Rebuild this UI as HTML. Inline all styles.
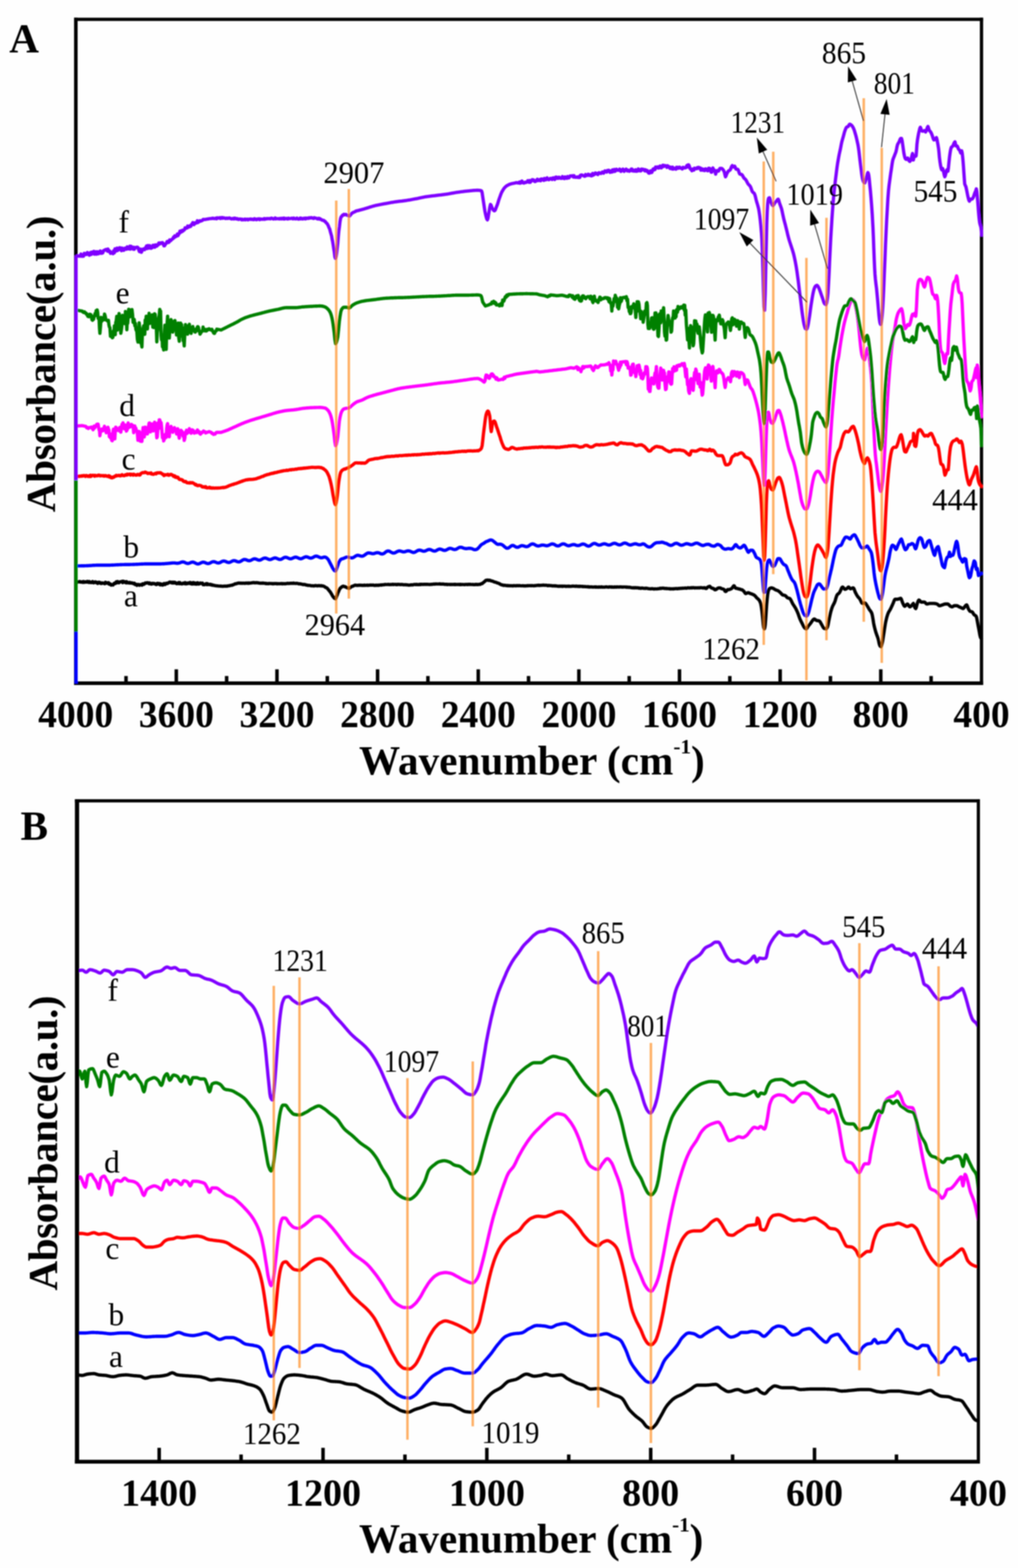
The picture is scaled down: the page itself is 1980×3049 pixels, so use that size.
<!DOCTYPE html>
<html lang="en"><head><meta charset="utf-8"><title>FTIR spectra</title>
<style>html,body{margin:0;padding:0;background:#fff}svg{display:block}</style></head>
<body>
<svg width="1980" height="3049" viewBox="0 0 1980 3049">
<rect width="1980" height="3049" fill="#fefefe"/>
<defs><filter id="soft" x="0" y="0" width="1980" height="3049" filterUnits="userSpaceOnUse"><feGaussianBlur stdDeviation="0.9"/></filter></defs>
<g filter="url(#soft)">
<defs><clipPath id="cA"><rect x="144.1" y="30" width="1768.1" height="1302"/></clipPath><clipPath id="cB"><rect x="146" y="1550" width="1760" height="1296"/></clipPath></defs>
<g id="plotA">
<g fill="#000"><rect x="144.05" y="34.45" width="6.90" height="1297.55"/><rect x="1905.80" y="34.45" width="6.40" height="1297.55"/><rect x="144.05" y="34.45" width="1768.15" height="6.30"/><rect x="144.05" y="1325.00" width="1768.15" height="7.00"/></g>
<line x1="245.1" y1="1328.5" x2="245.1" y2="1314.5" stroke="#000" stroke-width="6.8"/>
<line x1="342.9" y1="1328.5" x2="342.9" y2="1301.5" stroke="#000" stroke-width="6.8"/>
<line x1="440.8" y1="1328.5" x2="440.8" y2="1314.5" stroke="#000" stroke-width="6.8"/>
<line x1="538.7" y1="1328.5" x2="538.7" y2="1301.5" stroke="#000" stroke-width="6.8"/>
<line x1="636.6" y1="1328.5" x2="636.6" y2="1314.5" stroke="#000" stroke-width="6.8"/>
<line x1="734.4" y1="1328.5" x2="734.4" y2="1301.5" stroke="#000" stroke-width="6.8"/>
<line x1="832.3" y1="1328.5" x2="832.3" y2="1314.5" stroke="#000" stroke-width="6.8"/>
<line x1="930.2" y1="1328.5" x2="930.2" y2="1301.5" stroke="#000" stroke-width="6.8"/>
<line x1="1028.0" y1="1328.5" x2="1028.0" y2="1314.5" stroke="#000" stroke-width="6.8"/>
<line x1="1125.9" y1="1328.5" x2="1125.9" y2="1301.5" stroke="#000" stroke-width="6.8"/>
<line x1="1223.8" y1="1328.5" x2="1223.8" y2="1314.5" stroke="#000" stroke-width="6.8"/>
<line x1="1321.6" y1="1328.5" x2="1321.6" y2="1301.5" stroke="#000" stroke-width="6.8"/>
<line x1="1419.5" y1="1328.5" x2="1419.5" y2="1314.5" stroke="#000" stroke-width="6.8"/>
<line x1="1517.4" y1="1328.5" x2="1517.4" y2="1301.5" stroke="#000" stroke-width="6.8"/>
<line x1="1615.2" y1="1328.5" x2="1615.2" y2="1314.5" stroke="#000" stroke-width="6.8"/>
<line x1="1713.1" y1="1328.5" x2="1713.1" y2="1301.5" stroke="#000" stroke-width="6.8"/>
<line x1="1811.0" y1="1328.5" x2="1811.0" y2="1314.5" stroke="#000" stroke-width="6.8"/>
<g fill="none" clip-path="url(#cA)" stroke-width="6.4" stroke-linejoin="round" stroke-linecap="round">
<path d="M150.0 1131.7 L151.2 1131.8 L152.5 1131.5 L153.8 1131.2 L155.0 1130.7 L156.2 1131.8 L157.5 1131.4 L158.8 1132.1 L160.0 1131.2 L161.2 1132.3 L162.5 1130.8 L163.8 1132.4 L165.0 1132.2 L166.2 1131.2 L167.5 1131.6 L168.8 1132.0 L170.0 1130.6 L171.2 1131.7 L172.5 1132.5 L173.8 1130.9 L175.0 1132.6 L176.2 1132.3 L177.5 1132.9 L178.8 1131.5 L180.0 1130.9 L181.2 1133.1 L182.5 1133.3 L183.8 1132.3 L185.0 1131.4 L186.2 1131.8 L187.5 1133.2 L188.8 1132.3 L190.0 1134.4 L191.2 1133.3 L192.5 1132.2 L193.8 1133.6 L195.0 1132.8 L196.2 1134.6 L197.5 1134.5 L198.8 1133.4 L200.0 1133.8 L201.2 1134.0 L202.5 1134.4 L203.8 1135.0 L205.0 1132.2 L206.2 1133.3 L207.5 1134.1 L208.8 1133.3 L210.0 1134.3 L211.2 1133.1 L212.4 1136.1 L213.6 1135.8 L214.9 1135.4 L216.1 1137.7 L217.3 1137.2 L218.5 1137.1 L219.8 1137.5 L221.1 1135.3 L222.4 1134.1 L223.7 1134.8 L225.0 1133.6 L226.2 1131.3 L227.5 1133.4 L228.8 1130.9 L230.0 1131.7 L231.2 1133.2 L232.5 1132.2 L233.8 1131.2 L235.0 1131.3 L236.2 1131.3 L237.5 1130.4 L238.8 1133.0 L240.0 1130.2 L241.2 1131.3 L242.5 1132.3 L243.8 1131.3 L245.0 1133.2 L246.2 1131.1 L247.5 1133.4 L248.8 1133.3 L250.0 1132.8 L251.2 1133.6 L252.5 1132.5 L253.8 1133.8 L255.0 1133.9 L256.2 1133.3 L257.5 1133.6 L258.8 1134.7 L260.0 1134.4 L261.2 1134.0 L262.5 1136.5 L263.8 1135.7 L265.0 1136.8 L266.2 1138.2 L267.5 1136.7 L268.8 1136.5 L270.0 1136.9 L271.2 1138.2 L272.5 1137.3 L273.8 1136.6 L275.0 1136.8 L276.2 1137.8 L277.5 1135.3 L278.8 1135.2 L280.0 1136.2 L281.2 1135.0 L282.5 1133.6 L283.8 1134.0 L285.0 1133.9 L286.2 1132.9 L287.5 1133.7 L288.8 1133.5 L290.0 1135.1 L291.2 1133.7 L292.5 1134.8 L293.8 1135.9 L295.0 1135.8 L296.2 1134.3 L297.5 1135.1 L298.8 1134.4 L300.0 1134.7 L301.2 1135.1 L302.5 1136.1 L303.8 1136.7 L305.0 1134.9 L306.2 1134.3 L307.5 1135.7 L308.8 1134.7 L310.0 1134.8 L311.2 1137.1 L312.5 1135.3 L313.8 1137.1 L315.0 1136.1 L316.2 1137.7 L317.5 1137.3 L318.8 1134.6 L320.0 1134.7 L321.2 1136.5 L322.5 1135.1 L323.8 1134.1 L325.0 1134.8 L326.2 1134.5 L327.5 1133.2 L328.8 1133.0 L330.0 1131.8 L331.2 1132.6 L332.5 1132.0 L333.8 1133.5 L335.0 1133.5 L336.2 1132.2 L337.5 1133.7 L338.8 1132.2 L340.0 1132.3 L341.2 1134.0 L342.5 1133.6 L343.8 1135.0 L345.0 1134.2 L346.2 1134.5 L347.5 1132.8 L348.8 1135.0 L350.0 1132.8 L351.2 1134.4 L352.5 1135.2 L353.8 1135.2 L355.0 1135.2 L356.2 1133.9 L357.5 1134.6 L358.8 1134.9 L360.0 1132.9 L361.2 1135.3 L362.5 1135.2 L363.8 1133.8 L365.0 1134.8 L366.2 1133.8 L367.5 1133.3 L368.8 1134.6 L370.0 1132.7 L371.2 1134.9 L372.5 1135.5 L373.8 1133.4 L375.0 1135.4 L376.2 1132.9 L377.5 1135.3 L378.8 1133.6 L380.0 1135.7 L381.2 1134.2 L382.5 1135.8 L383.8 1133.2 L385.0 1133.4 L386.2 1135.7 L387.5 1135.2 L388.8 1135.0 L390.0 1133.6 L391.2 1134.1 L392.5 1134.8 L393.8 1133.9 L395.0 1136.9 L396.2 1136.3 L397.5 1137.0 L398.8 1136.4 L400.0 1135.4 L401.2 1134.8 L402.5 1136.9 L403.8 1135.2 L405.0 1136.6 L406.2 1136.6 L407.5 1136.9 L408.8 1136.1 L410.0 1136.5 L411.2 1137.6 L412.5 1137.1 L413.8 1138.1 L415.0 1137.9 L416.2 1138.3 L417.5 1138.5 L418.8 1138.9 L420.0 1139.0 L421.2 1139.1 L422.5 1139.2 L423.8 1139.4 L425.0 1139.6 L426.2 1139.6 L427.5 1139.6 L428.8 1139.7 L430.0 1139.7 L431.2 1139.9 L432.5 1140.1 L433.8 1140.0 L435.0 1139.8 L436.2 1139.9 L437.5 1139.8 L438.8 1139.8 L440.0 1139.6 L441.2 1139.9 L442.5 1139.4 L443.8 1139.2 L445.0 1139.1 L446.2 1138.8 L447.5 1138.7 L448.8 1138.1 L450.0 1138.1 L451.2 1138.1 L452.5 1137.2 L453.8 1137.1 L455.0 1136.5 L456.2 1135.8 L457.5 1135.3 L458.8 1135.4 L460.0 1134.6 L461.2 1134.6 L462.5 1134.0 L463.8 1134.0 L465.0 1133.7 L466.2 1134.0 L467.5 1134.2 L468.8 1133.8 L470.0 1134.0 L471.2 1134.3 L472.5 1133.9 L473.8 1134.0 L475.0 1134.2 L476.2 1134.3 L477.5 1133.8 L478.8 1134.1 L480.0 1133.7 L481.2 1133.7 L482.5 1134.3 L483.8 1133.5 L485.0 1134.0 L486.2 1133.8 L487.5 1133.6 L488.8 1133.5 L490.0 1133.4 L491.2 1133.0 L492.5 1133.0 L493.8 1132.8 L495.0 1133.3 L496.2 1133.2 L497.5 1133.3 L498.8 1132.9 L500.0 1133.3 L501.2 1133.1 L502.5 1133.6 L503.8 1133.7 L505.0 1134.0 L506.2 1133.9 L507.5 1134.0 L508.8 1134.1 L510.0 1133.7 L511.2 1134.1 L512.5 1133.8 L513.8 1134.1 L515.0 1134.1 L516.2 1134.7 L517.5 1134.2 L518.8 1134.9 L520.0 1135.0 L521.2 1134.7 L522.5 1135.0 L523.8 1134.5 L525.0 1134.6 L526.2 1134.6 L527.5 1134.7 L528.8 1134.6 L530.0 1135.2 L531.2 1134.7 L532.5 1135.1 L533.8 1134.8 L535.0 1134.7 L536.2 1134.9 L537.5 1134.8 L538.8 1135.3 L540.0 1134.9 L541.2 1135.1 L542.5 1135.0 L543.8 1135.1 L545.0 1135.0 L546.2 1134.8 L547.5 1134.7 L548.8 1135.3 L550.0 1134.8 L551.2 1135.0 L552.5 1135.2 L553.8 1135.0 L555.0 1135.2 L556.2 1135.0 L557.5 1134.7 L558.8 1134.3 L560.0 1134.6 L561.2 1134.4 L562.5 1134.6 L563.8 1134.3 L565.0 1134.3 L566.2 1134.3 L567.5 1134.0 L568.8 1134.3 L570.0 1134.3 L571.2 1133.8 L572.5 1134.4 L573.8 1134.4 L575.0 1134.5 L576.2 1134.3 L577.5 1134.4 L578.8 1134.5 L580.0 1134.8 L581.2 1135.4 L582.5 1135.2 L583.8 1135.2 L585.0 1135.6 L586.2 1135.7 L587.5 1136.2 L588.8 1136.5 L590.0 1136.8 L591.2 1136.4 L592.5 1136.8 L593.8 1136.8 L595.0 1137.5 L596.2 1137.7 L597.5 1137.7 L598.8 1138.2 L600.0 1138.1 L601.2 1138.4 L602.5 1138.4 L603.8 1138.5 L605.0 1139.1 L606.2 1139.1 L607.5 1139.0 L608.8 1139.2 L610.0 1139.1 L611.2 1139.2 L612.5 1138.7 L613.8 1138.7 L615.0 1138.7 L616.2 1139.1 L617.5 1139.2 L618.8 1138.8 L620.0 1139.0 L621.2 1138.7 L622.5 1139.1 L623.8 1139.2 L625.0 1138.7 L626.2 1139.4 L627.5 1139.5 L628.8 1139.5 L630.0 1140.1 L631.2 1140.6 L632.5 1141.7 L633.8 1142.5 L635.0 1142.8 L636.2 1143.7 L637.5 1145.2 L638.8 1146.8 L640.0 1148.3 L641.2 1149.8 L642.5 1151.2 L643.8 1153.5 L645.1 1155.6 L646.4 1158.1 L647.7 1160.0 L649.0 1161.7 L650.2 1163.0 L651.3 1163.7 L652.5 1164.3 L653.7 1162.5 L654.8 1159.2 L656.0 1156.8 L657.2 1153.1 L658.5 1150.4 L659.8 1147.1 L661.0 1144.7 L662.3 1143.3 L663.6 1142.3 L664.9 1140.9 L666.2 1140.4 L667.5 1139.7 L668.8 1140.4 L670.0 1140.4 L671.2 1141.3 L672.5 1141.3 L673.7 1142.1 L674.9 1142.7 L676.1 1143.3 L677.3 1143.5 L678.5 1144.0 L679.8 1143.9 L681.1 1142.5 L682.4 1141.7 L683.7 1140.4 L685.0 1140.3 L686.2 1139.9 L687.5 1139.2 L688.8 1138.6 L690.0 1138.0 L691.2 1137.8 L692.5 1138.1 L693.8 1138.2 L695.0 1138.3 L696.3 1138.3 L697.6 1138.0 L698.8 1137.8 L700.1 1138.0 L701.4 1137.9 L702.6 1138.0 L703.9 1138.3 L705.1 1138.0 L706.4 1138.3 L707.7 1138.2 L708.9 1137.7 L710.2 1138.2 L711.5 1138.1 L712.7 1138.1 L714.0 1137.7 L715.2 1138.3 L716.5 1138.0 L717.8 1138.0 L719.0 1137.8 L720.2 1137.7 L721.5 1137.7 L722.8 1137.8 L724.0 1137.9 L725.2 1137.8 L726.5 1137.7 L727.8 1138.2 L729.0 1138.1 L730.2 1138.3 L731.5 1137.8 L732.8 1138.2 L734.0 1138.1 L735.2 1137.7 L736.5 1138.2 L737.8 1137.8 L739.0 1137.5 L740.2 1137.4 L741.5 1137.8 L742.8 1137.2 L744.0 1137.2 L745.2 1137.1 L746.5 1136.9 L747.8 1137.0 L749.0 1136.4 L750.2 1136.6 L751.5 1136.6 L752.8 1136.6 L754.0 1136.6 L755.2 1136.3 L756.5 1136.6 L757.8 1136.8 L759.0 1136.5 L760.2 1136.6 L761.5 1136.7 L762.8 1136.3 L764.0 1136.3 L765.2 1136.8 L766.5 1136.4 L767.8 1136.4 L769.0 1136.4 L770.2 1136.8 L771.5 1136.5 L772.8 1136.8 L774.0 1136.3 L775.2 1136.4 L776.5 1136.6 L777.8 1136.5 L779.0 1136.8 L780.2 1136.7 L781.5 1136.5 L782.8 1136.6 L784.0 1137.0 L785.2 1137.1 L786.5 1137.0 L787.8 1137.1 L789.0 1137.0 L790.2 1137.2 L791.5 1137.3 L792.8 1137.4 L794.0 1137.6 L795.2 1137.7 L796.5 1137.6 L797.8 1137.6 L799.0 1137.2 L800.2 1137.3 L801.5 1137.3 L802.8 1137.4 L804.0 1136.8 L805.2 1136.6 L806.5 1136.5 L807.8 1136.7 L809.0 1136.9 L810.2 1136.3 L811.5 1136.7 L812.8 1136.6 L814.0 1136.8 L815.2 1136.8 L816.5 1136.2 L817.8 1136.7 L819.0 1136.2 L820.2 1136.2 L821.5 1136.4 L822.8 1136.5 L824.0 1136.2 L825.2 1136.3 L826.5 1136.3 L827.8 1136.2 L829.0 1136.2 L830.2 1136.2 L831.5 1136.3 L832.8 1136.4 L834.0 1136.4 L835.2 1136.6 L836.5 1136.5 L837.8 1136.4 L839.0 1136.2 L840.2 1136.3 L841.5 1136.0 L842.8 1135.9 L844.0 1135.7 L845.2 1136.0 L846.5 1135.6 L847.8 1135.5 L849.0 1135.6 L850.2 1135.6 L851.5 1135.6 L852.8 1135.6 L854.0 1135.6 L855.2 1135.3 L856.5 1135.8 L857.8 1135.8 L859.0 1135.6 L860.2 1135.7 L861.5 1135.9 L862.8 1135.6 L864.0 1136.1 L865.2 1136.4 L866.5 1136.1 L867.8 1136.3 L869.0 1136.2 L870.2 1136.7 L871.5 1136.4 L872.8 1136.4 L874.0 1136.6 L875.2 1136.4 L876.5 1136.8 L877.8 1136.4 L879.0 1136.6 L880.2 1136.4 L881.5 1136.6 L882.8 1136.5 L884.0 1136.2 L885.2 1136.8 L886.5 1136.3 L887.8 1136.6 L889.0 1136.6 L890.2 1136.5 L891.5 1136.4 L892.8 1136.5 L894.0 1136.8 L895.2 1136.2 L896.5 1136.8 L897.8 1136.6 L899.0 1136.5 L900.2 1136.6 L901.5 1136.6 L902.8 1136.7 L904.0 1136.8 L905.2 1136.5 L906.5 1136.4 L907.8 1136.4 L909.0 1136.8 L910.2 1136.5 L911.5 1136.2 L912.8 1136.6 L914.0 1136.2 L915.2 1136.4 L916.5 1136.6 L917.8 1136.6 L919.0 1136.5 L920.2 1136.7 L921.5 1136.6 L922.8 1136.8 L924.0 1136.7 L925.2 1136.3 L926.5 1136.7 L927.8 1136.4 L929.0 1136.8 L930.2 1136.6 L931.5 1136.4 L932.8 1136.2 L934.0 1136.4 L935.2 1135.6 L936.5 1134.8 L937.8 1134.8 L939.0 1133.7 L940.2 1132.8 L941.5 1131.6 L942.8 1130.7 L944.0 1129.3 L945.2 1128.4 L946.5 1128.3 L947.8 1128.0 L949.0 1127.9 L950.2 1128.7 L951.5 1128.3 L952.8 1128.4 L954.0 1128.8 L955.2 1129.6 L956.5 1129.6 L957.8 1130.0 L959.0 1130.5 L960.2 1131.0 L961.5 1131.7 L962.8 1132.0 L964.0 1132.2 L965.2 1132.5 L966.5 1133.4 L967.8 1133.6 L969.0 1134.0 L970.2 1134.3 L971.5 1135.4 L972.8 1135.7 L974.0 1136.6 L975.2 1137.0 L976.5 1137.5 L977.8 1137.4 L979.0 1138.3 L980.2 1138.4 L981.5 1138.0 L982.8 1138.1 L984.0 1138.6 L985.2 1138.7 L986.5 1138.5 L987.8 1139.1 L989.0 1138.6 L990.2 1139.0 L991.5 1139.0 L992.8 1138.9 L994.0 1139.1 L995.2 1139.0 L996.5 1139.2 L997.8 1139.2 L999.0 1138.7 L1000.2 1138.9 L1001.5 1139.0 L1002.8 1138.9 L1004.0 1139.1 L1005.2 1138.7 L1006.5 1138.7 L1007.8 1139.0 L1009.0 1138.8 L1010.2 1138.8 L1011.5 1138.9 L1012.8 1139.1 L1014.0 1139.1 L1015.2 1139.1 L1016.5 1139.0 L1017.8 1139.0 L1019.0 1139.3 L1020.2 1139.3 L1021.5 1139.3 L1022.8 1139.3 L1024.0 1139.1 L1025.2 1138.8 L1026.5 1139.1 L1027.8 1138.8 L1029.0 1138.9 L1030.2 1138.9 L1031.5 1138.7 L1032.8 1139.0 L1034.0 1138.8 L1035.2 1138.8 L1036.5 1138.9 L1037.8 1139.1 L1039.0 1139.0 L1040.2 1138.6 L1041.5 1138.8 L1042.8 1138.5 L1044.0 1138.4 L1045.2 1138.3 L1046.5 1138.2 L1047.8 1138.0 L1049.0 1138.5 L1050.2 1138.2 L1051.5 1138.2 L1052.8 1138.1 L1054.0 1138.0 L1055.2 1138.1 L1056.5 1137.7 L1057.8 1137.8 L1059.0 1138.1 L1060.2 1138.1 L1061.5 1137.9 L1062.8 1138.1 L1064.0 1138.2 L1065.2 1138.8 L1066.5 1138.8 L1067.8 1138.3 L1069.0 1138.6 L1070.2 1138.7 L1071.5 1138.6 L1072.8 1138.8 L1074.0 1139.3 L1075.2 1139.4 L1076.5 1139.0 L1077.8 1139.4 L1079.0 1139.0 L1080.2 1139.5 L1081.5 1139.2 L1082.8 1139.6 L1084.0 1139.7 L1085.2 1140.0 L1086.5 1139.8 L1087.8 1140.1 L1089.0 1139.7 L1090.2 1140.0 L1091.5 1139.8 L1092.8 1139.7 L1094.0 1140.3 L1095.2 1139.7 L1096.5 1139.9 L1097.8 1139.9 L1099.0 1139.8 L1100.2 1140.2 L1101.5 1140.2 L1102.8 1139.9 L1104.0 1140.0 L1105.2 1140.2 L1106.5 1139.7 L1107.8 1140.1 L1109.0 1140.2 L1110.2 1140.1 L1111.5 1140.0 L1112.8 1139.8 L1114.0 1139.8 L1115.2 1139.8 L1116.5 1139.9 L1117.8 1139.9 L1119.0 1140.2 L1120.2 1139.8 L1121.5 1139.8 L1122.8 1140.3 L1124.0 1140.1 L1125.2 1139.9 L1126.5 1140.5 L1127.8 1140.0 L1129.0 1140.2 L1130.2 1140.3 L1131.5 1140.4 L1132.8 1140.3 L1134.0 1140.8 L1135.2 1140.6 L1136.5 1140.5 L1137.8 1140.8 L1139.0 1140.7 L1140.2 1140.9 L1141.5 1141.0 L1142.8 1140.8 L1144.0 1141.3 L1145.2 1140.9 L1146.5 1141.5 L1147.8 1141.3 L1149.0 1141.4 L1150.2 1141.2 L1151.5 1141.5 L1152.8 1141.4 L1154.0 1141.6 L1155.2 1141.6 L1156.5 1141.2 L1157.8 1141.2 L1159.0 1141.8 L1160.2 1141.3 L1161.5 1141.6 L1162.8 1141.7 L1164.0 1141.7 L1165.2 1141.2 L1166.5 1141.6 L1167.8 1141.7 L1169.0 1141.2 L1170.2 1141.2 L1171.5 1141.8 L1172.8 1141.6 L1174.0 1141.6 L1175.2 1141.7 L1176.5 1141.6 L1177.8 1141.3 L1179.0 1141.3 L1180.2 1141.2 L1181.5 1141.6 L1182.8 1141.6 L1184.0 1141.8 L1185.2 1141.3 L1186.5 1141.3 L1187.8 1141.4 L1189.0 1141.8 L1190.2 1141.3 L1191.5 1141.8 L1192.8 1141.6 L1194.0 1141.7 L1195.2 1141.2 L1196.5 1141.7 L1197.8 1141.4 L1199.0 1141.7 L1200.2 1141.2 L1201.5 1141.4 L1202.8 1141.5 L1204.0 1141.3 L1205.2 1141.5 L1206.5 1141.2 L1207.8 1141.3 L1209.0 1141.6 L1210.2 1141.4 L1211.5 1141.8 L1212.8 1141.4 L1214.0 1141.4 L1215.2 1141.4 L1216.5 1141.6 L1217.8 1141.5 L1219.0 1142.0 L1220.2 1141.6 L1221.5 1141.9 L1222.8 1142.2 L1224.0 1141.9 L1225.2 1142.0 L1226.5 1142.4 L1227.8 1142.7 L1229.0 1142.8 L1230.2 1143.0 L1231.5 1143.0 L1232.8 1142.6 L1234.0 1143.3 L1235.2 1142.8 L1236.5 1142.8 L1237.8 1143.2 L1239.0 1142.9 L1240.2 1143.0 L1241.5 1143.2 L1242.8 1143.8 L1244.0 1143.4 L1245.2 1143.8 L1246.5 1144.0 L1247.8 1143.5 L1249.0 1143.5 L1250.2 1143.6 L1251.5 1144.0 L1252.8 1144.1 L1254.0 1143.9 L1255.2 1144.3 L1256.5 1143.8 L1257.8 1143.9 L1259.0 1144.2 L1260.2 1144.5 L1261.5 1144.7 L1262.8 1144.9 L1264.0 1144.9 L1265.2 1145.0 L1266.5 1144.8 L1267.8 1144.8 L1269.0 1144.6 L1270.2 1145.0 L1271.5 1145.3 L1272.8 1145.2 L1274.0 1145.0 L1275.2 1145.1 L1276.5 1145.1 L1277.8 1145.1 L1279.0 1144.8 L1280.2 1144.6 L1281.5 1144.7 L1282.8 1144.5 L1284.0 1143.8 L1285.2 1144.4 L1286.5 1143.9 L1287.7 1143.7 L1288.8 1143.9 L1290.0 1143.8 L1291.2 1143.8 L1292.3 1144.4 L1293.5 1144.2 L1294.7 1144.1 L1295.8 1144.6 L1297.0 1144.3 L1298.2 1144.5 L1299.5 1144.6 L1300.8 1144.6 L1302.0 1145.0 L1303.2 1144.7 L1304.5 1145.2 L1305.8 1145.0 L1307.0 1145.0 L1308.2 1144.9 L1309.5 1145.3 L1310.8 1144.8 L1312.0 1144.8 L1313.2 1144.7 L1314.5 1144.5 L1315.8 1144.4 L1317.0 1144.8 L1318.2 1144.8 L1319.5 1144.3 L1320.8 1144.3 L1322.0 1144.5 L1323.2 1143.9 L1324.5 1144.0 L1325.8 1144.2 L1327.0 1143.8 L1328.2 1143.8 L1329.5 1143.9 L1330.8 1143.6 L1332.0 1143.5 L1333.2 1143.3 L1334.5 1143.9 L1335.8 1143.7 L1337.0 1143.2 L1338.2 1143.0 L1339.5 1143.2 L1340.8 1143.2 L1342.0 1143.4 L1343.2 1143.0 L1344.5 1142.8 L1345.8 1143.3 L1347.0 1142.8 L1348.2 1142.8 L1349.5 1142.8 L1350.7 1143.3 L1351.9 1143.3 L1353.2 1142.9 L1354.4 1143.1 L1355.6 1143.2 L1356.9 1143.0 L1358.1 1143.2 L1359.3 1142.9 L1360.6 1143.2 L1361.8 1142.8 L1363.0 1142.8 L1364.3 1142.8 L1365.5 1142.9 L1366.7 1143.4 L1368.0 1142.9 L1369.2 1143.2 L1370.4 1142.8 L1371.5 1143.7 L1372.5 1144.1 L1373.5 1144.4 L1374.5 1144.0 L1375.6 1142.1 L1376.6 1141.7 L1377.9 1140.7 L1379.1 1140.9 L1380.4 1140.1 L1381.4 1140.9 L1382.5 1142.3 L1383.5 1143.1 L1384.8 1143.8 L1386.0 1143.6 L1387.3 1144.5 L1388.5 1144.6 L1389.6 1146.2 L1390.8 1146.9 L1391.9 1146.7 L1393.2 1146.1 L1394.5 1144.9 L1395.8 1144.0 L1397.0 1143.5 L1398.3 1143.1 L1399.6 1143.2 L1400.8 1143.3 L1401.9 1143.6 L1403.1 1144.7 L1404.2 1144.9 L1405.5 1145.1 L1406.8 1145.7 L1408.1 1146.0 L1409.1 1147.5 L1410.1 1149.5 L1411.1 1150.2 L1412.4 1149.8 L1413.7 1148.2 L1415.0 1146.7 L1416.1 1146.5 L1417.3 1146.6 L1418.4 1146.3 L1419.6 1146.0 L1420.7 1145.6 L1421.9 1145.0 L1423.0 1144.4 L1424.2 1143.0 L1425.2 1141.9 L1426.2 1140.0 L1427.3 1139.0 L1428.3 1139.6 L1429.3 1141.8 L1430.3 1143.4 L1431.5 1144.0 L1432.6 1144.0 L1433.8 1144.2 L1434.9 1144.8 L1436.1 1144.8 L1437.2 1145.4 L1438.4 1145.4 L1439.5 1145.7 L1440.8 1146.4 L1442.1 1146.6 L1443.4 1146.9 L1444.7 1147.8 L1445.9 1148.9 L1447.2 1150.3 L1448.2 1151.8 L1449.3 1153.4 L1450.3 1154.2 L1451.4 1153.9 L1452.6 1153.3 L1453.7 1152.8 L1454.9 1152.5 L1456.0 1152.7 L1457.2 1153.1 L1458.3 1153.7 L1459.5 1154.2 L1460.7 1154.5 L1461.8 1154.9 L1463.0 1155.3 L1464.1 1155.8 L1465.4 1156.4 L1466.7 1157.1 L1467.9 1158.0 L1469.2 1159.3 L1470.5 1160.9 L1471.8 1162.4 L1472.9 1163.5 L1474.1 1164.4 L1475.2 1165.5 L1476.4 1166.8 L1477.4 1168.4 L1478.4 1170.5 L1479.5 1173.4 L1480.6 1179.1 L1481.8 1187.2 L1482.8 1196.3 L1483.8 1206.4 L1484.5 1214.5 L1485.3 1220.2 L1486.1 1222.1 L1486.8 1222.9 L1487.6 1220.2 L1488.4 1214.7 L1489.3 1203.6 L1490.2 1189.9 L1491.1 1176.6 L1492.1 1165.2 L1493.1 1156.2 L1494.1 1150.3 L1495.2 1146.7 L1496.4 1144.8 L1497.6 1143.9 L1498.9 1143.4 L1500.2 1143.2 L1501.5 1143.3 L1502.8 1143.7 L1504.0 1144.2 L1505.2 1144.8 L1506.3 1145.6 L1507.5 1146.4 L1508.6 1147.0 L1509.8 1147.4 L1510.9 1147.8 L1512.1 1148.2 L1513.2 1148.7 L1514.4 1149.4 L1515.6 1150.4 L1516.7 1151.4 L1517.9 1152.5 L1519.0 1153.7 L1520.2 1155.0 L1521.3 1156.2 L1522.5 1156.9 L1523.6 1157.2 L1524.8 1157.5 L1525.9 1157.7 L1527.1 1158.0 L1528.2 1158.8 L1529.4 1160.1 L1530.5 1161.5 L1531.7 1162.4 L1532.8 1162.9 L1534.0 1163.2 L1535.1 1163.5 L1536.3 1164.0 L1537.4 1165.3 L1538.6 1167.3 L1539.8 1169.8 L1541.0 1172.3 L1542.1 1174.5 L1543.3 1176.3 L1544.4 1178.0 L1545.6 1179.8 L1546.7 1181.7 L1547.9 1183.7 L1549.0 1186.0 L1550.2 1188.4 L1551.3 1191.0 L1552.5 1194.0 L1553.6 1197.3 L1554.8 1200.7 L1555.9 1203.7 L1557.1 1206.2 L1558.2 1208.6 L1559.4 1210.8 L1560.5 1213.0 L1561.8 1215.7 L1563.1 1218.3 L1564.4 1220.2 L1565.7 1221.5 L1566.9 1222.5 L1568.2 1222.9 L1569.5 1221.8 L1570.8 1219.6 L1572.1 1217.4 L1573.3 1215.9 L1574.6 1214.5 L1575.9 1213.0 L1577.2 1211.2 L1578.5 1209.2 L1579.7 1207.5 L1581.0 1205.8 L1582.3 1204.3 L1583.6 1203.7 L1584.7 1204.0 L1585.9 1204.8 L1587.0 1205.8 L1588.2 1206.4 L1589.3 1206.7 L1590.3 1206.8 L1591.4 1207.0 L1592.5 1207.2 L1593.6 1207.5 L1594.7 1208.5 L1595.9 1210.4 L1597.0 1212.6 L1598.2 1214.7 L1599.3 1216.7 L1600.5 1218.8 L1601.6 1220.7 L1602.8 1221.8 L1604.1 1222.4 L1605.3 1222.7 L1606.6 1222.9 L1607.6 1222.3 L1608.7 1220.6 L1609.7 1218.5 L1610.7 1214.7 L1611.7 1209.1 L1612.8 1203.7 L1613.8 1198.8 L1614.8 1194.1 L1615.8 1189.9 L1616.9 1186.2 L1617.9 1182.9 L1618.9 1180.0 L1620.1 1177.4 L1621.2 1175.3 L1622.4 1173.1 L1623.5 1170.7 L1624.7 1167.2 L1625.8 1163.2 L1627.0 1159.5 L1628.1 1156.9 L1629.3 1155.5 L1630.4 1154.6 L1631.6 1153.7 L1632.7 1152.5 L1633.9 1150.4 L1635.2 1147.5 L1636.4 1144.6 L1637.6 1142.4 L1638.9 1141.5 L1640.0 1142.2 L1641.2 1143.7 L1642.3 1145.2 L1643.5 1145.9 L1644.8 1145.6 L1646.0 1145.0 L1647.3 1144.2 L1648.3 1143.3 L1649.4 1142.1 L1650.4 1141.5 L1651.7 1142.4 L1652.9 1143.9 L1654.2 1144.8 L1655.3 1144.6 L1656.4 1144.2 L1657.4 1143.7 L1658.5 1143.3 L1659.6 1143.2 L1660.9 1144.7 L1662.2 1148.1 L1663.4 1151.4 L1664.6 1153.6 L1665.7 1155.8 L1666.9 1157.9 L1668.0 1159.7 L1669.2 1161.1 L1670.3 1162.4 L1671.5 1163.7 L1672.6 1165.2 L1673.8 1167.4 L1675.0 1170.1 L1676.1 1172.4 L1677.3 1173.4 L1678.4 1173.2 L1679.6 1172.8 L1680.7 1172.5 L1681.9 1172.3 L1683.0 1172.9 L1684.2 1174.2 L1685.3 1176.0 L1686.5 1177.8 L1687.6 1179.6 L1688.8 1181.5 L1689.9 1183.6 L1691.1 1185.5 L1692.2 1187.1 L1693.4 1188.6 L1694.5 1190.3 L1695.7 1192.7 L1696.8 1197.2 L1698.0 1204.0 L1699.1 1211.3 L1700.3 1217.4 L1701.6 1222.5 L1702.8 1227.0 L1704.1 1231.2 L1705.4 1234.8 L1706.7 1238.3 L1708.0 1242.2 L1709.0 1246.6 L1710.0 1251.5 L1711.0 1254.8 L1712.2 1256.7 L1713.3 1257.5 L1714.5 1255.5 L1715.6 1251.5 L1716.7 1246.7 L1717.7 1240.4 L1718.7 1233.9 L1719.7 1227.5 L1720.7 1220.8 L1721.7 1214.5 L1722.7 1209.2 L1723.9 1204.1 L1725.0 1199.6 L1726.2 1195.8 L1727.3 1192.7 L1728.5 1190.2 L1729.6 1188.3 L1730.8 1186.4 L1731.9 1184.4 L1733.1 1182.0 L1734.2 1179.5 L1735.4 1177.0 L1736.5 1174.5 L1737.7 1171.7 L1738.8 1168.6 L1740.0 1166.2 L1741.1 1165.2 L1742.3 1165.2 L1743.4 1165.2 L1744.6 1165.2 L1745.7 1165.2 L1747.0 1165.0 L1748.2 1164.6 L1749.4 1164.1 L1750.7 1163.7 L1751.9 1163.5 L1753.2 1165.2 L1754.4 1168.9 L1755.7 1172.3 L1757.0 1175.1 L1758.3 1177.7 L1759.6 1178.9 L1760.6 1178.4 L1761.7 1177.4 L1762.8 1176.0 L1763.9 1175.0 L1764.9 1174.5 L1766.1 1175.4 L1767.2 1177.2 L1768.4 1179.1 L1769.5 1180.0 L1770.7 1179.6 L1771.9 1178.7 L1773.0 1177.4 L1774.2 1176.2 L1775.3 1174.5 L1776.5 1173.4 L1777.6 1176.2 L1778.8 1180.0 L1779.9 1182.2 L1781.1 1183.3 L1782.1 1181.3 L1783.1 1177.1 L1784.1 1173.4 L1785.2 1170.5 L1786.2 1167.9 L1787.2 1166.8 L1788.4 1167.4 L1789.5 1168.7 L1790.7 1170.0 L1791.8 1170.7 L1793.0 1170.7 L1794.3 1170.7 L1795.5 1170.7 L1796.7 1170.7 L1798.0 1170.7 L1799.1 1171.3 L1800.3 1172.6 L1801.4 1173.9 L1802.6 1174.5 L1803.8 1174.4 L1805.0 1174.1 L1806.2 1173.8 L1807.5 1173.5 L1808.7 1173.4 L1810.0 1173.4 L1811.3 1173.4 L1812.5 1173.4 L1813.8 1173.4 L1815.1 1173.4 L1816.4 1173.4 L1817.6 1173.5 L1818.8 1173.6 L1820.1 1173.9 L1821.3 1174.2 L1822.5 1174.5 L1823.7 1175.2 L1824.8 1176.3 L1826.0 1177.3 L1827.1 1177.8 L1828.4 1177.7 L1829.6 1177.4 L1830.8 1177.0 L1832.0 1176.5 L1833.3 1176.2 L1834.4 1175.8 L1835.4 1175.3 L1836.5 1174.9 L1837.6 1174.6 L1838.7 1174.5 L1839.8 1174.5 L1841.0 1174.5 L1842.1 1174.5 L1843.3 1174.5 L1844.3 1174.9 L1845.4 1175.8 L1846.5 1177.0 L1847.6 1178.1 L1848.6 1178.9 L1849.7 1179.4 L1850.7 1179.8 L1851.7 1180.0 L1852.9 1179.7 L1854.0 1178.9 L1855.2 1178.1 L1856.3 1177.8 L1857.5 1177.8 L1858.6 1177.8 L1859.8 1177.8 L1860.9 1177.8 L1862.1 1178.0 L1863.2 1178.6 L1864.4 1179.4 L1865.5 1180.0 L1866.8 1180.6 L1868.1 1181.1 L1869.4 1181.7 L1870.6 1182.3 L1871.9 1183.0 L1873.2 1183.3 L1874.5 1182.4 L1875.8 1180.6 L1877.0 1178.9 L1878.1 1177.7 L1879.1 1176.6 L1880.1 1176.2 L1881.1 1177.6 L1882.2 1180.6 L1883.2 1183.3 L1884.5 1185.6 L1885.7 1187.6 L1887.0 1188.8 L1888.3 1189.2 L1889.6 1189.5 L1890.9 1189.9 L1892.1 1191.3 L1893.4 1193.6 L1894.7 1195.4 L1896.0 1196.3 L1897.3 1197.0 L1898.5 1198.2 L1899.6 1201.2 L1900.6 1206.4 L1901.6 1211.9 L1902.6 1217.3 L1903.7 1222.9 L1904.7 1228.4 L1905.8 1234.7 L1907.0 1239.4 L1908.0 1241.0 L1909.0 1242.2" stroke="#000000"/>
<path d="M150.0 1100.5 L151.2 1100.5 L152.5 1100.4 L153.8 1100.4 L155.0 1100.4 L156.2 1100.4 L157.5 1100.3 L158.8 1100.3 L160.0 1100.3 L161.2 1100.2 L162.5 1100.2 L163.8 1100.2 L165.0 1100.1 L166.2 1100.1 L167.5 1100.1 L168.8 1100.0 L170.0 1100.0 L171.2 1100.0 L172.5 1099.9 L173.8 1099.8 L175.0 1099.8 L176.2 1099.7 L177.5 1099.6 L178.8 1099.5 L180.0 1099.4 L181.2 1099.3 L182.5 1099.3 L183.8 1099.2 L185.0 1099.1 L186.2 1099.1 L187.5 1099.0 L188.8 1099.0 L190.0 1099.0 L191.2 1099.0 L192.5 1099.0 L193.8 1099.0 L195.0 1099.0 L196.2 1099.0 L197.5 1099.0 L198.8 1099.0 L200.0 1099.0 L201.2 1099.0 L202.5 1099.0 L203.8 1099.0 L205.0 1099.0 L206.2 1099.0 L207.5 1099.0 L208.8 1099.0 L210.0 1099.0 L211.2 1099.0 L212.5 1099.0 L213.8 1099.0 L215.0 1098.9 L216.2 1098.9 L217.5 1098.8 L218.8 1098.8 L220.0 1098.7 L221.2 1098.6 L222.5 1098.6 L223.8 1098.5 L225.0 1098.4 L226.2 1098.4 L227.5 1098.3 L228.8 1098.2 L230.0 1098.2 L231.2 1098.1 L232.5 1098.1 L233.8 1098.0 L235.0 1098.0 L236.2 1098.0 L237.5 1097.9 L238.8 1097.9 L240.0 1097.9 L241.2 1097.9 L242.5 1097.8 L243.8 1097.8 L245.0 1097.8 L246.2 1097.8 L247.5 1097.7 L248.8 1097.7 L250.0 1097.7 L251.2 1097.7 L252.5 1097.7 L253.8 1097.6 L255.0 1097.6 L256.2 1097.6 L257.5 1097.6 L258.8 1097.5 L260.0 1097.5 L261.2 1097.5 L262.5 1097.4 L263.8 1097.4 L265.0 1097.3 L266.2 1097.2 L267.5 1097.2 L268.8 1097.1 L270.0 1097.1 L271.2 1097.0 L272.5 1096.9 L273.8 1096.9 L275.0 1096.8 L276.2 1096.7 L277.5 1096.7 L278.8 1096.6 L280.0 1096.6 L281.2 1096.5 L282.5 1096.5 L283.8 1096.5 L285.0 1096.5 L286.2 1096.5 L287.5 1096.5 L288.8 1096.5 L290.0 1096.5 L291.2 1096.5 L292.5 1096.5 L293.8 1096.5 L295.0 1096.5 L296.2 1096.5 L297.5 1096.5 L298.8 1096.5 L300.0 1096.5 L301.2 1096.5 L302.5 1096.5 L303.8 1096.5 L305.0 1096.5 L306.2 1096.5 L307.5 1096.5 L308.8 1096.5 L310.0 1096.5 L311.2 1096.5 L312.5 1096.5 L313.8 1096.4 L315.0 1096.4 L316.2 1096.3 L317.5 1096.3 L318.8 1096.2 L320.0 1096.1 L321.2 1096.0 L322.5 1095.9 L323.8 1095.8 L325.0 1095.7 L326.2 1095.6 L327.5 1095.5 L328.8 1095.4 L330.0 1095.3 L331.2 1095.2 L332.5 1095.0 L333.8 1094.9 L335.0 1094.7 L336.2 1094.6 L337.5 1094.6 L338.8 1094.6 L340.0 1094.7 L341.2 1094.9 L342.5 1095.1 L343.8 1095.2 L345.0 1095.3 L346.2 1095.2 L347.5 1095.0 L348.8 1094.7 L350.0 1094.2 L351.2 1093.8 L352.5 1093.3 L353.8 1092.9 L355.0 1092.7 L356.2 1092.7 L357.5 1093.0 L358.8 1093.4 L360.0 1094.0 L361.2 1094.6 L362.5 1095.2 L363.8 1095.5 L365.0 1095.7 L366.2 1095.6 L367.5 1095.3 L368.8 1094.9 L370.0 1094.4 L371.2 1093.8 L372.5 1093.4 L373.8 1093.1 L375.0 1093.0 L376.2 1093.2 L377.5 1093.7 L378.8 1094.2 L380.0 1094.9 L381.2 1095.6 L382.5 1096.1 L383.8 1096.5 L385.0 1096.6 L386.2 1096.5 L387.5 1096.1 L388.8 1095.6 L390.0 1094.9 L391.2 1094.3 L392.5 1093.7 L393.8 1093.3 L395.0 1093.2 L396.2 1093.2 L397.5 1093.5 L398.8 1094.0 L400.0 1094.5 L401.2 1095.1 L402.5 1095.5 L403.8 1095.8 L405.0 1095.9 L406.2 1095.7 L407.5 1095.3 L408.8 1094.7 L410.0 1094.0 L411.2 1093.3 L412.5 1092.7 L413.8 1092.3 L415.0 1092.1 L416.2 1092.2 L417.5 1092.4 L418.8 1092.9 L420.0 1093.4 L421.2 1093.9 L422.5 1094.4 L423.8 1094.6 L425.0 1094.7 L426.2 1094.5 L427.5 1094.1 L428.8 1093.5 L430.0 1092.8 L431.2 1092.1 L432.5 1091.5 L433.8 1091.1 L435.0 1090.9 L436.2 1091.0 L437.5 1091.3 L438.8 1091.7 L440.0 1092.3 L441.2 1092.9 L442.5 1093.3 L443.8 1093.6 L445.0 1093.7 L446.2 1093.6 L447.5 1093.2 L448.8 1092.6 L450.0 1092.0 L451.2 1091.3 L452.5 1090.7 L453.8 1090.3 L455.0 1090.2 L456.2 1090.2 L457.5 1090.5 L458.8 1091.0 L460.0 1091.5 L461.2 1092.0 L462.5 1092.4 L463.8 1092.6 L465.0 1092.6 L466.2 1092.3 L467.5 1091.8 L468.8 1091.1 L470.0 1090.3 L471.2 1089.5 L472.5 1088.8 L473.8 1088.2 L475.0 1087.9 L476.2 1087.9 L477.5 1088.1 L478.8 1088.5 L480.0 1089.0 L481.2 1089.5 L482.5 1090.0 L483.8 1090.2 L485.0 1090.3 L486.2 1090.1 L487.5 1089.7 L488.8 1089.1 L490.0 1088.5 L491.2 1087.8 L492.5 1087.2 L493.8 1086.8 L495.0 1086.7 L496.2 1086.7 L497.5 1087.0 L498.8 1087.5 L500.0 1088.0 L501.2 1088.5 L502.5 1089.0 L503.8 1089.2 L505.0 1089.2 L506.2 1089.0 L507.5 1088.5 L508.8 1087.8 L510.0 1087.1 L511.2 1086.4 L512.5 1085.7 L513.8 1085.3 L515.0 1085.1 L516.2 1085.1 L517.5 1085.4 L518.8 1085.9 L520.0 1086.5 L521.2 1087.1 L522.5 1087.6 L523.8 1088.0 L525.0 1088.1 L526.2 1088.0 L527.5 1087.6 L528.8 1087.1 L530.0 1086.5 L531.2 1085.9 L532.5 1085.4 L533.8 1085.0 L535.0 1084.9 L536.2 1085.0 L537.5 1085.4 L538.8 1085.9 L540.0 1086.5 L541.2 1087.1 L542.5 1087.6 L543.8 1087.8 L545.0 1087.9 L546.2 1087.6 L547.5 1087.2 L548.8 1086.5 L550.0 1085.8 L551.2 1085.0 L552.5 1084.3 L553.8 1083.9 L555.0 1083.6 L556.2 1083.7 L557.5 1083.9 L558.8 1084.4 L560.0 1085.0 L561.2 1085.6 L562.5 1086.1 L563.8 1086.5 L565.0 1086.6 L566.2 1086.5 L567.5 1086.1 L568.8 1085.6 L570.0 1085.0 L571.2 1084.4 L572.5 1083.9 L573.8 1083.5 L575.0 1083.4 L576.2 1083.5 L577.5 1083.9 L578.8 1084.4 L580.0 1085.0 L581.2 1085.6 L582.5 1086.1 L583.8 1086.4 L585.0 1086.5 L586.2 1086.3 L587.5 1085.9 L588.8 1085.3 L590.0 1084.6 L591.2 1084.0 L592.5 1083.4 L593.8 1082.9 L595.0 1082.7 L596.2 1082.8 L597.5 1083.0 L598.8 1083.5 L600.0 1084.0 L601.2 1084.5 L602.5 1085.0 L603.8 1085.2 L605.0 1085.2 L606.2 1085.0 L607.5 1084.5 L608.8 1083.9 L610.0 1083.2 L611.2 1082.5 L612.5 1081.9 L613.8 1081.5 L615.0 1081.4 L616.2 1081.5 L617.5 1081.9 L618.8 1082.4 L620.0 1083.0 L621.2 1083.6 L622.5 1084.1 L623.8 1084.5 L625.0 1084.6 L626.2 1084.5 L627.5 1084.1 L628.8 1083.7 L630.0 1083.4 L631.2 1083.3 L632.5 1083.4 L633.8 1083.8 L635.0 1084.5 L636.2 1085.6 L637.5 1086.9 L638.8 1088.6 L640.0 1090.8 L641.2 1093.2 L642.5 1095.8 L643.8 1098.3 L645.0 1100.6 L646.2 1102.9 L647.5 1105.4 L648.8 1107.5 L650.0 1109.0 L651.2 1110.0 L652.5 1110.4 L653.7 1108.8 L654.8 1105.7 L656.0 1102.5 L657.0 1099.7 L658.0 1096.5 L659.0 1093.5 L660.0 1091.5 L661.2 1089.8 L662.5 1088.2 L663.8 1087.1 L665.0 1086.6 L666.2 1086.5 L667.5 1086.1 L668.8 1085.6 L670.0 1085.0 L671.2 1084.4 L672.5 1083.9 L673.8 1083.5 L675.0 1083.2 L676.2 1083.2 L677.5 1083.3 L678.8 1083.6 L680.0 1084.0 L681.2 1084.4 L682.5 1084.8 L683.8 1084.9 L685.0 1084.8 L686.2 1084.5 L687.5 1083.9 L688.8 1083.2 L690.0 1082.4 L691.2 1081.5 L692.5 1080.8 L693.8 1080.2 L695.0 1079.9 L696.3 1079.8 L697.5 1080.0 L698.8 1080.3 L700.1 1080.7 L701.4 1081.1 L702.6 1081.4 L703.9 1081.5 L705.2 1081.4 L706.5 1081.0 L707.7 1080.3 L709.0 1079.5 L710.2 1078.6 L711.5 1077.6 L712.8 1076.7 L714.0 1076.0 L715.2 1075.4 L716.5 1075.2 L717.8 1075.1 L719.0 1075.3 L720.2 1075.6 L721.5 1075.9 L722.8 1076.3 L724.0 1076.5 L725.2 1076.6 L726.5 1076.5 L727.8 1076.3 L729.0 1075.9 L730.2 1075.4 L731.5 1075.0 L732.8 1074.7 L734.0 1074.6 L735.2 1074.7 L736.5 1075.0 L737.8 1075.4 L739.0 1076.0 L740.2 1076.6 L741.5 1077.0 L742.8 1077.2 L744.0 1077.1 L745.2 1076.8 L746.5 1076.2 L747.8 1075.4 L749.0 1074.4 L750.2 1073.4 L751.5 1072.5 L752.8 1071.9 L754.0 1071.5 L755.2 1071.4 L756.5 1071.6 L757.8 1072.1 L759.0 1072.8 L760.2 1073.5 L761.5 1074.2 L762.8 1074.8 L764.0 1075.3 L765.2 1075.4 L766.5 1075.4 L767.8 1075.0 L769.0 1074.5 L770.2 1073.8 L771.5 1073.1 L772.8 1072.4 L774.0 1071.8 L775.2 1071.5 L776.5 1071.3 L777.8 1071.4 L779.0 1071.7 L780.2 1072.0 L781.5 1072.4 L782.8 1072.8 L784.0 1073.0 L785.2 1073.1 L786.5 1073.0 L787.8 1072.8 L789.0 1072.4 L790.2 1071.9 L791.5 1071.5 L792.8 1071.2 L794.0 1071.1 L795.2 1071.2 L796.5 1071.5 L797.8 1071.9 L799.0 1072.5 L800.2 1073.1 L801.5 1073.6 L802.8 1074.1 L804.0 1074.2 L805.2 1074.2 L806.5 1073.9 L807.8 1073.3 L809.0 1072.6 L810.2 1071.8 L811.5 1071.1 L812.8 1070.4 L814.0 1070.0 L815.2 1069.8 L816.5 1069.8 L817.8 1070.0 L819.0 1070.4 L820.2 1070.8 L821.5 1071.3 L822.8 1071.6 L824.0 1071.8 L825.2 1071.8 L826.5 1071.5 L827.8 1071.1 L829.0 1070.5 L830.2 1069.9 L831.5 1069.3 L832.8 1068.8 L834.0 1068.5 L835.2 1068.4 L836.5 1068.6 L837.8 1069.0 L839.0 1069.5 L840.2 1070.1 L841.5 1070.7 L842.8 1071.2 L844.0 1071.5 L845.2 1071.6 L846.5 1071.4 L847.8 1070.9 L849.0 1070.3 L850.2 1069.6 L851.5 1068.9 L852.8 1068.3 L854.0 1067.9 L855.2 1067.7 L856.5 1067.8 L857.8 1068.1 L859.0 1068.5 L860.2 1069.0 L861.5 1069.6 L862.8 1070.0 L864.0 1070.2 L865.2 1070.2 L866.5 1070.0 L867.8 1069.5 L869.0 1068.9 L870.2 1068.2 L871.5 1067.5 L872.8 1066.9 L874.0 1066.5 L875.2 1066.3 L876.5 1066.4 L877.8 1066.6 L879.0 1067.1 L880.2 1067.5 L881.5 1068.0 L882.8 1068.4 L884.0 1068.5 L885.2 1068.5 L886.5 1068.2 L887.8 1067.7 L889.0 1067.0 L890.2 1066.2 L891.5 1065.5 L892.8 1064.8 L894.0 1064.4 L895.2 1064.1 L896.5 1064.1 L897.8 1064.4 L899.0 1064.8 L900.2 1065.3 L901.5 1065.8 L902.8 1066.2 L904.0 1066.5 L905.2 1066.7 L906.5 1066.7 L907.8 1066.7 L909.0 1066.6 L910.2 1066.4 L911.5 1066.2 L912.8 1066.1 L914.0 1066.2 L915.2 1066.3 L916.5 1066.6 L917.8 1066.9 L919.0 1067.4 L920.2 1068.0 L921.5 1068.5 L922.8 1068.8 L924.0 1068.9 L925.2 1068.8 L926.5 1068.4 L927.8 1067.8 L929.0 1067.0 L930.2 1065.9 L931.5 1064.5 L932.8 1063.0 L934.0 1061.5 L935.2 1060.2 L936.5 1059.0 L937.8 1058.1 L939.0 1057.5 L940.2 1056.9 L941.5 1056.1 L942.8 1055.2 L944.0 1054.2 L945.2 1053.4 L946.5 1052.9 L947.8 1052.5 L949.0 1052.0 L950.2 1051.4 L951.5 1050.8 L952.8 1050.3 L954.0 1050.0 L955.2 1050.0 L956.5 1050.3 L957.8 1050.9 L959.0 1051.8 L960.2 1052.7 L961.5 1053.7 L962.8 1054.8 L964.0 1055.9 L965.2 1056.9 L966.5 1057.8 L967.8 1058.3 L969.0 1058.5 L970.2 1058.4 L971.5 1058.3 L972.8 1058.3 L974.0 1058.4 L975.2 1058.7 L976.5 1059.3 L977.8 1060.0 L979.0 1061.0 L980.2 1062.1 L981.5 1063.3 L982.8 1064.3 L984.0 1065.2 L985.2 1065.8 L986.5 1066.0 L987.8 1065.9 L989.0 1065.5 L990.2 1064.7 L991.5 1063.7 L992.8 1062.7 L994.0 1061.7 L995.2 1061.0 L996.5 1060.6 L997.8 1060.6 L999.0 1061.0 L1000.2 1061.7 L1001.5 1062.5 L1002.8 1063.2 L1004.0 1063.8 L1005.2 1064.1 L1006.5 1064.2 L1007.8 1064.0 L1009.0 1063.5 L1010.2 1062.9 L1011.5 1062.2 L1012.8 1061.6 L1014.0 1061.2 L1015.2 1061.0 L1016.5 1061.1 L1017.8 1061.3 L1019.0 1061.7 L1020.2 1062.1 L1021.5 1062.6 L1022.8 1062.9 L1024.0 1063.0 L1025.2 1062.9 L1026.5 1062.5 L1027.8 1061.9 L1029.0 1061.1 L1030.2 1060.2 L1031.5 1059.3 L1032.8 1058.5 L1034.0 1058.0 L1035.2 1057.7 L1036.5 1057.7 L1037.8 1058.0 L1039.0 1058.5 L1040.2 1059.2 L1041.5 1059.9 L1042.8 1060.6 L1044.0 1061.2 L1045.2 1061.5 L1046.5 1061.7 L1047.8 1061.6 L1049.0 1061.3 L1050.2 1061.0 L1051.5 1060.6 L1052.8 1060.2 L1054.0 1060.0 L1055.2 1059.9 L1056.5 1059.9 L1057.8 1060.1 L1059.0 1060.4 L1060.2 1060.7 L1061.5 1061.0 L1062.8 1061.2 L1064.0 1061.2 L1065.2 1061.0 L1066.5 1060.6 L1067.8 1060.1 L1069.0 1059.5 L1070.2 1058.9 L1071.5 1058.3 L1072.8 1057.9 L1074.0 1057.7 L1075.2 1057.8 L1076.5 1058.1 L1077.8 1058.6 L1079.0 1059.2 L1080.2 1060.0 L1081.5 1060.7 L1082.8 1061.2 L1084.0 1061.5 L1085.2 1061.6 L1086.5 1061.4 L1087.8 1060.9 L1089.0 1060.2 L1090.2 1059.5 L1091.5 1058.8 L1092.8 1058.2 L1094.0 1057.7 L1095.2 1057.6 L1096.5 1057.6 L1097.8 1058.0 L1099.0 1058.5 L1100.2 1059.2 L1101.5 1059.8 L1102.8 1060.5 L1104.0 1060.9 L1105.2 1061.2 L1106.5 1061.2 L1107.8 1061.0 L1109.0 1060.6 L1110.2 1060.1 L1111.5 1059.7 L1112.8 1059.3 L1114.0 1059.0 L1115.2 1058.9 L1116.5 1059.0 L1117.8 1059.2 L1119.0 1059.6 L1120.2 1060.1 L1121.5 1060.5 L1122.8 1060.8 L1124.0 1060.9 L1125.2 1060.8 L1126.5 1060.5 L1127.8 1060.1 L1129.0 1059.5 L1130.2 1058.9 L1131.5 1058.4 L1132.8 1058.0 L1134.0 1057.9 L1135.2 1058.0 L1136.5 1058.3 L1137.8 1058.9 L1139.0 1059.6 L1140.2 1060.4 L1141.5 1061.1 L1142.8 1061.7 L1144.0 1062.0 L1145.2 1062.0 L1146.5 1061.7 L1147.8 1061.1 L1149.0 1060.3 L1150.2 1059.4 L1151.5 1058.5 L1152.8 1057.7 L1154.0 1057.1 L1155.2 1056.8 L1156.5 1056.8 L1157.8 1057.0 L1159.0 1057.5 L1160.2 1058.1 L1161.5 1058.8 L1162.8 1059.4 L1164.0 1059.8 L1165.2 1060.0 L1166.5 1059.9 L1167.8 1059.7 L1169.0 1059.2 L1170.2 1058.7 L1171.5 1058.2 L1172.8 1057.8 L1174.0 1057.5 L1175.2 1057.4 L1176.5 1057.5 L1177.8 1057.8 L1179.0 1058.2 L1180.2 1058.7 L1181.5 1059.2 L1182.8 1059.6 L1184.0 1059.8 L1185.2 1059.8 L1186.5 1059.5 L1187.8 1059.1 L1189.0 1058.5 L1190.2 1057.9 L1191.5 1057.3 L1192.8 1056.8 L1194.0 1056.5 L1195.2 1056.4 L1196.5 1056.6 L1197.8 1057.0 L1199.0 1057.5 L1200.2 1058.1 L1201.5 1058.7 L1202.8 1059.2 L1204.0 1059.5 L1205.2 1059.6 L1206.5 1059.4 L1207.8 1059.0 L1209.0 1058.4 L1210.2 1057.7 L1211.5 1057.0 L1212.8 1056.5 L1214.0 1056.1 L1215.2 1056.0 L1216.5 1056.1 L1217.8 1056.5 L1219.0 1057.0 L1220.2 1057.7 L1221.5 1058.3 L1222.8 1059.0 L1224.0 1059.4 L1225.2 1059.7 L1226.5 1059.7 L1227.8 1059.5 L1229.0 1059.1 L1230.2 1058.6 L1231.5 1058.2 L1232.8 1057.8 L1234.0 1057.5 L1235.2 1057.4 L1236.5 1057.5 L1237.8 1057.7 L1239.0 1058.1 L1240.2 1058.6 L1241.5 1059.0 L1242.8 1059.3 L1244.0 1059.4 L1245.2 1059.3 L1246.5 1059.0 L1247.8 1058.6 L1249.0 1058.0 L1250.2 1057.6 L1251.5 1057.6 L1252.8 1058.0 L1254.0 1058.7 L1255.2 1059.7 L1256.5 1060.7 L1257.8 1061.7 L1259.0 1062.5 L1260.2 1063.1 L1261.5 1063.5 L1262.8 1063.7 L1264.0 1063.6 L1265.2 1063.3 L1266.5 1062.6 L1267.8 1061.7 L1269.0 1060.6 L1270.2 1059.4 L1271.5 1058.3 L1272.8 1057.3 L1274.0 1056.5 L1275.2 1055.9 L1276.5 1055.5 L1277.8 1055.2 L1279.0 1055.1 L1280.2 1055.1 L1281.5 1055.0 L1282.8 1055.0 L1284.0 1054.9 L1285.2 1054.7 L1286.5 1054.4 L1287.6 1054.3 L1288.8 1054.5 L1289.9 1054.8 L1291.1 1055.3 L1292.2 1055.7 L1293.4 1056.1 L1294.5 1056.4 L1295.8 1056.7 L1297.0 1057.2 L1298.2 1057.9 L1299.5 1058.6 L1300.8 1059.3 L1302.0 1059.9 L1303.2 1060.3 L1304.5 1060.5 L1305.8 1060.4 L1307.0 1060.0 L1308.2 1059.5 L1309.5 1058.8 L1310.8 1058.0 L1312.0 1057.3 L1313.2 1056.8 L1314.5 1056.5 L1315.8 1056.5 L1317.0 1056.7 L1318.2 1057.2 L1319.5 1057.8 L1320.8 1058.5 L1322.0 1059.2 L1323.2 1059.7 L1324.5 1060.1 L1325.8 1060.2 L1327.0 1060.0 L1328.2 1059.7 L1329.5 1059.2 L1330.8 1058.6 L1332.0 1058.1 L1333.2 1057.6 L1334.5 1057.3 L1335.8 1057.2 L1337.0 1057.3 L1338.2 1057.6 L1339.5 1058.0 L1340.8 1058.4 L1342.0 1058.8 L1343.2 1059.1 L1344.5 1059.2 L1345.8 1059.1 L1347.0 1058.8 L1348.2 1058.3 L1349.5 1057.8 L1350.8 1057.2 L1352.0 1056.6 L1353.2 1056.2 L1354.5 1056.1 L1355.8 1056.1 L1357.0 1056.4 L1358.2 1057.0 L1359.5 1057.6 L1360.8 1058.3 L1362.0 1058.9 L1363.2 1059.5 L1364.4 1060.1 L1365.6 1060.5 L1366.8 1060.7 L1368.0 1060.7 L1369.2 1060.4 L1370.4 1059.9 L1371.6 1059.4 L1372.7 1059.0 L1373.9 1058.7 L1375.0 1058.6 L1376.2 1058.5 L1377.3 1058.4 L1378.5 1058.5 L1379.6 1058.9 L1380.9 1059.6 L1382.1 1060.3 L1383.3 1061.0 L1384.6 1061.4 L1385.8 1061.7 L1386.9 1061.9 L1388.1 1062.0 L1389.2 1062.0 L1390.4 1061.6 L1391.6 1060.8 L1392.9 1060.0 L1394.1 1059.2 L1395.3 1058.7 L1396.5 1058.7 L1397.7 1059.1 L1398.8 1059.6 L1400.0 1060.2 L1401.1 1060.7 L1402.3 1061.7 L1403.4 1063.2 L1404.6 1064.7 L1405.8 1065.8 L1407.0 1066.5 L1408.2 1067.2 L1409.4 1067.6 L1410.7 1067.9 L1411.9 1067.8 L1413.1 1067.5 L1414.4 1067.1 L1415.6 1066.9 L1416.8 1066.8 L1418.0 1066.9 L1419.2 1067.1 L1420.3 1067.3 L1421.5 1067.5 L1422.6 1067.5 L1423.9 1067.1 L1425.2 1066.0 L1426.5 1064.7 L1427.6 1063.2 L1428.8 1061.3 L1429.9 1059.7 L1431.1 1059.1 L1432.4 1060.0 L1433.6 1061.9 L1434.9 1063.4 L1436.1 1064.2 L1437.2 1064.9 L1438.4 1065.4 L1439.5 1065.6 L1440.8 1065.2 L1442.1 1064.4 L1443.4 1063.4 L1444.7 1062.2 L1445.9 1060.8 L1447.2 1060.2 L1448.4 1060.9 L1449.5 1062.8 L1450.7 1065.1 L1451.8 1067.2 L1453.1 1069.9 L1454.4 1072.6 L1455.7 1073.8 L1456.9 1072.8 L1458.2 1071.0 L1459.5 1070.0 L1460.8 1070.0 L1462.1 1070.0 L1463.3 1070.0 L1464.6 1070.9 L1465.9 1073.0 L1467.2 1075.4 L1468.5 1078.2 L1469.7 1081.4 L1471.0 1083.6 L1472.2 1084.5 L1473.3 1085.1 L1474.5 1085.6 L1475.6 1086.3 L1476.6 1087.0 L1477.7 1087.8 L1478.7 1089.0 L1479.8 1092.0 L1481.0 1097.2 L1481.9 1106.4 L1482.8 1119.0 L1483.6 1130.6 L1484.4 1140.8 L1485.1 1148.1 L1485.9 1151.7 L1487.1 1151.7 L1488.4 1140.8 L1489.3 1128.8 L1490.2 1116.3 L1491.1 1105.2 L1492.1 1097.2 L1493.1 1093.0 L1494.1 1090.7 L1495.2 1089.5 L1496.4 1089.0 L1497.4 1090.1 L1498.4 1092.3 L1499.4 1094.5 L1500.7 1097.4 L1502.0 1100.3 L1503.3 1101.6 L1504.3 1101.4 L1505.3 1100.8 L1506.3 1100.0 L1507.6 1097.9 L1508.9 1094.8 L1510.2 1091.8 L1511.2 1089.5 L1512.2 1087.3 L1513.2 1086.3 L1514.3 1086.3 L1515.3 1086.3 L1516.3 1086.3 L1517.6 1087.3 L1518.9 1089.6 L1520.2 1091.8 L1521.4 1093.8 L1522.7 1095.7 L1524.0 1097.2 L1525.1 1098.0 L1526.3 1098.5 L1527.5 1099.1 L1528.6 1100.0 L1529.8 1101.8 L1530.9 1104.6 L1532.1 1107.8 L1533.2 1110.8 L1534.4 1113.6 L1535.5 1116.4 L1536.7 1119.2 L1537.8 1121.8 L1538.7 1123.7 L1539.7 1125.6 L1540.6 1127.2 L1541.7 1128.7 L1542.9 1129.8 L1544.0 1131.0 L1545.2 1132.7 L1546.3 1135.1 L1547.5 1138.4 L1548.6 1142.3 L1549.8 1146.3 L1550.9 1150.7 L1552.1 1155.6 L1553.3 1160.6 L1554.4 1165.3 L1555.6 1169.7 L1556.7 1173.9 L1557.9 1177.9 L1559.0 1181.7 L1560.3 1185.8 L1561.6 1189.6 L1562.8 1192.6 L1563.9 1194.5 L1564.9 1196.0 L1565.9 1197.0 L1566.9 1197.5 L1568.0 1197.9 L1569.0 1198.0 L1570.0 1197.2 L1571.0 1195.1 L1572.1 1192.6 L1573.1 1189.6 L1574.1 1185.7 L1575.1 1181.7 L1576.4 1176.4 L1577.7 1170.7 L1579.0 1165.3 L1580.3 1160.4 L1581.5 1155.7 L1582.8 1151.7 L1584.1 1148.7 L1585.4 1146.0 L1586.7 1143.5 L1587.9 1140.8 L1589.2 1138.1 L1590.5 1136.5 L1591.5 1135.9 L1592.5 1135.5 L1593.6 1135.4 L1594.8 1136.2 L1596.1 1137.9 L1597.4 1139.7 L1598.6 1141.3 L1599.7 1143.1 L1600.9 1144.6 L1602.0 1145.2 L1603.2 1145.2 L1604.3 1145.2 L1605.5 1145.2 L1606.6 1145.2 L1607.6 1144.0 L1608.7 1141.3 L1609.7 1138.1 L1610.7 1134.2 L1611.7 1129.3 L1612.8 1124.5 L1613.9 1119.7 L1615.1 1115.0 L1616.2 1110.3 L1617.4 1105.4 L1618.5 1100.0 L1619.7 1094.3 L1620.8 1088.7 L1622.0 1083.6 L1623.1 1078.8 L1624.3 1074.1 L1625.4 1070.1 L1626.6 1067.2 L1627.7 1065.4 L1628.9 1063.8 L1630.0 1062.6 L1631.2 1061.8 L1632.3 1061.3 L1633.5 1061.0 L1634.6 1060.7 L1635.8 1060.2 L1636.9 1058.7 L1638.1 1056.1 L1639.2 1053.3 L1640.4 1050.9 L1641.6 1048.8 L1642.7 1046.7 L1643.9 1045.0 L1645.0 1044.4 L1646.2 1044.5 L1647.3 1044.7 L1648.5 1045.0 L1649.6 1045.5 L1650.9 1046.4 L1652.2 1047.6 L1653.5 1048.2 L1654.7 1047.0 L1656.0 1044.6 L1657.3 1042.7 L1658.4 1041.8 L1659.6 1040.9 L1660.7 1040.2 L1661.9 1040.0 L1663.2 1040.9 L1664.5 1043.1 L1665.7 1045.5 L1667.0 1047.9 L1668.3 1050.8 L1669.6 1053.6 L1670.9 1056.6 L1672.1 1059.5 L1673.4 1061.8 L1674.7 1063.6 L1676.0 1065.0 L1677.3 1065.6 L1678.4 1065.5 L1679.6 1065.3 L1680.7 1064.9 L1681.9 1064.5 L1683.0 1063.9 L1684.2 1063.0 L1685.3 1062.2 L1686.5 1061.8 L1687.7 1062.8 L1689.0 1064.9 L1690.3 1067.2 L1691.5 1068.9 L1692.6 1070.6 L1693.8 1072.6 L1694.9 1075.4 L1695.9 1080.0 L1697.0 1086.9 L1698.0 1094.5 L1699.0 1103.4 L1700.0 1113.3 L1701.1 1121.8 L1702.1 1127.9 L1703.1 1133.2 L1704.1 1138.1 L1705.4 1144.0 L1706.7 1149.6 L1708.0 1154.5 L1709.0 1158.2 L1710.0 1161.6 L1711.0 1163.7 L1712.2 1164.9 L1713.3 1165.3 L1714.5 1163.0 L1715.6 1158.3 L1716.7 1152.8 L1717.7 1145.6 L1718.7 1138.1 L1719.9 1128.1 L1721.2 1119.0 L1722.5 1112.8 L1723.7 1107.7 L1725.0 1102.7 L1726.3 1097.4 L1727.6 1092.1 L1728.9 1086.3 L1729.9 1080.7 L1730.9 1074.7 L1731.9 1070.0 L1733.2 1065.4 L1734.5 1061.7 L1735.8 1060.2 L1736.8 1060.4 L1737.8 1061.0 L1738.8 1061.8 L1740.1 1063.9 L1741.4 1066.9 L1742.7 1068.3 L1743.7 1067.1 L1744.7 1064.5 L1745.7 1061.8 L1747.0 1059.0 L1748.3 1056.2 L1749.6 1053.6 L1750.8 1051.3 L1751.9 1049.1 L1753.1 1048.2 L1754.2 1050.1 L1755.4 1054.1 L1756.5 1058.0 L1757.6 1061.4 L1758.8 1064.9 L1759.9 1067.7 L1761.1 1068.9 L1762.4 1068.2 L1763.7 1066.6 L1764.9 1064.5 L1766.1 1061.3 L1767.2 1059.1 L1768.3 1059.1 L1769.3 1059.1 L1770.3 1059.1 L1771.3 1058.5 L1772.4 1057.5 L1773.4 1056.9 L1774.7 1057.2 L1775.9 1058.0 L1777.2 1059.1 L1778.4 1061.7 L1779.6 1065.4 L1780.8 1067.2 L1781.6 1066.0 L1782.5 1063.2 L1783.4 1060.2 L1784.4 1056.4 L1785.4 1052.2 L1786.4 1049.3 L1787.5 1047.4 L1788.5 1046.0 L1789.5 1045.5 L1790.5 1045.8 L1791.6 1046.8 L1792.6 1048.2 L1793.6 1051.0 L1794.6 1055.3 L1795.7 1059.1 L1796.8 1062.6 L1798.0 1064.5 L1799.0 1064.1 L1800.0 1063.1 L1801.0 1061.8 L1802.1 1059.3 L1803.1 1056.0 L1804.1 1053.6 L1805.4 1052.3 L1806.7 1051.3 L1807.9 1050.9 L1809.0 1052.3 L1810.0 1055.6 L1811.0 1059.1 L1812.0 1062.6 L1813.1 1066.5 L1814.1 1070.0 L1815.4 1074.2 L1816.6 1078.1 L1817.9 1079.8 L1818.9 1076.9 L1820.0 1071.3 L1821.0 1067.2 L1822.3 1065.1 L1823.6 1063.5 L1824.8 1062.9 L1826.0 1066.5 L1827.1 1072.7 L1828.2 1077.2 L1829.2 1081.8 L1830.2 1086.3 L1831.2 1091.5 L1832.3 1096.7 L1833.3 1100.0 L1834.6 1101.9 L1835.8 1103.2 L1837.1 1103.8 L1838.3 1098.8 L1839.4 1091.8 L1840.4 1088.3 L1841.5 1085.4 L1842.5 1083.6 L1843.6 1082.8 L1844.8 1082.0 L1845.8 1077.6 L1846.8 1073.8 L1847.7 1077.9 L1848.6 1082.0 L1849.8 1080.9 L1850.9 1079.8 L1852.1 1079.8 L1853.2 1079.8 L1854.4 1077.3 L1855.5 1072.7 L1856.7 1067.3 L1857.8 1061.8 L1858.8 1057.8 L1859.7 1054.1 L1860.6 1052.5 L1861.7 1055.0 L1862.8 1060.2 L1863.8 1067.7 L1864.8 1075.4 L1865.8 1080.3 L1866.8 1083.6 L1867.6 1085.1 L1868.5 1086.2 L1869.4 1087.4 L1870.4 1089.6 L1871.4 1091.8 L1872.4 1092.9 L1873.5 1091.2 L1874.5 1088.0 L1875.5 1086.3 L1876.5 1086.4 L1877.6 1086.8 L1878.6 1087.4 L1879.3 1092.7 L1880.1 1100.0 L1881.3 1105.9 L1882.4 1110.8 L1883.4 1116.1 L1884.5 1121.1 L1885.5 1123.4 L1886.6 1122.4 L1887.8 1120.1 L1888.9 1114.1 L1890.1 1107.0 L1891.2 1103.3 L1892.4 1100.0 L1893.6 1094.3 L1894.7 1090.7 L1895.9 1091.8 L1897.0 1094.5 L1898.0 1101.4 L1899.0 1107.0 L1899.9 1106.2 L1900.8 1105.4 L1902.0 1112.2 L1903.1 1119.0 L1904.3 1117.8 L1905.5 1116.3 L1906.6 1115.8 L1907.8 1115.5 L1909.0 1115.2" stroke="#0000ff"/>
<path d="M150.0 926.4 L151.2 926.2 L152.5 926.5 L153.8 925.8 L155.0 926.3 L156.2 926.0 L157.5 925.4 L158.8 926.0 L160.0 925.0 L161.2 925.7 L162.5 924.8 L163.8 924.8 L165.0 925.5 L166.2 926.4 L167.5 924.7 L168.8 924.9 L170.0 925.8 L171.2 926.5 L172.5 925.6 L173.8 925.1 L175.0 926.5 L176.2 924.2 L177.5 926.1 L178.8 924.7 L180.0 924.3 L181.2 924.2 L182.5 924.6 L183.8 925.8 L185.0 924.3 L186.2 925.2 L187.5 925.3 L188.8 924.7 L190.0 925.1 L191.2 924.0 L192.5 923.9 L193.8 924.3 L195.0 925.5 L196.2 924.9 L197.5 924.6 L198.8 925.3 L200.0 925.0 L201.2 924.7 L202.5 925.9 L203.8 925.7 L205.0 924.7 L206.2 925.5 L207.5 925.4 L208.8 926.3 L210.0 926.1 L211.2 925.2 L212.4 927.4 L213.6 926.0 L214.9 927.5 L216.1 928.9 L217.3 928.0 L218.5 929.0 L219.8 927.5 L221.1 928.1 L222.4 927.2 L223.7 925.7 L225.0 925.9 L226.2 924.4 L227.5 925.2 L228.8 924.8 L230.0 924.7 L231.2 924.3 L232.5 925.2 L233.8 925.4 L235.0 924.2 L236.2 924.6 L237.5 923.1 L238.8 924.6 L240.0 924.4 L241.2 925.1 L242.5 924.6 L243.8 923.2 L245.0 923.3 L246.2 923.9 L247.5 922.2 L248.8 923.2 L250.0 922.4 L251.2 922.2 L252.5 922.0 L253.8 923.7 L255.0 922.1 L256.2 922.4 L257.5 922.7 L258.8 923.9 L260.0 922.0 L261.2 922.9 L262.5 923.1 L263.8 923.9 L265.0 923.8 L266.2 923.9 L267.5 922.5 L268.8 922.8 L270.0 922.7 L271.2 923.8 L272.5 923.5 L273.8 920.9 L275.0 920.2 L276.2 919.6 L277.5 919.0 L278.8 919.1 L280.0 919.2 L281.2 918.5 L282.5 917.9 L283.8 919.0 L285.0 919.0 L286.2 919.7 L287.5 920.8 L288.8 920.3 L290.0 920.0 L291.2 920.5 L292.5 920.8 L293.8 919.6 L295.0 921.9 L296.2 921.8 L297.5 922.2 L298.8 922.2 L300.0 921.2 L301.2 921.2 L302.5 920.3 L303.8 921.3 L305.0 919.7 L306.2 919.4 L307.5 919.5 L308.8 919.3 L310.0 919.6 L311.2 919.1 L312.5 919.4 L313.8 920.4 L315.0 921.0 L316.2 922.4 L317.5 922.2 L318.8 924.7 L320.0 924.3 L321.2 923.1 L322.5 923.2 L323.8 923.3 L325.0 923.2 L326.2 922.4 L327.5 924.0 L328.8 924.2 L330.0 922.9 L331.2 923.1 L332.5 922.4 L333.8 922.8 L335.0 923.9 L336.2 924.2 L337.5 926.2 L338.8 925.1 L340.0 925.4 L341.2 928.1 L342.5 927.7 L343.8 927.4 L345.0 929.0 L346.2 928.4 L347.5 930.3 L348.8 932.0 L350.0 932.4 L351.2 932.6 L352.5 932.3 L353.8 933.2 L355.0 933.4 L356.2 935.5 L357.5 935.6 L358.8 936.7 L360.0 936.1 L361.2 936.2 L362.5 938.0 L363.8 938.7 L365.0 938.7 L366.2 938.8 L367.5 939.1 L368.8 939.2 L370.0 938.2 L371.2 939.1 L372.5 939.0 L373.8 938.5 L375.0 938.9 L376.2 939.8 L377.5 940.2 L378.8 941.6 L380.0 942.7 L381.2 942.0 L382.5 943.6 L383.8 944.2 L385.0 944.5 L386.2 943.6 L387.5 943.6 L388.8 944.0 L390.0 944.3 L391.2 944.6 L392.5 945.9 L393.8 946.9 L395.0 947.0 L396.2 946.5 L397.5 947.1 L398.8 947.8 L400.0 946.3 L401.2 947.9 L402.5 948.7 L403.8 948.5 L405.0 948.6 L406.2 948.1 L407.5 947.6 L408.8 948.9 L410.0 948.2 L411.2 949.0 L412.5 949.3 L413.8 948.7 L415.0 948.8 L416.2 949.2 L417.5 949.1 L418.8 948.9 L420.0 949.0 L421.2 949.0 L422.5 949.0 L423.8 949.0 L425.0 948.8 L426.2 948.9 L427.5 948.9 L428.8 948.7 L430.0 948.4 L431.2 948.4 L432.5 948.1 L433.8 947.8 L435.0 948.3 L436.2 947.9 L437.5 947.6 L438.8 947.5 L440.0 946.8 L441.2 946.6 L442.5 946.1 L443.8 945.2 L445.0 944.7 L446.2 944.3 L447.5 943.7 L448.8 943.5 L450.0 942.8 L451.2 942.5 L452.5 941.9 L453.8 942.0 L455.0 941.2 L456.2 940.9 L457.5 940.6 L458.8 940.4 L460.0 939.6 L461.2 939.5 L462.5 938.8 L463.8 938.4 L465.0 938.0 L466.2 937.2 L467.5 937.1 L468.8 936.4 L470.0 935.8 L471.2 935.9 L472.5 934.9 L473.8 934.7 L475.0 934.4 L476.2 933.9 L477.5 933.4 L478.8 933.2 L480.0 933.0 L481.2 933.0 L482.5 932.4 L483.8 932.6 L485.0 932.3 L486.2 932.2 L487.5 932.4 L488.8 932.2 L490.0 932.1 L491.2 932.1 L492.5 932.1 L493.8 931.6 L495.0 931.6 L496.2 931.3 L497.5 931.0 L498.8 930.8 L500.0 930.2 L501.2 929.8 L502.5 929.3 L503.8 929.2 L505.0 928.5 L506.2 928.1 L507.5 927.7 L508.8 926.8 L510.0 926.5 L511.2 926.4 L512.5 925.9 L513.8 925.0 L515.0 924.5 L516.2 924.3 L517.5 923.6 L518.8 923.3 L520.0 922.7 L521.2 922.7 L522.5 922.4 L523.8 922.1 L525.0 921.3 L526.2 921.3 L527.5 921.0 L528.8 920.3 L530.0 920.5 L531.2 920.3 L532.5 919.4 L533.8 919.7 L535.0 919.0 L536.2 918.8 L537.5 918.9 L538.8 918.5 L540.0 917.8 L541.2 917.7 L542.5 917.5 L543.8 917.1 L545.0 916.7 L546.2 916.5 L547.5 916.6 L548.8 915.8 L550.0 915.9 L551.2 915.6 L552.5 915.1 L553.8 915.1 L555.0 915.1 L556.2 914.8 L557.5 914.3 L558.8 914.8 L560.0 914.5 L561.2 914.4 L562.5 913.7 L563.8 913.6 L565.0 913.3 L566.2 913.7 L567.5 913.2 L568.8 912.9 L570.0 912.9 L571.2 913.1 L572.5 912.9 L573.8 912.3 L575.0 912.1 L576.2 912.5 L577.5 912.0 L578.8 912.0 L580.0 911.4 L581.2 911.2 L582.5 911.5 L583.8 911.1 L585.0 910.7 L586.2 911.2 L587.5 910.8 L588.8 910.8 L590.0 910.2 L591.2 910.6 L592.5 910.0 L593.8 910.4 L595.0 910.0 L596.2 909.8 L597.5 909.8 L598.8 909.9 L600.0 909.4 L601.2 909.1 L602.5 909.3 L603.8 909.0 L605.0 908.9 L606.2 908.8 L607.5 908.7 L608.8 908.8 L610.0 908.9 L611.2 908.9 L612.5 909.2 L613.8 908.9 L615.0 909.0 L616.2 908.8 L617.5 908.9 L618.8 908.7 L620.0 908.8 L621.2 908.7 L622.5 909.2 L623.8 909.1 L625.0 909.2 L626.2 909.9 L627.5 910.8 L628.8 911.0 L630.0 912.3 L631.2 913.0 L632.5 914.0 L633.8 915.4 L635.0 916.7 L636.2 918.7 L637.5 921.1 L638.8 923.9 L640.0 926.4 L641.2 930.5 L642.5 935.2 L643.8 940.7 L645.0 946.4 L646.0 951.7 L647.0 957.6 L648.0 963.7 L649.0 968.7 L650.2 974.7 L651.3 979.2 L652.5 981.3 L653.7 978.4 L654.8 972.2 L656.0 964.3 L657.0 955.5 L658.0 944.9 L659.0 936.3 L660.2 929.0 L661.3 922.9 L662.5 918.8 L663.8 916.7 L665.0 914.9 L666.2 914.1 L667.5 913.3 L668.8 912.5 L670.0 912.0 L671.2 912.2 L672.5 911.4 L673.7 911.0 L674.9 910.3 L676.1 910.0 L677.3 909.6 L678.5 909.0 L679.8 908.1 L681.1 907.5 L682.4 906.4 L683.7 905.7 L685.0 904.7 L686.2 904.0 L687.5 902.7 L688.8 901.6 L690.0 900.8 L691.2 900.1 L692.5 900.1 L693.8 900.0 L695.0 900.2 L696.3 900.2 L697.6 900.3 L698.8 900.4 L700.1 900.1 L701.4 900.2 L702.7 900.7 L703.9 900.1 L705.2 900.6 L706.5 900.6 L707.7 900.2 L709.0 900.7 L710.2 900.5 L711.5 899.7 L712.8 898.8 L714.0 897.8 L715.2 896.2 L716.5 895.4 L717.8 894.5 L719.0 894.2 L720.2 893.9 L721.5 893.6 L722.8 893.2 L724.0 893.2 L725.2 892.9 L726.5 892.7 L727.8 892.2 L729.0 891.9 L730.2 891.8 L731.5 891.8 L732.8 891.4 L734.0 891.7 L735.2 891.3 L736.5 891.1 L737.8 890.9 L739.0 890.7 L740.2 890.3 L741.5 889.7 L742.8 890.0 L744.0 889.8 L745.2 889.3 L746.5 889.1 L747.8 889.0 L749.0 888.4 L750.2 888.7 L751.5 888.1 L752.8 887.8 L754.0 887.8 L755.2 888.0 L756.5 887.5 L757.8 887.8 L759.0 887.9 L760.2 887.4 L761.5 887.3 L762.8 887.2 L764.0 887.3 L765.2 887.3 L766.5 887.1 L767.8 887.0 L769.0 886.6 L770.2 886.5 L771.5 886.5 L772.8 886.8 L774.0 886.4 L775.2 886.5 L776.5 886.0 L777.8 885.9 L779.0 885.9 L780.2 886.1 L781.5 886.0 L782.8 885.9 L784.0 885.6 L785.2 885.6 L786.5 885.5 L787.8 885.4 L789.0 885.1 L790.2 885.5 L791.5 884.9 L792.8 885.4 L794.0 885.3 L795.2 884.6 L796.5 884.8 L797.8 885.0 L799.0 885.1 L800.2 884.6 L801.5 884.5 L802.8 884.4 L804.0 884.8 L805.2 884.2 L806.5 884.4 L807.8 884.1 L809.0 884.3 L810.2 884.5 L811.5 883.9 L812.8 884.3 L814.0 884.0 L815.2 884.2 L816.5 884.0 L817.8 883.6 L819.0 883.9 L820.2 883.6 L821.5 883.1 L822.8 883.0 L824.0 883.3 L825.2 883.2 L826.5 883.0 L827.8 882.7 L829.0 882.8 L830.2 882.7 L831.5 882.9 L832.8 882.2 L834.0 882.7 L835.2 882.6 L836.5 882.0 L837.8 882.5 L839.0 882.3 L840.2 882.3 L841.5 881.8 L842.8 881.7 L844.0 881.6 L845.2 882.0 L846.5 881.6 L847.8 881.3 L849.0 881.3 L850.2 881.1 L851.5 880.8 L852.8 880.8 L854.0 881.2 L855.2 880.8 L856.5 881.2 L857.8 880.6 L859.0 880.6 L860.2 880.7 L861.5 880.4 L862.8 880.5 L864.0 880.8 L865.2 880.7 L866.5 880.6 L867.8 880.4 L869.0 880.6 L870.2 880.5 L871.5 880.2 L872.8 880.2 L874.0 879.7 L875.2 880.1 L876.5 879.8 L877.8 879.9 L879.0 879.7 L880.2 879.3 L881.5 879.0 L882.8 879.4 L884.0 878.7 L885.2 878.8 L886.5 878.6 L887.8 878.4 L889.0 878.6 L890.2 878.6 L891.5 878.0 L892.8 878.2 L894.0 877.9 L895.2 878.0 L896.5 877.8 L897.8 877.5 L899.0 877.5 L900.2 877.4 L901.5 877.8 L902.8 877.5 L904.0 877.2 L905.2 877.7 L906.5 877.7 L907.8 877.2 L909.0 877.0 L910.2 876.9 L911.5 876.8 L912.8 876.9 L914.0 876.7 L915.2 876.8 L916.5 876.7 L917.8 876.9 L919.0 877.1 L920.2 877.0 L921.5 876.7 L922.8 876.7 L924.0 876.8 L925.2 876.6 L926.5 876.5 L927.8 876.3 L929.0 876.3 L930.2 876.6 L931.5 875.6 L932.8 875.2 L934.0 874.3 L935.2 873.2 L936.5 871.3 L937.8 866.2 L939.0 856.2 L940.2 844.5 L941.5 834.0 L942.5 826.6 L943.5 818.5 L944.5 811.5 L945.5 806.2 L946.7 802.6 L947.8 800.3 L949.0 799.3 L950.2 800.4 L951.3 804.1 L952.5 808.7 L953.5 818.7 L954.5 832.5 L955.5 839.2 L956.8 830.9 L958.0 821.8 L959.2 820.0 L960.3 819.0 L961.5 818.8 L962.8 820.3 L964.0 823.7 L965.2 827.9 L966.5 831.7 L967.8 835.2 L969.0 839.0 L970.2 842.7 L971.5 846.5 L972.8 850.1 L974.0 854.6 L975.2 858.0 L976.5 861.8 L977.8 864.7 L979.0 867.5 L980.2 869.8 L981.5 871.3 L982.8 872.3 L984.0 873.0 L985.2 873.0 L986.5 873.4 L987.8 873.9 L989.0 874.1 L990.2 873.6 L991.5 872.8 L992.8 872.1 L994.0 870.7 L995.2 870.2 L996.5 870.0 L997.8 870.5 L999.0 870.9 L1000.2 871.8 L1001.5 872.2 L1002.8 872.6 L1004.0 872.8 L1005.2 873.3 L1006.5 873.1 L1007.8 872.7 L1009.0 872.4 L1010.2 872.6 L1011.5 872.5 L1012.8 872.2 L1014.0 871.9 L1015.2 872.0 L1016.5 872.1 L1017.8 871.4 L1019.0 871.2 L1020.2 871.3 L1021.5 871.2 L1022.8 871.3 L1024.0 870.9 L1025.2 871.2 L1026.5 871.0 L1027.8 870.8 L1029.0 870.5 L1030.2 870.9 L1031.5 870.4 L1032.8 870.6 L1034.0 870.1 L1035.2 870.0 L1036.5 870.3 L1037.8 869.9 L1039.0 870.3 L1040.2 869.9 L1041.5 869.7 L1042.8 869.6 L1044.0 869.7 L1045.2 869.9 L1046.5 870.0 L1047.8 869.4 L1049.0 869.4 L1050.0 869.1 L1051.3 869.7 L1052.6 869.1 L1053.8 869.0 L1055.1 869.0 L1056.4 869.3 L1057.7 869.6 L1059.0 869.6 L1060.3 869.5 L1061.5 869.7 L1062.8 869.6 L1064.1 869.2 L1065.4 869.1 L1066.7 869.6 L1067.9 869.5 L1069.2 869.0 L1070.5 869.5 L1071.8 869.4 L1073.1 869.5 L1074.4 869.5 L1075.6 869.5 L1076.9 869.4 L1078.2 869.7 L1079.5 869.8 L1080.8 870.3 L1082.1 869.7 L1083.3 870.3 L1084.6 869.8 L1085.9 869.8 L1087.2 870.1 L1088.5 870.0 L1089.7 869.6 L1091.0 869.1 L1092.3 869.3 L1093.6 869.0 L1094.9 869.2 L1096.2 868.6 L1097.4 868.5 L1098.7 868.7 L1100.0 868.0 L1101.3 868.1 L1102.6 868.3 L1103.8 868.1 L1105.1 867.4 L1106.4 867.2 L1107.7 867.1 L1109.0 867.5 L1110.3 866.9 L1111.5 867.1 L1112.8 867.1 L1114.1 866.6 L1115.4 866.5 L1116.7 867.0 L1117.9 866.8 L1119.1 866.7 L1120.3 867.3 L1121.5 867.3 L1122.7 867.7 L1123.9 867.8 L1125.2 868.7 L1126.4 869.1 L1127.6 869.2 L1128.8 869.6 L1130.0 869.0 L1131.2 869.0 L1132.5 868.8 L1133.8 868.6 L1135.0 868.0 L1136.2 867.0 L1137.5 866.3 L1138.8 866.1 L1140.0 866.0 L1141.2 866.4 L1142.5 866.3 L1143.8 867.3 L1145.0 867.8 L1146.2 868.5 L1147.5 869.0 L1148.8 869.3 L1150.0 869.2 L1151.2 869.0 L1152.5 868.6 L1153.8 868.2 L1155.0 866.9 L1156.2 866.2 L1157.5 865.9 L1158.8 865.0 L1160.0 864.7 L1161.2 864.7 L1162.4 865.0 L1163.6 864.9 L1164.8 865.3 L1166.1 865.3 L1167.3 865.3 L1168.5 864.8 L1169.7 864.7 L1170.9 864.7 L1172.1 865.0 L1173.3 865.1 L1174.6 864.9 L1175.8 864.6 L1177.1 864.6 L1178.3 864.5 L1179.6 864.2 L1180.8 864.0 L1182.1 863.8 L1183.3 863.4 L1184.6 862.8 L1185.8 863.1 L1187.1 862.4 L1188.3 862.3 L1189.6 862.0 L1190.8 862.0 L1192.1 861.5 L1193.3 861.5 L1194.4 861.7 L1195.6 862.3 L1196.7 863.6 L1197.8 864.2 L1198.9 864.6 L1200.0 864.9 L1201.1 865.0 L1202.2 864.0 L1203.3 862.8 L1204.4 862.3 L1205.6 861.4 L1206.7 861.3 L1207.9 860.8 L1209.2 861.2 L1210.4 861.7 L1211.7 862.0 L1212.9 862.3 L1214.2 862.0 L1215.4 862.4 L1216.7 862.4 L1217.9 862.5 L1219.1 863.1 L1220.3 862.9 L1221.5 863.2 L1222.7 862.9 L1223.9 863.2 L1225.2 863.0 L1226.4 862.9 L1227.6 863.3 L1228.8 863.5 L1230.0 863.1 L1231.1 863.7 L1232.2 864.4 L1233.3 864.9 L1234.4 865.8 L1235.6 866.2 L1236.7 866.5 L1237.9 866.4 L1239.2 866.5 L1240.4 866.2 L1241.7 865.6 L1242.9 865.2 L1244.2 865.1 L1245.4 865.2 L1246.7 864.8 L1247.8 865.0 L1248.9 865.3 L1250.0 866.3 L1251.1 866.9 L1252.2 867.3 L1253.3 868.1 L1254.6 869.3 L1255.8 870.7 L1257.1 872.2 L1258.3 873.3 L1259.6 874.8 L1260.8 876.4 L1262.1 877.0 L1263.3 877.2 L1264.4 876.9 L1265.6 876.5 L1266.7 874.9 L1267.8 873.8 L1268.9 872.5 L1270.0 871.6 L1271.1 871.2 L1272.2 870.5 L1273.3 869.4 L1274.4 868.7 L1275.6 868.6 L1276.7 868.1 L1277.9 868.0 L1279.2 868.8 L1280.4 868.6 L1281.7 869.1 L1282.9 869.0 L1284.2 869.6 L1285.4 869.7 L1286.7 869.8 L1287.9 870.1 L1289.2 871.1 L1290.4 872.0 L1291.7 873.1 L1292.9 873.4 L1294.2 874.7 L1295.4 875.3 L1296.7 876.0 L1297.8 876.3 L1298.9 876.9 L1300.0 877.5 L1301.1 878.2 L1302.2 878.0 L1303.3 878.3 L1304.4 878.3 L1305.6 877.8 L1306.7 876.5 L1307.8 875.6 L1308.9 875.6 L1310.0 875.3 L1311.2 875.0 L1312.5 874.7 L1313.8 875.3 L1315.0 874.9 L1316.2 875.3 L1317.5 875.1 L1318.8 875.2 L1320.0 874.8 L1321.2 875.2 L1322.5 874.9 L1323.8 875.2 L1325.0 875.7 L1326.2 876.0 L1327.5 875.8 L1328.8 876.1 L1330.0 876.6 L1331.1 877.2 L1332.2 877.8 L1333.3 878.6 L1334.4 879.6 L1335.6 881.0 L1336.7 881.9 L1337.9 882.4 L1339.2 883.8 L1340.4 884.8 L1341.7 884.7 L1342.8 883.1 L1343.9 878.6 L1345.0 876.7 L1346.2 876.7 L1347.4 876.9 L1348.6 876.8 L1349.8 877.0 L1351.0 877.3 L1352.1 877.2 L1353.3 877.4 L1354.6 877.1 L1355.8 876.7 L1357.1 875.7 L1358.3 875.4 L1359.6 874.6 L1360.8 873.8 L1362.1 873.7 L1363.3 873.5 L1364.5 873.4 L1365.7 873.6 L1366.9 874.2 L1368.1 874.4 L1369.2 874.7 L1370.4 875.1 L1371.5 874.8 L1372.5 875.1 L1373.5 875.1 L1374.5 875.2 L1375.6 876.4 L1376.6 876.4 L1377.9 876.1 L1379.1 874.5 L1380.4 873.5 L1381.4 874.0 L1382.5 875.9 L1383.5 876.7 L1384.5 876.6 L1385.5 875.3 L1386.6 875.3 L1387.6 875.8 L1388.6 876.7 L1389.6 878.0 L1390.7 879.4 L1391.7 881.8 L1392.7 883.2 L1394.0 884.7 L1395.3 885.6 L1396.5 885.9 L1397.8 886.0 L1399.1 886.0 L1400.4 886.0 L1401.7 886.0 L1402.9 886.0 L1404.2 886.0 L1405.2 886.8 L1406.3 888.9 L1407.3 891.4 L1408.4 895.4 L1409.6 899.5 L1410.7 902.4 L1411.9 903.9 L1412.9 903.9 L1413.9 903.9 L1415.0 903.9 L1416.0 903.6 L1417.0 903.0 L1418.0 902.2 L1419.2 901.2 L1420.3 899.5 L1421.5 895.6 L1422.6 891.4 L1423.8 889.1 L1424.9 887.6 L1426.0 887.0 L1427.0 886.5 L1428.0 886.0 L1429.2 884.4 L1430.3 883.2 L1431.3 883.5 L1432.4 884.1 L1433.4 884.3 L1434.7 883.9 L1436.0 883.0 L1437.2 882.2 L1438.4 881.6 L1439.5 881.1 L1440.7 880.7 L1441.8 880.5 L1442.9 880.8 L1443.9 881.4 L1444.9 882.2 L1446.2 883.8 L1447.5 885.9 L1448.7 887.6 L1450.0 888.5 L1451.3 889.2 L1452.6 889.8 L1453.9 890.3 L1455.1 890.8 L1456.4 891.4 L1457.5 892.1 L1458.5 893.0 L1459.5 894.1 L1460.8 896.3 L1462.1 899.3 L1463.3 902.2 L1464.5 904.6 L1465.6 906.8 L1466.8 909.1 L1467.9 911.5 L1469.2 914.2 L1470.5 917.0 L1471.8 920.1 L1473.1 923.5 L1474.3 927.3 L1475.6 932.1 L1476.6 937.0 L1477.7 943.2 L1478.7 951.1 L1479.8 963.7 L1481.0 980.9 L1481.8 995.9 L1482.5 1013.5 L1483.3 1032.1 L1484.1 1051.4 L1485.3 1081.3 L1486.4 1089.4 L1487.4 1081.3 L1488.2 1062.2 L1489.0 1035.2 L1489.8 1006.9 L1490.5 980.9 L1491.3 961.7 L1492.1 948.4 L1492.8 940.6 L1493.6 936.4 L1494.4 935.2 L1495.1 934.8 L1496.1 937.5 L1497.1 941.8 L1498.1 945.5 L1499.2 949.0 L1500.2 951.1 L1501.2 951.9 L1502.2 952.5 L1503.3 952.7 L1504.3 951.4 L1505.3 948.6 L1506.3 945.6 L1507.6 942.0 L1508.9 938.1 L1510.2 934.8 L1511.2 932.6 L1512.2 930.6 L1513.2 929.4 L1514.4 928.6 L1515.6 928.3 L1516.6 929.1 L1517.6 930.9 L1518.6 933.2 L1519.9 936.5 L1521.2 940.8 L1522.5 945.6 L1523.7 951.4 L1525.0 958.0 L1526.3 964.6 L1527.6 971.0 L1528.9 977.3 L1530.1 983.6 L1531.4 990.2 L1532.7 996.7 L1534.0 1002.6 L1535.1 1007.1 L1536.3 1011.2 L1537.4 1015.0 L1538.6 1018.9 L1539.9 1022.9 L1541.1 1026.8 L1542.4 1030.8 L1543.7 1035.2 L1544.9 1040.0 L1546.2 1045.4 L1547.5 1051.4 L1548.8 1058.7 L1550.1 1067.1 L1551.3 1075.8 L1552.6 1084.7 L1553.9 1093.8 L1555.2 1103.0 L1556.5 1112.2 L1557.7 1121.5 L1559.0 1130.1 L1560.3 1138.3 L1561.6 1145.9 L1562.8 1151.8 L1563.9 1155.4 L1564.9 1158.3 L1565.9 1159.9 L1566.9 1160.5 L1568.0 1160.9 L1569.0 1161.0 L1570.0 1159.8 L1571.0 1157.0 L1572.1 1153.4 L1573.1 1148.7 L1574.1 1142.4 L1575.1 1135.5 L1576.2 1127.8 L1577.2 1119.3 L1578.2 1111.1 L1579.2 1103.4 L1580.3 1096.1 L1581.3 1089.4 L1582.3 1083.3 L1583.3 1077.8 L1584.3 1073.1 L1585.4 1069.2 L1586.4 1065.8 L1587.4 1063.4 L1588.4 1061.6 L1589.5 1060.1 L1590.5 1059.6 L1591.5 1060.0 L1592.5 1061.1 L1593.6 1062.3 L1594.8 1063.8 L1596.1 1065.7 L1597.4 1067.7 L1598.6 1069.6 L1599.7 1071.7 L1600.9 1073.8 L1602.0 1075.8 L1603.2 1078.3 L1604.3 1080.9 L1605.5 1083.1 L1606.6 1084.0 L1607.8 1081.3 L1608.9 1075.8 L1609.7 1071.3 L1610.5 1065.0 L1611.2 1055.2 L1612.0 1043.3 L1612.8 1031.3 L1613.5 1018.9 L1614.7 999.6 L1615.8 980.9 L1617.0 963.7 L1618.1 948.4 L1619.3 935.1 L1620.4 923.9 L1621.5 915.7 L1622.5 908.4 L1623.5 902.2 L1624.5 897.0 L1625.6 892.5 L1626.6 888.7 L1627.9 884.6 L1629.1 881.0 L1630.4 877.8 L1631.7 875.1 L1633.0 872.7 L1634.3 869.7 L1635.5 864.8 L1636.8 858.8 L1638.1 853.4 L1639.4 849.1 L1640.7 845.2 L1641.9 842.6 L1643.2 840.7 L1644.5 839.3 L1645.8 838.8 L1647.1 839.0 L1648.3 839.6 L1649.6 839.9 L1650.9 839.1 L1652.2 837.3 L1653.5 835.5 L1654.7 833.6 L1656.0 831.5 L1657.3 830.1 L1658.4 829.3 L1659.6 829.0 L1660.6 830.1 L1661.6 832.7 L1662.7 835.5 L1663.7 838.4 L1664.7 841.7 L1665.7 845.3 L1667.0 850.3 L1668.3 855.8 L1669.6 861.5 L1670.9 867.9 L1672.1 874.6 L1673.4 880.5 L1674.7 885.8 L1676.0 890.5 L1677.3 894.1 L1678.3 896.6 L1679.4 898.8 L1680.5 900.5 L1681.6 901.2 L1682.4 899.7 L1683.3 896.6 L1684.2 894.1 L1685.2 892.3 L1686.2 890.9 L1687.2 890.3 L1688.4 891.6 L1689.5 894.1 L1690.6 896.7 L1691.6 900.3 L1692.6 905.0 L1693.8 914.1 L1694.9 926.6 L1696.1 941.8 L1697.2 959.2 L1698.4 977.8 L1699.5 997.2 L1700.7 1017.5 L1701.8 1035.2 L1703.0 1047.1 L1704.1 1056.8 L1705.2 1064.4 L1706.2 1071.3 L1707.2 1078.5 L1708.4 1088.5 L1709.5 1097.5 L1710.7 1104.2 L1711.8 1108.4 L1712.6 1109.5 L1713.3 1110.0 L1714.5 1107.8 L1715.6 1103.0 L1716.8 1094.1 L1717.9 1081.3 L1719.1 1065.2 L1720.3 1046.0 L1721.3 1027.5 L1722.2 1008.0 L1723.4 985.5 L1724.6 964.6 L1725.7 947.1 L1726.9 932.1 L1727.8 922.0 L1728.7 913.0 L1729.6 905.0 L1730.6 896.6 L1731.7 889.1 L1732.7 883.2 L1733.7 878.6 L1734.7 874.8 L1735.8 872.4 L1736.8 871.1 L1737.8 870.1 L1738.8 869.7 L1740.1 869.7 L1741.4 869.7 L1742.7 869.7 L1744.0 868.3 L1745.2 865.2 L1746.5 861.5 L1747.5 858.1 L1748.6 854.0 L1749.6 850.7 L1750.6 848.2 L1751.6 846.1 L1752.7 845.3 L1753.8 848.1 L1755.0 853.4 L1756.1 860.0 L1757.3 867.0 L1758.4 873.7 L1759.6 877.8 L1760.7 878.6 L1761.9 878.9 L1762.9 877.7 L1763.9 875.1 L1764.9 872.4 L1766.0 870.2 L1767.0 868.1 L1768.0 865.9 L1769.0 863.3 L1770.1 860.6 L1771.1 858.8 L1772.1 858.1 L1773.1 857.7 L1774.2 857.2 L1775.2 856.9 L1776.2 856.1 L1776.8 842.6 L1778.0 850.7 L1778.8 865.9 L1779.9 867.6 L1781.1 868.1 L1781.8 864.8 L1782.6 858.8 L1783.4 851.7 L1784.1 845.3 L1785.3 840.0 L1786.4 837.1 L1787.5 836.3 L1788.5 835.7 L1789.5 835.5 L1790.5 836.1 L1791.6 837.3 L1792.6 838.8 L1793.6 840.4 L1794.6 842.4 L1795.7 844.2 L1796.7 845.8 L1797.7 847.3 L1798.7 848.0 L1799.7 847.6 L1800.8 846.8 L1801.8 846.4 L1802.8 846.8 L1803.8 847.6 L1804.9 848.0 L1805.9 847.2 L1806.9 845.5 L1807.9 844.2 L1809.0 843.4 L1810.0 842.8 L1811.0 842.6 L1812.0 843.5 L1813.1 845.7 L1814.1 848.0 L1815.1 850.1 L1816.1 852.5 L1817.2 855.0 L1818.2 858.4 L1819.2 862.1 L1820.2 864.3 L1821.2 864.9 L1822.3 865.3 L1823.3 865.9 L1824.4 868.2 L1825.6 872.4 L1826.8 879.9 L1827.9 888.7 L1829.1 897.0 L1830.2 902.2 L1831.2 902.9 L1832.3 903.3 L1833.3 903.9 L1834.4 906.3 L1835.6 910.4 L1836.7 918.3 L1837.9 923.9 L1839.0 921.9 L1840.2 918.5 L1841.3 915.1 L1842.5 913.1 L1843.4 913.1 L1844.3 913.1 L1845.3 903.4 L1846.3 888.7 L1847.5 877.6 L1848.6 869.7 L1849.7 865.6 L1850.7 862.5 L1851.7 860.5 L1852.7 859.0 L1853.8 857.9 L1854.8 857.2 L1855.8 856.8 L1856.8 856.5 L1857.8 856.1 L1858.9 855.2 L1859.9 854.0 L1860.9 853.4 L1861.9 854.1 L1863.0 855.6 L1864.0 857.2 L1865.1 859.2 L1866.3 860.5 L1867.2 859.8 L1868.0 858.5 L1868.9 857.8 L1869.8 858.7 L1870.7 861.1 L1871.7 864.3 L1872.8 871.2 L1874.0 880.5 L1875.1 890.0 L1876.3 899.5 L1877.4 908.1 L1878.6 915.8 L1879.6 921.9 L1880.6 927.5 L1881.6 932.1 L1882.9 937.0 L1884.2 941.2 L1885.5 942.9 L1886.8 940.8 L1888.0 936.3 L1889.3 932.1 L1890.6 929.3 L1891.9 926.8 L1893.2 923.9 L1894.2 921.0 L1895.2 917.8 L1896.2 914.7 L1897.2 911.8 L1898.1 908.9 L1899.0 907.7 L1899.9 911.5 L1900.8 918.5 L1901.6 925.7 L1902.4 932.1 L1903.5 937.0 L1904.7 940.2 L1905.8 942.4 L1907.0 944.0 L1908.0 944.9 L1909.0 945.6" stroke="#ff0000"/>
<path d="M150.0 828.3 L151.1 828.3 L152.2 828.2 L153.3 828.1 L154.4 828.0 L155.6 828.0 L156.7 827.9 L157.8 827.8 L158.9 827.7 L160.0 827.7 L161.1 827.9 L162.2 828.1 L163.3 828.3 L164.4 828.6 L165.6 828.8 L166.7 829.1 L167.7 830.1 L168.7 831.8 L169.7 831.3 L170.7 832.2 L171.7 833.1 L172.7 831.5 L173.7 831.6 L174.7 831.4 L175.7 831.3 L176.7 831.3 L177.8 830.5 L178.9 832.9 L180.0 833.2 L181.0 835.6 L182.0 833.4 L183.0 828.4 L184.0 832.4 L185.0 830.8 L186.0 828.5 L187.0 828.5 L188.0 825.3 L189.0 824.8 L190.0 827.6 L190.9 824.9 L191.8 830.9 L192.7 835.8 L193.5 836.9 L194.3 847.3 L195.5 839.5 L196.7 836.1 L197.8 834.5 L198.9 837.7 L200.0 837.6 L201.1 835.6 L202.2 832.0 L203.3 828.9 L204.4 835.2 L205.6 837.9 L206.7 841.5 L207.8 838.3 L208.9 832.5 L210.0 830.9 L210.9 834.3 L211.8 836.2 L212.7 849.0 L213.8 843.6 L214.9 851.4 L216.0 844.5 L217.2 856.3 L218.3 857.0 L219.5 841.8 L220.7 834.6 L221.6 848.8 L222.4 842.6 L223.3 853.4 L224.2 838.3 L225.1 830.6 L226.0 831.4 L227.1 836.8 L228.2 834.8 L229.3 836.3 L230.4 835.0 L231.6 837.5 L232.7 831.2 L233.8 831.1 L235.0 840.3 L236.2 832.0 L237.3 825.1 L238.3 831.8 L239.3 822.2 L240.5 830.2 L241.7 833.7 L242.8 826.4 L244.0 828.8 L244.9 826.7 L245.8 838.2 L246.7 837.0 L247.6 834.9 L248.4 826.6 L249.3 822.3 L250.3 831.5 L251.3 831.0 L252.3 826.4 L253.3 830.1 L254.4 825.9 L255.6 825.2 L256.7 826.4 L257.8 828.2 L258.9 827.8 L260.0 841.3 L261.1 829.1 L262.2 828.4 L263.3 835.3 L264.2 832.5 L265.1 836.6 L266.0 837.5 L267.2 842.8 L268.3 856.1 L269.5 842.9 L270.7 839.1 L271.6 840.7 L272.4 846.4 L273.3 858.0 L274.2 853.3 L275.1 856.3 L276.0 858.3 L277.2 843.1 L278.3 831.5 L279.5 848.6 L280.7 849.4 L281.6 833.9 L282.4 830.6 L283.3 831.3 L284.4 838.6 L285.6 832.0 L286.7 843.9 L287.8 838.2 L288.9 829.9 L290.0 822.7 L290.9 822.5 L291.8 825.3 L292.7 839.7 L293.8 825.7 L295.0 824.5 L296.1 824.7 L297.2 835.6 L298.3 837.8 L299.4 828.4 L300.6 821.0 L301.7 826.5 L302.8 823.1 L303.9 835.4 L305.0 851.3 L305.9 849.6 L306.8 836.9 L307.7 822.1 L308.7 833.2 L309.7 816.5 L310.7 816.5 L311.6 819.8 L312.4 827.9 L313.3 821.6 L314.2 829.8 L315.1 840.2 L316.0 850.9 L317.2 847.1 L318.3 857.3 L319.5 854.4 L320.7 848.1 L321.6 844.4 L322.4 849.1 L323.3 850.5 L324.2 832.9 L325.1 826.4 L326.0 823.7 L327.1 839.1 L328.2 842.6 L329.3 849.3 L330.4 833.9 L331.6 836.9 L332.7 829.1 L333.8 835.6 L334.9 834.5 L336.0 840.7 L337.1 833.3 L338.2 833.6 L339.3 831.6 L340.3 834.9 L341.3 836.1 L342.3 837.9 L343.3 843.7 L344.4 843.6 L345.6 833.7 L346.7 835.9 L347.7 847.2 L348.7 852.1 L349.6 844.2 L350.4 842.9 L351.3 838.0 L352.2 836.8 L353.2 840.2 L354.1 838.9 L355.0 844.1 L356.1 848.6 L357.2 844.8 L358.3 856.4 L359.5 852.0 L360.7 840.4 L361.8 839.8 L362.8 836.6 L363.9 842.9 L365.0 841.1 L366.1 838.1 L367.2 838.7 L368.3 833.4 L369.5 840.8 L370.7 840.8 L371.8 842.4 L372.8 839.6 L373.9 835.8 L375.0 836.6 L376.0 837.0 L377.0 839.1 L378.0 842.3 L379.0 840.3 L380.0 840.5 L381.0 840.7 L382.0 841.2 L383.0 837.7 L384.0 836.0 L385.0 838.5 L386.0 838.7 L387.0 839.0 L388.0 842.8 L389.0 841.4 L390.0 844.2 L391.0 841.0 L392.0 841.0 L393.0 841.4 L394.0 840.6 L395.0 839.3 L396.0 838.1 L397.0 839.6 L398.0 839.6 L399.0 839.9 L400.0 841.9 L401.1 841.3 L402.2 840.9 L403.3 840.5 L404.4 840.1 L405.6 839.7 L406.7 839.3 L407.8 839.7 L408.9 840.1 L410.0 840.5 L411.1 840.9 L412.2 842.9 L413.3 842.7 L414.3 843.2 L415.3 844.6 L416.3 843.7 L417.3 844.2 L418.4 844.0 L419.5 842.4 L420.6 841.1 L421.7 840.6 L430.0 840.7 L431.4 840.2 L432.9 839.7 L434.3 839.3 L435.7 838.8 L437.1 838.3 L438.6 837.9 L440.0 837.3 L441.4 836.8 L442.8 836.2 L444.2 835.7 L445.6 835.0 L446.9 834.4 L448.3 833.8 L449.7 833.2 L451.1 832.5 L452.5 831.9 L453.9 831.2 L455.3 830.6 L456.7 830.0 L458.1 829.4 L459.4 828.8 L460.8 828.1 L462.2 827.5 L463.6 826.9 L465.0 826.2 L466.4 825.6 L467.8 825.0 L469.2 824.4 L470.6 823.8 L471.9 823.2 L473.3 822.7 L474.7 822.1 L476.1 821.6 L477.5 821.1 L478.9 820.5 L480.3 820.0 L481.7 819.5 L483.1 819.0 L484.4 818.5 L485.8 818.1 L487.2 817.6 L488.6 817.1 L490.0 816.7 L491.4 816.2 L492.8 815.8 L494.2 815.4 L495.6 814.9 L496.9 814.5 L498.3 814.1 L499.7 813.7 L501.1 813.3 L502.5 812.9 L503.9 812.5 L505.3 812.1 L506.7 811.7 L508.1 811.2 L509.4 810.8 L510.8 810.4 L512.2 810.0 L513.6 809.6 L515.0 809.2 L516.4 808.8 L517.8 808.3 L519.2 807.9 L520.6 807.5 L521.9 807.1 L523.3 806.7 L524.7 806.2 L526.1 805.8 L527.5 805.4 L528.9 804.9 L530.3 804.5 L531.7 804.0 L533.1 803.6 L534.4 803.2 L535.8 802.8 L537.2 802.4 L538.6 802.0 L540.0 801.7 L541.4 801.3 L542.8 801.0 L544.2 800.7 L545.6 800.4 L546.9 800.1 L548.3 799.8 L549.7 799.5 L551.1 799.2 L552.5 799.0 L553.9 798.7 L555.3 798.5 L556.7 798.3 L558.1 798.2 L559.4 798.0 L560.8 797.9 L562.2 797.7 L563.6 797.6 L565.0 797.5 L566.4 797.4 L567.8 797.2 L569.2 797.1 L570.6 797.0 L571.9 796.8 L573.3 796.7 L574.7 796.5 L576.1 796.3 L577.5 796.0 L578.9 795.8 L580.3 795.6 L581.7 795.3 L583.1 795.0 L584.4 794.8 L585.8 794.6 L587.2 794.4 L588.6 794.2 L590.0 794.0 L591.4 793.9 L592.8 793.7 L594.2 793.6 L595.6 793.4 L596.9 793.3 L598.3 793.2 L599.7 793.1 L601.1 793.0 L602.5 792.9 L603.9 792.8 L605.3 792.7 L606.7 792.7 L608.1 792.6 L609.4 792.6 L610.8 792.5 L612.2 792.5 L613.6 792.5 L615.0 792.4 L616.4 792.4 L617.8 792.4 L619.2 792.4 L620.6 792.3 L621.9 792.3 L623.3 792.3 L624.7 792.4 L626.1 792.5 L627.5 792.6 L628.9 792.8 L630.3 793.1 L631.7 793.3 L633.0 793.8 L634.3 794.6 L635.7 795.6 L637.0 796.9 L638.3 798.3 L639.6 800.0 L640.8 802.3 L642.1 805.0 L643.3 808.3 L644.4 812.3 L645.6 817.4 L646.7 823.3 L647.8 830.3 L648.9 838.4 L650.0 846.7 L651.3 859.1 L652.7 866.7 L654.1 864.0 L655.6 857.4 L657.0 849.0 L658.5 834.1 L660.0 819.0 L661.3 811.4 L662.7 805.4 L664.0 801.5 L665.2 799.1 L666.5 797.2 L667.8 795.8 L669.0 795.0 L670.4 794.6 L671.9 794.3 L673.3 794.0 L674.7 793.9 L676.1 793.7 L677.6 793.4 L679.0 793.0 L680.5 792.2 L682.0 790.8 L683.5 789.3 L685.0 788.0 L686.5 786.8 L688.0 785.6 L689.5 784.4 L691.0 783.3 L692.5 782.3 L694.0 781.5 L695.4 780.9 L696.9 780.4 L698.3 779.9 L699.7 779.5 L701.1 779.0 L702.6 778.5 L704.0 778.0 L705.4 777.4 L706.9 776.6 L708.3 775.9 L709.7 775.1 L711.1 774.3 L712.6 773.6 L714.0 773.0 L715.5 772.4 L717.0 771.8 L718.5 771.3 L720.0 770.8 L721.5 770.3 L723.0 769.8 L724.5 769.4 L726.0 768.9 L727.5 768.4 L729.0 768.0 L730.5 767.6 L732.0 767.1 L733.5 766.7 L735.0 766.3 L736.5 765.9 L738.0 765.6 L739.5 765.2 L741.0 764.8 L742.5 764.4 L744.0 764.0 L745.5 763.6 L747.0 763.2 L748.5 762.8 L750.0 762.4 L751.5 762.0 L753.0 761.6 L754.5 761.2 L756.0 760.8 L757.5 760.4 L759.0 760.0 L760.4 759.6 L761.9 759.2 L763.3 758.9 L764.7 758.5 L766.1 758.1 L767.6 757.7 L769.0 757.3 L770.4 756.9 L771.9 756.6 L773.3 756.2 L774.7 755.9 L776.1 755.6 L777.6 755.3 L779.0 755.0 L780.5 754.7 L781.9 754.5 L783.4 754.3 L784.9 754.0 L786.4 753.8 L787.8 753.6 L789.3 753.4 L790.8 753.2 L792.2 753.0 L793.7 752.8 L795.2 752.6 L796.6 752.4 L798.1 752.2 L799.6 752.1 L801.1 751.9 L802.5 751.7 L804.0 751.5 L805.5 751.3 L806.9 751.1 L808.4 750.9 L809.9 750.8 L811.4 750.6 L812.8 750.4 L814.3 750.3 L815.8 750.1 L817.2 749.9 L818.7 749.7 L820.2 749.6 L821.6 749.4 L823.1 749.2 L824.6 749.1 L826.1 748.9 L827.5 748.7 L829.0 748.5 L830.5 748.3 L831.9 748.1 L833.4 747.9 L834.9 747.7 L836.4 747.5 L837.8 747.3 L839.3 747.0 L840.8 746.8 L842.2 746.6 L843.7 746.4 L845.2 746.2 L846.6 746.0 L848.1 745.8 L849.6 745.6 L851.1 745.4 L852.5 745.2 L854.0 745.0 L855.5 744.8 L856.9 744.7 L858.4 744.5 L859.9 744.4 L861.4 744.2 L862.8 744.1 L864.3 744.0 L865.8 743.8 L867.2 743.7 L868.7 743.5 L870.2 743.4 L871.6 743.3 L873.1 743.1 L874.6 743.0 L876.1 742.8 L877.5 742.7 L879.0 742.5 L880.5 742.3 L881.9 742.1 L883.4 741.9 L884.9 741.7 L886.4 741.5 L887.8 741.3 L889.3 741.1 L890.8 740.9 L892.2 740.7 L893.7 740.5 L895.2 740.2 L896.6 740.0 L898.1 739.8 L899.6 739.6 L901.1 739.4 L902.5 739.2 L904.0 739.0 L905.5 738.8 L906.9 738.6 L908.4 738.4 L909.9 738.1 L911.4 737.9 L912.8 737.7 L914.3 737.4 L915.8 737.2 L917.2 737.0 L918.7 736.8 L920.2 736.6 L921.6 736.4 L923.1 736.3 L924.6 736.2 L926.1 736.1 L927.5 736.0 L929.0 736.0 L930.5 736.2 L932.0 736.8 L933.5 737.5 L935.0 738.3 L936.5 739.0 L941.5 743.0 L942.5 742.1 L943.5 739.7 L944.5 732.6 L945.5 729.2 L946.5 729.6 L947.5 729.7 L948.5 733.4 L949.5 733.9 L950.5 735.0 L951.5 735.7 L952.5 734.8 L953.5 730.6 L954.5 730.6 L955.5 727.6 L956.5 730.1 L957.5 727.0 L958.5 730.9 L959.5 729.3 L960.5 732.4 L961.5 732.2 L962.6 733.4 L963.6 734.3 L964.7 737.2 L965.8 734.4 L966.9 735.5 L967.9 738.1 L969.0 739.0 L970.1 738.8 L971.1 738.6 L972.2 738.4 L973.3 738.1 L974.4 737.9 L975.4 737.7 L976.5 737.5 L977.6 736.8 L978.6 737.8 L979.7 735.7 L980.8 733.5 L981.9 735.9 L982.9 733.2 L984.0 732.5 L985.2 732.2 L986.4 731.9 L987.5 731.6 L988.7 731.3 L989.9 731.0 L991.1 730.7 L992.2 730.4 L993.4 730.1 L994.6 729.9 L995.8 729.6 L996.9 729.3 L998.1 729.0 L999.3 728.7 L1000.5 728.4 L1001.6 728.1 L1002.8 727.8 L1004.0 727.5 L1005.2 727.3 L1006.4 727.2 L1007.6 727.0 L1008.8 726.8 L1010.0 726.7 L1011.1 726.5 L1012.3 726.3 L1013.5 726.2 L1014.7 726.0 L1015.9 725.8 L1017.1 725.7 L1018.3 725.5 L1019.5 725.3 L1020.7 725.2 L1021.9 725.0 L1023.0 724.8 L1024.2 724.7 L1025.4 724.5 L1026.6 724.3 L1027.8 724.2 L1029.0 724.0 L1030.2 723.8 L1031.3 723.7 L1032.5 723.5 L1033.6 723.4 L1034.8 723.2 L1035.9 723.1 L1037.1 722.9 L1038.2 722.8 L1039.4 722.6 L1040.5 722.5 L1041.7 722.3 L1042.8 722.2 L1044.0 722.0 L1045.2 722.3 L1046.4 722.5 L1047.6 722.8 L1048.8 723.1 L1050.0 723.3 L1051.2 723.2 L1052.4 723.0 L1053.6 722.9 L1054.8 722.8 L1056.0 722.6 L1057.1 722.5 L1058.3 722.3 L1059.5 722.2 L1060.7 722.0 L1061.9 721.9 L1063.1 721.8 L1064.3 721.6 L1065.5 721.5 L1066.7 721.3 L1067.9 721.2 L1069.0 721.0 L1070.2 720.9 L1071.4 720.8 L1072.6 720.6 L1073.8 720.5 L1075.0 720.3 L1076.2 720.2 L1077.4 720.0 L1078.6 719.9 L1079.8 719.8 L1081.0 719.6 L1082.1 719.5 L1083.3 719.3 L1084.5 719.2 L1085.7 719.0 L1086.9 718.9 L1088.1 718.8 L1089.3 718.6 L1090.5 718.5 L1091.7 718.3 L1092.9 718.2 L1094.0 718.0 L1095.2 717.9 L1096.4 717.8 L1097.6 717.6 L1098.8 717.5 L1100.0 717.3 L1101.1 717.1 L1102.2 716.8 L1103.3 716.6 L1104.4 716.3 L1105.6 716.0 L1106.7 715.8 L1107.8 715.5 L1108.9 715.3 L1110.0 715.0 L1111.1 715.2 L1112.2 715.3 L1113.3 715.5 L1114.4 715.7 L1115.6 715.8 L1116.7 716.0 L1117.7 715.5 L1118.7 714.9 L1119.7 714.4 L1120.7 713.9 L1121.7 713.3 L1122.9 714.5 L1124.0 718.8 L1125.2 715.1 L1126.4 718.1 L1127.6 717.6 L1128.8 719.8 L1130.0 722.7 L1131.1 717.4 L1132.2 717.7 L1133.3 712.8 L1134.4 712.8 L1135.6 715.5 L1136.7 713.1 L1137.8 713.0 L1138.9 713.0 L1140.0 712.9 L1141.1 712.8 L1142.2 712.7 L1143.3 712.7 L1144.4 712.5 L1145.6 712.3 L1146.7 712.2 L1147.8 711.9 L1148.9 711.8 L1150.0 713.0 L1151.1 715.4 L1152.2 718.1 L1153.3 718.7 L1154.2 720.4 L1155.1 718.5 L1156.0 715.0 L1157.0 713.2 L1158.1 711.4 L1159.1 712.1 L1160.2 714.0 L1161.2 714.7 L1162.3 713.3 L1163.3 714.4 L1164.4 713.1 L1165.6 712.0 L1166.7 711.4 L1167.8 710.2 L1168.9 709.5 L1170.0 709.8 L1171.1 709.7 L1172.2 709.6 L1173.3 709.6 L1174.4 709.5 L1175.6 709.4 L1176.7 709.3 L1177.8 708.9 L1178.9 708.4 L1180.0 708.0 L1181.1 708.5 L1182.2 707.1 L1183.3 706.9 L1184.4 705.4 L1185.6 709.0 L1186.7 709.5 L1187.8 720.9 L1188.9 717.0 L1190.0 729.1 L1191.1 716.9 L1192.2 719.3 L1193.3 701.9 L1194.4 704.3 L1195.6 703.7 L1196.7 704.3 L1197.8 702.4 L1198.9 708.2 L1200.0 707.8 L1201.1 711.3 L1202.2 716.1 L1203.3 719.9 L1204.4 714.5 L1205.6 714.4 L1206.7 704.2 L1207.8 710.0 L1208.9 703.9 L1210.0 704.2 L1211.1 703.9 L1212.2 703.6 L1213.3 703.3 L1214.3 703.5 L1215.3 703.6 L1216.3 702.9 L1217.3 705.4 L1218.3 709.2 L1219.4 703.1 L1220.6 706.5 L1221.7 715.7 L1222.8 712.9 L1224.0 715.4 L1224.9 716.3 L1225.8 719.5 L1226.7 729.5 L1227.6 729.2 L1228.4 724.2 L1229.3 712.7 L1230.5 708.3 L1231.7 708.1 L1232.6 718.9 L1233.4 723.7 L1234.3 724.9 L1235.5 723.3 L1236.7 732.3 L1237.6 725.7 L1238.4 722.1 L1239.3 711.1 L1240.5 719.3 L1241.7 716.9 L1242.8 710.0 L1243.9 715.0 L1245.0 728.2 L1246.1 720.2 L1247.2 735.1 L1248.3 729.4 L1249.2 734.0 L1250.1 736.6 L1251.0 733.7 L1252.0 730.6 L1253.0 724.9 L1254.0 727.5 L1255.1 725.9 L1256.2 713.0 L1257.2 724.5 L1258.3 713.3 L1259.2 716.9 L1260.1 731.6 L1261.0 756.7 L1262.2 752.2 L1263.3 761.1 L1264.2 761.1 L1265.1 751.7 L1266.0 742.1 L1267.2 735.0 L1268.3 736.8 L1269.4 742.3 L1270.6 744.3 L1271.7 746.5 L1272.8 733.6 L1274.0 725.6 L1274.9 730.7 L1275.8 722.5 L1276.7 712.9 L1277.7 733.1 L1278.7 748.7 L1279.7 753.1 L1280.7 754.9 L1281.6 754.9 L1282.4 739.8 L1283.3 737.9 L1284.2 725.8 L1285.1 715.7 L1286.0 718.4 L1287.2 724.0 L1288.3 739.0 L1289.5 728.0 L1290.7 720.1 L1291.6 730.8 L1292.4 724.9 L1293.3 744.9 L1294.5 757.5 L1295.7 756.6 L1296.6 744.9 L1297.4 742.1 L1298.3 732.8 L1299.5 736.0 L1300.7 723.1 L1301.6 723.1 L1302.4 732.3 L1303.3 742.3 L1304.3 746.1 L1305.3 747.1 L1306.3 746.4 L1307.3 729.2 L1308.3 716.8 L1309.2 722.9 L1310.1 720.4 L1311.0 713.2 L1312.0 721.2 L1313.0 720.0 L1314.0 720.4 L1314.9 718.2 L1315.8 719.8 L1316.7 711.1 L1317.7 712.4 L1318.7 711.3 L1319.7 710.2 L1320.7 711.7 L1321.6 710.3 L1322.4 711.5 L1323.3 709.3 L1324.4 709.2 L1325.6 709.4 L1326.7 707.1 L1327.8 707.8 L1328.9 708.0 L1330.0 712.1 L1330.9 706.7 L1331.8 711.9 L1332.7 722.5 L1333.8 732.6 L1335.0 717.7 L1336.2 734.7 L1337.3 748.0 L1338.3 744.2 L1339.3 759.7 L1340.2 763.1 L1341.0 764.9 L1342.2 749.6 L1343.3 738.3 L1344.2 736.4 L1345.1 748.9 L1346.0 744.6 L1347.2 755.4 L1348.3 759.0 L1349.2 747.2 L1350.1 732.1 L1351.0 724.5 L1352.2 728.5 L1353.3 717.6 L1354.4 721.4 L1355.6 738.7 L1356.7 737.5 L1357.8 745.7 L1358.9 735.6 L1360.0 727.7 L1360.9 745.8 L1361.8 752.5 L1362.7 744.2 L1363.8 744.3 L1365.0 762.2 L1365.8 768.3 L1366.7 766.1 L1370.4 722.3 L1371.4 718.0 L1372.3 715.2 L1373.0 719.9 L1373.8 726.7 L1374.6 733.2 L1375.3 736.9 L1376.1 726.0 L1376.9 713.4 L1377.9 709.8 L1378.9 710.8 L1379.6 712.1 L1380.4 717.0 L1381.2 721.2 L1381.9 725.8 L1382.7 734.1 L1383.5 741.0 L1384.1 728.5 L1384.7 718.5 L1385.6 714.9 L1386.6 712.6 L1387.3 718.4 L1388.1 723.6 L1388.9 725.9 L1389.6 732.7 L1390.2 743.6 L1390.9 753.7 L1391.5 743.3 L1392.2 729.3 L1393.2 723.8 L1394.2 721.0 L1395.4 723.3 L1396.5 724.8 L1397.7 720.6 L1398.8 718.3 L1400.0 719.1 L1401.1 722.7 L1402.3 723.9 L1403.4 724.5 L1404.6 726.4 L1405.8 727.0 L1406.9 730.9 L1408.1 737.5 L1409.2 746.6 L1410.4 753.5 L1411.1 749.2 L1411.9 742.1 L1413.0 739.1 L1414.2 737.5 L1415.3 735.6 L1416.5 734.4 L1417.7 735.3 L1418.8 737.0 L1419.8 740.0 L1420.8 742.3 L1421.7 735.1 L1422.6 726.1 L1423.4 723.5 L1424.2 722.4 L1424.9 727.0 L1425.7 731.5 L1426.9 727.0 L1428.0 722.4 L1429.2 723.0 L1430.3 724.5 L1431.5 728.4 L1432.6 731.5 L1433.4 727.5 L1434.2 723.4 L1435.3 724.2 L1436.5 726.1 L1437.2 730.6 L1438.0 734.2 L1438.8 729.4 L1439.5 724.5 L1440.7 724.5 L1441.8 724.5 L1443.0 725.1 L1444.1 726.1 L1445.3 727.2 L1446.4 728.8 L1447.2 732.1 L1448.0 736.9 L1448.7 743.5 L1449.5 747.7 L1450.3 743.1 L1451.1 738.6 L1452.2 738.6 L1453.4 738.6 L1454.4 739.7 L1455.4 742.3 L1456.4 745.0 L1457.5 747.8 L1458.5 750.7 L1459.5 753.1 L1460.5 754.6 L1461.4 755.8 L1462.4 757.0 L1463.3 758.5 L1464.3 760.7 L1465.3 763.3 L1466.2 766.3 L1467.2 769.3 L1468.1 772.4 L1469.1 775.7 L1470.1 779.2 L1471.0 782.8 L1472.0 786.5 L1472.9 790.4 L1473.9 794.5 L1474.9 799.0 L1475.9 804.5 L1476.9 810.8 L1477.9 817.9 L1479.1 827.5 L1480.2 839.5 L1481.0 850.5 L1481.8 863.8 L1482.5 879.5 L1483.3 896.2 L1484.1 913.9 L1484.8 928.6 L1485.6 938.8 L1486.4 943.8 L1487.4 934.0 L1488.1 920.2 L1488.7 901.6 L1489.4 877.2 L1490.2 853.0 L1491.0 831.3 L1491.7 815.2 L1492.5 806.0 L1493.3 801.7 L1494.1 801.7 L1494.8 801.7 L1496.0 806.1 L1497.1 812.5 L1498.1 816.3 L1499.2 819.7 L1500.2 821.7 L1501.3 822.8 L1502.5 823.3 L1503.5 822.4 L1504.5 820.3 L1505.6 817.9 L1506.5 815.6 L1507.5 812.8 L1508.4 809.9 L1509.4 807.1 L1510.4 804.0 L1511.5 800.9 L1512.5 799.0 L1513.6 798.3 L1514.8 798.0 L1515.8 799.0 L1516.8 801.6 L1517.9 804.4 L1518.8 807.3 L1519.8 810.6 L1520.7 814.2 L1521.7 817.9 L1522.7 821.7 L1523.6 825.8 L1524.6 829.9 L1525.5 834.1 L1526.7 839.4 L1527.8 845.0 L1529.0 850.5 L1530.1 855.7 L1531.3 860.8 L1532.4 865.8 L1533.6 870.5 L1534.7 874.6 L1535.9 878.1 L1537.0 881.2 L1538.1 884.1 L1539.2 886.8 L1540.3 889.5 L1541.4 892.3 L1542.5 895.4 L1543.7 898.9 L1544.8 903.1 L1546.0 907.7 L1547.1 912.7 L1548.3 917.8 L1549.2 922.3 L1550.2 926.9 L1551.1 931.8 L1552.1 936.7 L1553.1 942.0 L1554.0 947.5 L1555.0 953.0 L1555.9 958.3 L1557.0 964.2 L1558.0 969.9 L1559.0 974.5 L1560.0 977.9 L1560.9 980.8 L1561.9 983.3 L1562.8 985.3 L1563.9 987.3 L1564.9 989.0 L1565.9 989.7 L1566.9 989.7 L1568.0 989.7 L1569.0 989.7 L1570.0 988.5 L1571.0 985.8 L1572.1 982.6 L1573.1 978.9 L1574.1 974.3 L1575.1 969.1 L1576.2 963.2 L1577.2 956.6 L1578.2 950.2 L1579.2 944.4 L1580.3 938.9 L1581.3 934.0 L1582.3 929.9 L1583.3 926.1 L1584.3 923.2 L1585.4 921.0 L1586.4 919.1 L1587.4 917.8 L1588.4 917.1 L1589.5 916.5 L1590.5 916.2 L1591.5 916.5 L1592.5 917.1 L1593.6 917.8 L1594.5 919.0 L1595.5 920.6 L1596.4 922.5 L1597.4 924.3 L1598.6 926.5 L1599.7 928.8 L1600.9 931.1 L1602.0 933.0 L1603.2 934.7 L1604.3 936.5 L1605.5 937.8 L1606.6 938.4 L1607.8 936.1 L1608.9 931.3 L1609.7 926.8 L1610.5 920.5 L1611.2 911.9 L1612.0 901.6 L1613.1 885.9 L1614.3 869.2 L1615.4 851.7 L1616.6 834.1 L1617.7 817.4 L1618.9 801.7 L1619.9 789.4 L1620.9 777.8 L1622.0 766.6 L1623.0 755.4 L1624.0 744.5 L1625.0 734.2 L1626.1 724.2 L1627.1 714.8 L1628.1 707.2 L1629.1 702.1 L1630.2 698.0 L1631.2 693.2 L1632.2 686.6 L1633.2 678.9 L1634.3 671.6 L1635.3 665.0 L1636.3 658.7 L1637.3 652.7 L1638.4 647.0 L1639.4 641.6 L1640.4 636.5 L1641.4 631.7 L1642.4 627.2 L1643.5 623.0 L1644.5 619.2 L1645.5 615.7 L1646.5 612.2 L1647.6 608.6 L1648.6 604.9 L1649.6 601.4 L1650.6 598.2 L1651.5 595.0 L1652.5 592.0 L1653.5 589.5 L1654.4 587.2 L1655.4 584.9 L1656.3 583.2 L1657.3 582.5 L1658.3 582.7 L1659.2 583.3 L1660.2 584.1 L1661.1 585.2 L1662.2 587.6 L1663.2 591.6 L1664.2 596.0 L1665.2 600.7 L1666.2 606.1 L1667.3 612.2 L1668.3 619.3 L1669.3 627.5 L1670.3 636.5 L1671.5 648.4 L1672.6 660.8 L1673.8 672.7 L1675.0 682.4 L1676.1 688.9 L1677.3 693.2 L1678.3 695.7 L1679.4 697.7 L1680.5 699.2 L1681.6 699.7 L1682.4 697.4 L1683.3 692.4 L1684.2 687.8 L1685.2 683.2 L1686.2 678.9 L1687.2 677.0 L1688.4 679.6 L1689.5 685.1 L1690.7 693.3 L1691.8 704.0 L1692.8 712.6 L1693.8 721.7 L1694.7 732.1 L1695.7 745.0 L1696.8 770.0 L1698.0 799.0 L1699.1 824.4 L1700.3 847.6 L1701.4 868.7 L1702.6 885.4 L1703.7 895.7 L1704.9 904.3 L1706.0 913.8 L1707.2 923.2 L1708.4 933.3 L1709.5 942.1 L1710.7 948.5 L1711.8 952.9 L1712.6 954.8 L1713.3 955.6 L1714.5 952.0 L1715.6 944.8 L1716.8 935.7 L1717.9 923.2 L1719.1 906.0 L1720.3 885.4 L1721.3 866.8 L1722.2 847.6 L1723.4 825.7 L1724.6 804.4 L1725.7 784.9 L1726.9 766.6 L1728.0 749.8 L1729.2 734.2 L1730.3 719.6 L1731.5 705.9 L1732.7 693.2 L1733.8 681.7 L1735.0 671.6 L1736.1 662.9 L1737.3 655.4 L1738.3 649.7 L1739.3 644.6 L1740.4 639.2 L1741.4 632.7 L1742.4 625.9 L1743.4 620.3 L1744.5 616.0 L1745.5 612.3 L1746.5 609.5 L1747.5 607.4 L1748.4 605.7 L1749.4 604.2 L1750.4 603.0 L1751.4 601.8 L1752.4 600.8 L1753.4 600.3 L1754.6 603.4 L1755.7 609.5 L1756.9 618.5 L1758.0 628.4 L1759.0 635.4 L1759.9 639.2 L1760.8 638.8 L1761.7 637.7 L1762.6 636.5 L1763.7 634.5 L1764.7 632.2 L1765.7 631.1 L1766.9 631.9 L1768.0 632.7 L1769.2 631.3 L1770.3 628.4 L1771.5 623.9 L1772.6 618.7 L1773.8 613.8 L1774.9 611.1 L1776.1 612.2 L1777.2 613.3 L1778.0 611.4 L1778.8 609.5 L1779.9 612.2 L1781.1 614.9 L1781.8 608.4 L1782.6 596.0 L1783.4 578.9 L1784.1 563.6 L1785.3 553.1 L1786.4 547.4 L1787.5 545.2 L1788.5 543.6 L1789.5 543.1 L1790.5 543.3 L1791.6 543.9 L1792.6 544.7 L1793.6 546.6 L1794.6 549.8 L1795.7 552.8 L1796.8 556.2 L1798.0 558.2 L1799.0 556.1 L1800.0 551.6 L1801.0 547.4 L1802.1 543.9 L1803.1 540.7 L1804.1 539.3 L1805.1 539.5 L1806.1 540.1 L1807.2 540.9 L1808.3 543.8 L1809.5 548.5 L1810.6 554.4 L1811.8 560.9 L1812.9 567.3 L1814.1 571.7 L1815.1 572.8 L1816.1 573.4 L1817.2 574.4 L1818.3 578.0 L1819.5 580.9 L1820.6 577.6 L1821.8 574.4 L1822.8 577.8 L1823.8 585.2 L1824.7 596.5 L1825.6 612.2 L1826.4 628.1 L1827.1 644.6 L1827.9 659.9 L1828.7 671.6 L1829.4 678.4 L1830.2 682.4 L1831.2 684.2 L1832.3 685.1 L1833.3 686.7 L1834.4 692.0 L1835.6 698.6 L1836.6 703.8 L1837.6 706.7 L1838.5 702.6 L1839.4 695.9 L1840.2 690.8 L1841.0 687.8 L1842.1 687.8 L1843.3 687.8 L1844.0 677.6 L1844.8 660.8 L1845.9 641.4 L1847.1 623.0 L1848.2 605.4 L1849.4 590.6 L1850.6 580.5 L1851.7 571.7 L1852.9 560.9 L1854.0 552.8 L1855.2 549.5 L1856.3 547.4 L1857.5 546.1 L1858.6 544.7 L1859.6 540.2 L1860.6 536.6 L1861.5 539.9 L1862.5 546.3 L1863.2 553.9 L1864.0 560.9 L1865.1 566.3 L1866.3 569.0 L1867.3 569.4 L1868.3 569.6 L1869.4 570.1 L1870.4 577.0 L1871.4 590.6 L1872.1 605.5 L1872.9 623.0 L1873.8 642.3 L1874.7 660.8 L1875.7 677.6 L1876.6 693.2 L1877.6 709.3 L1878.6 723.4 L1879.3 733.3 L1880.1 739.6 L1881.1 742.0 L1882.2 743.3 L1883.2 745.0 L1884.3 748.6 L1885.5 753.1 L1886.3 757.4 L1887.0 760.2 L1887.9 757.9 L1888.9 753.1 L1889.5 747.2 L1890.1 742.3 L1891.2 740.9 L1892.4 739.6 L1893.6 736.2 L1894.7 731.5 L1895.9 726.1 L1897.0 720.7 L1897.8 717.3 L1898.5 715.3 L1899.6 734.2 L1900.2 722.1 L1900.8 709.9 L1901.6 714.6 L1902.4 723.4 L1903.1 734.1 L1903.9 745.0 L1905.1 755.8 L1906.2 766.6 L1907.0 776.6 L1907.8 788.2 L1908.4 798.7 L1909.0 809.8" stroke="#ff00ff"/>
<path d="M150.0 603.3 L151.1 603.5 L152.2 603.7 L153.3 603.9 L154.4 604.1 L155.6 604.3 L156.7 604.4 L157.8 604.6 L158.9 604.8 L160.0 605.0 L161.1 606.7 L162.2 607.3 L163.3 607.8 L164.4 606.4 L165.6 608.2 L166.7 608.4 L167.7 610.6 L168.7 610.0 L169.7 612.0 L170.7 615.1 L171.7 615.5 L172.7 615.9 L173.7 613.3 L174.7 611.0 L175.7 615.0 L176.7 611.7 L177.8 616.3 L178.9 622.0 L180.0 622.6 L181.0 615.8 L182.0 620.9 L183.0 615.3 L184.0 613.3 L185.0 609.5 L186.0 613.7 L187.0 604.3 L188.0 611.0 L189.0 602.6 L190.0 607.6 L190.9 619.0 L191.8 618.2 L192.7 620.6 L193.5 638.2 L194.3 648.1 L195.5 634.8 L196.7 617.2 L197.8 624.9 L198.9 618.1 L200.0 621.3 L201.1 620.4 L202.2 621.7 L203.3 610.6 L204.4 613.9 L205.6 619.8 L206.7 622.4 L207.8 622.7 L208.9 624.1 L210.0 624.1 L210.9 622.8 L211.8 631.3 L212.7 635.7 L213.8 637.3 L214.9 653.9 L216.0 647.5 L217.2 649.9 L218.3 656.8 L219.5 656.0 L220.7 643.4 L221.6 651.0 L222.4 633.6 L223.3 647.7 L224.2 650.8 L225.1 627.0 L226.0 624.4 L227.1 615.2 L228.2 641.8 L229.3 628.2 L230.4 627.7 L231.6 609.6 L232.7 619.1 L233.8 634.1 L235.0 648.1 L236.2 640.8 L237.3 631.5 L238.3 613.3 L239.3 619.2 L240.5 622.5 L241.7 621.4 L242.8 629.2 L244.0 605.6 L244.9 612.0 L245.8 620.1 L246.7 641.2 L247.6 622.0 L248.4 628.7 L249.3 616.9 L250.3 601.4 L251.3 601.9 L252.3 616.1 L253.3 614.3 L254.4 614.2 L255.6 614.2 L256.7 601.9 L257.8 611.1 L258.9 626.7 L260.0 627.4 L261.1 621.2 L262.2 633.2 L263.3 628.6 L264.2 640.0 L265.1 642.6 L266.0 643.1 L267.2 659.9 L268.3 665.2 L269.5 649.6 L270.7 627.6 L271.6 635.4 L272.4 647.5 L273.3 666.5 L274.2 664.9 L275.1 669.2 L276.0 674.8 L277.2 641.3 L278.3 637.9 L279.5 633.4 L280.7 648.5 L281.6 650.0 L282.4 622.4 L283.3 626.6 L284.4 615.0 L285.6 633.5 L286.7 639.7 L287.8 623.6 L288.9 620.6 L290.0 609.3 L290.9 616.1 L291.8 628.7 L292.7 621.7 L293.8 618.3 L295.0 615.6 L296.1 612.3 L297.2 636.1 L298.3 632.4 L299.4 636.9 L300.6 610.2 L301.7 611.0 L302.8 626.2 L303.9 630.8 L305.0 664.7 L305.9 646.7 L306.8 640.6 L307.7 621.1 L308.7 617.9 L309.7 612.9 L310.7 601.8 L311.6 630.6 L312.4 605.3 L313.3 652.4 L314.2 660.6 L315.1 651.6 L316.0 674.2 L317.2 673.8 L318.3 680.4 L319.5 652.4 L320.7 632.5 L321.6 640.4 L322.4 645.1 L323.3 679.3 L324.2 639.5 L325.1 627.9 L326.0 615.0 L327.1 639.3 L328.2 642.2 L329.3 657.2 L330.4 638.9 L331.6 629.5 L332.7 621.5 L333.8 625.7 L334.9 633.4 L336.0 645.7 L337.1 637.8 L338.2 625.7 L339.3 623.9 L340.3 623.3 L341.3 633.7 L342.3 636.1 L343.3 651.2 L344.4 632.5 L345.6 642.4 L346.7 628.2 L347.7 656.8 L348.7 663.6 L349.6 642.1 L350.4 648.1 L351.3 628.2 L352.2 633.0 L353.2 631.0 L354.1 653.7 L355.0 637.8 L356.1 662.4 L357.2 660.5 L358.3 672.5 L359.5 647.7 L360.7 631.2 L361.8 648.0 L362.8 644.4 L363.9 634.4 L365.0 649.8 L366.1 645.2 L367.2 632.8 L368.3 630.7 L369.5 642.2 L370.7 645.1 L371.8 648.2 L372.8 641.4 L373.9 640.5 L375.0 634.9 L376.0 639.7 L377.0 642.4 L378.0 643.0 L379.0 645.6 L380.0 645.8 L381.0 641.7 L382.0 639.3 L383.0 643.2 L384.0 635.3 L385.0 635.1 L386.0 636.7 L387.0 642.2 L388.0 644.1 L389.0 649.8 L390.0 648.5 L391.0 645.5 L392.0 645.6 L393.0 644.0 L394.0 643.1 L395.0 636.0 L396.0 641.8 L397.0 642.0 L398.0 643.3 L399.0 640.6 L400.0 643.1 L401.1 643.7 L402.2 643.2 L403.3 640.3 L404.4 640.6 L405.6 640.9 L406.7 639.3 L407.8 640.9 L408.9 641.0 L410.0 640.7 L411.1 642.0 L412.2 640.4 L413.3 643.0 L414.3 644.6 L415.3 647.2 L416.3 648.1 L417.3 648.3 L418.4 645.2 L419.5 643.6 L420.6 643.5 L421.7 640.1 L430.0 641.7 L431.4 641.0 L432.9 640.2 L434.3 639.5 L435.7 638.8 L437.1 638.1 L438.6 637.4 L440.0 636.7 L441.4 636.0 L442.9 635.2 L444.3 634.5 L445.7 633.8 L447.1 633.1 L448.6 632.4 L450.0 631.7 L451.4 631.0 L452.9 630.3 L454.3 629.6 L455.7 628.9 L457.1 628.1 L458.6 627.4 L460.0 626.7 L461.4 625.9 L462.9 625.1 L464.3 624.2 L465.7 623.4 L467.1 622.5 L468.6 621.7 L470.0 621.0 L471.4 620.3 L472.9 619.6 L474.3 619.0 L475.7 618.4 L477.1 617.8 L478.6 617.2 L480.0 616.7 L481.5 616.2 L483.0 615.7 L484.4 615.2 L485.9 614.7 L487.4 614.3 L488.9 613.9 L490.4 613.5 L491.9 613.1 L493.3 612.7 L494.8 612.3 L496.3 611.9 L497.8 611.5 L499.3 611.2 L500.7 610.8 L502.2 610.4 L503.7 610.1 L505.2 609.7 L506.7 609.3 L508.1 609.0 L509.4 608.6 L510.8 608.2 L512.2 607.9 L513.6 607.5 L515.0 607.1 L516.4 606.7 L517.8 606.4 L519.2 606.0 L520.6 605.7 L521.9 605.3 L523.3 605.0 L524.7 604.7 L526.1 604.4 L527.5 604.1 L528.9 603.8 L530.3 603.5 L531.7 603.3 L533.1 603.0 L534.4 602.7 L535.8 602.5 L537.2 602.2 L538.6 601.9 L540.0 601.7 L541.4 601.4 L542.8 601.0 L544.2 600.7 L545.6 600.3 L546.9 599.9 L548.3 599.6 L549.7 599.2 L551.1 599.0 L552.5 598.7 L553.9 598.5 L555.3 598.4 L556.7 598.3 L558.1 598.3 L559.4 598.3 L560.8 598.3 L562.2 598.3 L563.6 598.3 L565.0 598.3 L566.4 598.3 L567.8 598.3 L569.2 598.3 L570.6 598.3 L571.9 598.3 L573.3 598.3 L574.7 598.3 L576.1 598.2 L577.5 598.1 L578.9 598.0 L580.3 597.8 L581.7 597.7 L583.1 597.5 L584.4 597.3 L585.8 597.1 L587.2 596.9 L588.6 596.8 L590.0 596.7 L591.4 596.6 L592.8 596.5 L594.2 596.4 L595.6 596.3 L596.9 596.2 L598.3 596.1 L599.7 596.0 L601.1 596.0 L602.5 595.9 L603.9 595.8 L605.3 595.7 L606.7 595.7 L608.1 595.6 L609.4 595.5 L610.8 595.4 L612.2 595.4 L613.6 595.3 L615.0 595.2 L616.4 595.2 L617.8 595.1 L619.2 595.1 L620.6 595.0 L621.9 595.0 L623.3 595.0 L624.7 595.1 L626.1 595.2 L627.5 595.5 L628.9 595.8 L630.3 596.2 L631.7 596.7 L633.0 597.2 L634.3 598.1 L635.7 599.1 L637.0 600.3 L638.3 601.7 L639.6 603.1 L640.8 605.0 L642.1 607.2 L643.3 610.0 L644.4 613.4 L645.6 618.0 L646.7 623.3 L647.8 630.0 L648.9 638.2 L650.0 646.7 L651.3 660.0 L652.7 668.3 L654.1 666.4 L655.6 661.6 L657.0 655.0 L658.5 640.9 L660.0 625.0 L661.3 615.4 L662.7 607.2 L664.0 602.5 L665.2 600.5 L666.5 598.9 L667.8 597.9 L669.0 597.5 L670.2 597.5 L671.5 597.5 L672.8 597.5 L674.0 597.5 L675.2 597.7 L676.5 598.2 L677.8 598.8 L679.0 599.0 L680.5 598.4 L682.0 597.0 L683.5 595.4 L685.0 594.0 L686.5 593.0 L688.0 592.1 L689.5 591.2 L691.0 590.3 L692.5 589.6 L694.0 589.0 L695.5 588.5 L697.0 588.0 L698.5 587.5 L700.0 587.0 L701.5 586.6 L703.0 586.2 L704.5 585.9 L706.0 585.6 L707.5 585.3 L709.0 585.0 L710.4 584.8 L711.9 584.5 L713.3 584.3 L714.7 584.1 L716.1 584.0 L717.6 583.8 L719.0 583.6 L720.4 583.5 L721.9 583.3 L723.3 583.2 L724.7 583.0 L726.1 582.8 L727.6 582.7 L729.0 582.5 L730.4 582.3 L731.9 582.1 L733.3 581.9 L734.7 581.7 L736.1 581.5 L737.6 581.3 L739.0 581.1 L740.4 580.9 L741.9 580.7 L743.3 580.6 L744.7 580.4 L746.1 580.2 L747.6 580.1 L749.0 580.0 L750.4 579.9 L751.9 579.8 L753.3 579.7 L754.7 579.6 L756.1 579.6 L757.6 579.5 L759.0 579.4 L760.4 579.3 L761.9 579.3 L763.3 579.2 L764.7 579.2 L766.1 579.1 L767.6 579.0 L769.0 579.0 L770.4 579.0 L771.9 578.9 L773.3 578.9 L774.7 578.8 L776.1 578.8 L777.6 578.8 L779.0 578.8 L780.4 578.7 L781.9 578.7 L783.3 578.7 L784.7 578.6 L786.1 578.6 L787.6 578.5 L789.0 578.5 L790.4 578.4 L791.9 578.4 L793.3 578.3 L794.7 578.3 L796.1 578.2 L797.6 578.1 L799.0 578.0 L800.4 578.0 L801.9 577.9 L803.3 577.8 L804.7 577.7 L806.1 577.6 L807.6 577.6 L809.0 577.5 L810.4 577.4 L811.9 577.4 L813.3 577.3 L814.7 577.2 L816.1 577.1 L817.6 577.0 L819.0 577.0 L820.4 576.9 L821.9 576.8 L823.3 576.7 L824.7 576.7 L826.1 576.6 L827.6 576.6 L829.0 576.5 L830.4 576.5 L831.9 576.4 L833.3 576.4 L834.7 576.3 L836.1 576.3 L837.6 576.3 L839.0 576.3 L840.4 576.2 L841.9 576.2 L843.3 576.2 L844.7 576.1 L846.1 576.1 L847.6 576.0 L849.0 576.0 L850.4 575.9 L851.9 575.9 L853.3 575.8 L854.7 575.8 L856.1 575.7 L857.6 575.6 L859.0 575.5 L860.4 575.5 L861.9 575.4 L863.3 575.3 L864.7 575.2 L866.1 575.1 L867.6 575.1 L869.0 575.0 L870.4 574.9 L871.9 574.8 L873.3 574.7 L874.7 574.7 L876.1 574.6 L877.6 574.5 L879.0 574.4 L880.4 574.3 L881.9 574.2 L883.3 574.1 L884.7 574.1 L886.1 574.0 L887.6 574.0 L889.0 574.0 L890.4 574.0 L891.9 574.0 L893.3 574.0 L894.7 574.0 L896.1 574.0 L897.6 574.0 L899.0 574.0 L900.4 574.0 L901.9 574.0 L903.3 574.0 L904.7 574.0 L906.1 574.0 L907.6 574.0 L909.0 574.0 L910.4 574.0 L911.9 574.0 L913.3 573.9 L914.7 573.9 L916.1 573.9 L917.6 573.8 L919.0 573.8 L920.4 573.7 L921.9 573.6 L923.3 573.6 L924.7 573.6 L926.1 573.5 L927.6 573.5 L929.0 573.5 L930.3 573.6 L931.6 573.7 L932.9 574.0 L934.2 574.4 L935.5 575.0 L936.7 577.6 L937.8 582.5 L939.0 587.5 L944.0 595.0 L945.1 594.6 L946.1 594.3 L947.2 593.9 L948.3 593.6 L949.4 593.2 L950.4 592.9 L951.5 592.5 L952.6 591.7 L953.6 590.9 L954.7 591.4 L955.8 591.2 L956.8 587.4 L957.9 587.6 L958.9 586.8 L960.0 586.0 L961.1 589.7 L962.2 587.1 L963.2 590.4 L964.3 588.8 L965.4 593.0 L966.5 592.5 L967.5 592.8 L968.5 593.1 L969.5 593.4 L970.5 592.5 L971.5 594.8 L972.5 594.1 L973.5 593.0 L974.5 590.2 L975.5 590.8 L976.5 594.1 L977.7 583.4 L978.9 584.2 L980.1 585.3 L981.3 581.7 L982.5 577.7 L983.6 576.3 L984.7 577.7 L985.8 573.8 L986.8 575.4 L987.9 574.8 L989.0 572.5 L990.2 572.4 L991.3 572.3 L992.5 572.3 L993.6 572.2 L994.8 572.1 L995.9 572.0 L997.1 572.0 L998.2 571.9 L999.4 571.8 L1000.5 571.7 L1001.7 571.7 L1002.8 571.6 L1004.0 571.5 L1005.2 571.5 L1006.4 571.4 L1007.5 571.4 L1008.7 571.4 L1009.9 571.4 L1011.1 571.3 L1012.2 571.3 L1013.4 571.3 L1014.6 571.2 L1015.8 571.2 L1016.9 571.2 L1018.1 571.1 L1019.3 571.1 L1020.5 571.1 L1021.6 571.1 L1022.8 571.0 L1024.0 571.0 L1025.2 571.0 L1026.4 571.1 L1027.5 571.1 L1028.7 571.1 L1029.9 571.1 L1031.1 571.2 L1032.2 571.2 L1033.4 571.2 L1034.6 571.3 L1035.8 571.3 L1036.9 571.3 L1038.1 571.4 L1039.3 571.4 L1040.5 571.4 L1041.6 571.4 L1042.8 571.5 L1044.0 571.5 L1045.2 571.9 L1046.4 572.2 L1047.6 572.6 L1048.8 573.0 L1050.0 573.3 L1051.1 573.5 L1052.2 573.7 L1053.3 573.9 L1054.4 574.1 L1055.6 574.3 L1056.7 574.4 L1057.8 574.6 L1058.9 574.8 L1060.0 575.0 L1061.0 575.5 L1062.0 575.9 L1063.0 576.4 L1064.0 576.1 L1065.0 577.1 L1066.0 576.2 L1067.0 576.1 L1068.0 574.8 L1069.0 575.5 L1070.0 574.7 L1071.1 573.5 L1072.2 573.6 L1073.3 573.8 L1074.4 573.9 L1075.6 574.0 L1076.7 574.2 L1077.8 574.3 L1078.9 574.4 L1080.0 574.6 L1081.1 574.7 L1082.2 574.9 L1083.3 575.0 L1084.4 574.9 L1085.6 574.8 L1086.7 574.7 L1087.8 574.6 L1088.9 574.4 L1090.0 574.3 L1091.1 574.2 L1092.2 574.1 L1093.3 574.0 L1094.4 574.3 L1095.6 574.6 L1096.7 574.9 L1097.8 575.2 L1098.9 575.5 L1100.0 575.8 L1101.1 576.1 L1102.2 576.4 L1103.3 576.7 L1104.4 575.9 L1105.6 576.7 L1106.7 574.2 L1107.8 573.7 L1108.9 574.5 L1110.0 574.2 L1111.0 574.9 L1112.0 576.0 L1113.0 577.9 L1114.0 575.1 L1115.0 578.5 L1116.1 580.7 L1117.2 578.5 L1118.3 582.0 L1119.4 578.2 L1120.6 575.9 L1121.7 575.3 L1122.7 576.8 L1123.7 578.9 L1124.7 574.5 L1125.7 578.4 L1126.7 583.3 L1127.8 584.7 L1128.9 585.4 L1130.0 585.6 L1131.1 584.7 L1132.2 576.4 L1133.3 575.5 L1134.3 576.9 L1135.3 575.7 L1136.3 579.1 L1137.3 578.6 L1138.3 580.2 L1139.3 580.8 L1140.3 578.3 L1141.3 577.5 L1142.3 577.7 L1143.3 576.7 L1144.4 576.8 L1145.6 576.9 L1146.7 577.0 L1147.8 581.1 L1148.9 575.9 L1150.0 576.9 L1151.1 578.1 L1152.2 585.6 L1153.3 588.4 L1154.2 585.4 L1155.1 583.9 L1156.0 575.9 L1157.0 583.4 L1158.0 582.6 L1159.0 585.1 L1160.0 584.3 L1161.1 586.3 L1162.2 586.6 L1163.3 588.2 L1164.4 583.6 L1165.6 580.8 L1166.7 577.7 L1167.7 578.4 L1168.7 583.1 L1169.7 581.2 L1170.7 581.5 L1171.7 580.7 L1172.7 580.6 L1173.7 580.6 L1174.7 580.3 L1175.7 579.0 L1176.7 578.8 L1177.8 578.6 L1178.9 578.9 L1180.0 579.2 L1181.1 581.1 L1182.2 579.2 L1183.3 579.9 L1184.4 586.8 L1185.6 580.5 L1186.7 588.4 L1187.8 589.8 L1188.9 590.4 L1190.0 604.7 L1191.1 588.9 L1192.2 595.4 L1193.3 588.6 L1194.4 580.6 L1195.6 586.4 L1196.7 574.3 L1197.8 579.3 L1198.9 578.8 L1200.0 580.6 L1201.1 597.2 L1202.2 588.4 L1203.3 600.5 L1204.4 594.0 L1205.6 589.7 L1206.7 578.9 L1207.8 586.5 L1208.9 584.7 L1210.0 579.2 L1211.1 578.9 L1212.2 578.6 L1213.3 578.3 L1214.3 578.7 L1215.3 579.0 L1216.3 577.6 L1217.3 577.7 L1218.3 577.0 L1219.4 584.5 L1220.6 581.9 L1221.7 597.8 L1222.8 596.6 L1224.0 605.8 L1224.9 600.9 L1225.8 609.9 L1226.7 609.9 L1227.6 606.5 L1228.4 596.3 L1229.3 599.0 L1230.5 595.1 L1231.7 594.6 L1232.6 590.7 L1233.4 593.4 L1234.3 598.2 L1235.5 603.1 L1236.7 617.3 L1237.6 603.4 L1238.4 606.1 L1239.3 586.8 L1240.5 592.8 L1241.7 586.8 L1242.8 591.4 L1243.9 604.1 L1245.0 608.0 L1246.1 619.8 L1247.2 605.4 L1248.3 611.2 L1249.2 611.7 L1250.1 617.5 L1251.0 626.5 L1252.0 620.0 L1253.0 613.7 L1254.0 604.9 L1255.1 611.2 L1256.2 605.8 L1257.2 589.6 L1258.3 588.4 L1259.2 594.0 L1260.1 630.1 L1261.0 638.6 L1262.2 629.0 L1263.3 638.9 L1264.2 634.2 L1265.1 635.6 L1266.0 629.3 L1267.2 618.4 L1268.3 617.9 L1269.4 622.6 L1270.6 639.5 L1271.7 640.2 L1272.8 638.9 L1274.0 608.6 L1274.9 615.8 L1275.8 608.5 L1276.7 616.3 L1277.7 612.2 L1278.7 623.3 L1279.7 653.1 L1280.7 654.3 L1281.6 642.0 L1282.4 626.4 L1283.3 610.2 L1284.2 616.3 L1285.1 627.6 L1286.0 604.6 L1287.2 613.7 L1288.3 623.5 L1289.5 606.4 L1290.7 598.5 L1291.6 617.0 L1292.4 645.4 L1293.3 653.5 L1294.5 641.4 L1295.7 661.4 L1296.6 660.9 L1297.4 640.9 L1298.3 624.9 L1299.5 613.5 L1300.7 621.6 L1301.6 628.9 L1302.4 624.8 L1303.3 631.1 L1304.3 633.1 L1305.3 645.9 L1306.3 643.6 L1307.3 625.2 L1308.3 618.0 L1309.2 618.2 L1310.1 604.6 L1311.0 609.6 L1312.0 610.3 L1313.0 618.6 L1314.0 613.7 L1314.9 616.1 L1315.8 602.3 L1316.7 602.2 L1317.7 607.0 L1318.7 596.0 L1319.7 602.1 L1320.7 600.2 L1321.6 600.3 L1322.4 598.6 L1323.3 598.6 L1324.4 596.7 L1325.6 598.4 L1326.7 597.3 L1327.8 599.0 L1328.9 594.7 L1330.0 593.4 L1330.9 602.9 L1331.8 593.8 L1332.7 612.7 L1333.8 603.2 L1335.0 631.4 L1336.2 644.7 L1337.3 660.9 L1338.3 638.5 L1339.3 651.6 L1340.2 665.4 L1341.0 676.5 L1342.2 646.7 L1343.3 633.2 L1344.2 637.8 L1345.1 635.9 L1346.0 656.7 L1347.2 658.8 L1348.3 672.4 L1349.2 668.4 L1350.1 652.3 L1351.0 623.8 L1352.2 633.1 L1353.3 624.1 L1354.4 635.3 L1355.6 630.0 L1356.7 643.4 L1357.8 648.1 L1358.9 641.0 L1360.0 635.5 L1360.9 643.6 L1361.8 653.2 L1362.7 663.8 L1363.8 675.4 L1365.0 681.9 L1365.8 686.3 L1366.7 683.6 L1370.4 626.4 L1371.2 617.4 L1372.0 612.3 L1372.7 621.2 L1373.5 629.1 L1374.3 620.8 L1375.0 612.1 L1376.1 645.3 L1376.7 627.4 L1377.3 608.7 L1378.5 608.3 L1379.6 607.7 L1380.4 611.0 L1381.2 619.5 L1381.9 622.8 L1382.7 632.4 L1383.3 638.3 L1383.9 646.1 L1384.6 632.4 L1385.2 613.3 L1385.9 614.9 L1386.6 613.3 L1387.3 614.2 L1388.1 618.3 L1388.9 621.4 L1389.6 629.7 L1390.2 649.6 L1390.9 661.2 L1391.5 647.9 L1392.2 631.1 L1392.9 624.3 L1393.5 621.7 L1394.6 622.8 L1395.8 623.7 L1396.9 616.6 L1398.1 615.2 L1399.0 612.7 L1399.9 618.9 L1400.9 623.4 L1401.9 629.8 L1402.7 627.0 L1403.4 622.8 L1404.2 622.2 L1405.0 621.7 L1406.1 623.8 L1407.3 632.7 L1408.1 635.0 L1408.8 639.1 L1409.6 648.7 L1410.4 656.6 L1411.1 645.4 L1411.9 634.0 L1413.0 629.9 L1414.2 628.1 L1415.3 627.6 L1416.5 626.1 L1417.7 628.1 L1418.8 631.7 L1419.8 637.9 L1420.8 642.5 L1421.7 634.1 L1422.6 623.4 L1423.4 619.7 L1424.2 618.0 L1424.9 624.8 L1425.7 631.6 L1426.9 626.2 L1428.0 620.7 L1429.2 621.5 L1430.3 623.4 L1431.5 629.4 L1432.6 634.3 L1433.4 628.9 L1434.2 623.4 L1435.3 624.2 L1436.5 626.2 L1437.2 633.4 L1438.0 639.8 L1438.8 633.0 L1439.5 626.2 L1440.7 626.2 L1441.8 626.2 L1443.0 627.5 L1444.1 628.9 L1445.3 628.9 L1446.4 628.9 L1447.2 632.7 L1448.0 639.8 L1448.7 649.5 L1449.5 656.1 L1450.3 648.3 L1451.1 639.8 L1452.2 637.7 L1453.4 637.0 L1454.5 637.9 L1455.7 639.8 L1456.7 643.1 L1457.7 647.7 L1458.7 650.6 L1459.7 651.5 L1460.7 652.1 L1461.6 652.6 L1462.6 653.4 L1463.5 654.6 L1464.5 656.4 L1465.5 658.4 L1466.4 660.4 L1467.4 662.4 L1468.3 664.6 L1469.3 666.9 L1470.2 669.7 L1471.2 673.1 L1472.2 677.1 L1473.1 681.5 L1474.1 686.0 L1475.0 690.2 L1476.0 694.5 L1477.0 699.3 L1477.9 705.0 L1479.1 714.2 L1480.2 726.8 L1481.0 739.1 L1481.8 754.0 L1482.5 770.3 L1483.3 786.6 L1484.1 802.1 L1484.8 813.8 L1485.6 820.5 L1486.4 823.6 L1487.4 813.8 L1488.1 799.7 L1488.7 781.2 L1489.4 759.3 L1490.2 737.7 L1491.0 716.3 L1491.7 699.6 L1492.5 689.3 L1493.3 684.4 L1494.1 684.4 L1494.8 684.4 L1496.0 688.2 L1497.1 694.2 L1498.1 698.2 L1499.2 701.9 L1500.2 703.9 L1501.2 704.5 L1502.2 704.9 L1503.3 705.0 L1504.2 704.5 L1505.2 703.1 L1506.1 701.4 L1507.1 699.6 L1508.1 697.7 L1509.0 695.5 L1510.0 693.3 L1510.9 691.4 L1511.9 689.7 L1512.9 687.9 L1513.8 686.5 L1514.8 686.0 L1515.8 686.9 L1516.8 689.0 L1517.9 691.4 L1518.8 693.8 L1519.8 696.5 L1520.7 699.5 L1521.7 702.3 L1522.7 704.9 L1523.6 707.4 L1524.6 710.1 L1525.5 713.2 L1526.7 718.1 L1527.8 724.0 L1529.0 730.0 L1530.1 735.0 L1531.3 738.8 L1532.4 742.1 L1533.6 745.2 L1534.7 748.6 L1535.8 751.8 L1536.8 755.2 L1537.8 758.6 L1538.8 761.8 L1539.8 764.9 L1540.9 767.7 L1542.0 770.2 L1543.0 772.7 L1544.1 775.3 L1545.2 778.5 L1546.1 781.8 L1547.1 785.7 L1548.1 790.1 L1549.0 794.8 L1550.0 800.3 L1550.9 806.6 L1551.9 813.1 L1552.9 819.3 L1553.8 824.7 L1554.8 829.7 L1555.7 835.0 L1556.7 841.0 L1557.9 851.2 L1559.0 860.6 L1560.0 865.4 L1560.9 869.4 L1561.9 872.6 L1562.8 875.3 L1563.9 877.8 L1564.9 879.8 L1565.9 881.3 L1566.9 882.3 L1568.0 883.1 L1569.0 883.5 L1570.0 882.4 L1571.0 879.9 L1572.1 876.9 L1573.1 873.3 L1574.1 868.6 L1575.1 863.3 L1576.2 857.8 L1577.2 851.5 L1578.2 844.3 L1579.4 832.5 L1580.5 822.0 L1581.5 817.4 L1582.6 814.0 L1583.6 811.1 L1584.6 808.3 L1585.6 805.7 L1586.7 804.0 L1587.7 803.0 L1588.7 802.2 L1589.7 801.9 L1590.7 802.3 L1591.8 803.3 L1592.8 804.6 L1593.8 806.6 L1594.8 809.1 L1595.9 811.1 L1596.9 812.1 L1597.9 812.8 L1598.9 813.8 L1599.9 815.7 L1600.9 818.4 L1601.8 821.2 L1602.8 823.6 L1603.7 825.7 L1604.7 827.9 L1605.7 829.5 L1606.6 830.2 L1607.8 828.1 L1608.9 823.6 L1609.7 818.4 L1610.5 811.1 L1611.6 797.1 L1612.8 781.2 L1613.9 766.1 L1615.1 751.3 L1616.2 737.2 L1617.4 724.1 L1618.4 713.2 L1619.4 702.9 L1620.4 694.2 L1621.5 687.1 L1622.5 680.9 L1623.5 675.1 L1624.5 669.6 L1625.6 664.3 L1626.6 658.8 L1627.6 652.6 L1628.6 646.0 L1629.6 639.8 L1630.7 633.9 L1631.7 628.3 L1632.7 623.4 L1633.7 619.4 L1634.8 615.8 L1635.8 612.6 L1636.8 609.5 L1637.7 606.7 L1638.7 604.0 L1639.6 601.7 L1640.6 599.4 L1641.6 597.1 L1642.5 595.3 L1643.5 594.6 L1644.4 594.6 L1645.4 594.6 L1646.3 594.6 L1647.3 594.6 L1648.3 593.6 L1649.2 591.3 L1650.2 588.6 L1651.1 586.4 L1652.1 584.7 L1653.1 582.9 L1654.0 581.5 L1655.0 581.0 L1655.9 581.3 L1656.9 582.2 L1657.9 583.3 L1658.8 584.3 L1659.8 585.1 L1660.7 585.8 L1661.7 586.8 L1662.7 588.1 L1663.7 590.6 L1664.7 594.6 L1665.7 599.0 L1666.8 603.9 L1667.8 609.6 L1668.8 615.3 L1669.8 620.8 L1670.9 626.4 L1671.9 631.6 L1672.9 636.4 L1673.9 641.0 L1675.0 645.2 L1676.0 649.2 L1677.0 652.9 L1678.0 656.1 L1679.2 659.7 L1680.4 662.9 L1681.6 664.2 L1682.4 662.5 L1683.3 659.0 L1684.2 656.1 L1685.3 653.5 L1686.5 652.3 L1687.6 654.4 L1688.8 658.8 L1689.9 665.9 L1691.1 675.1 L1692.2 684.0 L1693.4 694.2 L1694.5 706.7 L1695.7 721.4 L1696.8 738.8 L1698.0 756.7 L1699.1 772.4 L1700.3 786.6 L1701.4 800.0 L1702.6 811.1 L1703.6 818.3 L1704.6 824.3 L1705.7 830.2 L1706.4 834.4 L1707.2 838.9 L1708.4 848.3 L1709.5 857.9 L1710.7 865.9 L1711.8 871.5 L1712.6 873.4 L1713.3 874.2 L1714.5 871.7 L1715.6 866.1 L1716.4 859.4 L1717.2 849.7 L1718.2 831.8 L1719.2 808.4 L1720.2 784.5 L1721.2 764.9 L1722.3 748.7 L1723.5 735.0 L1724.6 721.6 L1725.8 710.5 L1726.8 703.2 L1727.8 697.1 L1728.9 691.4 L1729.8 686.3 L1730.8 681.5 L1731.7 676.8 L1732.7 672.4 L1733.7 668.0 L1734.6 663.7 L1735.6 659.6 L1736.5 656.1 L1737.5 652.9 L1738.5 650.1 L1739.4 647.5 L1740.4 645.2 L1741.3 643.1 L1742.3 641.1 L1743.2 639.4 L1744.2 638.1 L1745.4 636.8 L1746.5 635.6 L1747.7 634.7 L1748.8 634.3 L1750.0 634.4 L1751.1 634.6 L1752.3 634.9 L1753.4 635.4 L1754.6 639.2 L1755.7 645.2 L1756.9 651.0 L1758.0 656.1 L1759.2 659.7 L1760.3 661.5 L1761.4 661.2 L1762.4 660.7 L1763.4 660.4 L1764.4 660.8 L1765.5 661.7 L1766.5 662.6 L1767.6 663.6 L1768.8 664.2 L1769.8 663.6 L1770.8 662.1 L1771.9 660.4 L1772.9 658.3 L1773.9 656.1 L1774.9 655.0 L1776.1 660.4 L1777.2 665.9 L1778.0 662.3 L1778.8 658.8 L1779.9 659.6 L1781.1 660.4 L1782.0 654.3 L1782.9 645.2 L1783.9 638.6 L1784.9 634.3 L1785.9 632.4 L1787.0 631.2 L1788.0 630.5 L1789.0 630.2 L1790.0 630.0 L1791.0 630.0 L1792.1 630.7 L1793.1 632.4 L1794.1 634.3 L1795.1 636.5 L1796.0 639.2 L1797.0 641.5 L1798.0 642.5 L1799.0 641.2 L1800.0 638.8 L1801.0 637.0 L1802.0 636.4 L1802.9 635.9 L1803.9 635.5 L1804.9 635.4 L1805.9 636.7 L1806.9 639.6 L1807.9 642.5 L1809.0 644.8 L1810.0 647.1 L1811.0 649.5 L1812.0 652.1 L1813.1 654.8 L1814.1 657.2 L1815.1 659.2 L1816.1 660.9 L1817.2 662.6 L1818.3 664.7 L1819.5 665.9 L1820.6 664.2 L1821.8 662.6 L1822.8 665.5 L1823.8 671.3 L1824.7 679.0 L1825.6 688.7 L1826.5 700.2 L1827.4 710.5 L1828.4 718.1 L1829.4 722.4 L1830.6 723.6 L1831.7 724.1 L1832.9 724.1 L1834.0 724.1 L1835.2 727.8 L1836.3 733.3 L1837.3 736.2 L1838.2 737.7 L1839.2 735.7 L1840.2 733.3 L1841.2 732.9 L1842.2 732.7 L1843.3 732.2 L1844.4 727.2 L1845.6 718.6 L1846.7 708.2 L1847.9 699.6 L1848.6 697.0 L1849.4 695.8 L1850.2 698.2 L1850.9 700.7 L1852.1 690.1 L1853.2 677.8 L1854.4 675.1 L1855.5 674.0 L1856.7 677.3 L1857.8 680.6 L1859.0 677.8 L1860.2 675.1 L1861.3 679.6 L1862.5 686.0 L1863.6 688.9 L1864.8 691.4 L1865.9 694.4 L1867.1 696.9 L1868.0 697.8 L1868.9 698.4 L1869.8 699.6 L1870.7 705.7 L1871.7 715.9 L1872.4 726.8 L1873.2 737.7 L1874.0 745.2 L1874.7 751.3 L1875.9 757.9 L1877.0 764.9 L1877.8 773.2 L1878.6 781.2 L1879.7 788.0 L1880.9 792.1 L1882.0 793.5 L1883.2 794.8 L1884.3 797.3 L1885.5 800.2 L1886.6 803.6 L1887.8 805.7 L1888.9 801.6 L1890.1 797.5 L1891.2 797.5 L1892.4 797.5 L1893.6 795.6 L1894.7 793.2 L1895.9 792.4 L1897.0 792.1 L1897.8 794.7 L1898.5 800.2 L1899.6 813.8 L1900.4 801.6 L1901.2 789.4 L1902.2 794.4 L1903.1 803.0 L1904.3 811.3 L1905.5 819.3 L1906.6 824.9 L1907.8 832.9 L1908.4 846.9 L1909.0 866.1" stroke="#008000"/>
<path d="M150.0 497.7 L151.2 497.7 L152.5 497.8 L153.8 498.1 L155.0 497.5 L156.2 498.1 L157.5 494.1 L158.8 495.9 L160.0 498.3 L161.2 496.5 L162.5 498.0 L163.8 492.7 L165.0 494.8 L166.2 493.2 L167.5 494.9 L168.8 494.8 L170.0 491.1 L171.2 492.1 L172.5 492.3 L173.8 496.2 L175.0 495.0 L176.2 490.9 L177.5 494.8 L178.8 490.4 L180.0 493.3 L181.2 489.9 L182.5 488.9 L183.8 494.3 L185.0 489.8 L186.2 489.6 L187.5 494.3 L188.8 493.4 L190.0 489.5 L191.2 493.6 L192.5 490.7 L193.8 491.3 L195.0 488.1 L196.2 492.6 L197.5 490.7 L198.8 492.2 L200.0 491.5 L201.2 487.4 L202.5 487.5 L203.8 486.0 L205.0 485.7 L206.2 485.0 L207.5 486.4 L208.8 488.2 L210.0 484.3 L211.2 488.9 L212.4 487.5 L213.6 488.3 L214.9 492.6 L216.1 491.4 L217.3 491.0 L218.5 492.4 L219.8 493.2 L221.1 487.5 L222.4 491.6 L223.7 483.8 L225.0 487.6 L226.2 487.9 L227.5 482.4 L228.8 487.1 L230.0 484.2 L231.2 485.4 L232.5 481.6 L233.8 481.8 L235.0 482.5 L236.2 487.4 L237.5 482.4 L238.8 485.8 L240.0 486.7 L241.2 486.6 L242.5 482.6 L243.8 482.4 L245.0 483.2 L246.2 484.5 L247.5 480.0 L248.8 483.8 L250.0 483.9 L251.2 484.1 L252.5 478.7 L253.8 484.4 L255.0 478.9 L256.2 480.5 L257.5 482.3 L258.8 484.3 L260.0 480.8 L261.2 484.7 L262.5 482.4 L263.8 481.1 L265.0 481.3 L266.2 480.8 L267.5 480.8 L268.8 482.1 L270.0 486.4 L271.2 489.2 L272.5 484.6 L273.8 484.4 L275.0 490.6 L276.2 487.5 L277.5 486.0 L278.8 484.0 L280.0 485.1 L281.2 485.5 L282.5 482.1 L283.8 481.0 L285.0 478.2 L286.2 483.4 L287.5 477.5 L288.8 480.3 L290.0 482.4 L291.2 477.7 L292.5 481.5 L293.8 482.8 L295.0 480.6 L296.2 481.5 L297.5 477.0 L298.8 478.8 L300.0 476.8 L301.2 480.7 L302.5 476.3 L303.8 476.3 L305.0 478.7 L306.2 476.6 L307.5 476.5 L308.8 472.5 L310.0 472.4 L311.2 474.1 L312.5 472.8 L313.8 472.0 L315.0 473.1 L316.2 471.9 L317.5 473.8 L318.8 478.0 L320.0 477.9 L321.2 475.6 L322.5 474.2 L323.8 472.3 L325.0 469.6 L326.2 469.5 L327.5 471.5 L328.8 470.9 L330.0 466.6 L331.2 468.4 L332.5 467.4 L333.8 465.9 L335.0 464.8 L336.2 464.5 L337.5 461.0 L338.8 462.2 L340.0 458.6 L341.2 459.0 L342.5 459.9 L343.8 458.5 L345.0 455.0 L346.2 458.2 L347.5 455.4 L348.8 454.0 L350.0 449.4 L351.2 451.8 L352.5 448.8 L353.8 450.4 L355.0 447.9 L356.2 449.1 L357.5 446.9 L358.8 446.9 L360.0 443.0 L361.2 444.0 L362.5 443.7 L363.8 443.4 L365.0 439.5 L366.2 441.9 L367.5 441.3 L368.8 439.4 L370.0 440.5 L371.2 439.8 L372.5 436.3 L373.8 435.8 L375.0 432.9 L376.2 436.6 L377.5 436.7 L378.8 433.3 L380.0 434.1 L381.2 433.8 L382.5 433.4 L383.8 429.3 L385.0 432.8 L386.2 431.0 L387.5 431.0 L388.8 429.3 L390.0 429.7 L391.2 429.8 L392.5 428.8 L393.8 428.6 L395.0 426.6 L396.2 426.7 L397.5 426.9 L398.8 426.8 L400.0 426.5 L401.2 426.4 L402.5 426.2 L403.8 425.8 L405.0 425.8 L406.2 425.5 L407.5 425.1 L408.8 425.1 L410.0 425.1 L411.2 424.8 L412.5 424.7 L413.8 424.2 L415.0 424.9 L416.2 424.7 L417.5 425.1 L418.8 424.9 L420.0 424.1 L421.2 425.4 L422.5 423.5 L423.8 424.2 L425.0 423.9 L426.2 424.1 L427.5 423.4 L428.8 424.8 L430.0 423.8 L431.2 423.1 L432.5 424.3 L433.8 423.2 L435.0 424.1 L436.2 423.7 L437.5 424.2 L438.8 425.0 L440.0 424.7 L441.2 424.0 L442.5 424.8 L443.8 424.5 L445.0 424.1 L446.2 423.7 L447.5 424.7 L448.8 424.7 L450.0 425.6 L451.2 425.7 L452.5 425.0 L453.8 424.6 L455.0 425.8 L456.2 424.1 L457.5 424.4 L458.8 425.5 L460.0 425.8 L461.2 425.0 L462.5 426.1 L463.8 426.8 L465.0 425.9 L466.2 426.2 L467.5 425.9 L468.8 426.1 L470.0 427.4 L471.2 426.3 L472.5 427.4 L473.8 427.3 L475.0 426.7 L476.2 426.0 L477.5 427.5 L478.8 426.5 L480.0 426.3 L481.2 426.1 L482.5 427.5 L483.8 426.5 L485.0 426.1 L486.2 426.5 L487.5 425.7 L488.8 426.7 L490.0 426.4 L491.2 426.1 L492.5 427.1 L493.8 427.1 L495.0 425.5 L496.2 426.5 L497.5 425.9 L498.8 427.2 L500.0 426.9 L501.2 425.8 L502.5 425.8 L503.8 425.5 L505.0 427.1 L506.2 425.7 L507.5 426.3 L508.8 426.0 L510.0 426.3 L511.2 426.2 L512.5 426.4 L513.8 425.1 L515.0 426.3 L516.2 425.3 L517.5 425.7 L518.8 425.2 L520.0 425.0 L521.2 425.4 L522.5 425.2 L523.8 424.9 L525.0 425.6 L526.2 425.3 L527.5 424.1 L528.8 424.5 L530.0 424.9 L531.2 425.8 L532.5 425.8 L533.8 425.1 L535.0 424.0 L536.2 425.6 L537.5 424.9 L538.8 425.2 L540.0 425.4 L541.2 425.3 L542.5 425.0 L543.8 425.8 L545.0 424.8 L546.2 424.8 L547.5 425.7 L548.8 424.4 L550.0 424.6 L551.2 425.7 L552.5 424.1 L553.8 425.7 L555.0 425.4 L556.2 424.9 L557.5 424.6 L558.8 425.6 L560.0 425.8 L561.2 424.3 L562.5 425.0 L563.8 425.1 L565.0 425.0 L566.2 424.7 L567.5 424.3 L568.8 425.2 L570.0 425.6 L571.2 424.1 L572.5 424.5 L573.8 425.6 L575.0 425.6 L576.2 425.3 L577.5 424.1 L578.8 425.4 L580.0 426.0 L581.2 426.0 L582.5 425.4 L583.8 424.1 L585.0 425.7 L586.2 424.4 L587.5 425.3 L588.8 425.9 L590.0 425.4 L591.2 424.3 L592.5 424.5 L593.8 425.7 L595.0 424.1 L596.2 425.0 L597.5 424.5 L598.8 423.9 L600.0 424.7 L601.2 423.5 L602.5 423.5 L603.8 424.0 L605.0 423.3 L606.2 423.2 L607.5 424.2 L608.8 424.5 L610.0 424.8 L611.2 423.3 L612.5 424.0 L613.8 423.9 L615.0 424.6 L616.2 424.6 L617.5 425.7 L618.8 424.9 L620.0 424.5 L621.2 426.1 L622.5 425.3 L623.8 426.6 L625.0 426.8 L626.2 428.1 L627.5 428.0 L628.8 428.7 L630.0 428.8 L631.2 430.2 L632.5 430.5 L633.8 432.6 L635.0 433.7 L636.2 434.7 L637.5 437.0 L638.8 439.6 L640.0 443.0 L641.2 445.1 L642.5 450.3 L643.8 455.0 L645.0 459.2 L646.0 465.2 L647.0 469.8 L648.0 475.9 L649.0 482.7 L650.2 490.1 L651.3 499.5 L652.5 502.5 L653.7 498.9 L654.8 492.2 L656.0 481.6 L657.0 473.1 L658.0 459.7 L659.0 449.3 L660.2 440.6 L661.3 430.9 L662.5 424.4 L663.8 421.2 L665.0 420.6 L666.2 418.4 L667.5 418.1 L668.8 416.8 L670.0 417.7 L671.2 417.2 L672.5 417.0 L673.7 417.4 L674.9 418.6 L676.1 418.8 L677.3 419.5 L678.5 419.3 L679.8 420.2 L681.1 418.5 L682.4 417.3 L683.7 415.0 L685.0 414.7 L686.2 413.4 L687.5 412.9 L688.8 412.3 L690.0 412.0 L691.2 411.1 L692.5 410.4 L693.8 410.0 L695.0 409.8 L696.3 409.4 L697.5 409.3 L698.8 408.8 L700.1 408.4 L701.4 408.1 L702.6 407.8 L703.9 407.4 L705.2 407.1 L706.5 406.7 L707.7 406.4 L709.0 406.0 L710.2 405.6 L711.5 405.2 L712.8 404.9 L714.0 404.5 L715.2 404.1 L716.5 403.7 L717.8 403.3 L719.0 402.9 L720.2 402.5 L721.5 402.1 L722.8 401.7 L724.0 401.3 L725.2 401.0 L726.5 400.6 L727.8 400.3 L729.0 400.0 L730.2 399.7 L731.5 399.4 L732.8 399.1 L734.0 398.9 L735.2 398.6 L736.5 398.4 L737.8 398.1 L739.0 397.9 L740.2 397.6 L741.5 397.4 L742.8 397.2 L744.0 396.9 L745.2 396.7 L746.5 396.5 L747.8 396.2 L749.0 396.0 L750.2 395.8 L751.5 395.5 L752.8 395.3 L754.0 395.1 L755.2 394.8 L756.5 394.6 L757.8 394.4 L759.0 394.1 L760.2 393.9 L761.5 393.7 L762.8 393.5 L764.0 393.3 L765.2 393.1 L766.5 392.9 L767.8 392.7 L769.0 392.5 L770.2 392.3 L771.5 392.2 L772.8 392.0 L774.0 391.8 L775.2 391.7 L776.5 391.5 L777.8 391.4 L779.0 391.2 L780.2 391.1 L781.5 391.0 L782.8 390.8 L784.0 390.7 L785.2 390.5 L786.5 390.3 L787.8 390.2 L789.0 390.0 L790.2 389.8 L791.5 389.6 L792.8 389.4 L794.0 389.2 L795.2 389.0 L796.5 388.8 L797.8 388.6 L799.0 388.4 L800.2 388.1 L801.5 387.9 L802.8 387.7 L804.0 387.4 L805.2 387.2 L806.5 387.0 L807.8 386.7 L809.0 386.5 L810.2 386.3 L811.5 386.0 L812.8 385.8 L814.0 385.5 L815.2 385.2 L816.5 385.0 L817.8 384.7 L819.0 384.4 L820.2 384.2 L821.5 383.9 L822.8 383.6 L824.0 383.4 L825.2 383.1 L826.5 382.9 L827.8 382.7 L829.0 382.5 L830.2 382.3 L831.5 382.1 L832.8 382.0 L834.0 381.8 L835.2 381.6 L836.5 381.5 L837.8 381.3 L839.0 381.2 L840.2 381.0 L841.5 380.9 L842.8 380.7 L844.0 380.6 L845.2 380.5 L846.5 380.3 L847.8 380.2 L849.0 380.0 L850.2 379.8 L851.5 379.7 L852.8 379.5 L854.0 379.4 L855.2 379.2 L856.5 379.1 L857.8 379.0 L859.0 378.8 L860.2 378.7 L861.5 378.5 L862.8 378.3 L864.0 378.2 L865.2 378.0 L866.5 377.9 L867.8 377.7 L869.0 377.5 L870.2 377.3 L871.5 377.1 L872.8 376.9 L874.0 376.7 L875.2 376.5 L876.5 376.2 L877.8 376.0 L879.0 375.7 L880.2 375.5 L881.5 375.3 L882.8 375.0 L884.0 374.8 L885.2 374.6 L886.5 374.4 L887.8 374.2 L889.0 374.0 L890.2 373.8 L891.5 373.6 L892.8 373.5 L894.0 373.3 L895.2 373.1 L896.5 372.9 L897.8 372.8 L899.0 372.6 L900.2 372.5 L901.5 372.3 L902.8 372.2 L904.0 372.0 L905.2 371.9 L906.5 371.7 L907.8 371.6 L909.0 371.5 L910.2 371.4 L911.5 371.3 L912.8 371.1 L914.0 371.0 L915.2 370.9 L916.5 370.8 L917.8 370.6 L919.0 370.5 L920.2 370.4 L921.5 370.3 L922.8 370.2 L924.0 370.1 L925.2 370.1 L926.5 370.0 L927.8 370.0 L929.0 370.0 L930.2 370.0 L931.5 370.1 L932.8 370.2 L934.0 370.4 L935.2 370.7 L936.5 371.0 L937.7 374.6 L938.8 382.1 L940.0 390.0 L941.0 396.4 L942.0 403.3 L943.0 409.8 L944.0 415.0 L945.0 419.3 L946.0 423.3 L947.0 426.3 L948.0 427.5 L949.2 424.3 L950.3 417.1 L951.5 410.0 L952.8 402.2 L954.0 397.5 L955.2 399.0 L956.3 402.2 L957.5 405.0 L958.5 406.7 L959.5 408.3 L960.5 409.5 L961.5 410.0 L962.8 409.0 L964.0 406.5 L965.2 403.2 L966.5 400.0 L967.8 396.6 L969.0 392.7 L970.2 388.7 L971.5 385.0 L972.8 381.5 L974.0 378.2 L975.2 375.1 L976.5 372.5 L977.8 370.3 L979.0 368.3 L980.2 366.5 L981.5 364.9 L982.8 363.6 L984.0 362.5 L985.2 361.6 L986.5 360.8 L987.8 360.1 L989.0 359.4 L990.2 358.8 L991.5 358.3 L992.8 357.9 L994.0 357.5 L995.2 357.2 L996.5 356.9 L997.8 356.7 L999.0 356.4 L1000.2 356.2 L1001.5 355.9 L1002.8 355.5 L1004.0 355.2 L1005.2 355.3 L1006.5 355.5 L1007.8 355.8 L1009.0 355.6 L1010.2 354.2 L1011.5 356.2 L1012.8 353.6 L1014.0 355.3 L1015.2 352.1 L1016.5 355.2 L1017.8 354.7 L1019.0 355.9 L1020.2 355.5 L1021.5 354.3 L1022.8 354.9 L1024.0 354.3 L1025.2 353.5 L1026.5 351.4 L1027.8 352.7 L1029.0 354.4 L1030.2 351.1 L1031.5 354.5 L1032.8 352.2 L1034.0 351.4 L1035.2 349.3 L1036.5 351.0 L1037.8 349.9 L1039.0 352.0 L1040.2 353.0 L1041.5 352.9 L1042.8 351.3 L1044.0 350.1 L1045.2 348.6 L1046.5 351.2 L1047.8 350.4 L1049.0 351.0 L1050.2 349.2 L1051.5 351.5 L1052.8 348.1 L1054.0 348.4 L1055.2 348.1 L1056.5 349.6 L1057.8 350.7 L1059.0 347.1 L1060.2 349.1 L1061.5 349.6 L1062.8 346.9 L1064.0 345.9 L1065.2 348.2 L1066.5 349.3 L1067.8 349.4 L1069.0 348.6 L1070.2 347.0 L1071.5 346.9 L1072.8 347.3 L1074.0 349.0 L1075.2 346.0 L1076.5 345.8 L1077.8 347.3 L1079.0 349.0 L1080.2 345.1 L1081.5 344.3 L1082.8 344.6 L1084.0 346.7 L1085.2 346.8 L1086.5 344.7 L1087.8 344.6 L1089.0 346.5 L1090.2 346.6 L1091.5 346.7 L1092.8 346.8 L1094.0 343.4 L1095.2 345.3 L1096.5 346.9 L1097.8 347.3 L1099.0 344.1 L1100.2 346.5 L1101.5 345.4 L1102.8 346.7 L1104.0 343.2 L1105.2 345.3 L1106.5 345.9 L1107.8 344.0 L1109.0 342.1 L1110.2 342.4 L1111.5 342.1 L1112.8 341.7 L1114.0 341.9 L1115.2 344.1 L1116.5 341.5 L1117.8 344.6 L1119.0 344.4 L1120.2 344.7 L1121.5 344.6 L1122.8 344.0 L1124.0 345.0 L1125.2 345.0 L1126.5 343.3 L1127.8 344.8 L1129.0 340.6 L1130.2 340.5 L1131.5 340.2 L1132.8 340.7 L1134.0 341.4 L1135.2 341.7 L1136.5 342.6 L1137.8 342.7 L1139.0 339.4 L1140.2 340.8 L1141.5 341.3 L1142.8 340.3 L1144.0 338.9 L1145.2 341.0 L1146.5 339.8 L1147.8 341.1 L1149.0 340.0 L1150.2 342.0 L1151.5 341.7 L1152.8 337.3 L1154.0 340.4 L1155.2 339.9 L1156.5 337.6 L1157.8 336.5 L1159.0 338.0 L1160.2 337.1 L1161.5 338.7 L1162.8 339.3 L1164.0 336.4 L1165.2 335.7 L1166.5 336.5 L1167.8 337.2 L1169.0 337.4 L1170.2 336.1 L1171.5 334.5 L1172.8 334.5 L1174.0 336.7 L1175.2 334.9 L1176.5 332.4 L1177.8 333.9 L1179.0 332.8 L1180.2 334.6 L1181.5 331.5 L1182.8 332.3 L1184.0 331.2 L1185.2 332.9 L1186.5 335.1 L1187.8 332.8 L1189.0 332.0 L1190.2 334.5 L1191.5 330.3 L1192.8 331.4 L1194.0 333.5 L1195.2 329.5 L1196.5 333.0 L1197.8 330.9 L1199.0 329.2 L1200.2 330.2 L1201.5 331.1 L1202.8 330.6 L1204.0 331.2 L1205.2 328.9 L1206.5 329.7 L1207.8 333.3 L1209.0 330.7 L1210.2 330.9 L1211.5 329.0 L1212.8 329.9 L1214.0 333.2 L1215.2 331.9 L1216.5 331.0 L1217.8 328.9 L1219.0 330.5 L1220.2 332.3 L1221.5 330.7 L1222.8 331.4 L1224.0 332.9 L1225.2 331.7 L1226.5 331.7 L1227.8 328.8 L1229.0 328.7 L1230.2 332.3 L1231.5 330.5 L1232.8 332.7 L1234.0 332.4 L1235.2 332.8 L1236.5 330.1 L1237.8 333.0 L1239.0 331.7 L1240.2 332.3 L1241.5 328.6 L1242.8 331.6 L1244.0 329.8 L1245.2 332.4 L1246.5 332.4 L1247.8 328.7 L1249.0 329.6 L1250.2 329.0 L1251.5 330.2 L1252.8 329.8 L1254.0 332.1 L1255.2 330.1 L1256.5 330.9 L1257.8 332.9 L1259.0 331.7 L1260.2 333.6 L1261.5 336.5 L1262.8 336.8 L1264.0 333.5 L1265.2 332.4 L1266.5 335.6 L1267.8 335.2 L1269.0 332.2 L1270.2 328.7 L1271.5 328.0 L1272.8 330.2 L1274.0 329.6 L1275.2 324.8 L1276.5 325.0 L1277.8 325.8 L1279.0 324.7 L1280.2 326.7 L1281.5 324.5 L1282.8 326.2 L1284.0 322.9 L1285.2 324.4 L1286.5 326.3 L1287.6 324.7 L1288.8 321.5 L1289.9 321.3 L1291.1 323.6 L1292.2 322.1 L1293.4 321.9 L1294.5 322.4 L1295.8 323.0 L1297.0 325.3 L1298.2 322.3 L1299.5 324.6 L1300.8 323.9 L1302.0 326.0 L1303.2 327.5 L1304.5 325.2 L1305.8 327.3 L1307.0 328.5 L1308.2 325.1 L1309.5 328.8 L1310.8 327.1 L1312.0 327.5 L1313.2 328.0 L1314.5 328.9 L1315.8 325.4 L1317.0 327.5 L1318.2 325.3 L1319.5 327.0 L1320.8 326.8 L1322.0 325.2 L1323.2 326.5 L1324.5 327.0 L1325.8 327.7 L1327.0 328.5 L1328.2 325.4 L1329.5 325.7 L1330.8 326.0 L1332.0 326.6 L1333.2 326.1 L1334.5 325.8 L1335.8 322.1 L1337.0 321.2 L1338.2 324.6 L1339.5 320.5 L1340.8 323.4 L1342.0 327.4 L1343.2 329.0 L1344.5 329.5 L1345.8 332.0 L1347.0 328.8 L1348.2 329.7 L1349.5 330.7 L1350.8 327.0 L1352.0 327.7 L1353.2 328.0 L1354.5 328.1 L1355.8 326.2 L1357.0 327.3 L1358.2 325.4 L1359.4 325.8 L1360.7 327.2 L1361.9 326.6 L1363.1 330.9 L1364.3 327.9 L1365.5 328.3 L1366.8 331.0 L1368.0 331.1 L1369.2 329.0 L1370.4 331.8 L1371.5 330.4 L1372.5 328.4 L1373.5 329.2 L1374.7 329.5 L1375.8 331.8 L1377.0 332.0 L1378.1 327.2 L1379.1 329.8 L1380.2 327.4 L1381.2 328.4 L1382.2 329.6 L1383.2 334.8 L1384.3 334.8 L1385.4 329.2 L1386.6 326.6 L1387.6 330.2 L1388.6 329.9 L1389.6 332.5 L1390.8 333.8 L1391.9 338.6 L1393.1 333.9 L1394.2 331.7 L1395.3 331.9 L1396.3 332.6 L1397.3 332.7 L1398.3 331.7 L1399.4 328.8 L1400.4 327.5 L1401.4 327.5 L1402.4 327.5 L1403.4 327.5 L1404.5 327.9 L1405.5 328.9 L1406.5 330.2 L1407.7 332.0 L1408.8 334.5 L1410.0 339.9 L1411.1 343.8 L1412.3 341.6 L1413.4 338.3 L1414.5 336.2 L1415.5 334.3 L1416.5 332.9 L1417.8 331.9 L1419.1 331.2 L1420.3 330.2 L1421.6 327.5 L1422.9 323.8 L1424.2 322.0 L1425.3 323.4 L1426.5 324.7 L1427.6 323.9 L1428.8 323.1 L1429.8 324.7 L1430.8 327.5 L1431.9 329.1 L1432.9 329.1 L1433.9 329.1 L1434.9 329.1 L1436.2 331.3 L1437.5 335.6 L1438.8 338.3 L1440.0 338.8 L1441.3 339.0 L1442.6 339.4 L1443.8 340.6 L1444.9 342.6 L1446.1 344.8 L1447.2 346.5 L1448.2 347.4 L1449.3 348.2 L1450.3 349.2 L1451.4 350.9 L1452.6 353.1 L1453.7 355.4 L1454.9 357.4 L1456.0 358.8 L1457.2 360.0 L1458.3 361.2 L1459.5 362.8 L1460.8 365.9 L1462.1 369.7 L1463.3 372.6 L1464.6 374.0 L1465.9 375.0 L1467.2 376.4 L1468.3 379.2 L1469.5 383.4 L1470.6 388.2 L1471.8 392.7 L1473.1 396.9 L1474.3 401.1 L1475.6 406.3 L1476.6 412.2 L1477.7 419.6 L1478.7 428.1 L1479.8 438.8 L1481.0 452.6 L1481.8 465.3 L1482.5 482.5 L1483.8 526.0 L1484.8 564.1 L1485.9 596.7 L1487.1 603.3 L1488.4 569.5 L1489.1 536.1 L1489.9 498.8 L1490.7 463.4 L1491.4 433.5 L1492.2 412.2 L1493.0 398.2 L1493.9 389.7 L1494.8 385.7 L1495.7 384.9 L1496.7 384.6 L1497.6 386.2 L1498.5 389.7 L1499.4 392.7 L1500.7 395.9 L1502.0 398.6 L1503.3 399.8 L1504.5 398.8 L1505.8 396.5 L1507.1 394.4 L1508.4 392.8 L1509.7 391.4 L1510.9 390.0 L1511.8 388.9 L1512.7 387.8 L1513.6 387.3 L1514.5 388.8 L1515.4 392.2 L1516.3 395.5 L1517.6 398.9 L1518.9 402.4 L1520.2 406.3 L1521.4 411.6 L1522.7 417.8 L1524.0 423.7 L1525.1 428.4 L1526.3 432.8 L1527.5 437.2 L1528.6 441.7 L1529.7 446.1 L1530.8 450.6 L1531.8 455.0 L1532.9 459.4 L1534.0 463.5 L1535.2 467.6 L1536.4 471.4 L1537.6 475.1 L1538.8 478.6 L1540.0 482.2 L1541.2 485.9 L1542.4 490.0 L1543.7 494.5 L1544.9 499.8 L1546.2 505.8 L1547.5 512.4 L1548.8 519.8 L1550.1 528.0 L1551.3 536.9 L1552.4 544.7 L1553.4 553.0 L1554.4 561.4 L1555.4 569.5 L1556.5 577.7 L1557.5 585.9 L1558.5 594.2 L1559.5 602.6 L1560.5 610.3 L1561.6 617.5 L1562.6 624.1 L1563.6 629.4 L1564.6 633.6 L1565.7 637.2 L1566.7 639.2 L1567.8 639.9 L1569.0 640.3 L1570.1 638.1 L1571.3 633.7 L1572.3 628.8 L1573.3 622.5 L1574.4 615.8 L1575.4 608.7 L1576.4 601.2 L1577.4 594.0 L1578.5 587.2 L1579.5 580.8 L1580.5 575.0 L1581.5 569.7 L1582.6 564.9 L1583.6 561.4 L1584.6 559.0 L1585.6 557.1 L1586.7 555.9 L1587.8 555.2 L1589.0 554.8 L1590.0 555.5 L1591.0 556.9 L1592.0 558.7 L1593.3 561.4 L1594.6 564.8 L1595.9 568.4 L1597.1 572.0 L1598.4 575.7 L1599.7 579.3 L1601.0 583.4 L1602.3 587.6 L1603.5 590.2 L1604.6 591.3 L1605.6 592.1 L1606.6 592.4 L1607.8 589.4 L1608.9 583.1 L1609.7 577.5 L1610.5 569.5 L1611.2 557.4 L1612.0 542.3 L1612.8 526.4 L1613.5 509.7 L1614.3 493.0 L1615.1 477.1 L1615.8 463.0 L1616.6 449.9 L1617.4 437.3 L1618.1 425.4 L1618.9 414.1 L1619.7 403.6 L1620.8 389.2 L1622.0 376.4 L1623.0 366.6 L1624.0 357.8 L1625.0 349.2 L1626.1 340.6 L1627.1 332.3 L1628.1 324.7 L1629.1 317.9 L1630.2 311.5 L1631.2 305.7 L1632.2 300.5 L1633.2 295.8 L1634.3 291.0 L1635.3 285.8 L1636.3 280.5 L1637.3 275.8 L1638.4 271.9 L1639.4 268.4 L1640.4 264.9 L1641.4 261.1 L1642.4 257.2 L1643.5 254.0 L1644.5 251.3 L1645.5 249.0 L1646.5 247.5 L1647.6 246.8 L1648.6 246.4 L1649.6 245.9 L1650.6 244.4 L1651.7 242.5 L1652.7 241.5 L1653.7 241.8 L1654.7 242.4 L1655.8 243.1 L1657.0 244.4 L1658.3 246.3 L1659.6 248.6 L1660.9 251.5 L1662.2 255.3 L1663.4 259.5 L1664.5 263.1 L1665.5 267.1 L1666.5 271.4 L1667.5 276.0 L1668.6 280.9 L1669.6 286.7 L1670.6 293.9 L1671.6 302.5 L1672.6 311.1 L1673.8 320.8 L1675.0 330.2 L1676.1 339.3 L1677.3 346.5 L1678.4 350.8 L1679.6 353.6 L1680.7 355.1 L1681.9 355.7 L1683.0 353.4 L1684.2 349.2 L1685.3 344.6 L1686.5 340.0 L1687.2 337.2 L1688.0 335.6 L1688.9 337.3 L1689.8 341.1 L1690.8 349.2 L1691.8 360.1 L1693.0 371.7 L1694.1 384.6 L1695.3 399.8 L1696.5 417.2 L1697.2 429.9 L1698.0 444.4 L1698.8 462.7 L1699.5 482.5 L1700.3 502.8 L1701.1 520.6 L1701.8 532.9 L1702.6 542.3 L1703.7 552.2 L1704.9 561.4 L1706.0 573.1 L1707.2 585.9 L1708.4 600.1 L1709.5 613.1 L1710.4 621.0 L1711.3 626.7 L1712.1 629.6 L1712.9 631.0 L1713.9 627.8 L1714.9 621.2 L1715.9 612.1 L1716.9 599.5 L1717.8 583.5 L1718.7 564.1 L1719.9 535.0 L1721.2 504.3 L1722.3 476.2 L1723.5 449.9 L1724.6 426.9 L1725.8 406.3 L1726.9 386.9 L1728.1 371.0 L1729.2 360.6 L1730.4 351.9 L1731.4 344.3 L1732.4 337.1 L1733.5 330.2 L1734.5 323.1 L1735.5 316.3 L1736.5 311.1 L1737.6 307.9 L1738.6 305.5 L1739.6 303.0 L1740.6 300.4 L1741.6 297.8 L1742.7 294.8 L1743.7 290.4 L1744.7 285.1 L1745.7 281.2 L1746.8 279.1 L1747.8 277.5 L1748.8 275.8 L1749.8 273.2 L1750.9 270.5 L1751.9 269.2 L1752.7 269.2 L1753.4 269.2 L1754.6 273.5 L1755.7 281.2 L1756.9 289.6 L1758.0 297.5 L1759.2 303.4 L1760.3 307.3 L1761.5 309.2 L1762.6 310.0 L1763.6 309.3 L1764.5 308.0 L1765.4 307.3 L1766.3 308.9 L1767.2 311.1 L1768.4 312.9 L1769.5 313.9 L1770.6 312.8 L1771.6 310.3 L1772.6 307.3 L1773.8 302.2 L1774.9 298.6 L1775.7 304.9 L1776.5 311.1 L1777.2 307.1 L1778.0 303.0 L1779.1 303.5 L1780.3 304.1 L1781.1 303.8 L1781.8 303.0 L1782.6 293.7 L1783.4 281.2 L1784.5 271.9 L1785.7 264.9 L1786.8 258.9 L1788.0 254.0 L1789.0 249.8 L1790.0 247.5 L1790.8 249.0 L1791.7 252.0 L1792.6 254.0 L1793.7 254.8 L1794.9 255.1 L1795.9 254.8 L1796.9 254.3 L1798.0 254.0 L1799.1 255.4 L1800.3 256.7 L1801.4 254.7 L1802.6 251.3 L1803.7 247.9 L1804.9 245.9 L1806.0 248.9 L1807.2 252.9 L1808.2 254.4 L1809.2 255.4 L1810.2 256.7 L1811.3 258.7 L1812.3 261.2 L1813.3 263.8 L1814.3 267.0 L1815.4 270.4 L1816.4 272.0 L1817.5 271.8 L1818.7 271.4 L1819.6 270.3 L1820.4 268.5 L1821.3 267.6 L1822.3 270.5 L1823.3 275.8 L1824.4 281.7 L1825.6 289.4 L1826.4 297.4 L1827.1 305.7 L1828.3 315.0 L1829.4 322.0 L1830.6 327.5 L1831.7 330.2 L1832.5 328.8 L1833.3 327.5 L1834.4 330.4 L1835.6 335.6 L1836.6 340.6 L1837.6 343.8 L1838.5 341.8 L1839.4 338.3 L1840.6 333.3 L1841.7 330.2 L1842.7 331.5 L1843.7 332.9 L1844.6 326.7 L1845.6 316.6 L1846.7 306.3 L1847.9 297.5 L1849.0 290.8 L1850.2 286.7 L1851.2 285.5 L1852.2 284.9 L1853.2 283.9 L1854.4 281.4 L1855.5 278.5 L1856.5 276.7 L1857.4 275.8 L1858.4 279.9 L1859.4 283.9 L1860.5 283.9 L1861.7 283.9 L1862.8 286.2 L1864.0 289.4 L1865.0 290.7 L1866.0 291.7 L1867.1 293.2 L1867.8 295.7 L1868.6 297.5 L1869.5 295.4 L1870.4 293.2 L1871.4 297.3 L1872.4 305.7 L1873.2 314.3 L1874.0 324.7 L1874.7 335.4 L1875.5 346.5 L1876.3 357.4 L1877.4 360.5 L1878.6 362.8 L1879.7 367.8 L1880.9 373.7 L1882.0 379.5 L1883.2 384.6 L1884.3 388.9 L1885.5 391.1 L1886.6 389.2 L1887.8 387.3 L1888.9 387.3 L1890.1 387.3 L1891.1 386.7 L1892.1 385.3 L1893.2 383.5 L1894.3 380.2 L1895.5 376.4 L1896.6 373.7 L1897.8 371.0 L1899.0 367.2 L1899.9 372.3 L1900.8 381.9 L1901.6 390.9 L1902.4 400.9 L1903.1 410.8 L1903.9 419.9 L1904.7 427.7 L1905.5 433.5 L1906.6 437.7 L1907.8 441.7 L1909.0 449.9 L1909.3 457.0" stroke="#7f00ff"/>
</g>
<line x1="147.9" y1="497" x2="147.9" y2="934" stroke="#7f00ff" stroke-width="6.4"/>
<line x1="147.9" y1="934" x2="147.9" y2="1228.5" stroke="#008000" stroke-width="6.4"/>
<line x1="147.9" y1="1228.5" x2="147.9" y2="1329" stroke="#0000ff" stroke-width="6.4"/>
<line x1="654.0" y1="390.0" x2="654.0" y2="1193.0" stroke="#ff8614" stroke-opacity="0.66" stroke-width="4.7"/>
<line x1="678.5" y1="367.5" x2="678.5" y2="1164.0" stroke="#ff8614" stroke-opacity="0.66" stroke-width="4.7"/>
<line x1="1485.5" y1="314.0" x2="1485.5" y2="1254.0" stroke="#ff8614" stroke-opacity="0.66" stroke-width="4.7"/>
<line x1="1504.0" y1="295.0" x2="1504.0" y2="1116.5" stroke="#ff8614" stroke-opacity="0.66" stroke-width="4.7"/>
<line x1="1568.5" y1="501.5" x2="1568.5" y2="1323.0" stroke="#ff8614" stroke-opacity="0.66" stroke-width="4.7"/>
<line x1="1607.5" y1="423.5" x2="1607.5" y2="1245.0" stroke="#ff8614" stroke-opacity="0.66" stroke-width="4.7"/>
<line x1="1680.0" y1="191.0" x2="1680.0" y2="1209.0" stroke="#ff8614" stroke-opacity="0.66" stroke-width="4.7"/>
<line x1="1715.0" y1="287.5" x2="1715.0" y2="1289.0" stroke="#ff8614" stroke-opacity="0.66" stroke-width="4.7"/>
<line x1="1509.5" y1="352.5" x2="1483.3" y2="293.1" stroke="#2a2a2a" stroke-width="1.8"/>
<polygon points="1472.0,267.5 1492.3,291.3 1475.9,298.6" fill="#000"/>
<line x1="1569.5" y1="587.5" x2="1457.5" y2="471.6" stroke="#2a2a2a" stroke-width="1.8"/>
<polygon points="1438.0,451.5 1465.3,466.8 1452.4,479.3" fill="#000"/>
<line x1="1609.5" y1="522.5" x2="1583.8" y2="434.4" stroke="#2a2a2a" stroke-width="1.8"/>
<polygon points="1576.0,407.5 1593.0,433.8 1575.7,438.8" fill="#000"/>
<line x1="1679.5" y1="235.0" x2="1657.1" y2="155.9" stroke="#2a2a2a" stroke-width="1.8"/>
<polygon points="1649.5,129.0 1666.3,155.4 1649.0,160.3" fill="#000"/>
<line x1="1714.5" y1="286.5" x2="1721.5" y2="220.3" stroke="#2a2a2a" stroke-width="1.8"/>
<polygon points="1724.5,192.5 1730.3,223.3 1712.4,221.4" fill="#000"/>
</g>
<g id="plotB">
<g fill="none" clip-path="url(#cB)" stroke-width="6.4" stroke-linejoin="round" stroke-linecap="round">
<path d="M150.0 2673.5 L151.4 2673.7 L152.9 2673.8 L154.3 2674.0 L155.7 2674.2 L157.1 2674.4 L158.6 2674.5 L160.0 2674.5 L161.4 2674.4 L162.9 2674.1 L164.3 2673.6 L165.7 2673.2 L167.1 2672.7 L168.6 2672.3 L170.0 2672.0 L171.4 2671.8 L172.8 2671.7 L174.2 2671.5 L175.6 2671.4 L176.9 2671.2 L178.3 2671.1 L179.7 2671.1 L181.1 2671.0 L182.5 2671.0 L183.9 2671.1 L185.4 2671.4 L186.8 2671.9 L188.2 2672.3 L189.6 2672.8 L191.1 2673.2 L192.5 2673.5 L193.9 2673.7 L195.3 2673.8 L196.7 2673.9 L198.1 2674.0 L199.4 2674.1 L200.8 2674.2 L202.2 2674.3 L203.6 2674.4 L205.0 2674.5 L206.5 2674.7 L208.0 2675.0 L209.5 2675.3 L211.0 2675.6 L212.5 2676.0 L214.0 2676.3 L215.5 2676.6 L217.0 2676.8 L218.5 2676.9 L220.0 2677.0 L221.4 2676.9 L222.8 2676.7 L224.2 2676.5 L225.6 2676.1 L226.9 2675.7 L228.3 2675.4 L229.7 2675.0 L231.1 2674.7 L232.5 2674.5 L233.9 2674.3 L235.3 2674.2 L236.7 2674.0 L238.1 2673.9 L239.4 2673.8 L240.8 2673.7 L242.2 2673.6 L243.6 2673.5 L245.0 2673.5 L246.5 2673.5 L248.0 2673.6 L249.5 2673.7 L251.0 2673.9 L252.5 2674.1 L254.0 2674.3 L255.5 2674.5 L257.0 2674.7 L258.5 2674.9 L260.0 2675.0 L261.4 2675.1 L262.8 2675.2 L264.2 2675.3 L265.6 2675.4 L266.9 2675.5 L268.3 2675.6 L269.7 2675.7 L271.1 2675.8 L272.5 2676.0 L273.9 2676.4 L275.4 2677.0 L276.8 2677.8 L278.2 2678.6 L279.6 2679.3 L281.1 2679.8 L282.5 2680.0 L283.9 2679.9 L285.3 2679.7 L286.7 2679.3 L288.1 2678.9 L289.4 2678.4 L290.8 2678.0 L292.2 2677.6 L293.6 2677.2 L295.0 2677.0 L296.5 2676.9 L298.0 2676.7 L299.5 2676.6 L301.0 2676.6 L302.5 2676.5 L304.0 2676.4 L305.5 2676.3 L307.0 2676.2 L308.5 2676.1 L310.0 2676.0 L311.5 2675.8 L313.0 2675.7 L314.5 2675.5 L316.0 2675.3 L317.5 2675.0 L319.0 2674.8 L320.5 2674.5 L322.0 2674.2 L323.5 2673.9 L325.0 2673.5 L326.4 2673.0 L327.9 2672.4 L329.3 2671.6 L330.7 2670.8 L332.1 2670.2 L333.6 2669.7 L335.0 2669.5 L336.4 2669.7 L337.9 2670.2 L339.3 2670.9 L340.7 2671.7 L342.1 2672.5 L343.6 2673.1 L345.0 2673.5 L346.5 2673.7 L348.0 2673.9 L349.5 2674.1 L351.0 2674.3 L352.5 2674.4 L354.0 2674.5 L355.5 2674.7 L357.0 2674.8 L358.5 2674.9 L360.0 2675.0 L361.5 2675.1 L363.0 2675.2 L364.5 2675.3 L366.0 2675.4 L367.5 2675.5 L369.0 2675.6 L370.5 2675.7 L372.0 2675.8 L373.5 2675.9 L375.0 2676.0 L376.4 2676.1 L377.8 2676.2 L379.2 2676.3 L380.6 2676.4 L381.9 2676.5 L383.3 2676.6 L384.7 2676.7 L386.1 2676.8 L387.5 2677.0 L388.9 2677.2 L390.3 2677.4 L391.7 2677.7 L393.1 2678.1 L394.4 2678.4 L395.8 2678.8 L397.2 2679.2 L398.6 2679.6 L400.0 2680.0 L401.4 2680.5 L402.9 2681.1 L404.3 2681.8 L405.7 2682.4 L407.1 2683.0 L408.6 2683.4 L410.0 2683.5 L411.5 2683.5 L413.0 2683.3 L414.5 2683.2 L416.0 2683.0 L417.5 2682.8 L419.0 2682.5 L420.5 2682.3 L422.0 2682.2 L423.5 2682.0 L425.0 2682.0 L426.5 2682.0 L428.0 2682.1 L429.5 2682.2 L431.0 2682.4 L432.5 2682.6 L434.0 2682.8 L435.5 2683.0 L437.0 2683.2 L438.5 2683.3 L440.0 2683.5 L441.5 2683.6 L443.0 2683.8 L444.5 2683.9 L446.0 2684.1 L447.5 2684.2 L449.0 2684.3 L450.5 2684.5 L452.0 2684.7 L453.5 2684.8 L455.0 2685.0 L456.4 2685.2 L457.8 2685.4 L459.2 2685.6 L460.6 2685.8 L461.9 2686.0 L463.3 2686.2 L464.7 2686.4 L466.1 2686.7 L467.5 2687.0 L468.9 2687.3 L470.3 2687.7 L471.7 2688.2 L473.1 2688.6 L474.4 2689.1 L475.8 2689.6 L477.2 2690.1 L478.6 2690.6 L480.0 2691.0 L481.5 2691.4 L483.0 2691.8 L484.5 2692.1 L486.0 2692.5 L487.5 2692.8 L489.0 2693.2 L490.5 2693.6 L492.0 2694.0 L493.5 2694.5 L495.0 2695.0 L496.4 2695.6 L497.9 2696.2 L499.3 2696.9 L500.7 2697.8 L502.1 2698.7 L503.6 2699.8 L505.0 2701.0 L506.5 2702.7 L508.0 2704.9 L509.5 2707.5 L511.0 2710.4 L512.5 2713.5 L513.8 2716.5 L515.1 2720.0 L516.4 2723.7 L517.7 2727.5 L519.0 2731.0 L520.2 2734.6 L521.5 2738.3 L522.8 2741.6 L524.0 2743.5 L525.2 2744.5 L526.5 2745.3 L527.8 2745.8 L529.0 2746.0 L530.2 2745.3 L531.5 2743.6 L532.8 2741.2 L534.0 2738.5 L535.5 2734.3 L537.0 2728.5 L538.5 2722.1 L540.0 2716.0 L541.5 2710.1 L543.0 2704.0 L544.5 2698.2 L546.0 2693.5 L547.3 2690.1 L548.6 2686.9 L549.9 2684.0 L551.2 2681.7 L552.5 2680.0 L554.0 2678.6 L555.5 2677.3 L557.0 2676.3 L558.5 2675.5 L560.0 2675.0 L561.4 2674.7 L562.8 2674.4 L564.2 2674.2 L565.6 2674.0 L566.9 2673.8 L568.3 2673.7 L569.7 2673.6 L571.1 2673.5 L572.5 2673.5 L573.9 2673.5 L575.3 2673.6 L576.7 2673.7 L578.1 2673.8 L579.4 2673.9 L580.8 2674.0 L582.2 2674.2 L583.6 2674.3 L585.0 2674.5 L586.5 2674.7 L588.0 2674.9 L589.5 2675.2 L591.0 2675.4 L592.5 2675.7 L594.0 2676.0 L595.5 2676.3 L597.0 2676.6 L598.5 2676.8 L600.0 2677.0 L601.5 2677.2 L603.0 2677.3 L604.5 2677.5 L606.0 2677.6 L607.5 2677.7 L609.0 2677.8 L610.5 2678.0 L612.0 2678.1 L613.5 2678.3 L615.0 2678.5 L616.5 2678.7 L618.0 2679.0 L619.5 2679.3 L621.0 2679.7 L622.5 2680.0 L624.0 2680.4 L625.5 2680.8 L627.0 2681.2 L628.5 2681.6 L630.0 2682.0 L631.5 2682.4 L633.0 2682.8 L634.5 2683.3 L636.0 2683.8 L637.5 2684.3 L639.0 2684.7 L640.5 2685.1 L642.0 2685.5 L643.5 2685.8 L645.0 2686.0 L646.5 2686.1 L648.0 2686.3 L649.5 2686.4 L651.0 2686.4 L652.5 2686.5 L654.0 2686.6 L655.5 2686.6 L657.0 2686.7 L658.5 2686.9 L660.0 2687.0 L661.5 2687.2 L663.0 2687.6 L664.5 2688.0 L666.0 2688.4 L667.5 2688.9 L669.0 2689.4 L670.5 2689.9 L672.0 2690.4 L673.5 2690.7 L675.0 2691.0 L676.5 2691.2 L678.0 2691.4 L679.5 2691.5 L681.0 2691.6 L682.5 2691.7 L684.0 2691.8 L685.5 2692.0 L687.0 2692.1 L688.5 2692.3 L690.0 2692.5 L691.5 2692.8 L692.9 2693.3 L694.4 2693.8 L695.8 2694.5 L697.3 2695.3 L698.8 2696.1 L700.2 2697.0 L701.7 2697.9 L703.2 2698.8 L704.6 2699.6 L706.1 2700.5 L707.5 2701.3 L709.0 2702.0 L710.5 2702.7 L712.0 2703.3 L713.5 2704.0 L715.0 2704.6 L716.5 2705.2 L718.0 2705.8 L719.5 2706.5 L721.0 2707.1 L722.5 2707.8 L724.0 2708.5 L725.5 2709.2 L727.0 2710.0 L728.5 2710.8 L730.0 2711.6 L731.5 2712.4 L733.0 2713.3 L734.5 2714.2 L736.0 2715.1 L737.5 2716.0 L739.0 2717.0 L740.5 2718.0 L742.0 2719.1 L743.5 2720.3 L745.0 2721.5 L746.5 2722.8 L748.0 2724.0 L749.5 2725.2 L751.0 2726.4 L752.5 2727.5 L754.0 2728.5 L755.5 2729.5 L757.0 2730.4 L758.5 2731.3 L760.0 2732.1 L761.5 2733.0 L763.0 2733.8 L764.5 2734.6 L766.0 2735.4 L767.5 2736.2 L769.0 2737.0 L770.4 2737.8 L771.8 2738.6 L773.2 2739.4 L774.6 2740.2 L775.9 2741.0 L777.3 2741.8 L778.7 2742.5 L780.1 2743.0 L781.5 2743.5 L782.9 2743.9 L784.3 2744.3 L785.7 2744.7 L787.1 2745.0 L788.4 2745.4 L789.8 2745.6 L791.2 2745.8 L792.6 2746.0 L794.0 2746.0 L795.4 2745.9 L796.8 2745.5 L798.2 2745.0 L799.6 2744.4 L800.9 2743.7 L802.3 2743.0 L803.7 2742.2 L805.1 2741.6 L806.5 2741.0 L807.9 2740.5 L809.3 2740.1 L810.7 2739.6 L812.1 2739.2 L813.4 2738.8 L814.8 2738.4 L816.2 2737.9 L817.6 2737.5 L819.0 2737.0 L820.4 2736.5 L821.8 2735.9 L823.2 2735.4 L824.6 2734.8 L825.9 2734.2 L827.3 2733.6 L828.7 2733.0 L830.1 2732.5 L831.5 2732.0 L832.9 2731.5 L834.3 2731.0 L835.7 2730.5 L837.1 2730.0 L838.4 2729.5 L839.8 2729.1 L841.2 2728.8 L842.6 2728.6 L844.0 2728.5 L845.5 2728.6 L847.0 2728.7 L848.5 2729.0 L850.0 2729.3 L851.5 2729.6 L853.0 2729.9 L854.5 2730.3 L856.0 2730.6 L857.5 2730.8 L859.0 2731.0 L860.5 2731.1 L861.9 2731.2 L863.4 2731.3 L864.8 2731.3 L866.3 2731.4 L867.8 2731.5 L869.2 2731.5 L870.7 2731.6 L872.1 2731.7 L873.6 2731.8 L875.0 2731.9 L876.5 2732.0 L878.0 2732.2 L879.5 2732.7 L881.0 2733.2 L882.5 2733.9 L884.0 2734.6 L885.5 2735.4 L887.0 2736.2 L888.5 2737.0 L890.0 2737.8 L891.5 2738.5 L893.0 2739.2 L894.5 2739.9 L896.0 2740.7 L897.5 2741.5 L899.0 2742.3 L900.5 2743.1 L902.0 2743.7 L903.5 2744.3 L905.0 2744.7 L906.5 2745.0 L907.9 2745.2 L909.3 2745.3 L910.7 2745.5 L912.1 2745.6 L913.4 2745.8 L914.8 2745.9 L916.2 2745.9 L917.6 2746.0 L919.0 2746.0 L920.4 2745.9 L921.9 2745.6 L923.3 2745.1 L924.7 2744.4 L926.1 2743.7 L927.6 2742.9 L929.0 2742.0 L930.4 2740.8 L931.9 2739.2 L933.3 2737.2 L934.7 2735.0 L936.1 2732.7 L937.6 2730.5 L939.0 2728.5 L940.4 2726.6 L941.9 2724.7 L943.3 2722.9 L944.7 2721.0 L946.1 2719.2 L947.6 2717.6 L949.0 2716.0 L950.4 2714.5 L951.9 2713.1 L953.3 2711.7 L954.7 2710.4 L956.1 2709.2 L957.6 2708.1 L959.0 2707.0 L960.5 2706.0 L962.0 2705.1 L963.5 2704.2 L965.0 2703.5 L966.5 2702.7 L968.0 2701.9 L969.5 2701.2 L971.0 2700.3 L972.5 2699.5 L974.0 2698.5 L975.5 2697.4 L977.0 2696.1 L978.5 2694.7 L980.0 2693.2 L981.5 2691.7 L983.0 2690.3 L984.5 2689.0 L986.0 2687.8 L987.5 2686.7 L989.0 2686.0 L990.5 2685.4 L992.0 2685.0 L993.5 2684.6 L995.0 2684.2 L996.5 2683.9 L998.0 2683.6 L999.5 2683.2 L1001.0 2682.9 L1002.5 2682.5 L1004.0 2682.0 L1005.4 2681.4 L1006.9 2680.7 L1008.3 2679.9 L1009.7 2679.0 L1011.1 2678.1 L1012.6 2677.1 L1014.0 2676.1 L1015.4 2675.2 L1016.9 2674.4 L1018.3 2673.6 L1019.7 2672.9 L1021.1 2672.4 L1022.6 2672.1 L1024.0 2672.0 L1025.5 2672.1 L1027.0 2672.4 L1028.5 2672.9 L1030.0 2673.4 L1031.5 2674.0 L1033.0 2674.6 L1034.5 2675.1 L1036.0 2675.6 L1037.5 2675.9 L1039.0 2676.0 L1040.4 2676.0 L1041.8 2675.9 L1043.2 2675.8 L1044.6 2675.6 L1045.9 2675.4 L1047.3 2675.2 L1048.7 2675.0 L1050.1 2674.7 L1051.5 2674.5 L1052.9 2674.2 L1054.4 2673.8 L1055.8 2673.3 L1057.2 2672.8 L1058.6 2672.4 L1060.1 2672.1 L1061.5 2672.0 L1062.9 2672.1 L1064.3 2672.4 L1065.7 2672.8 L1067.1 2673.3 L1068.4 2673.7 L1069.8 2674.2 L1071.2 2674.6 L1072.6 2674.9 L1074.0 2675.0 L1075.5 2675.0 L1076.9 2674.9 L1078.4 2674.8 L1079.8 2674.6 L1081.3 2674.4 L1082.8 2674.2 L1084.2 2674.1 L1085.7 2673.9 L1087.1 2673.7 L1088.6 2673.6 L1090.0 2673.5 L1091.5 2673.5 L1092.9 2673.7 L1094.3 2674.2 L1095.7 2674.9 L1097.1 2675.9 L1098.4 2676.9 L1099.8 2678.0 L1101.2 2679.1 L1102.6 2680.1 L1104.0 2681.0 L1105.5 2681.8 L1107.0 2682.6 L1108.5 2683.4 L1110.0 2684.2 L1111.5 2685.0 L1113.0 2685.8 L1114.5 2686.5 L1116.0 2687.2 L1117.5 2687.9 L1119.0 2688.5 L1120.5 2689.1 L1122.0 2689.6 L1123.5 2690.1 L1125.0 2690.5 L1126.5 2691.0 L1128.0 2691.5 L1129.5 2691.9 L1131.0 2692.4 L1132.5 2692.9 L1134.0 2693.5 L1135.5 2694.2 L1137.0 2695.0 L1138.5 2696.0 L1140.0 2697.0 L1141.5 2698.0 L1143.0 2698.9 L1144.5 2699.8 L1146.0 2700.4 L1147.5 2700.8 L1149.0 2701.0 L1150.5 2701.0 L1152.0 2700.9 L1153.5 2700.8 L1155.0 2700.6 L1156.5 2700.5 L1158.0 2700.4 L1159.5 2700.2 L1161.0 2700.1 L1162.5 2700.0 L1164.0 2700.0 L1165.5 2700.1 L1167.0 2700.3 L1168.5 2700.7 L1170.0 2701.2 L1171.5 2701.8 L1173.0 2702.4 L1174.5 2703.1 L1176.0 2703.7 L1177.5 2704.4 L1179.0 2705.0 L1180.5 2705.6 L1182.0 2706.3 L1183.5 2706.9 L1185.0 2707.7 L1186.5 2708.4 L1188.0 2709.1 L1189.5 2709.9 L1191.0 2710.6 L1192.5 2711.3 L1194.0 2712.0 L1195.5 2712.6 L1197.0 2713.2 L1198.5 2713.8 L1200.0 2714.3 L1201.5 2714.8 L1203.0 2715.4 L1204.5 2716.0 L1206.0 2716.7 L1207.5 2717.6 L1209.0 2718.5 L1210.5 2719.8 L1212.0 2721.6 L1213.5 2723.7 L1215.0 2726.2 L1216.5 2728.8 L1218.0 2731.5 L1219.5 2734.1 L1221.0 2736.7 L1222.5 2739.0 L1224.0 2741.0 L1225.4 2742.6 L1226.8 2744.2 L1228.2 2745.6 L1229.6 2747.0 L1230.9 2748.4 L1232.3 2749.7 L1233.7 2751.0 L1235.1 2752.3 L1236.5 2753.5 L1237.9 2754.7 L1239.3 2755.8 L1240.7 2756.9 L1242.1 2757.9 L1243.4 2758.9 L1244.8 2760.0 L1246.2 2761.1 L1247.6 2762.2 L1249.0 2763.5 L1250.4 2765.0 L1251.9 2766.9 L1253.3 2768.8 L1254.7 2770.8 L1256.1 2772.5 L1257.6 2774.0 L1259.0 2775.0 L1260.5 2775.7 L1262.0 2776.4 L1263.5 2777.0 L1265.0 2777.4 L1266.5 2777.5 L1268.0 2777.2 L1269.5 2776.3 L1271.0 2775.0 L1272.5 2773.5 L1274.0 2772.0 L1275.4 2770.4 L1276.9 2768.4 L1278.3 2766.1 L1279.7 2763.6 L1281.1 2761.0 L1282.6 2758.5 L1284.0 2756.0 L1285.4 2753.5 L1286.9 2750.9 L1288.3 2748.2 L1289.8 2745.5 L1291.2 2742.8 L1292.7 2740.2 L1294.1 2737.7 L1295.6 2735.5 L1297.0 2733.5 L1298.5 2731.6 L1300.0 2729.8 L1301.5 2728.1 L1303.0 2726.4 L1304.5 2724.9 L1306.0 2723.4 L1307.5 2722.0 L1309.0 2720.7 L1310.5 2719.6 L1312.0 2718.5 L1313.5 2717.6 L1315.0 2716.7 L1316.5 2715.9 L1318.0 2715.2 L1319.5 2714.5 L1321.0 2713.9 L1322.5 2713.2 L1324.0 2712.5 L1325.5 2711.8 L1327.0 2711.0 L1328.5 2710.2 L1330.0 2709.3 L1331.5 2708.4 L1333.0 2707.5 L1334.5 2706.6 L1336.0 2705.6 L1337.5 2704.7 L1339.0 2703.8 L1340.5 2702.9 L1342.0 2702.0 L1343.5 2701.1 L1345.0 2700.0 L1346.5 2698.9 L1348.0 2697.7 L1349.5 2696.7 L1351.0 2695.7 L1352.5 2694.8 L1354.0 2694.1 L1355.5 2693.7 L1357.0 2693.5 L1358.5 2693.5 L1360.0 2693.5 L1361.5 2693.5 L1363.0 2693.5 L1364.5 2693.5 L1366.0 2693.5 L1367.5 2693.5 L1369.0 2693.5 L1370.5 2693.5 L1372.0 2693.5 L1373.4 2693.5 L1374.9 2693.4 L1376.3 2693.3 L1377.7 2693.2 L1379.1 2693.1 L1380.6 2692.9 L1382.0 2692.8 L1383.4 2692.6 L1384.9 2692.4 L1386.3 2692.3 L1387.7 2692.2 L1389.1 2692.1 L1390.6 2692.0 L1392.0 2692.0 L1393.4 2692.2 L1394.8 2692.7 L1396.2 2693.6 L1397.6 2694.6 L1398.9 2695.7 L1400.3 2696.9 L1401.7 2698.1 L1403.1 2699.1 L1404.5 2700.0 L1405.9 2700.8 L1407.3 2701.7 L1408.7 2702.6 L1410.1 2703.4 L1411.4 2704.3 L1412.8 2705.0 L1414.2 2705.5 L1415.6 2705.9 L1417.0 2706.0 L1418.5 2705.9 L1419.9 2705.7 L1421.4 2705.4 L1422.8 2705.0 L1424.3 2704.5 L1425.8 2704.0 L1427.2 2703.5 L1428.7 2703.0 L1430.1 2702.6 L1431.6 2702.3 L1433.0 2702.1 L1434.5 2702.0 L1436.0 2702.1 L1437.5 2702.5 L1439.0 2703.1 L1440.5 2703.8 L1442.0 2704.5 L1443.5 2705.2 L1445.0 2705.9 L1446.5 2706.5 L1448.0 2706.9 L1449.5 2707.0 L1451.0 2706.9 L1452.5 2706.8 L1454.0 2706.5 L1455.5 2706.2 L1457.0 2705.8 L1458.5 2705.3 L1460.0 2704.9 L1461.5 2704.4 L1463.0 2703.9 L1464.5 2703.5 L1466.0 2703.0 L1467.5 2702.3 L1469.0 2701.7 L1470.5 2701.2 L1472.0 2701.0 L1473.5 2701.5 L1475.0 2702.7 L1476.5 2704.3 L1478.0 2705.9 L1479.5 2707.0 L1481.0 2707.8 L1482.5 2708.6 L1484.0 2709.3 L1485.5 2709.8 L1487.0 2710.0 L1488.4 2709.6 L1489.9 2708.6 L1491.3 2707.2 L1492.7 2705.5 L1494.1 2703.8 L1495.6 2702.3 L1497.0 2701.0 L1498.4 2699.9 L1499.9 2698.8 L1501.3 2697.6 L1502.7 2696.6 L1504.1 2695.8 L1505.6 2695.2 L1507.0 2695.0 L1508.5 2695.1 L1510.0 2695.4 L1511.5 2695.8 L1513.0 2696.2 L1514.5 2696.8 L1516.0 2697.3 L1517.5 2697.7 L1519.0 2698.1 L1520.5 2698.4 L1522.0 2698.5 L1523.4 2698.5 L1524.9 2698.5 L1526.3 2698.5 L1527.7 2698.5 L1529.1 2698.5 L1530.6 2698.5 L1532.0 2698.5 L1533.4 2698.5 L1534.9 2698.5 L1536.3 2698.5 L1537.7 2698.5 L1539.1 2698.5 L1540.6 2698.5 L1542.0 2698.5 L1543.5 2698.6 L1545.0 2698.9 L1546.5 2699.3 L1548.0 2699.7 L1549.5 2700.2 L1551.0 2700.8 L1552.5 2701.2 L1554.0 2701.6 L1555.5 2701.9 L1557.0 2702.0 L1558.4 2702.0 L1559.9 2701.9 L1561.3 2701.9 L1562.7 2701.8 L1564.1 2701.7 L1565.6 2701.6 L1567.0 2701.5 L1568.4 2701.4 L1569.9 2701.3 L1571.3 2701.2 L1572.7 2701.1 L1574.1 2701.1 L1575.6 2701.0 L1577.0 2701.0 L1578.5 2701.0 L1579.9 2701.0 L1581.4 2701.0 L1582.9 2701.0 L1584.4 2701.0 L1585.8 2701.0 L1587.3 2701.0 L1588.8 2701.0 L1590.2 2701.0 L1591.7 2701.0 L1593.2 2701.0 L1594.6 2701.0 L1596.1 2701.0 L1597.6 2701.0 L1599.1 2701.0 L1600.5 2701.0 L1602.0 2701.0 L1603.4 2701.0 L1604.9 2701.0 L1606.3 2701.1 L1607.7 2701.1 L1609.1 2701.2 L1610.6 2701.2 L1612.0 2701.3 L1613.4 2701.4 L1614.9 2701.5 L1616.3 2701.6 L1617.7 2701.7 L1619.1 2701.8 L1620.6 2701.9 L1622.0 2702.0 L1623.5 2702.2 L1625.0 2702.5 L1626.5 2702.8 L1628.0 2703.2 L1629.5 2703.7 L1631.0 2704.1 L1632.5 2704.4 L1634.0 2704.7 L1635.5 2704.9 L1637.0 2705.0 L1638.4 2705.0 L1639.9 2704.9 L1641.3 2704.9 L1642.7 2704.8 L1644.1 2704.7 L1645.6 2704.6 L1647.0 2704.5 L1648.4 2704.3 L1649.9 2704.2 L1651.3 2704.0 L1652.7 2703.9 L1654.1 2703.8 L1655.6 2703.6 L1657.0 2703.5 L1658.5 2703.4 L1659.9 2703.2 L1661.4 2703.1 L1662.8 2702.9 L1664.3 2702.7 L1665.8 2702.6 L1667.2 2702.4 L1668.7 2702.3 L1670.1 2702.2 L1671.6 2702.1 L1673.0 2702.0 L1674.5 2702.0 L1676.0 2702.0 L1677.5 2702.0 L1679.0 2702.0 L1680.5 2702.0 L1682.0 2702.0 L1683.5 2702.0 L1685.0 2702.0 L1686.5 2702.0 L1688.0 2702.0 L1689.5 2702.0 L1691.0 2702.1 L1692.4 2702.2 L1693.9 2702.5 L1695.3 2702.9 L1696.8 2703.3 L1698.2 2703.7 L1699.7 2704.2 L1701.2 2704.6 L1702.6 2705.0 L1704.1 2705.4 L1705.5 2705.8 L1707.0 2706.0 L1708.4 2706.2 L1709.9 2706.4 L1711.3 2706.6 L1712.7 2706.7 L1714.1 2706.9 L1715.6 2707.0 L1717.0 2707.0 L1718.5 2706.9 L1720.0 2706.8 L1721.5 2706.6 L1723.0 2706.3 L1724.5 2706.0 L1726.0 2705.7 L1727.5 2705.4 L1729.0 2705.2 L1730.5 2705.1 L1732.0 2705.0 L1733.5 2705.0 L1735.0 2705.0 L1736.5 2705.0 L1738.0 2705.0 L1739.5 2705.0 L1741.0 2705.0 L1742.5 2705.0 L1744.0 2705.0 L1745.5 2705.0 L1747.0 2705.0 L1748.5 2705.0 L1750.0 2705.1 L1751.5 2705.3 L1753.0 2705.5 L1754.5 2705.8 L1756.0 2706.0 L1757.5 2706.3 L1759.0 2706.5 L1760.5 2706.8 L1762.0 2707.0 L1763.4 2707.2 L1764.8 2707.3 L1766.2 2707.5 L1767.6 2707.7 L1768.9 2707.8 L1770.3 2708.0 L1771.7 2708.2 L1773.1 2708.3 L1774.5 2708.5 L1775.9 2708.7 L1777.3 2708.9 L1778.7 2709.1 L1780.1 2709.3 L1781.4 2709.5 L1782.8 2709.7 L1784.2 2709.9 L1785.6 2710.0 L1787.0 2710.0 L1788.4 2709.9 L1789.8 2709.6 L1791.2 2709.2 L1792.6 2708.7 L1793.9 2708.1 L1795.3 2707.6 L1796.7 2707.0 L1798.1 2706.4 L1799.5 2706.0 L1800.9 2705.6 L1802.4 2705.1 L1803.8 2704.6 L1805.2 2704.2 L1806.6 2703.8 L1808.1 2703.6 L1809.5 2703.5 L1810.9 2703.8 L1812.4 2704.5 L1813.8 2705.5 L1815.2 2706.7 L1816.6 2708.0 L1818.1 2709.1 L1819.5 2710.0 L1820.9 2710.7 L1822.3 2711.4 L1823.7 2712.1 L1825.1 2712.8 L1826.4 2713.4 L1827.8 2713.9 L1829.2 2714.4 L1830.6 2714.8 L1832.0 2715.0 L1833.4 2715.2 L1834.8 2715.3 L1836.2 2715.4 L1837.6 2715.5 L1838.9 2715.5 L1840.3 2715.6 L1841.7 2715.7 L1843.1 2715.8 L1844.5 2716.0 L1845.9 2716.3 L1847.3 2716.7 L1848.7 2717.3 L1850.1 2717.9 L1851.4 2718.6 L1852.8 2719.3 L1854.2 2720.0 L1855.6 2720.6 L1857.0 2721.0 L1858.4 2721.3 L1859.8 2721.6 L1861.2 2721.8 L1862.6 2722.0 L1863.9 2722.2 L1865.3 2722.4 L1866.7 2722.7 L1868.1 2723.1 L1869.5 2723.5 L1870.9 2724.3 L1872.4 2725.7 L1873.8 2727.5 L1875.2 2729.5 L1876.6 2731.7 L1878.1 2733.9 L1879.5 2736.0 L1880.9 2738.0 L1882.4 2740.1 L1883.8 2742.3 L1885.2 2744.6 L1886.6 2746.8 L1888.1 2748.9 L1889.5 2751.0 L1891.0 2753.3 L1892.5 2755.6 L1894.0 2757.9 L1895.5 2759.7 L1897.0 2761.0 L1898.3 2761.7 L1899.6 2762.2 L1900.9 2762.6 L1902.2 2763.0 L1903.5 2763.5" stroke="#000000"/>
<path d="M150.0 2592.0 L151.5 2592.0 L153.0 2592.0 L154.5 2592.0 L156.0 2592.0 L157.5 2592.0 L159.0 2592.0 L160.5 2592.0 L162.0 2592.0 L163.5 2592.0 L165.0 2592.0 L166.5 2592.0 L168.0 2591.9 L169.5 2591.8 L171.0 2591.6 L172.5 2591.5 L174.0 2591.4 L175.5 2591.2 L177.0 2591.1 L178.5 2591.0 L180.0 2591.0 L181.4 2591.0 L182.9 2591.0 L184.3 2591.1 L185.7 2591.1 L187.1 2591.2 L188.6 2591.3 L190.0 2591.3 L191.4 2591.4 L192.9 2591.5 L194.3 2591.6 L195.7 2591.7 L197.1 2591.8 L198.6 2591.9 L200.0 2592.0 L201.5 2592.1 L203.0 2592.3 L204.5 2592.5 L206.0 2592.7 L207.5 2592.9 L209.0 2593.1 L210.5 2593.2 L212.0 2593.4 L213.5 2593.5 L215.0 2593.5 L216.4 2593.5 L217.9 2593.4 L219.3 2593.3 L220.7 2593.2 L222.1 2593.1 L223.6 2592.9 L225.0 2592.8 L226.4 2592.6 L227.9 2592.4 L229.3 2592.3 L230.7 2592.2 L232.1 2592.1 L233.6 2592.0 L235.0 2592.0 L236.5 2592.0 L238.0 2592.0 L239.5 2592.0 L241.0 2592.0 L242.5 2592.0 L244.0 2592.0 L245.5 2592.0 L247.0 2592.0 L248.5 2592.0 L250.0 2592.0 L251.5 2592.1 L253.0 2592.3 L254.5 2592.7 L256.0 2593.1 L257.5 2593.6 L259.0 2594.1 L260.5 2594.7 L262.0 2595.2 L263.5 2595.6 L265.0 2596.0 L266.4 2596.3 L267.9 2596.6 L269.3 2597.0 L270.7 2597.3 L272.1 2597.7 L273.6 2598.0 L275.0 2598.3 L276.4 2598.6 L277.9 2598.8 L279.3 2599.1 L280.7 2599.2 L282.1 2599.4 L283.6 2599.5 L285.0 2599.5 L286.4 2599.5 L287.9 2599.4 L289.3 2599.4 L290.7 2599.3 L292.1 2599.2 L293.6 2599.1 L295.0 2599.0 L296.4 2598.9 L297.9 2598.8 L299.3 2598.7 L300.7 2598.6 L302.1 2598.6 L303.6 2598.5 L305.0 2598.5 L306.5 2598.5 L308.0 2598.5 L309.5 2598.5 L311.0 2598.5 L312.5 2598.5 L314.0 2598.5 L315.5 2598.5 L317.0 2598.5 L318.5 2598.5 L320.0 2598.5 L321.4 2598.4 L322.8 2598.3 L324.2 2598.1 L325.6 2597.8 L326.9 2597.5 L328.3 2597.1 L329.7 2596.7 L331.1 2596.4 L332.5 2596.0 L334.0 2595.6 L335.5 2595.0 L337.0 2594.4 L338.5 2593.7 L340.0 2593.0 L341.5 2592.4 L343.0 2591.8 L344.5 2591.4 L346.0 2591.1 L347.5 2591.0 L348.9 2591.1 L350.3 2591.4 L351.7 2591.9 L353.1 2592.4 L354.4 2593.0 L355.8 2593.6 L357.2 2594.2 L358.6 2594.7 L360.0 2595.0 L361.5 2595.3 L363.0 2595.6 L364.5 2595.9 L366.0 2596.1 L367.5 2596.4 L369.0 2596.6 L370.5 2596.7 L372.0 2596.9 L373.5 2597.0 L375.0 2597.0 L376.4 2597.0 L377.8 2596.8 L379.2 2596.7 L380.6 2596.4 L381.9 2596.2 L383.3 2595.9 L384.7 2595.6 L386.1 2595.3 L387.5 2595.0 L388.9 2594.7 L390.3 2594.3 L391.7 2593.9 L393.1 2593.4 L394.4 2593.0 L395.8 2592.6 L397.2 2592.3 L398.6 2592.1 L400.0 2592.0 L401.5 2592.1 L403.0 2592.5 L404.5 2593.0 L406.0 2593.6 L407.5 2594.4 L409.0 2595.2 L410.5 2596.1 L412.0 2596.9 L413.5 2597.8 L415.0 2598.5 L416.4 2599.2 L417.8 2600.0 L419.2 2600.9 L420.6 2601.8 L421.9 2602.6 L423.3 2603.4 L424.7 2604.0 L426.1 2604.4 L427.5 2604.5 L428.9 2604.4 L430.3 2604.1 L431.7 2603.6 L433.1 2603.0 L434.4 2602.5 L435.8 2601.9 L437.2 2601.4 L438.6 2601.1 L440.0 2601.0 L441.4 2601.0 L442.8 2601.0 L444.2 2601.0 L445.6 2601.0 L446.9 2601.0 L448.3 2601.0 L449.7 2601.0 L451.1 2601.0 L452.5 2601.0 L453.9 2601.1 L455.3 2601.4 L456.7 2601.9 L458.1 2602.4 L459.4 2603.1 L460.8 2603.8 L462.2 2604.6 L463.6 2605.3 L465.0 2606.0 L466.4 2606.7 L467.8 2607.6 L469.2 2608.6 L470.6 2609.6 L471.9 2610.6 L473.3 2611.5 L474.7 2612.3 L476.1 2613.0 L477.5 2613.5 L479.0 2613.9 L480.5 2614.2 L482.0 2614.4 L483.5 2614.7 L485.0 2614.9 L486.5 2615.1 L488.0 2615.3 L489.5 2615.5 L491.0 2615.7 L492.5 2616.0 L493.9 2616.3 L495.4 2616.6 L496.8 2616.8 L498.2 2617.2 L499.6 2617.5 L501.1 2618.0 L502.5 2618.5 L504.0 2619.3 L505.5 2620.5 L507.0 2622.0 L508.5 2623.8 L510.0 2626.0 L511.5 2629.4 L513.0 2634.4 L514.5 2640.2 L516.0 2646.0 L517.2 2651.1 L518.5 2656.6 L519.8 2661.9 L521.0 2666.0 L522.2 2669.4 L523.5 2672.7 L524.8 2675.1 L526.0 2676.0 L527.3 2676.0 L528.7 2676.0 L530.0 2676.0 L531.3 2674.3 L532.7 2670.3 L534.0 2666.0 L535.5 2660.9 L537.0 2655.0 L538.5 2649.0 L540.0 2643.5 L541.5 2638.4 L543.0 2633.3 L544.5 2629.0 L546.0 2626.0 L547.3 2624.3 L548.6 2622.8 L549.9 2621.5 L551.2 2620.6 L552.5 2620.0 L554.0 2619.5 L555.5 2619.1 L557.0 2618.8 L558.5 2618.6 L560.0 2618.5 L561.4 2618.7 L562.9 2619.2 L564.3 2619.9 L565.7 2620.8 L567.1 2621.8 L568.6 2622.7 L570.0 2623.5 L571.4 2624.3 L572.8 2625.2 L574.2 2626.1 L575.6 2627.1 L576.9 2628.0 L578.3 2628.8 L579.7 2629.4 L581.1 2629.8 L582.5 2630.0 L583.9 2630.0 L585.4 2629.8 L586.8 2629.7 L588.2 2629.4 L589.6 2629.1 L591.1 2628.8 L592.5 2628.5 L593.9 2628.1 L595.3 2627.4 L596.7 2626.6 L598.1 2625.7 L599.4 2624.7 L600.8 2623.7 L602.2 2622.7 L603.6 2621.8 L605.0 2621.0 L606.4 2620.2 L607.9 2619.2 L609.3 2618.3 L610.7 2617.4 L612.1 2616.7 L613.6 2616.2 L615.0 2616.0 L616.4 2616.0 L617.9 2616.0 L619.3 2616.0 L620.7 2616.0 L622.1 2616.0 L623.6 2616.0 L625.0 2616.0 L626.4 2616.1 L627.8 2616.4 L629.2 2616.9 L630.6 2617.5 L631.9 2618.2 L633.3 2619.0 L634.7 2619.7 L636.1 2620.4 L637.5 2621.0 L638.9 2621.6 L640.3 2622.2 L641.7 2622.8 L643.1 2623.4 L644.4 2624.1 L645.8 2624.6 L647.2 2625.2 L648.6 2625.6 L650.0 2626.0 L651.5 2626.3 L653.0 2626.6 L654.5 2626.8 L656.0 2627.0 L657.5 2627.2 L659.0 2627.4 L660.5 2627.6 L662.0 2627.8 L663.5 2628.1 L665.0 2628.5 L666.5 2629.0 L668.0 2629.7 L669.5 2630.6 L671.0 2631.6 L672.5 2632.8 L674.0 2633.9 L675.5 2635.1 L677.0 2636.3 L678.5 2637.4 L680.0 2638.5 L681.5 2639.5 L683.0 2640.5 L684.5 2641.6 L686.0 2642.6 L687.5 2643.6 L689.0 2644.6 L690.5 2645.6 L692.0 2646.6 L693.5 2647.6 L695.0 2648.5 L696.5 2649.4 L698.0 2650.3 L699.5 2651.2 L701.0 2652.0 L702.5 2652.8 L704.0 2653.5 L705.5 2654.1 L707.0 2654.6 L708.5 2655.1 L710.0 2655.5 L711.5 2655.9 L713.0 2656.3 L714.5 2656.8 L716.0 2657.3 L717.5 2657.8 L719.0 2658.5 L720.5 2659.3 L722.0 2660.2 L723.5 2661.3 L725.0 2662.5 L726.5 2663.8 L728.0 2665.2 L729.5 2666.6 L731.0 2668.1 L732.5 2669.5 L734.0 2671.0 L735.5 2672.5 L737.0 2674.2 L738.5 2675.9 L740.0 2677.7 L741.5 2679.6 L743.0 2681.4 L744.5 2683.3 L746.0 2685.1 L747.5 2686.8 L749.0 2688.5 L750.5 2690.1 L752.0 2691.7 L753.5 2693.3 L755.0 2694.8 L756.5 2696.4 L758.0 2697.9 L759.5 2699.3 L761.0 2700.8 L762.5 2702.1 L764.0 2703.5 L765.4 2704.7 L766.8 2706.0 L768.2 2707.2 L769.6 2708.5 L770.9 2709.6 L772.3 2710.8 L773.7 2711.8 L775.1 2712.7 L776.5 2713.5 L777.9 2714.2 L779.4 2715.0 L780.8 2715.6 L782.2 2716.3 L783.6 2716.8 L785.1 2717.2 L786.5 2717.5 L787.9 2717.7 L789.4 2717.9 L790.8 2718.1 L792.2 2718.3 L793.6 2718.4 L795.1 2718.5 L796.5 2718.5 L797.9 2718.3 L799.4 2717.9 L800.8 2717.2 L802.2 2716.4 L803.6 2715.5 L805.1 2714.5 L806.5 2713.5 L807.9 2712.4 L809.4 2711.2 L810.8 2709.8 L812.2 2708.3 L813.6 2706.7 L815.1 2705.1 L816.5 2703.5 L817.9 2701.9 L819.3 2700.3 L820.7 2698.6 L822.1 2696.9 L823.4 2695.1 L824.8 2693.4 L826.2 2691.7 L827.6 2690.1 L829.0 2688.5 L830.4 2687.0 L831.8 2685.4 L833.2 2683.9 L834.6 2682.4 L835.9 2681.0 L837.3 2679.6 L838.7 2678.3 L840.1 2677.1 L841.5 2676.0 L842.9 2675.0 L844.3 2674.1 L845.7 2673.2 L847.1 2672.4 L848.4 2671.6 L849.8 2670.8 L851.2 2670.0 L852.6 2669.3 L854.0 2668.5 L855.4 2667.7 L856.8 2666.8 L858.2 2665.9 L859.6 2665.1 L860.9 2664.2 L862.3 2663.5 L863.7 2662.8 L865.1 2662.3 L866.5 2662.0 L867.9 2661.8 L869.4 2661.6 L870.8 2661.4 L872.2 2661.2 L873.6 2661.1 L875.1 2661.0 L876.5 2661.0 L877.9 2661.1 L879.3 2661.3 L880.7 2661.7 L882.1 2662.2 L883.4 2662.8 L884.8 2663.4 L886.2 2663.9 L887.6 2664.5 L889.0 2665.0 L890.5 2665.5 L892.0 2666.1 L893.5 2666.8 L895.0 2667.5 L896.5 2668.1 L898.0 2668.7 L899.5 2669.2 L901.0 2669.6 L902.5 2669.9 L904.0 2670.0 L905.5 2670.0 L907.0 2670.0 L908.5 2670.0 L910.0 2670.0 L911.5 2670.0 L913.0 2670.0 L914.5 2670.0 L916.0 2670.0 L917.5 2670.0 L919.0 2670.0 L920.4 2669.8 L921.9 2669.2 L923.3 2668.3 L924.7 2667.3 L926.1 2666.0 L927.6 2664.8 L929.0 2663.5 L930.4 2662.1 L931.9 2660.5 L933.3 2658.7 L934.7 2656.7 L936.1 2654.7 L937.6 2652.8 L939.0 2651.0 L940.5 2649.2 L942.0 2647.5 L943.5 2645.7 L945.0 2644.0 L946.5 2642.3 L948.0 2640.6 L949.5 2638.9 L951.0 2637.1 L952.5 2635.3 L954.0 2633.5 L955.5 2631.6 L957.0 2629.6 L958.5 2627.5 L960.0 2625.4 L961.5 2623.3 L963.0 2621.2 L964.5 2619.2 L966.0 2617.2 L967.5 2615.3 L969.0 2613.5 L970.5 2611.8 L972.0 2610.0 L973.5 2608.2 L975.0 2606.5 L976.5 2604.8 L978.0 2603.2 L979.5 2601.8 L981.0 2600.5 L982.5 2599.4 L984.0 2598.5 L985.5 2597.8 L987.0 2597.1 L988.5 2596.5 L990.0 2595.9 L991.5 2595.4 L993.0 2594.9 L994.5 2594.4 L996.0 2594.1 L997.5 2593.8 L999.0 2593.5 L1000.5 2593.3 L1002.0 2593.1 L1003.5 2593.0 L1005.0 2592.9 L1006.5 2592.8 L1008.0 2592.7 L1009.5 2592.6 L1011.0 2592.4 L1012.5 2592.2 L1014.0 2592.0 L1015.5 2591.6 L1017.0 2591.0 L1018.5 2590.2 L1020.0 2589.3 L1021.5 2588.3 L1023.0 2587.3 L1024.5 2586.2 L1026.0 2585.2 L1027.5 2584.3 L1029.0 2583.5 L1030.5 2582.8 L1032.0 2582.0 L1033.5 2581.2 L1035.0 2580.4 L1036.5 2579.6 L1038.0 2578.9 L1039.5 2578.4 L1041.0 2577.9 L1042.5 2577.6 L1044.0 2577.5 L1045.5 2577.5 L1047.0 2577.6 L1048.5 2577.6 L1050.0 2577.7 L1051.5 2577.8 L1053.0 2577.9 L1054.5 2578.1 L1056.0 2578.2 L1057.5 2578.3 L1059.0 2578.5 L1060.4 2578.7 L1061.8 2579.0 L1063.2 2579.3 L1064.6 2579.7 L1065.9 2580.1 L1067.3 2580.4 L1068.7 2580.7 L1070.1 2580.9 L1071.5 2581.0 L1072.9 2580.9 L1074.3 2580.5 L1075.7 2579.9 L1077.1 2579.2 L1078.4 2578.5 L1079.8 2577.7 L1081.2 2577.0 L1082.6 2576.4 L1084.0 2576.0 L1085.5 2575.6 L1087.0 2575.3 L1088.5 2574.9 L1090.0 2574.6 L1091.5 2574.3 L1093.0 2574.0 L1094.5 2573.8 L1096.0 2573.6 L1097.5 2573.5 L1099.0 2573.5 L1100.4 2573.6 L1101.8 2573.9 L1103.2 2574.4 L1104.6 2574.9 L1105.9 2575.6 L1107.3 2576.3 L1108.7 2577.1 L1110.1 2577.8 L1111.5 2578.5 L1112.9 2579.2 L1114.3 2580.0 L1115.7 2580.8 L1117.1 2581.6 L1118.4 2582.5 L1119.8 2583.4 L1121.2 2584.3 L1122.6 2585.2 L1124.0 2586.0 L1125.4 2586.9 L1126.8 2587.8 L1128.2 2588.7 L1129.6 2589.6 L1130.9 2590.5 L1132.3 2591.4 L1133.7 2592.2 L1135.1 2592.9 L1136.5 2593.5 L1137.9 2594.0 L1139.3 2594.6 L1140.7 2595.1 L1142.1 2595.6 L1143.4 2596.1 L1144.8 2596.4 L1146.2 2596.7 L1147.6 2596.9 L1149.0 2597.0 L1150.5 2597.0 L1152.0 2596.9 L1153.5 2596.9 L1155.0 2596.8 L1156.5 2596.7 L1158.0 2596.6 L1159.5 2596.4 L1161.0 2596.3 L1162.5 2596.1 L1164.0 2596.0 L1165.5 2595.8 L1167.0 2595.6 L1168.5 2595.2 L1170.0 2594.9 L1171.5 2594.6 L1173.0 2594.2 L1174.5 2593.9 L1176.0 2593.7 L1177.5 2593.6 L1179.0 2593.5 L1180.4 2593.6 L1181.8 2593.9 L1183.2 2594.4 L1184.6 2595.0 L1185.9 2595.7 L1187.3 2596.4 L1188.7 2597.1 L1190.1 2597.8 L1191.5 2598.5 L1193.0 2599.1 L1194.5 2599.7 L1196.0 2600.3 L1197.5 2600.9 L1199.0 2601.6 L1200.5 2602.3 L1202.0 2603.0 L1203.5 2603.9 L1205.0 2604.9 L1206.5 2606.0 L1207.9 2607.5 L1209.4 2609.4 L1210.8 2611.9 L1212.2 2614.6 L1213.6 2617.5 L1215.1 2620.5 L1216.5 2623.5 L1217.9 2626.7 L1219.4 2630.4 L1220.8 2634.3 L1222.2 2638.2 L1223.6 2642.0 L1225.1 2645.5 L1226.5 2648.5 L1227.9 2651.1 L1229.4 2653.4 L1230.8 2655.6 L1232.2 2657.7 L1233.6 2659.7 L1235.1 2661.6 L1236.5 2663.5 L1237.9 2665.3 L1239.3 2667.2 L1240.7 2669.0 L1242.1 2670.7 L1243.4 2672.4 L1244.8 2674.0 L1246.2 2675.6 L1247.6 2677.1 L1249.0 2678.5 L1250.4 2680.0 L1251.9 2681.4 L1253.3 2682.9 L1254.7 2684.3 L1256.1 2685.4 L1257.6 2686.4 L1259.0 2687.0 L1260.5 2687.5 L1262.0 2687.9 L1263.5 2688.2 L1265.0 2688.4 L1266.5 2688.5 L1268.0 2688.1 L1269.5 2687.0 L1271.0 2685.5 L1272.5 2683.8 L1274.0 2682.0 L1275.4 2680.1 L1276.9 2677.8 L1278.3 2675.2 L1279.7 2672.4 L1281.1 2669.4 L1282.6 2666.4 L1284.0 2663.5 L1285.3 2660.6 L1286.7 2657.5 L1288.0 2654.3 L1289.3 2651.2 L1290.7 2648.4 L1292.0 2646.0 L1293.4 2643.9 L1294.8 2642.0 L1296.2 2640.3 L1297.6 2638.7 L1298.9 2637.1 L1300.3 2635.6 L1301.7 2634.1 L1303.1 2632.6 L1304.5 2631.0 L1305.9 2629.4 L1307.3 2627.7 L1308.7 2626.1 L1310.1 2624.5 L1311.4 2622.9 L1312.8 2621.3 L1314.2 2619.6 L1315.6 2617.8 L1317.0 2616.0 L1318.4 2613.9 L1319.9 2611.6 L1321.3 2609.3 L1322.7 2606.9 L1324.1 2604.6 L1325.6 2602.6 L1327.0 2601.0 L1328.4 2599.6 L1329.8 2598.2 L1331.2 2596.8 L1332.6 2595.6 L1333.9 2594.4 L1335.3 2593.4 L1336.7 2592.7 L1338.1 2592.2 L1339.5 2592.0 L1340.9 2592.0 L1342.4 2592.2 L1343.8 2592.4 L1345.2 2592.6 L1346.6 2592.9 L1348.1 2593.2 L1349.5 2593.5 L1350.9 2594.0 L1352.3 2594.6 L1353.7 2595.5 L1355.1 2596.4 L1356.4 2597.3 L1357.8 2598.2 L1359.2 2598.9 L1360.6 2599.3 L1362.0 2599.5 L1363.4 2599.3 L1364.9 2598.7 L1366.3 2597.8 L1367.7 2596.7 L1369.1 2595.6 L1370.6 2594.5 L1372.0 2593.5 L1373.4 2592.7 L1374.8 2591.8 L1376.2 2590.9 L1377.6 2590.0 L1378.9 2589.2 L1380.3 2588.3 L1381.7 2587.5 L1383.1 2586.7 L1384.5 2586.0 L1385.9 2585.2 L1387.4 2584.4 L1388.8 2583.6 L1390.2 2582.8 L1391.7 2582.1 L1393.1 2581.5 L1394.6 2581.1 L1396.0 2581.0 L1397.4 2581.3 L1398.8 2582.0 L1400.1 2583.1 L1401.5 2584.5 L1402.9 2586.0 L1404.2 2587.5 L1405.6 2588.8 L1407.0 2590.0 L1408.5 2591.2 L1410.0 2592.5 L1411.5 2593.8 L1413.0 2595.1 L1414.5 2596.4 L1416.0 2597.5 L1417.5 2598.5 L1419.0 2599.3 L1420.5 2599.8 L1422.0 2600.0 L1423.4 2599.9 L1424.8 2599.7 L1426.2 2599.4 L1427.6 2598.9 L1428.9 2598.4 L1430.3 2597.9 L1431.7 2597.3 L1433.1 2596.6 L1434.5 2596.0 L1436.0 2595.1 L1437.5 2593.8 L1439.0 2592.4 L1440.5 2591.4 L1442.0 2591.0 L1443.4 2591.0 L1444.9 2591.0 L1446.3 2591.0 L1447.7 2591.0 L1449.1 2591.0 L1450.6 2591.0 L1452.0 2591.0 L1453.4 2590.9 L1454.9 2590.6 L1456.3 2590.2 L1457.7 2589.8 L1459.1 2589.4 L1460.6 2589.1 L1462.0 2589.0 L1463.4 2589.0 L1464.8 2589.1 L1466.2 2589.3 L1467.6 2589.5 L1468.9 2589.7 L1470.3 2590.0 L1471.7 2590.3 L1473.1 2590.6 L1474.5 2591.0 L1475.9 2591.6 L1477.4 2592.6 L1478.8 2593.8 L1480.2 2595.1 L1481.7 2596.4 L1483.1 2597.5 L1484.6 2598.2 L1486.0 2598.5 L1487.4 2598.2 L1488.8 2597.4 L1490.2 2596.2 L1491.7 2594.8 L1493.1 2593.3 L1494.5 2592.0 L1495.9 2590.6 L1497.4 2589.1 L1498.8 2587.4 L1500.2 2585.8 L1501.6 2584.2 L1503.1 2582.9 L1504.5 2582.0 L1505.9 2581.3 L1507.4 2580.6 L1508.8 2579.9 L1510.2 2579.3 L1511.6 2578.9 L1513.1 2578.6 L1514.5 2578.5 L1515.9 2578.6 L1517.4 2578.8 L1518.8 2579.1 L1520.2 2579.5 L1521.6 2579.9 L1523.1 2580.4 L1524.5 2581.0 L1525.9 2581.8 L1527.4 2583.1 L1528.8 2584.7 L1530.2 2586.4 L1531.6 2588.1 L1533.1 2589.7 L1534.5 2591.0 L1536.0 2592.3 L1537.5 2593.6 L1539.0 2594.8 L1540.5 2595.7 L1542.0 2596.0 L1543.4 2595.9 L1544.9 2595.7 L1546.3 2595.4 L1547.7 2595.0 L1549.1 2594.5 L1550.6 2594.0 L1552.0 2593.5 L1553.4 2592.7 L1554.9 2591.7 L1556.3 2590.4 L1557.7 2589.0 L1559.1 2587.7 L1560.6 2586.7 L1562.0 2586.0 L1563.4 2585.6 L1564.8 2585.1 L1566.2 2584.8 L1567.6 2584.4 L1568.9 2584.1 L1570.3 2583.8 L1571.7 2583.7 L1573.1 2583.5 L1574.5 2583.5 L1575.9 2583.8 L1577.4 2584.5 L1578.8 2585.6 L1580.2 2586.8 L1581.6 2588.3 L1583.1 2589.7 L1584.5 2591.0 L1585.9 2592.3 L1587.4 2593.7 L1588.8 2595.3 L1590.2 2596.8 L1591.6 2598.3 L1593.1 2599.7 L1594.5 2601.0 L1595.9 2602.2 L1597.3 2603.6 L1598.7 2604.9 L1600.1 2606.2 L1601.4 2607.4 L1602.8 2608.4 L1604.2 2609.3 L1605.6 2609.8 L1607.0 2610.0 L1608.4 2609.5 L1609.9 2608.0 L1611.3 2606.0 L1612.7 2603.7 L1614.1 2601.5 L1615.6 2599.7 L1617.0 2598.5 L1618.4 2597.8 L1619.8 2597.1 L1621.2 2596.5 L1622.6 2596.0 L1623.9 2595.5 L1625.3 2595.1 L1626.7 2594.8 L1628.1 2594.6 L1629.5 2594.5 L1631.0 2595.1 L1632.5 2596.8 L1634.0 2599.0 L1635.5 2601.4 L1637.0 2603.5 L1638.4 2605.3 L1639.9 2607.0 L1641.3 2608.8 L1642.7 2610.6 L1644.1 2612.4 L1645.6 2614.2 L1647.0 2616.0 L1648.4 2617.9 L1649.9 2620.0 L1651.3 2622.2 L1652.7 2624.2 L1654.1 2626.1 L1655.6 2627.5 L1657.0 2628.5 L1658.4 2629.1 L1659.8 2629.7 L1661.2 2630.3 L1662.6 2630.8 L1663.9 2631.2 L1665.3 2631.5 L1666.7 2631.8 L1668.1 2631.9 L1669.5 2632.0 L1671.0 2631.1 L1672.5 2628.9 L1674.0 2626.0 L1675.5 2623.1 L1677.0 2621.0 L1678.4 2619.6 L1679.9 2618.2 L1681.3 2617.0 L1682.7 2615.8 L1684.1 2614.8 L1685.6 2614.1 L1687.0 2613.5 L1688.5 2613.1 L1690.0 2612.9 L1691.5 2612.7 L1693.0 2612.4 L1694.5 2612.0 L1695.8 2610.9 L1697.1 2609.0 L1698.4 2606.9 L1699.7 2605.2 L1701.0 2604.5 L1702.5 2605.7 L1704.0 2608.2 L1705.5 2610.8 L1707.0 2612.0 L1708.5 2611.8 L1710.0 2611.3 L1711.5 2610.7 L1713.0 2610.2 L1714.5 2610.0 L1716.0 2610.0 L1717.5 2610.0 L1719.0 2610.0 L1720.5 2610.0 L1722.0 2610.0 L1723.5 2609.6 L1725.0 2608.5 L1726.5 2606.9 L1728.0 2605.2 L1729.5 2603.5 L1731.0 2601.7 L1732.5 2599.6 L1734.0 2597.5 L1735.5 2595.4 L1737.0 2593.5 L1738.5 2591.7 L1740.0 2589.8 L1741.5 2588.0 L1743.0 2586.5 L1744.5 2585.4 L1746.0 2585.0 L1747.4 2585.4 L1748.8 2586.5 L1750.2 2588.2 L1751.6 2590.0 L1753.0 2592.0 L1754.3 2594.3 L1755.6 2597.3 L1756.9 2600.5 L1758.2 2603.6 L1759.5 2606.0 L1760.8 2607.9 L1762.1 2609.7 L1763.4 2611.2 L1764.7 2612.5 L1766.0 2613.5 L1767.4 2614.3 L1768.8 2614.9 L1770.2 2615.4 L1771.7 2615.9 L1773.1 2616.4 L1774.5 2617.0 L1775.9 2617.7 L1777.4 2618.6 L1778.8 2619.6 L1780.2 2620.5 L1781.6 2621.3 L1783.1 2621.8 L1784.5 2622.0 L1785.9 2621.7 L1787.4 2620.8 L1788.8 2619.6 L1790.2 2618.4 L1791.6 2617.2 L1793.1 2616.3 L1794.5 2616.0 L1795.9 2616.0 L1797.4 2616.1 L1798.8 2616.2 L1800.2 2616.3 L1801.6 2616.5 L1803.1 2616.7 L1804.5 2617.0 L1805.8 2618.5 L1807.0 2621.8 L1808.2 2625.5 L1809.5 2628.5 L1811.0 2630.9 L1812.5 2633.0 L1814.0 2634.9 L1815.5 2636.7 L1817.0 2638.5 L1818.4 2640.4 L1819.9 2642.6 L1821.3 2644.8 L1822.7 2646.8 L1824.1 2648.4 L1825.6 2649.6 L1827.0 2650.0 L1828.5 2649.8 L1830.0 2649.4 L1831.5 2648.7 L1833.0 2647.9 L1834.5 2647.0 L1836.0 2645.4 L1837.5 2642.9 L1839.0 2640.0 L1840.5 2637.2 L1842.0 2635.0 L1843.5 2633.5 L1845.0 2632.2 L1846.5 2631.0 L1848.0 2629.8 L1849.5 2628.5 L1851.0 2626.7 L1852.5 2624.4 L1854.0 2622.3 L1855.5 2620.6 L1857.0 2620.0 L1858.5 2620.2 L1860.0 2620.7 L1861.5 2621.5 L1863.0 2622.4 L1864.5 2623.5 L1865.8 2625.3 L1867.1 2628.2 L1868.4 2631.4 L1869.7 2634.0 L1871.0 2635.0 L1872.5 2634.8 L1874.0 2634.2 L1875.5 2633.7 L1877.0 2633.5 L1878.5 2634.8 L1880.0 2637.9 L1881.5 2641.6 L1883.0 2644.7 L1884.5 2646.0 L1886.0 2645.8 L1887.5 2645.2 L1889.0 2644.5 L1890.5 2643.9 L1892.0 2643.5 L1893.4 2643.3 L1894.9 2643.2 L1896.3 2643.0 L1897.8 2642.9 L1899.2 2642.8 L1900.6 2642.7 L1902.1 2642.6 L1903.5 2642.5" stroke="#0000ff"/>
<path d="M150.0 2398.5 L151.4 2398.5 L152.9 2398.5 L154.3 2398.5 L155.7 2398.5 L157.1 2398.5 L158.6 2398.5 L160.0 2398.5 L161.4 2398.6 L162.9 2398.8 L164.3 2399.1 L165.7 2399.4 L167.1 2399.7 L168.6 2399.9 L170.0 2400.0 L171.4 2399.9 L172.8 2399.6 L174.2 2399.2 L175.6 2398.7 L176.9 2398.3 L178.3 2397.8 L179.7 2397.4 L181.1 2397.1 L182.5 2397.0 L183.9 2397.2 L185.4 2397.6 L186.8 2398.2 L188.2 2398.8 L189.6 2399.4 L191.1 2399.8 L192.5 2400.0 L193.9 2399.9 L195.4 2399.7 L196.8 2399.4 L198.2 2399.1 L199.6 2398.8 L201.1 2398.6 L202.5 2398.5 L203.9 2398.6 L205.4 2398.8 L206.8 2399.1 L208.2 2399.5 L209.6 2400.0 L211.1 2400.5 L212.5 2401.0 L213.9 2401.6 L215.4 2402.3 L216.8 2403.1 L218.2 2404.0 L219.6 2404.8 L221.1 2405.5 L222.5 2406.0 L223.9 2406.4 L225.3 2406.8 L226.7 2407.2 L228.1 2407.5 L229.4 2407.9 L230.8 2408.1 L232.2 2408.3 L233.6 2408.5 L235.0 2408.5 L236.4 2408.5 L237.8 2408.5 L239.2 2408.5 L240.6 2408.5 L241.9 2408.5 L243.3 2408.5 L244.7 2408.5 L246.1 2408.5 L247.5 2408.5 L248.9 2408.5 L250.3 2408.5 L251.7 2408.5 L253.1 2408.5 L254.4 2408.5 L255.8 2408.5 L257.2 2408.5 L258.6 2408.5 L260.0 2408.5 L261.4 2408.7 L262.9 2409.1 L264.3 2409.8 L265.7 2410.6 L267.1 2411.5 L268.6 2412.5 L270.0 2413.5 L271.5 2414.8 L273.0 2416.4 L274.5 2418.1 L276.0 2419.7 L277.5 2421.0 L279.0 2422.1 L280.5 2423.2 L282.0 2424.1 L283.5 2424.8 L285.0 2425.0 L286.4 2425.0 L287.9 2425.0 L289.3 2425.0 L290.7 2425.0 L292.1 2425.0 L293.6 2425.0 L295.0 2425.0 L296.4 2425.0 L297.9 2424.8 L299.3 2424.6 L300.7 2424.4 L302.1 2424.1 L303.6 2423.8 L305.0 2423.5 L306.5 2423.2 L308.0 2422.8 L309.5 2422.3 L311.0 2421.7 L312.5 2421.0 L314.0 2419.9 L315.5 2418.3 L317.0 2416.5 L318.5 2414.8 L320.0 2413.5 L321.5 2412.6 L323.0 2411.7 L324.5 2411.0 L326.0 2410.4 L327.5 2410.0 L328.9 2409.7 L330.4 2409.5 L331.8 2409.3 L333.2 2409.1 L334.6 2409.0 L336.1 2408.8 L337.5 2408.5 L339.0 2408.0 L340.5 2407.4 L342.0 2406.7 L343.5 2406.2 L345.0 2406.0 L346.4 2406.1 L347.9 2406.2 L349.3 2406.4 L350.7 2406.6 L352.1 2406.8 L353.6 2406.9 L355.0 2407.0 L356.4 2406.9 L357.8 2406.8 L359.2 2406.6 L360.6 2406.3 L361.9 2406.0 L363.3 2405.7 L364.7 2405.5 L366.1 2405.2 L367.5 2405.0 L369.0 2404.8 L370.5 2404.6 L372.0 2404.4 L373.5 2404.2 L375.0 2404.0 L376.5 2403.8 L378.0 2403.7 L379.5 2403.6 L381.0 2403.5 L382.5 2403.5 L383.9 2403.5 L385.4 2403.7 L386.8 2403.9 L388.2 2404.1 L389.6 2404.4 L391.1 2404.7 L392.5 2405.0 L393.9 2405.4 L395.3 2405.9 L396.7 2406.5 L398.1 2407.1 L399.4 2407.8 L400.8 2408.5 L402.2 2409.1 L403.6 2409.6 L405.0 2410.0 L406.4 2410.3 L407.8 2410.6 L409.2 2410.8 L410.6 2411.0 L411.9 2411.2 L413.3 2411.4 L414.7 2411.6 L416.1 2411.8 L417.5 2412.0 L418.9 2412.2 L420.3 2412.3 L421.7 2412.5 L423.1 2412.6 L424.4 2412.8 L425.8 2412.9 L427.2 2413.1 L428.6 2413.3 L430.0 2413.5 L431.4 2413.8 L432.9 2414.0 L434.3 2414.3 L435.7 2414.7 L437.1 2415.1 L438.6 2415.5 L440.0 2416.0 L441.4 2416.6 L442.8 2417.3 L444.2 2418.0 L445.6 2418.9 L446.9 2419.8 L448.3 2420.8 L449.7 2421.7 L451.1 2422.7 L452.5 2423.5 L454.0 2424.4 L455.5 2425.2 L457.0 2426.1 L458.5 2426.9 L460.0 2427.7 L461.5 2428.5 L463.0 2429.4 L464.5 2430.2 L466.0 2431.1 L467.5 2432.0 L468.9 2432.8 L470.3 2433.7 L471.7 2434.5 L473.1 2435.4 L474.4 2436.2 L475.8 2437.1 L477.2 2438.0 L478.6 2439.0 L480.0 2440.0 L481.4 2441.0 L482.8 2442.1 L484.2 2443.1 L485.6 2444.2 L486.9 2445.4 L488.3 2446.6 L489.7 2448.0 L491.1 2449.4 L492.5 2451.0 L493.9 2452.8 L495.4 2454.8 L496.8 2457.0 L498.2 2459.5 L499.6 2462.2 L501.1 2465.2 L502.5 2468.5 L504.0 2472.6 L505.5 2477.5 L507.0 2483.1 L508.5 2489.3 L510.0 2496.0 L511.2 2502.4 L512.5 2509.9 L513.8 2517.9 L515.0 2526.0 L516.2 2534.4 L517.5 2543.2 L518.8 2552.2 L520.0 2561.0 L521.3 2571.3 L522.7 2581.5 L524.0 2588.5 L525.2 2592.1 L526.3 2594.9 L527.5 2596.0 L528.7 2594.9 L529.8 2592.2 L531.0 2588.5 L532.2 2581.7 L533.5 2570.9 L534.8 2558.3 L536.0 2546.0 L537.2 2533.5 L538.5 2519.9 L539.8 2506.9 L541.0 2496.0 L542.2 2486.8 L543.5 2478.3 L544.8 2471.2 L546.0 2466.0 L547.2 2462.1 L548.5 2458.8 L549.8 2456.3 L551.0 2455.0 L552.2 2454.4 L553.5 2453.9 L554.8 2453.6 L556.0 2453.5 L557.3 2454.0 L558.6 2455.2 L559.9 2456.8 L561.2 2458.6 L562.5 2460.0 L563.9 2461.4 L565.4 2462.9 L566.8 2464.4 L568.2 2465.8 L569.6 2467.0 L571.1 2467.9 L572.5 2468.5 L573.9 2468.9 L575.4 2469.2 L576.8 2469.4 L578.2 2469.7 L579.6 2469.9 L581.1 2470.0 L582.5 2470.0 L583.9 2469.8 L585.4 2469.1 L586.8 2468.2 L588.2 2467.1 L589.6 2465.8 L591.1 2464.6 L592.5 2463.5 L593.9 2462.5 L595.3 2461.3 L596.7 2460.1 L598.1 2458.9 L599.4 2457.7 L600.8 2456.6 L602.2 2455.4 L603.6 2454.4 L605.0 2453.5 L606.4 2452.6 L607.9 2451.7 L609.3 2450.9 L610.7 2450.1 L612.1 2449.4 L613.6 2448.9 L615.0 2448.5 L616.5 2448.2 L618.0 2447.9 L619.5 2447.7 L621.0 2447.6 L622.5 2447.5 L623.9 2447.6 L625.4 2448.0 L626.8 2448.6 L628.2 2449.4 L629.6 2450.2 L631.1 2451.1 L632.5 2452.0 L633.9 2452.9 L635.3 2453.9 L636.7 2455.1 L638.1 2456.3 L639.4 2457.6 L640.8 2459.0 L642.2 2460.5 L643.6 2462.0 L645.0 2463.5 L646.4 2465.1 L647.8 2466.9 L649.2 2468.8 L650.6 2470.8 L651.9 2472.8 L653.3 2474.9 L654.7 2477.0 L656.1 2479.0 L657.5 2481.0 L658.9 2482.9 L660.3 2484.9 L661.7 2486.8 L663.1 2488.8 L664.4 2490.7 L665.8 2492.7 L667.2 2494.6 L668.6 2496.6 L670.0 2498.5 L671.4 2500.5 L672.8 2502.5 L674.2 2504.5 L675.6 2506.6 L676.9 2508.6 L678.3 2510.6 L679.7 2512.5 L681.1 2514.3 L682.5 2516.0 L684.0 2517.7 L685.5 2519.4 L687.0 2520.9 L688.5 2522.4 L690.0 2523.9 L691.5 2525.3 L693.0 2526.8 L694.5 2528.2 L696.0 2529.6 L697.5 2531.0 L699.0 2532.4 L700.5 2533.8 L702.0 2535.1 L703.5 2536.4 L705.0 2537.7 L706.5 2539.0 L708.0 2540.3 L709.5 2541.6 L711.0 2543.0 L712.5 2544.5 L714.0 2546.0 L715.4 2547.5 L716.8 2549.0 L718.2 2550.5 L719.6 2552.1 L720.9 2553.7 L722.3 2555.4 L723.7 2557.2 L725.1 2559.0 L726.5 2561.0 L727.9 2563.1 L729.3 2565.3 L730.7 2567.7 L732.1 2570.3 L733.4 2572.8 L734.8 2575.5 L736.2 2578.2 L737.6 2580.8 L739.0 2583.5 L740.4 2586.2 L741.8 2588.9 L743.2 2591.6 L744.6 2594.4 L745.9 2597.2 L747.3 2600.1 L748.7 2602.9 L750.1 2605.7 L751.5 2608.5 L752.9 2611.3 L754.3 2614.2 L755.7 2617.0 L757.1 2619.9 L758.4 2622.8 L759.8 2625.6 L761.2 2628.3 L762.6 2631.0 L764.0 2633.5 L765.4 2636.0 L766.8 2638.5 L768.2 2641.0 L769.6 2643.5 L770.9 2645.9 L772.3 2648.1 L773.7 2650.1 L775.1 2652.0 L776.5 2653.5 L777.9 2654.9 L779.4 2656.4 L780.8 2657.7 L782.2 2658.9 L783.6 2659.8 L785.1 2660.6 L786.5 2661.0 L787.9 2661.2 L789.4 2661.5 L790.8 2661.6 L792.2 2661.8 L793.6 2661.9 L795.1 2662.0 L796.5 2662.0 L797.9 2661.8 L799.4 2661.2 L800.8 2660.3 L802.2 2659.1 L803.6 2657.8 L805.1 2656.4 L806.5 2655.0 L807.9 2653.4 L809.4 2651.4 L810.8 2649.1 L812.2 2646.6 L813.6 2644.0 L815.1 2641.2 L816.5 2638.5 L817.9 2635.6 L819.4 2632.5 L820.8 2629.2 L822.2 2625.8 L823.6 2622.4 L825.1 2619.1 L826.5 2616.0 L827.9 2613.0 L829.4 2609.9 L830.8 2607.0 L832.2 2604.0 L833.6 2601.2 L835.1 2598.5 L836.5 2596.0 L837.9 2593.6 L839.4 2591.2 L840.8 2588.9 L842.2 2586.7 L843.6 2584.6 L845.1 2582.7 L846.5 2581.0 L847.9 2579.4 L849.4 2577.9 L850.8 2576.4 L852.2 2575.1 L853.6 2573.9 L855.1 2572.8 L856.5 2572.0 L857.9 2571.3 L859.4 2570.6 L860.8 2569.9 L862.2 2569.3 L863.6 2568.9 L865.1 2568.6 L866.5 2568.5 L867.9 2568.6 L869.4 2568.8 L870.8 2569.2 L872.2 2569.6 L873.6 2570.1 L875.1 2570.5 L876.5 2571.0 L877.9 2571.4 L879.3 2571.9 L880.7 2572.5 L882.1 2573.0 L883.4 2573.6 L884.8 2574.2 L886.2 2574.8 L887.6 2575.4 L889.0 2576.0 L890.5 2576.7 L892.0 2577.4 L893.5 2578.1 L895.0 2578.9 L896.5 2579.6 L898.0 2580.4 L899.5 2581.2 L901.0 2582.0 L902.5 2582.7 L904.0 2583.5 L905.5 2584.3 L907.0 2585.2 L908.5 2586.2 L910.0 2587.2 L911.5 2588.2 L913.0 2589.1 L914.5 2589.9 L916.0 2590.5 L917.5 2590.9 L919.0 2591.0 L920.5 2590.5 L922.0 2589.3 L923.5 2587.6 L925.0 2585.6 L926.5 2583.5 L927.8 2581.6 L929.0 2579.3 L930.2 2576.6 L931.5 2573.5 L932.8 2569.5 L934.0 2564.5 L935.2 2559.0 L936.5 2553.5 L937.8 2548.1 L939.0 2542.5 L940.2 2536.7 L941.5 2531.0 L943.0 2524.0 L944.5 2516.8 L946.0 2509.7 L947.5 2502.7 L949.0 2496.0 L950.5 2489.6 L952.0 2483.3 L953.5 2477.2 L955.0 2471.4 L956.5 2466.0 L958.0 2461.0 L959.5 2456.1 L961.0 2451.6 L962.5 2447.3 L964.0 2443.5 L965.4 2440.1 L966.9 2436.9 L968.3 2433.9 L969.7 2431.0 L971.1 2428.3 L972.6 2425.8 L974.0 2423.5 L975.4 2421.4 L976.9 2419.4 L978.3 2417.5 L979.7 2415.7 L981.1 2414.0 L982.6 2412.5 L984.0 2411.0 L985.4 2409.7 L986.8 2408.4 L988.2 2407.2 L989.6 2406.1 L990.9 2405.0 L992.3 2404.0 L993.7 2402.9 L995.1 2402.0 L996.5 2401.0 L997.9 2400.1 L999.3 2399.3 L1000.7 2398.5 L1002.1 2397.8 L1003.4 2397.1 L1004.8 2396.3 L1006.2 2395.5 L1007.6 2394.5 L1009.0 2393.5 L1010.4 2392.2 L1011.8 2390.7 L1013.2 2389.0 L1014.6 2387.2 L1015.9 2385.3 L1017.3 2383.4 L1018.7 2381.6 L1020.1 2380.0 L1021.5 2378.5 L1022.9 2377.2 L1024.3 2375.8 L1025.7 2374.5 L1027.1 2373.3 L1028.4 2372.1 L1029.8 2371.0 L1031.2 2370.0 L1032.6 2369.2 L1034.0 2368.5 L1035.4 2367.9 L1036.8 2367.4 L1038.2 2366.8 L1039.6 2366.3 L1040.9 2365.9 L1042.3 2365.5 L1043.7 2365.2 L1045.1 2365.1 L1046.5 2365.0 L1047.9 2365.0 L1049.3 2365.1 L1050.7 2365.3 L1052.1 2365.4 L1053.4 2365.6 L1054.8 2365.7 L1056.2 2365.9 L1057.6 2366.0 L1059.0 2366.0 L1060.4 2365.9 L1061.8 2365.7 L1063.2 2365.3 L1064.6 2364.8 L1065.9 2364.3 L1067.3 2363.7 L1068.7 2363.1 L1070.1 2362.5 L1071.5 2362.0 L1072.9 2361.5 L1074.3 2360.9 L1075.7 2360.2 L1077.1 2359.6 L1078.4 2358.9 L1079.8 2358.3 L1081.2 2357.8 L1082.6 2357.3 L1084.0 2357.0 L1085.5 2356.7 L1087.0 2356.4 L1088.5 2356.2 L1090.0 2356.1 L1091.5 2356.0 L1092.9 2356.2 L1094.4 2356.8 L1095.8 2357.6 L1097.2 2358.6 L1098.6 2359.8 L1100.1 2360.9 L1101.5 2362.0 L1102.9 2363.1 L1104.4 2364.2 L1105.8 2365.5 L1107.2 2366.8 L1108.6 2368.1 L1110.1 2369.6 L1111.5 2371.0 L1112.9 2372.5 L1114.3 2374.0 L1115.7 2375.6 L1117.1 2377.2 L1118.4 2378.9 L1119.8 2380.7 L1121.2 2382.4 L1122.6 2384.2 L1124.0 2386.0 L1125.4 2387.9 L1126.8 2389.8 L1128.2 2391.8 L1129.6 2393.9 L1130.9 2396.0 L1132.3 2398.0 L1133.7 2400.0 L1135.1 2401.8 L1136.5 2403.5 L1137.9 2405.1 L1139.3 2406.7 L1140.7 2408.3 L1142.1 2409.8 L1143.4 2411.3 L1144.8 2412.7 L1146.2 2413.9 L1147.6 2415.0 L1149.0 2416.0 L1150.4 2416.9 L1151.8 2417.8 L1153.2 2418.7 L1154.6 2419.6 L1156.0 2420.4 L1157.4 2421.1 L1158.8 2421.7 L1160.2 2422.1 L1161.6 2422.4 L1163.0 2422.5 L1164.4 2422.1 L1165.8 2421.1 L1167.2 2419.8 L1168.7 2418.3 L1170.1 2417.0 L1171.5 2416.0 L1172.9 2415.3 L1174.4 2414.6 L1175.8 2413.9 L1177.2 2413.4 L1178.6 2412.9 L1180.1 2412.6 L1181.5 2412.5 L1183.0 2412.7 L1184.5 2413.3 L1186.0 2414.1 L1187.5 2415.0 L1189.0 2416.0 L1190.4 2417.0 L1191.9 2418.0 L1193.3 2419.3 L1194.7 2420.6 L1196.1 2422.2 L1197.6 2424.0 L1199.0 2426.0 L1200.5 2428.7 L1202.0 2432.3 L1203.5 2436.6 L1205.0 2441.2 L1206.5 2446.0 L1208.0 2451.2 L1209.5 2456.9 L1211.0 2463.1 L1212.5 2469.5 L1214.0 2476.0 L1215.5 2482.7 L1217.0 2489.6 L1218.5 2496.7 L1220.0 2503.9 L1221.5 2511.0 L1223.0 2518.3 L1224.5 2525.9 L1226.0 2533.4 L1227.5 2540.2 L1229.0 2546.0 L1230.5 2550.8 L1232.0 2555.0 L1233.5 2558.9 L1235.0 2562.5 L1236.5 2566.0 L1237.9 2569.1 L1239.4 2572.1 L1240.8 2574.8 L1242.2 2577.5 L1243.6 2580.2 L1245.1 2583.0 L1246.5 2586.0 L1248.0 2589.5 L1249.5 2593.3 L1251.0 2597.1 L1252.5 2600.6 L1254.0 2603.5 L1255.5 2606.1 L1257.0 2608.5 L1258.5 2610.7 L1260.0 2612.4 L1261.5 2613.5 L1262.8 2614.1 L1264.0 2614.5 L1265.2 2614.9 L1266.5 2615.0 L1268.0 2614.6 L1269.5 2613.7 L1271.0 2612.2 L1272.5 2610.4 L1274.0 2608.5 L1275.5 2606.0 L1277.0 2602.4 L1278.5 2598.2 L1280.0 2593.4 L1281.5 2588.5 L1283.0 2583.1 L1284.5 2577.0 L1286.0 2570.3 L1287.5 2563.2 L1289.0 2556.0 L1290.3 2549.5 L1291.6 2542.5 L1292.9 2535.3 L1294.2 2528.1 L1295.5 2521.0 L1297.0 2512.8 L1298.5 2504.4 L1300.0 2496.2 L1301.5 2488.3 L1303.0 2481.0 L1304.5 2474.3 L1306.0 2467.9 L1307.5 2461.8 L1309.0 2456.2 L1310.5 2451.0 L1312.0 2446.2 L1313.5 2441.7 L1315.0 2437.4 L1316.5 2433.4 L1318.0 2429.6 L1319.5 2426.0 L1320.9 2422.7 L1322.4 2419.4 L1323.8 2416.3 L1325.2 2413.3 L1326.6 2410.5 L1328.1 2408.1 L1329.5 2406.0 L1330.9 2404.1 L1332.4 2402.3 L1333.8 2400.6 L1335.2 2399.1 L1336.6 2397.8 L1338.1 2396.7 L1339.5 2396.0 L1340.9 2395.4 L1342.4 2394.9 L1343.8 2394.5 L1345.2 2394.1 L1346.6 2393.8 L1348.1 2393.6 L1349.5 2393.5 L1350.9 2393.5 L1352.3 2393.5 L1353.7 2393.5 L1355.1 2393.5 L1356.4 2393.5 L1357.8 2393.5 L1359.2 2393.5 L1360.6 2393.5 L1362.0 2393.5 L1363.4 2393.3 L1364.8 2392.9 L1366.2 2392.3 L1367.6 2391.4 L1368.9 2390.4 L1370.3 2389.3 L1371.7 2388.2 L1373.1 2387.1 L1374.5 2386.0 L1375.9 2384.8 L1377.4 2383.3 L1378.8 2381.7 L1380.2 2380.1 L1381.6 2378.5 L1383.1 2377.1 L1384.5 2376.0 L1385.9 2375.0 L1387.4 2374.0 L1388.8 2373.1 L1390.2 2372.3 L1391.6 2371.6 L1393.1 2371.2 L1394.5 2371.0 L1396.0 2371.5 L1397.5 2372.7 L1399.0 2374.5 L1400.5 2376.5 L1402.0 2378.5 L1403.5 2380.6 L1405.0 2383.2 L1406.5 2385.9 L1408.0 2388.6 L1409.5 2391.0 L1411.0 2393.4 L1412.5 2395.9 L1414.0 2398.3 L1415.5 2400.1 L1417.0 2401.0 L1418.5 2401.3 L1420.0 2401.6 L1421.5 2401.8 L1423.0 2402.0 L1424.5 2402.0 L1425.9 2401.8 L1427.4 2401.2 L1428.8 2400.3 L1430.2 2399.2 L1431.6 2398.1 L1433.1 2397.0 L1434.5 2396.0 L1435.9 2395.1 L1437.4 2394.3 L1438.8 2393.5 L1440.2 2392.6 L1441.6 2391.7 L1443.1 2390.9 L1444.5 2390.0 L1445.9 2389.0 L1447.4 2387.9 L1448.8 2386.8 L1450.2 2385.7 L1451.6 2384.8 L1453.1 2384.0 L1454.5 2383.5 L1455.9 2383.2 L1457.4 2382.9 L1458.8 2382.7 L1460.2 2382.5 L1461.6 2382.4 L1463.1 2382.2 L1464.5 2382.0 L1465.8 2381.8 L1467.1 2381.7 L1468.4 2381.6 L1469.7 2381.4 L1471.0 2381.0 L1472.0 2374.7 L1473.0 2368.5 L1474.3 2369.6 L1475.7 2372.3 L1477.0 2376.0 L1478.2 2383.7 L1479.5 2390.0 L1481.0 2390.8 L1482.5 2391.4 L1484.0 2391.7 L1485.5 2391.9 L1487.0 2392.0 L1488.2 2391.1 L1489.5 2389.0 L1490.8 2386.3 L1492.0 2383.5 L1493.2 2380.5 L1494.5 2376.9 L1495.8 2373.5 L1497.0 2371.0 L1498.5 2368.9 L1500.0 2367.0 L1501.5 2365.4 L1503.0 2364.2 L1504.5 2363.5 L1505.9 2363.1 L1507.4 2362.8 L1508.8 2362.5 L1510.2 2362.3 L1511.6 2362.1 L1513.1 2362.0 L1514.5 2362.0 L1515.9 2362.1 L1517.4 2362.4 L1518.8 2362.8 L1520.2 2363.3 L1521.6 2363.9 L1523.1 2364.4 L1524.5 2365.0 L1525.9 2365.6 L1527.4 2366.3 L1528.8 2367.1 L1530.2 2367.8 L1531.6 2368.6 L1533.1 2369.4 L1534.5 2370.0 L1535.9 2370.6 L1537.4 2371.3 L1538.8 2372.0 L1540.2 2372.6 L1541.6 2373.0 L1543.1 2373.4 L1544.5 2373.5 L1545.9 2373.4 L1547.4 2373.2 L1548.8 2372.9 L1550.2 2372.6 L1551.6 2372.3 L1553.1 2372.1 L1554.5 2372.0 L1555.9 2372.1 L1557.4 2372.3 L1558.8 2372.6 L1560.2 2372.9 L1561.6 2373.2 L1563.1 2373.4 L1564.5 2373.5 L1565.9 2373.3 L1567.4 2372.9 L1568.8 2372.3 L1570.2 2371.7 L1571.6 2371.0 L1573.1 2370.4 L1574.5 2370.0 L1575.9 2369.7 L1577.4 2369.4 L1578.8 2369.1 L1580.2 2368.9 L1581.6 2368.7 L1583.1 2368.5 L1584.5 2368.5 L1585.9 2368.7 L1587.4 2369.2 L1588.8 2369.9 L1590.2 2370.7 L1591.6 2371.7 L1593.1 2372.6 L1594.5 2373.5 L1595.9 2374.3 L1597.4 2375.2 L1598.8 2376.1 L1600.2 2377.0 L1601.6 2378.0 L1603.1 2379.0 L1604.5 2380.0 L1605.9 2381.2 L1607.4 2382.6 L1608.8 2384.1 L1610.2 2385.6 L1611.6 2386.9 L1613.1 2387.9 L1614.5 2388.5 L1615.9 2388.8 L1617.4 2389.0 L1618.8 2389.2 L1620.2 2389.3 L1621.6 2389.5 L1623.1 2389.7 L1624.5 2390.0 L1626.0 2390.6 L1627.5 2391.6 L1629.0 2392.8 L1630.5 2394.3 L1632.0 2396.0 L1633.5 2398.2 L1635.0 2401.2 L1636.5 2404.6 L1638.0 2408.0 L1639.5 2411.0 L1641.0 2414.0 L1642.5 2417.2 L1644.0 2420.1 L1645.5 2422.4 L1647.0 2423.5 L1648.4 2423.8 L1649.9 2424.1 L1651.3 2424.2 L1652.7 2424.3 L1654.1 2424.5 L1655.6 2424.7 L1657.0 2425.0 L1658.5 2425.6 L1660.0 2426.6 L1661.5 2427.9 L1663.0 2429.4 L1664.5 2431.0 L1666.0 2433.3 L1667.5 2436.6 L1669.0 2439.9 L1670.5 2442.5 L1672.0 2443.5 L1673.5 2443.1 L1675.0 2442.2 L1676.5 2441.0 L1678.0 2439.7 L1679.5 2438.5 L1681.0 2437.3 L1682.5 2436.0 L1684.0 2434.8 L1685.5 2433.9 L1687.0 2433.5 L1688.5 2433.5 L1690.0 2433.5 L1691.5 2433.5 L1693.0 2433.5 L1694.3 2431.7 L1695.6 2427.3 L1696.9 2421.5 L1698.2 2415.7 L1699.5 2411.0 L1701.0 2406.8 L1702.5 2402.7 L1704.0 2399.0 L1705.5 2395.9 L1707.0 2393.5 L1708.4 2391.8 L1709.9 2390.2 L1711.3 2388.8 L1712.7 2387.6 L1714.1 2386.6 L1715.6 2385.7 L1717.0 2385.0 L1718.4 2384.4 L1719.9 2383.8 L1721.3 2383.4 L1722.7 2382.9 L1724.1 2382.6 L1725.6 2382.2 L1727.0 2382.0 L1728.4 2381.8 L1729.9 2381.7 L1731.3 2381.5 L1732.7 2381.4 L1734.1 2381.3 L1735.6 2381.2 L1737.0 2381.0 L1738.4 2380.7 L1739.9 2380.3 L1741.3 2379.8 L1742.7 2379.3 L1744.1 2378.9 L1745.6 2378.6 L1747.0 2378.5 L1748.4 2378.6 L1749.9 2379.0 L1751.3 2379.5 L1752.7 2380.1 L1754.1 2380.8 L1755.6 2381.4 L1757.0 2382.0 L1758.5 2382.7 L1760.0 2383.5 L1761.5 2384.2 L1763.0 2384.8 L1764.5 2385.0 L1765.9 2384.8 L1767.3 2384.4 L1768.8 2383.8 L1770.2 2383.1 L1771.6 2382.7 L1773.0 2382.5 L1774.5 2382.7 L1776.0 2383.4 L1777.5 2384.4 L1779.0 2385.6 L1780.5 2387.0 L1782.0 2388.5 L1783.5 2390.5 L1785.0 2393.3 L1786.5 2396.6 L1788.0 2400.1 L1789.5 2403.5 L1791.0 2406.9 L1792.5 2410.4 L1794.0 2414.1 L1795.5 2417.6 L1797.0 2421.0 L1798.5 2424.2 L1800.0 2427.4 L1801.5 2430.4 L1803.0 2433.3 L1804.5 2436.0 L1805.9 2438.5 L1807.4 2440.9 L1808.8 2443.2 L1810.2 2445.4 L1811.6 2447.5 L1813.1 2449.4 L1814.5 2451.0 L1815.9 2452.5 L1817.3 2454.0 L1818.7 2455.5 L1820.1 2457.0 L1821.4 2458.3 L1822.8 2459.4 L1824.2 2460.2 L1825.6 2460.8 L1827.0 2461.0 L1828.4 2460.8 L1829.8 2460.1 L1831.2 2459.0 L1832.6 2457.8 L1833.9 2456.3 L1835.3 2454.9 L1836.7 2453.4 L1838.1 2452.1 L1839.5 2451.0 L1840.9 2450.1 L1842.3 2449.2 L1843.7 2448.4 L1845.1 2447.7 L1846.4 2446.9 L1847.8 2446.1 L1849.2 2445.3 L1850.6 2444.4 L1852.0 2443.5 L1853.4 2442.4 L1854.9 2441.2 L1856.3 2440.0 L1857.7 2438.7 L1859.1 2437.4 L1860.6 2436.2 L1862.0 2435.0 L1863.5 2433.7 L1865.0 2432.3 L1866.5 2430.9 L1868.0 2429.7 L1869.5 2428.8 L1871.0 2428.5 L1872.5 2429.5 L1874.0 2432.0 L1875.5 2435.2 L1877.0 2438.5 L1878.2 2441.5 L1879.5 2445.1 L1880.8 2448.5 L1882.0 2451.0 L1883.5 2453.0 L1885.0 2454.8 L1886.5 2456.2 L1888.0 2457.5 L1889.5 2458.5 L1891.0 2459.4 L1892.5 2460.2 L1894.0 2460.9 L1895.5 2461.5 L1897.0 2462.0 L1898.3 2462.4 L1899.6 2462.7 L1900.9 2462.9 L1902.2 2463.2 L1903.5 2463.5" stroke="#ff0000"/>
<path d="M150.0 2295.0 L151.5 2293.1 L153.0 2290.9 L154.5 2289.2 L156.0 2288.5 L157.2 2289.6 L158.5 2292.2 L159.8 2295.5 L161.0 2298.5 L162.2 2301.5 L163.5 2304.8 L164.8 2307.4 L166.0 2308.5 L167.2 2305.2 L168.5 2297.7 L169.8 2290.0 L171.0 2286.0 L172.3 2285.1 L173.6 2284.4 L174.9 2283.9 L176.2 2283.6 L177.5 2283.5 L178.8 2284.3 L180.0 2286.3 L181.2 2288.8 L182.5 2291.0 L183.8 2292.8 L185.0 2294.5 L186.2 2296.4 L187.5 2298.5 L188.8 2301.8 L190.0 2305.9 L191.2 2309.5 L192.5 2311.0 L193.8 2306.2 L195.2 2296.9 L196.5 2291.0 L198.0 2289.3 L199.5 2288.1 L201.0 2287.3 L202.5 2287.0 L203.8 2287.9 L205.0 2290.0 L206.2 2292.6 L207.5 2295.0 L208.8 2296.9 L210.0 2298.7 L211.2 2300.7 L212.5 2303.5 L213.8 2310.2 L215.2 2319.1 L216.5 2323.5 L218.0 2318.2 L219.5 2307.9 L221.0 2301.0 L222.3 2299.0 L223.6 2297.4 L224.9 2296.1 L226.2 2295.3 L227.5 2295.0 L229.0 2295.2 L230.5 2295.7 L232.0 2296.3 L233.5 2296.8 L235.0 2297.0 L236.5 2296.4 L238.0 2294.9 L239.5 2293.1 L241.0 2291.6 L242.5 2291.0 L244.0 2291.5 L245.5 2292.6 L247.0 2294.0 L248.5 2295.3 L250.0 2296.0 L251.5 2296.3 L253.0 2296.4 L254.5 2296.6 L256.0 2296.8 L257.5 2297.0 L259.0 2297.4 L260.5 2297.8 L262.0 2298.4 L263.5 2299.2 L265.0 2300.0 L266.5 2301.1 L268.0 2302.6 L269.5 2304.3 L271.0 2306.3 L272.5 2308.5 L274.0 2311.6 L275.5 2315.7 L277.0 2319.9 L278.5 2323.2 L280.0 2324.5 L281.2 2323.0 L282.5 2319.7 L283.8 2316.0 L285.0 2313.5 L286.5 2312.1 L288.0 2310.9 L289.5 2310.0 L291.0 2309.2 L292.5 2308.5 L294.0 2307.8 L295.5 2307.1 L297.0 2306.6 L298.5 2306.2 L300.0 2306.0 L301.5 2306.1 L303.0 2306.5 L304.5 2307.1 L306.0 2307.8 L307.5 2308.5 L308.8 2309.4 L310.1 2310.7 L311.4 2312.0 L312.7 2313.1 L314.0 2313.5 L315.5 2311.5 L317.0 2306.8 L318.5 2301.8 L320.0 2298.5 L321.2 2297.2 L322.5 2296.1 L323.8 2295.3 L325.0 2295.0 L326.2 2296.3 L327.5 2299.2 L328.8 2302.2 L330.0 2303.5 L331.5 2302.6 L333.0 2300.5 L334.5 2298.0 L336.0 2295.9 L337.5 2295.0 L339.0 2295.1 L340.5 2295.4 L342.0 2295.9 L343.5 2296.4 L345.0 2297.0 L346.5 2298.1 L348.0 2299.7 L349.5 2301.5 L351.0 2302.9 L352.5 2303.5 L353.8 2302.3 L355.0 2299.8 L356.2 2297.2 L357.5 2296.0 L359.0 2296.1 L360.5 2296.5 L362.0 2297.0 L363.5 2297.7 L365.0 2298.5 L366.2 2300.1 L367.5 2302.6 L368.8 2305.0 L370.0 2306.0 L371.2 2304.6 L372.5 2301.5 L373.8 2298.4 L375.0 2297.0 L376.5 2297.0 L378.0 2297.0 L379.5 2297.0 L381.0 2297.0 L382.5 2297.0 L384.0 2297.1 L385.5 2297.3 L387.0 2297.7 L388.5 2298.1 L390.0 2298.5 L391.5 2298.9 L393.0 2299.2 L394.5 2299.7 L396.0 2300.3 L397.5 2301.0 L398.8 2302.2 L400.0 2304.0 L401.2 2306.3 L402.5 2308.5 L403.8 2311.3 L405.0 2314.6 L406.2 2317.3 L407.5 2318.5 L408.8 2317.2 L410.0 2314.2 L411.2 2311.3 L412.5 2310.0 L414.0 2310.0 L415.5 2310.0 L417.0 2310.0 L418.5 2310.0 L420.0 2310.0 L421.4 2310.2 L422.9 2310.8 L424.3 2311.7 L425.7 2312.7 L427.1 2313.8 L428.6 2315.0 L430.0 2316.0 L431.4 2317.0 L432.9 2318.2 L434.3 2319.3 L435.7 2320.5 L437.1 2321.6 L438.6 2322.6 L440.0 2323.5 L441.4 2324.2 L442.8 2324.8 L444.2 2325.3 L445.6 2325.8 L446.9 2326.2 L448.3 2326.7 L449.7 2327.2 L451.1 2327.8 L452.5 2328.5 L453.9 2329.3 L455.3 2330.2 L456.7 2331.3 L458.1 2332.4 L459.4 2333.5 L460.8 2334.8 L462.2 2336.0 L463.6 2337.3 L465.0 2338.5 L466.4 2339.8 L467.8 2341.0 L469.2 2342.4 L470.6 2343.7 L471.9 2345.1 L473.3 2346.6 L474.7 2348.0 L476.1 2349.5 L477.5 2351.0 L478.9 2352.5 L480.3 2354.0 L481.7 2355.6 L483.1 2357.2 L484.4 2358.8 L485.8 2360.5 L487.2 2362.2 L488.6 2364.1 L490.0 2366.0 L491.4 2368.1 L492.9 2370.3 L494.3 2372.7 L495.7 2375.1 L497.1 2377.8 L498.6 2380.5 L500.0 2383.5 L501.5 2386.8 L503.0 2390.4 L504.5 2394.3 L506.0 2398.7 L507.5 2403.5 L508.8 2408.2 L510.0 2413.7 L511.2 2419.7 L512.5 2426.0 L513.8 2432.9 L515.0 2440.5 L516.2 2448.3 L517.5 2456.0 L518.8 2464.0 L520.0 2472.4 L521.2 2480.0 L522.5 2486.0 L523.8 2490.9 L525.0 2495.4 L526.2 2498.7 L527.5 2500.0 L528.7 2498.6 L529.8 2495.3 L531.0 2491.0 L532.3 2483.4 L533.7 2472.5 L535.0 2461.0 L536.2 2450.1 L537.5 2438.3 L538.8 2426.7 L540.0 2416.0 L541.2 2405.9 L542.5 2395.9 L543.8 2387.2 L545.0 2381.0 L546.2 2376.5 L547.5 2372.4 L548.8 2369.6 L550.0 2368.5 L551.2 2368.5 L552.5 2368.5 L553.8 2368.5 L555.0 2368.5 L556.5 2369.3 L558.0 2371.3 L559.5 2373.8 L561.0 2376.5 L562.5 2378.5 L563.9 2380.0 L565.4 2381.5 L566.8 2383.0 L568.2 2384.3 L569.6 2385.5 L571.1 2386.4 L572.5 2387.0 L574.0 2387.5 L575.5 2387.9 L577.0 2388.2 L578.5 2388.4 L580.0 2388.5 L581.4 2388.3 L582.9 2387.9 L584.3 2387.2 L585.7 2386.3 L587.1 2385.4 L588.6 2384.4 L590.0 2383.5 L591.4 2382.6 L592.8 2381.6 L594.2 2380.5 L595.6 2379.3 L596.9 2378.2 L598.3 2377.0 L599.7 2375.8 L601.1 2374.6 L602.5 2373.5 L603.9 2372.3 L605.4 2371.0 L606.8 2369.7 L608.2 2368.4 L609.6 2367.4 L611.1 2366.5 L612.5 2366.0 L614.0 2365.7 L615.5 2365.4 L617.0 2365.2 L618.5 2365.1 L620.0 2365.0 L621.4 2365.2 L622.9 2365.8 L624.3 2366.6 L625.7 2367.6 L627.1 2368.7 L628.6 2369.9 L630.0 2371.0 L631.4 2372.1 L632.8 2373.3 L634.2 2374.6 L635.6 2376.0 L636.9 2377.4 L638.3 2378.9 L639.7 2380.4 L641.1 2382.0 L642.5 2383.5 L643.9 2385.0 L645.3 2386.6 L646.7 2388.2 L648.1 2389.9 L649.4 2391.6 L650.8 2393.3 L652.2 2395.0 L653.6 2396.8 L655.0 2398.5 L656.5 2400.4 L658.0 2402.4 L659.5 2404.4 L661.0 2406.5 L662.5 2408.5 L664.0 2410.6 L665.5 2412.6 L667.0 2414.6 L668.5 2416.6 L670.0 2418.5 L671.5 2420.4 L673.0 2422.3 L674.5 2424.1 L676.0 2426.0 L677.5 2427.8 L679.0 2429.6 L680.5 2431.3 L682.0 2432.9 L683.5 2434.5 L685.0 2436.0 L686.5 2437.3 L687.9 2438.6 L689.4 2439.8 L690.8 2441.0 L692.2 2442.1 L693.7 2443.2 L695.1 2444.2 L696.6 2445.2 L698.0 2446.3 L699.5 2447.2 L701.0 2448.2 L702.4 2449.3 L703.9 2450.3 L705.3 2451.3 L706.8 2452.4 L708.2 2453.5 L709.6 2454.7 L711.1 2455.9 L712.5 2457.2 L714.0 2458.5 L715.5 2460.0 L717.0 2461.5 L718.5 2463.2 L720.0 2464.9 L721.5 2466.6 L723.0 2468.5 L724.5 2470.3 L726.0 2472.2 L727.5 2474.1 L729.0 2476.0 L730.4 2477.8 L731.8 2479.6 L733.2 2481.5 L734.6 2483.4 L735.9 2485.4 L737.3 2487.4 L738.7 2489.4 L740.1 2491.4 L741.5 2493.5 L742.9 2495.6 L744.3 2497.8 L745.7 2500.0 L747.1 2502.3 L748.4 2504.6 L749.8 2506.8 L751.2 2509.1 L752.6 2511.3 L754.0 2513.5 L755.4 2515.8 L756.9 2518.1 L758.3 2520.5 L759.7 2522.7 L761.1 2524.9 L762.6 2526.8 L764.0 2528.5 L765.4 2529.9 L766.8 2531.3 L768.2 2532.6 L769.6 2533.8 L770.9 2534.9 L772.3 2535.9 L773.7 2536.9 L775.1 2537.7 L776.5 2538.5 L777.9 2539.3 L779.4 2540.1 L780.8 2540.8 L782.2 2541.5 L783.6 2542.0 L785.1 2542.4 L786.5 2542.5 L787.9 2542.5 L789.4 2542.5 L790.8 2542.5 L792.2 2542.5 L793.6 2542.5 L795.1 2542.5 L796.5 2542.5 L797.9 2542.3 L799.4 2541.7 L800.8 2540.8 L802.2 2539.8 L803.6 2538.5 L805.1 2537.3 L806.5 2536.0 L807.9 2534.7 L809.4 2533.1 L810.8 2531.4 L812.2 2529.6 L813.6 2527.6 L815.1 2525.6 L816.5 2523.5 L817.9 2521.3 L819.4 2518.8 L820.8 2516.3 L822.2 2513.6 L823.6 2511.0 L825.1 2508.4 L826.5 2506.0 L827.9 2503.7 L829.4 2501.4 L830.8 2499.1 L832.2 2496.9 L833.6 2494.8 L835.1 2492.8 L836.5 2491.0 L837.9 2489.3 L839.4 2487.7 L840.8 2486.1 L842.2 2484.6 L843.6 2483.3 L845.1 2482.0 L846.5 2481.0 L847.9 2480.1 L849.4 2479.2 L850.8 2478.3 L852.2 2477.6 L853.6 2476.9 L855.1 2476.4 L856.5 2476.0 L857.9 2475.7 L859.4 2475.4 L860.8 2475.1 L862.2 2474.8 L863.6 2474.7 L865.1 2474.5 L866.5 2474.5 L867.9 2474.5 L869.4 2474.7 L870.8 2474.9 L872.2 2475.1 L873.6 2475.4 L875.1 2475.7 L876.5 2476.0 L877.9 2476.4 L879.3 2476.9 L880.7 2477.5 L882.1 2478.2 L883.4 2478.9 L884.8 2479.7 L886.2 2480.5 L887.6 2481.3 L889.0 2482.0 L890.5 2482.8 L892.0 2483.6 L893.5 2484.5 L895.0 2485.3 L896.5 2486.2 L898.0 2487.0 L899.5 2487.8 L901.0 2488.6 L902.5 2489.3 L904.0 2490.0 L905.5 2490.6 L907.0 2491.3 L908.5 2492.0 L910.0 2492.6 L911.5 2493.3 L913.0 2493.8 L914.5 2494.3 L916.0 2494.7 L917.5 2494.9 L919.0 2495.0 L920.5 2494.6 L922.0 2493.6 L923.5 2492.1 L925.0 2490.4 L926.5 2488.5 L927.8 2486.7 L929.0 2484.3 L930.2 2481.6 L931.5 2478.5 L932.8 2474.8 L934.0 2470.5 L935.2 2465.8 L936.5 2461.0 L938.0 2455.3 L939.5 2449.4 L941.0 2443.4 L942.5 2437.2 L944.0 2431.0 L945.5 2424.6 L947.0 2418.1 L948.5 2411.4 L950.0 2404.9 L951.5 2398.5 L953.0 2392.3 L954.5 2386.0 L956.0 2380.0 L957.5 2374.1 L959.0 2368.5 L960.4 2363.5 L961.9 2358.6 L963.3 2353.9 L964.7 2349.4 L966.1 2344.9 L967.6 2340.4 L969.0 2336.0 L970.4 2331.5 L971.9 2327.1 L973.3 2322.7 L974.7 2318.3 L976.1 2314.1 L977.6 2310.0 L979.0 2306.0 L980.4 2302.1 L981.9 2298.1 L983.3 2294.1 L984.7 2290.4 L986.1 2286.9 L987.6 2283.7 L989.0 2281.0 L990.4 2278.8 L991.9 2276.8 L993.3 2275.1 L994.7 2273.5 L996.1 2271.9 L997.6 2270.1 L999.0 2268.0 L1000.4 2265.6 L1001.9 2262.8 L1003.3 2259.9 L1004.7 2256.8 L1006.1 2253.8 L1007.6 2250.8 L1009.0 2248.0 L1010.4 2245.4 L1011.9 2242.8 L1013.3 2240.2 L1014.7 2237.7 L1016.1 2235.2 L1017.6 2232.8 L1019.0 2230.5 L1020.4 2228.2 L1021.9 2226.0 L1023.3 2223.8 L1024.7 2221.6 L1026.1 2219.5 L1027.6 2217.5 L1029.0 2215.5 L1030.4 2213.6 L1031.9 2211.7 L1033.3 2209.8 L1034.7 2208.0 L1036.1 2206.3 L1037.6 2204.6 L1039.0 2203.0 L1040.4 2201.5 L1041.9 2200.0 L1043.3 2198.6 L1044.7 2197.2 L1046.1 2195.8 L1047.6 2194.4 L1049.0 2193.0 L1050.4 2191.6 L1051.9 2190.1 L1053.3 2188.6 L1054.7 2187.2 L1056.1 2185.8 L1057.6 2184.4 L1059.0 2183.0 L1060.4 2181.7 L1061.8 2180.3 L1063.2 2179.0 L1064.6 2177.7 L1065.9 2176.4 L1067.3 2175.2 L1068.7 2174.0 L1070.1 2173.0 L1071.5 2172.0 L1072.9 2171.1 L1074.3 2170.1 L1075.7 2169.1 L1077.1 2168.2 L1078.4 2167.3 L1079.8 2166.6 L1081.2 2166.0 L1082.6 2165.6 L1084.0 2165.5 L1085.4 2165.5 L1086.8 2165.7 L1088.2 2165.8 L1089.6 2166.1 L1090.9 2166.4 L1092.3 2166.7 L1093.7 2167.1 L1095.1 2167.5 L1096.5 2168.0 L1097.9 2168.7 L1099.4 2169.8 L1100.8 2171.2 L1102.2 2172.7 L1103.6 2174.5 L1105.1 2176.2 L1106.5 2178.0 L1107.9 2179.8 L1109.4 2181.7 L1110.8 2183.7 L1112.2 2185.8 L1113.6 2188.1 L1115.1 2190.5 L1116.5 2193.0 L1117.9 2195.7 L1119.4 2198.6 L1120.8 2201.7 L1122.2 2204.9 L1123.6 2208.3 L1125.1 2211.9 L1126.5 2215.5 L1128.0 2219.6 L1129.5 2224.2 L1131.0 2228.9 L1132.5 2233.6 L1134.0 2238.0 L1135.5 2242.4 L1137.0 2246.8 L1138.5 2251.1 L1140.0 2254.9 L1141.5 2258.0 L1143.0 2260.6 L1144.5 2262.9 L1146.0 2265.0 L1147.5 2266.7 L1149.0 2268.0 L1150.4 2268.9 L1151.8 2269.8 L1153.2 2270.7 L1154.6 2271.5 L1156.0 2272.2 L1157.4 2272.8 L1158.8 2273.3 L1160.2 2273.7 L1161.6 2273.9 L1163.0 2274.0 L1164.4 2273.4 L1165.8 2271.9 L1167.2 2269.7 L1168.7 2267.3 L1170.1 2264.9 L1171.5 2263.0 L1172.9 2261.3 L1174.4 2259.4 L1175.8 2257.5 L1177.2 2255.7 L1178.6 2254.3 L1180.1 2253.4 L1181.5 2253.0 L1183.0 2253.4 L1184.5 2254.6 L1186.0 2256.3 L1187.5 2258.4 L1189.0 2260.5 L1190.5 2263.0 L1192.0 2266.3 L1193.5 2270.0 L1195.0 2274.0 L1196.5 2278.0 L1197.9 2281.6 L1199.3 2285.1 L1200.7 2288.7 L1202.1 2292.4 L1203.4 2296.3 L1204.8 2300.6 L1206.2 2305.2 L1207.6 2310.3 L1209.0 2316.0 L1210.5 2323.8 L1212.0 2333.7 L1213.5 2344.7 L1215.0 2355.8 L1216.5 2366.0 L1218.0 2375.5 L1219.5 2384.9 L1221.0 2394.0 L1222.5 2402.8 L1224.0 2411.0 L1225.5 2418.9 L1227.0 2426.8 L1228.5 2434.1 L1230.0 2440.6 L1231.5 2446.0 L1233.0 2450.2 L1234.5 2453.8 L1236.0 2457.1 L1237.5 2460.2 L1239.0 2463.5 L1240.5 2467.0 L1242.0 2470.5 L1243.5 2474.0 L1245.0 2477.5 L1246.5 2481.0 L1248.0 2484.7 L1249.5 2488.5 L1251.0 2492.2 L1252.5 2495.6 L1254.0 2498.5 L1255.5 2501.0 L1257.0 2503.3 L1258.5 2505.4 L1260.0 2507.2 L1261.5 2508.5 L1262.8 2509.4 L1264.0 2510.2 L1265.2 2510.8 L1266.5 2511.0 L1268.0 2510.4 L1269.5 2508.8 L1271.0 2506.4 L1272.5 2503.7 L1274.0 2501.0 L1275.5 2498.0 L1277.0 2494.5 L1278.5 2490.4 L1280.0 2485.9 L1281.5 2481.0 L1283.0 2475.3 L1284.5 2468.6 L1286.0 2461.3 L1287.5 2453.6 L1289.0 2446.0 L1290.3 2439.3 L1291.6 2432.3 L1292.9 2425.2 L1294.2 2418.1 L1295.5 2411.0 L1297.0 2402.9 L1298.5 2394.7 L1300.0 2386.6 L1301.5 2378.7 L1303.0 2371.0 L1304.5 2363.6 L1306.0 2356.4 L1307.5 2349.4 L1309.0 2342.6 L1310.5 2336.0 L1312.0 2329.6 L1313.5 2323.4 L1315.0 2317.4 L1316.5 2311.6 L1318.0 2306.0 L1319.4 2300.8 L1320.9 2295.7 L1322.3 2290.8 L1323.8 2286.0 L1325.2 2281.3 L1326.6 2276.7 L1328.1 2272.3 L1329.5 2268.0 L1331.0 2263.7 L1332.5 2259.4 L1334.0 2255.4 L1335.5 2251.6 L1337.0 2248.0 L1338.5 2244.7 L1340.0 2241.5 L1341.5 2238.5 L1343.0 2235.7 L1344.5 2233.0 L1345.9 2230.6 L1347.4 2228.5 L1348.8 2226.4 L1350.2 2224.4 L1351.6 2222.3 L1353.1 2220.2 L1354.5 2218.0 L1355.9 2215.6 L1357.4 2212.9 L1358.8 2210.2 L1360.2 2207.5 L1361.6 2204.9 L1363.1 2202.5 L1364.5 2200.5 L1365.9 2198.7 L1367.4 2197.0 L1368.8 2195.5 L1370.2 2194.0 L1371.6 2192.7 L1373.1 2191.5 L1374.5 2190.5 L1375.9 2189.6 L1377.3 2188.8 L1378.7 2188.0 L1380.1 2187.3 L1381.4 2186.7 L1382.8 2186.0 L1384.2 2185.5 L1385.6 2185.0 L1387.0 2184.5 L1388.4 2184.0 L1389.9 2183.5 L1391.3 2183.1 L1392.7 2182.6 L1394.1 2182.3 L1395.6 2182.1 L1397.0 2182.0 L1398.5 2182.5 L1400.0 2183.9 L1401.5 2185.9 L1403.0 2188.2 L1404.5 2190.5 L1406.0 2193.3 L1407.5 2196.9 L1409.0 2200.9 L1410.5 2204.7 L1412.0 2208.0 L1413.5 2211.2 L1415.0 2214.4 L1416.5 2217.0 L1418.0 2218.0 L1419.5 2217.9 L1421.0 2217.6 L1422.5 2217.1 L1424.0 2216.6 L1425.5 2216.1 L1427.0 2215.5 L1428.4 2214.9 L1429.9 2214.0 L1431.3 2213.0 L1432.7 2212.1 L1434.1 2211.3 L1435.6 2210.7 L1437.0 2210.5 L1438.5 2210.7 L1440.0 2211.0 L1441.5 2211.5 L1443.0 2211.8 L1444.5 2212.0 L1446.0 2211.8 L1447.5 2211.1 L1449.0 2210.2 L1450.5 2209.1 L1452.0 2208.0 L1453.5 2206.6 L1455.0 2204.8 L1456.5 2202.8 L1458.0 2200.8 L1459.5 2199.0 L1461.0 2197.3 L1462.5 2195.4 L1464.0 2193.7 L1465.5 2192.5 L1467.0 2192.0 L1468.5 2192.2 L1470.0 2192.7 L1471.5 2193.3 L1473.0 2193.8 L1474.5 2194.0 L1475.8 2193.5 L1477.0 2192.2 L1478.2 2191.0 L1479.5 2190.5 L1481.0 2191.0 L1482.5 2192.3 L1484.0 2193.7 L1485.5 2195.0 L1487.0 2195.5 L1488.2 2193.8 L1489.5 2189.5 L1490.8 2183.8 L1492.0 2178.0 L1493.2 2170.9 L1494.5 2162.2 L1495.8 2153.8 L1497.0 2148.0 L1498.5 2143.6 L1500.0 2139.9 L1501.5 2136.8 L1503.0 2134.5 L1504.5 2133.0 L1505.9 2132.1 L1507.4 2131.2 L1508.8 2130.5 L1510.2 2129.9 L1511.6 2129.4 L1513.1 2129.1 L1514.5 2129.0 L1515.9 2129.0 L1517.4 2129.2 L1518.8 2129.3 L1520.2 2129.6 L1521.6 2129.8 L1523.1 2130.2 L1524.5 2130.5 L1525.9 2131.1 L1527.4 2131.9 L1528.8 2133.1 L1530.2 2134.3 L1531.6 2135.6 L1533.1 2136.9 L1534.5 2138.0 L1536.0 2139.2 L1537.5 2140.5 L1539.0 2141.7 L1540.5 2142.6 L1542.0 2143.0 L1543.4 2142.6 L1544.9 2141.5 L1546.3 2140.0 L1547.7 2138.1 L1549.1 2136.2 L1550.6 2134.5 L1552.0 2133.0 L1553.4 2131.7 L1554.9 2130.3 L1556.3 2128.8 L1557.7 2127.6 L1559.1 2126.5 L1560.6 2125.8 L1562.0 2125.5 L1563.4 2125.5 L1564.9 2125.6 L1566.3 2125.8 L1567.7 2126.0 L1569.1 2126.3 L1570.6 2126.6 L1572.0 2127.0 L1573.5 2127.7 L1575.0 2128.9 L1576.5 2130.5 L1578.0 2132.2 L1579.5 2134.0 L1581.0 2136.0 L1582.5 2138.3 L1584.0 2140.7 L1585.5 2143.2 L1587.0 2145.5 L1588.5 2147.8 L1590.0 2150.2 L1591.5 2152.5 L1593.0 2154.4 L1594.5 2155.5 L1595.9 2156.0 L1597.4 2156.4 L1598.8 2156.7 L1600.2 2156.9 L1601.6 2157.2 L1603.1 2157.5 L1604.5 2158.0 L1606.0 2159.0 L1607.5 2160.5 L1609.0 2162.2 L1610.5 2163.5 L1612.0 2164.0 L1613.5 2163.4 L1615.0 2161.9 L1616.5 2160.1 L1618.0 2158.6 L1619.5 2158.0 L1620.8 2158.6 L1622.1 2160.1 L1623.4 2162.4 L1624.7 2165.1 L1626.0 2168.0 L1627.5 2172.4 L1629.0 2178.5 L1630.5 2185.6 L1632.0 2193.0 L1633.2 2199.9 L1634.5 2207.7 L1635.8 2215.6 L1637.0 2223.0 L1638.2 2230.1 L1639.5 2237.1 L1640.8 2243.4 L1642.0 2248.0 L1643.2 2251.4 L1644.5 2254.3 L1645.8 2256.6 L1647.0 2258.0 L1648.4 2258.9 L1649.9 2259.5 L1651.3 2259.9 L1652.7 2260.3 L1654.1 2260.7 L1655.6 2261.2 L1657.0 2262.0 L1658.5 2263.5 L1660.0 2265.6 L1661.5 2268.2 L1663.0 2270.8 L1664.5 2273.0 L1665.8 2274.9 L1667.1 2276.8 L1668.4 2278.7 L1669.7 2280.0 L1671.0 2280.5 L1672.5 2279.4 L1674.0 2276.7 L1675.5 2273.4 L1677.0 2270.5 L1678.2 2268.2 L1679.5 2265.8 L1680.8 2263.8 L1682.0 2263.0 L1683.5 2263.0 L1685.0 2263.0 L1686.5 2263.0 L1688.0 2263.0 L1689.5 2263.0 L1690.8 2260.2 L1692.0 2253.5 L1693.2 2245.3 L1694.5 2238.0 L1696.0 2230.7 L1697.5 2223.6 L1699.0 2216.5 L1700.5 2209.6 L1702.0 2203.0 L1703.5 2196.5 L1705.0 2189.9 L1706.5 2183.6 L1708.0 2177.9 L1709.5 2173.0 L1711.0 2168.9 L1712.5 2165.3 L1714.0 2162.1 L1715.5 2158.9 L1717.0 2155.5 L1718.5 2151.7 L1720.0 2147.6 L1721.5 2143.6 L1723.0 2140.3 L1724.5 2138.0 L1726.0 2136.6 L1727.5 2135.4 L1729.0 2134.5 L1730.5 2133.7 L1732.0 2133.0 L1733.5 2132.4 L1735.0 2132.0 L1736.5 2131.6 L1738.0 2131.2 L1739.5 2130.5 L1740.8 2129.3 L1742.1 2127.4 L1743.4 2125.3 L1744.7 2123.7 L1746.0 2123.0 L1747.5 2123.9 L1749.0 2126.0 L1750.5 2129.0 L1752.0 2132.0 L1753.2 2135.1 L1754.5 2139.0 L1755.8 2142.8 L1757.0 2145.5 L1758.5 2147.7 L1760.0 2149.6 L1761.5 2151.2 L1763.0 2152.4 L1764.5 2153.0 L1765.9 2153.2 L1767.4 2153.4 L1768.8 2153.4 L1770.2 2153.5 L1771.6 2153.6 L1773.1 2153.8 L1774.5 2154.0 L1775.8 2155.3 L1777.1 2158.4 L1778.4 2162.7 L1779.7 2167.7 L1781.0 2173.0 L1782.2 2179.1 L1783.5 2186.8 L1784.8 2195.1 L1786.0 2203.0 L1787.5 2211.9 L1789.0 2220.9 L1790.5 2229.7 L1792.0 2238.0 L1793.5 2245.9 L1795.0 2253.6 L1796.5 2260.9 L1798.0 2268.0 L1799.3 2274.0 L1800.6 2280.0 L1801.9 2285.7 L1803.2 2291.1 L1804.5 2296.0 L1805.8 2300.6 L1807.0 2305.1 L1808.2 2308.8 L1809.5 2311.0 L1810.9 2312.1 L1812.4 2313.0 L1813.8 2313.6 L1815.2 2314.1 L1816.6 2314.6 L1818.1 2315.2 L1819.5 2316.0 L1821.0 2317.2 L1822.5 2318.6 L1824.0 2320.1 L1825.5 2321.8 L1827.0 2323.5 L1828.2 2325.3 L1829.5 2327.5 L1830.8 2329.3 L1832.0 2330.0 L1833.5 2329.4 L1835.0 2327.9 L1836.5 2325.8 L1838.0 2323.5 L1839.3 2320.2 L1840.7 2316.0 L1842.0 2313.5 L1843.5 2312.7 L1845.0 2312.3 L1846.5 2312.0 L1848.0 2311.6 L1849.5 2311.0 L1851.0 2310.0 L1852.5 2308.6 L1854.0 2307.0 L1855.5 2305.3 L1857.0 2303.5 L1858.5 2301.6 L1860.0 2299.6 L1861.5 2297.4 L1863.0 2295.4 L1864.5 2293.5 L1865.8 2291.9 L1867.0 2290.3 L1868.2 2289.0 L1869.5 2288.5 L1870.7 2293.0 L1871.8 2301.5 L1873.0 2306.0 L1874.3 2300.2 L1875.7 2289.3 L1877.0 2283.5 L1878.2 2284.7 L1879.5 2287.8 L1880.8 2291.9 L1882.0 2296.0 L1883.2 2300.5 L1884.5 2305.9 L1885.8 2311.3 L1887.0 2316.0 L1888.5 2320.4 L1890.0 2324.2 L1891.5 2327.8 L1893.0 2331.6 L1894.5 2336.0 L1895.8 2340.4 L1897.0 2345.2 L1898.2 2350.5 L1899.5 2356.0 L1900.8 2362.3 L1902.2 2369.2 L1903.5 2376.0" stroke="#ff00ff"/>
<path d="M150.0 2095.5 L151.2 2091.8 L152.5 2087.7 L153.8 2084.4 L155.0 2083.0 L156.2 2085.3 L157.5 2090.5 L158.8 2095.7 L160.0 2098.0 L161.2 2095.7 L162.5 2090.5 L163.8 2085.3 L165.0 2083.0 L166.2 2090.8 L167.3 2105.2 L168.5 2113.0 L169.8 2104.8 L171.2 2089.3 L172.5 2080.5 L174.0 2079.6 L175.5 2078.9 L177.0 2078.4 L178.5 2078.1 L180.0 2078.0 L181.2 2079.0 L182.5 2081.6 L183.8 2084.9 L185.0 2088.0 L186.2 2090.9 L187.5 2093.9 L188.8 2097.1 L190.0 2100.5 L191.3 2105.4 L192.7 2110.6 L194.0 2113.0 L195.3 2106.2 L196.7 2093.2 L198.0 2085.5 L199.5 2084.2 L201.0 2083.3 L202.5 2083.0 L203.8 2083.4 L205.0 2084.6 L206.2 2086.2 L207.5 2088.0 L208.8 2090.1 L210.0 2092.8 L211.2 2096.2 L212.5 2100.5 L213.8 2110.1 L215.2 2122.7 L216.5 2129.0 L218.0 2122.8 L219.5 2110.3 L221.0 2100.5 L222.3 2095.8 L223.7 2092.0 L225.0 2090.5 L226.5 2090.8 L228.0 2091.4 L229.5 2092.1 L231.0 2092.7 L232.5 2093.0 L234.0 2092.1 L235.5 2089.8 L237.0 2087.2 L238.5 2084.9 L240.0 2084.0 L241.5 2084.3 L243.0 2084.9 L244.5 2085.9 L246.0 2087.0 L247.3 2088.8 L248.6 2091.6 L249.9 2094.6 L251.2 2097.0 L252.5 2098.0 L253.8 2097.4 L255.0 2095.9 L256.2 2094.2 L257.5 2093.0 L258.8 2092.1 L260.0 2091.3 L261.2 2090.7 L262.5 2090.5 L264.0 2091.2 L265.5 2093.0 L267.0 2095.4 L268.5 2098.1 L270.0 2100.5 L271.2 2102.2 L272.5 2103.9 L273.8 2105.8 L275.0 2108.0 L276.2 2111.8 L277.5 2116.8 L278.8 2121.1 L280.0 2123.0 L281.2 2120.2 L282.5 2113.8 L283.8 2107.0 L285.0 2103.0 L286.5 2101.4 L288.0 2100.3 L289.5 2099.4 L291.0 2098.7 L292.5 2098.0 L294.0 2097.3 L295.5 2096.6 L297.0 2096.1 L298.5 2095.7 L300.0 2095.5 L301.5 2095.8 L303.0 2096.6 L304.5 2097.7 L306.0 2099.1 L307.5 2100.5 L308.8 2102.3 L310.1 2104.9 L311.4 2107.6 L312.7 2109.7 L314.0 2110.5 L315.5 2108.2 L317.0 2102.9 L318.5 2097.0 L320.0 2093.0 L321.2 2091.2 L322.5 2089.6 L323.8 2088.4 L325.0 2088.0 L326.2 2090.0 L327.5 2094.2 L328.8 2098.5 L330.0 2100.5 L331.5 2099.5 L333.0 2097.0 L334.5 2094.0 L336.0 2091.5 L337.5 2090.5 L339.0 2090.6 L340.5 2091.0 L342.0 2091.5 L343.5 2092.2 L345.0 2093.0 L346.5 2094.6 L348.0 2097.1 L349.5 2099.9 L351.0 2102.1 L352.5 2103.0 L353.8 2101.4 L355.0 2098.0 L356.2 2094.6 L357.5 2093.0 L359.0 2093.1 L360.5 2093.4 L362.0 2094.0 L363.5 2094.6 L365.0 2095.5 L366.2 2097.9 L367.5 2102.1 L368.8 2106.2 L370.0 2108.0 L371.2 2106.0 L372.5 2101.8 L373.8 2097.5 L375.0 2095.5 L376.5 2095.5 L378.0 2095.5 L379.5 2095.5 L381.0 2095.5 L382.5 2095.5 L384.0 2095.8 L385.5 2096.4 L387.0 2097.1 L388.5 2097.7 L390.0 2098.0 L391.5 2098.0 L393.0 2098.0 L394.5 2098.0 L396.0 2098.0 L397.5 2098.0 L398.8 2099.0 L400.0 2101.5 L401.2 2104.8 L402.5 2108.0 L403.8 2112.0 L405.0 2117.0 L406.2 2121.2 L407.5 2123.0 L408.8 2120.8 L410.0 2115.9 L411.2 2110.8 L412.5 2108.0 L414.0 2107.1 L415.5 2106.4 L417.0 2105.9 L418.5 2105.6 L420.0 2105.5 L421.5 2105.6 L423.0 2106.0 L424.5 2106.6 L426.0 2107.3 L427.5 2108.0 L428.9 2109.0 L430.4 2110.5 L431.8 2112.3 L433.2 2114.1 L434.6 2115.8 L436.1 2117.2 L437.5 2118.0 L438.9 2118.4 L440.3 2118.8 L441.7 2119.0 L443.1 2119.2 L444.4 2119.4 L445.8 2119.6 L447.2 2119.9 L448.6 2120.1 L450.0 2120.5 L451.4 2121.0 L452.8 2121.5 L454.2 2122.2 L455.6 2122.9 L456.9 2123.7 L458.3 2124.5 L459.7 2125.3 L461.1 2126.2 L462.5 2127.0 L463.9 2127.8 L465.3 2128.6 L466.7 2129.5 L468.1 2130.4 L469.4 2131.3 L470.8 2132.2 L472.2 2133.3 L473.6 2134.3 L475.0 2135.5 L476.4 2136.8 L477.8 2138.2 L479.2 2139.8 L480.6 2141.5 L481.9 2143.2 L483.3 2145.0 L484.7 2146.9 L486.1 2148.7 L487.5 2150.5 L488.9 2152.3 L490.3 2154.0 L491.7 2155.7 L493.1 2157.4 L494.4 2159.2 L495.8 2161.2 L497.2 2163.2 L498.6 2165.5 L500.0 2168.0 L501.5 2171.0 L503.0 2174.5 L504.5 2178.5 L506.0 2183.0 L507.5 2188.0 L508.8 2193.1 L510.0 2199.3 L511.2 2206.1 L512.5 2213.0 L513.8 2220.2 L515.0 2228.0 L516.2 2235.8 L517.5 2243.0 L518.8 2250.1 L520.0 2257.3 L521.2 2263.5 L522.5 2268.0 L523.8 2271.3 L525.0 2274.2 L526.2 2276.2 L527.5 2277.0 L528.7 2275.6 L529.8 2272.3 L531.0 2268.0 L532.3 2260.3 L533.7 2249.2 L535.0 2238.0 L536.2 2228.1 L537.5 2217.8 L538.8 2207.7 L540.0 2198.0 L541.2 2188.2 L542.5 2178.3 L543.8 2169.5 L545.0 2163.0 L546.2 2158.0 L547.5 2153.5 L548.8 2150.2 L550.0 2149.0 L551.2 2149.0 L552.5 2149.0 L553.8 2149.0 L555.0 2149.0 L556.5 2149.7 L558.0 2151.4 L559.5 2153.7 L561.0 2156.1 L562.5 2158.0 L563.9 2159.6 L565.4 2161.2 L566.8 2162.8 L568.2 2164.3 L569.6 2165.6 L571.1 2166.5 L572.5 2167.0 L573.9 2167.2 L575.4 2167.5 L576.8 2167.6 L578.2 2167.8 L579.6 2167.9 L581.1 2168.0 L582.5 2168.0 L583.9 2167.9 L585.3 2167.6 L586.7 2167.1 L588.1 2166.6 L589.4 2165.9 L590.8 2165.2 L592.2 2164.4 L593.6 2163.7 L595.0 2163.0 L596.4 2162.3 L597.8 2161.5 L599.2 2160.6 L600.6 2159.7 L601.9 2158.8 L603.3 2157.9 L604.7 2157.0 L606.1 2156.2 L607.5 2155.5 L608.9 2154.8 L610.3 2154.1 L611.7 2153.3 L613.1 2152.6 L614.4 2151.9 L615.8 2151.4 L617.2 2150.9 L618.6 2150.6 L620.0 2150.5 L621.4 2150.7 L622.9 2151.1 L624.3 2151.8 L625.7 2152.7 L627.1 2153.6 L628.6 2154.6 L630.0 2155.5 L631.4 2156.4 L632.8 2157.4 L634.2 2158.5 L635.6 2159.6 L636.9 2160.8 L638.3 2162.0 L639.7 2163.2 L641.1 2164.4 L642.5 2165.5 L643.9 2166.6 L645.3 2167.6 L646.7 2168.7 L648.1 2169.7 L649.4 2170.7 L650.8 2171.8 L652.2 2173.0 L653.6 2174.2 L655.0 2175.5 L656.5 2177.1 L658.0 2179.0 L659.5 2181.0 L661.0 2183.2 L662.5 2185.4 L664.0 2187.7 L665.5 2189.9 L667.0 2191.9 L668.5 2193.8 L670.0 2195.5 L671.5 2197.0 L673.0 2198.4 L674.5 2199.6 L676.0 2200.9 L677.5 2202.0 L679.0 2203.2 L680.5 2204.4 L682.0 2205.5 L683.5 2206.7 L685.0 2208.0 L686.5 2209.3 L688.0 2210.7 L689.5 2212.1 L691.0 2213.5 L692.5 2214.9 L694.0 2216.3 L695.5 2217.8 L697.0 2219.1 L698.5 2220.5 L700.0 2221.8 L701.5 2223.0 L703.0 2224.1 L704.4 2225.2 L705.9 2226.2 L707.3 2227.1 L708.8 2228.1 L710.2 2229.0 L711.7 2230.0 L713.2 2230.9 L714.6 2232.0 L716.1 2233.1 L717.5 2234.2 L719.0 2235.5 L720.4 2236.8 L721.8 2238.2 L723.2 2239.7 L724.6 2241.3 L725.9 2243.0 L727.3 2244.8 L728.7 2246.6 L730.1 2248.5 L731.5 2250.5 L732.9 2252.6 L734.3 2254.9 L735.7 2257.4 L737.1 2260.0 L738.4 2262.7 L739.8 2265.4 L741.2 2268.0 L742.6 2270.6 L744.0 2273.0 L745.4 2275.3 L746.8 2277.4 L748.2 2279.5 L749.6 2281.6 L750.9 2283.6 L752.3 2285.8 L753.7 2288.0 L755.1 2290.4 L756.5 2293.0 L758.0 2296.4 L759.5 2300.3 L761.0 2304.4 L762.5 2308.1 L764.0 2311.0 L765.4 2313.1 L766.8 2314.9 L768.2 2316.7 L769.6 2318.3 L770.9 2319.7 L772.3 2321.1 L773.7 2322.3 L775.1 2323.5 L776.5 2324.5 L777.9 2325.5 L779.4 2326.5 L780.8 2327.4 L782.2 2328.2 L783.6 2328.9 L785.1 2329.5 L786.5 2330.0 L787.9 2330.4 L789.4 2330.8 L790.8 2331.2 L792.2 2331.5 L793.6 2331.8 L795.1 2331.9 L796.5 2332.0 L797.9 2331.8 L799.4 2331.3 L800.8 2330.5 L802.2 2329.5 L803.6 2328.4 L805.1 2327.2 L806.5 2326.0 L807.9 2324.7 L809.4 2323.2 L810.8 2321.5 L812.2 2319.6 L813.6 2317.6 L815.1 2315.6 L816.5 2313.5 L817.9 2311.4 L819.4 2309.2 L820.8 2306.8 L822.2 2304.4 L823.6 2301.8 L825.1 2299.0 L826.5 2296.0 L828.0 2292.2 L829.5 2287.5 L831.0 2282.8 L832.5 2278.6 L834.0 2275.5 L835.4 2273.5 L836.9 2271.8 L838.3 2270.3 L839.7 2269.0 L841.1 2267.8 L842.6 2266.6 L844.0 2265.5 L845.4 2264.4 L846.9 2263.2 L848.3 2262.2 L849.7 2261.2 L851.1 2260.3 L852.6 2259.5 L854.0 2259.0 L855.4 2258.6 L856.9 2258.2 L858.3 2257.8 L859.7 2257.5 L861.1 2257.2 L862.6 2257.1 L864.0 2257.0 L865.4 2257.1 L866.9 2257.3 L868.3 2257.6 L869.7 2258.0 L871.1 2258.5 L872.6 2259.0 L874.0 2259.5 L875.4 2260.1 L876.9 2261.0 L878.3 2262.0 L879.7 2263.0 L881.1 2264.0 L882.6 2264.9 L884.0 2265.5 L885.4 2265.9 L886.9 2266.3 L888.3 2266.6 L889.7 2266.9 L891.1 2267.2 L892.6 2267.5 L894.0 2268.0 L895.4 2268.6 L896.8 2269.5 L898.2 2270.5 L899.6 2271.6 L900.9 2272.8 L902.3 2273.9 L903.7 2275.1 L905.1 2276.1 L906.5 2277.0 L907.9 2277.8 L909.3 2278.7 L910.7 2279.6 L912.1 2280.5 L913.4 2281.3 L914.8 2282.0 L916.2 2282.5 L917.6 2282.9 L919.0 2283.0 L920.5 2282.7 L922.0 2281.8 L923.5 2280.4 L925.0 2278.8 L926.5 2277.0 L927.8 2275.0 L929.0 2272.2 L930.2 2269.0 L931.5 2265.5 L933.0 2260.8 L934.5 2255.5 L936.0 2249.6 L937.5 2243.7 L939.0 2238.0 L940.5 2232.5 L942.0 2226.9 L943.5 2221.3 L945.0 2215.8 L946.5 2210.5 L948.0 2205.3 L949.5 2200.1 L951.0 2195.1 L952.5 2190.2 L954.0 2185.5 L955.4 2181.2 L956.9 2176.9 L958.3 2172.7 L959.7 2168.6 L961.1 2164.8 L962.6 2161.2 L964.0 2158.0 L965.4 2155.1 L966.9 2152.4 L968.3 2149.8 L969.7 2147.4 L971.1 2145.1 L972.6 2142.8 L974.0 2140.5 L975.4 2138.3 L976.9 2136.1 L978.3 2134.0 L979.7 2132.0 L981.1 2129.9 L982.6 2127.7 L984.0 2125.5 L985.4 2123.1 L986.9 2120.6 L988.3 2118.0 L989.7 2115.5 L991.1 2112.9 L992.6 2110.4 L994.0 2108.0 L995.4 2105.7 L996.9 2103.4 L998.3 2101.1 L999.7 2098.9 L1001.1 2096.8 L1002.6 2094.8 L1004.0 2093.0 L1005.4 2091.3 L1006.9 2089.8 L1008.3 2088.3 L1009.7 2086.9 L1011.1 2085.6 L1012.6 2084.3 L1014.0 2083.0 L1015.4 2081.8 L1016.8 2080.5 L1018.2 2079.3 L1019.6 2078.2 L1020.9 2077.0 L1022.3 2075.9 L1023.7 2074.9 L1025.1 2073.9 L1026.5 2073.0 L1027.9 2072.1 L1029.3 2071.1 L1030.7 2070.1 L1032.1 2069.2 L1033.4 2068.3 L1034.8 2067.6 L1036.2 2067.0 L1037.6 2066.6 L1039.0 2066.5 L1040.4 2066.5 L1041.8 2066.5 L1043.2 2066.5 L1044.6 2066.5 L1045.9 2066.5 L1047.3 2066.5 L1048.7 2066.5 L1050.1 2066.5 L1051.5 2066.5 L1052.9 2066.3 L1054.3 2065.8 L1055.7 2065.0 L1057.1 2064.0 L1058.4 2063.0 L1059.8 2061.8 L1061.2 2060.8 L1062.6 2059.8 L1064.0 2059.0 L1065.4 2058.3 L1066.8 2057.6 L1068.2 2056.8 L1069.6 2056.1 L1070.9 2055.4 L1072.3 2054.9 L1073.7 2054.4 L1075.1 2054.1 L1076.5 2054.0 L1077.9 2054.1 L1079.3 2054.3 L1080.7 2054.5 L1082.1 2054.9 L1083.4 2055.3 L1084.8 2055.7 L1086.2 2056.2 L1087.6 2056.6 L1089.0 2057.0 L1090.4 2057.3 L1091.8 2057.7 L1093.2 2058.0 L1094.6 2058.3 L1095.9 2058.6 L1097.3 2059.0 L1098.7 2059.4 L1100.1 2059.9 L1101.5 2060.5 L1102.9 2061.3 L1104.4 2062.4 L1105.8 2063.8 L1107.2 2065.4 L1108.6 2067.0 L1110.1 2068.8 L1111.5 2070.5 L1112.9 2072.3 L1114.4 2074.3 L1115.8 2076.5 L1117.2 2078.8 L1118.6 2081.0 L1120.1 2083.3 L1121.5 2085.5 L1122.9 2087.7 L1124.4 2089.9 L1125.8 2092.1 L1127.2 2094.3 L1128.6 2096.4 L1130.1 2098.5 L1131.5 2100.5 L1132.9 2102.4 L1134.4 2104.3 L1135.8 2106.2 L1137.2 2108.0 L1138.6 2109.7 L1140.1 2111.4 L1141.5 2113.0 L1142.9 2114.6 L1144.4 2116.1 L1145.8 2117.7 L1147.2 2119.1 L1148.6 2120.5 L1150.1 2121.8 L1151.5 2123.0 L1152.9 2124.2 L1154.4 2125.5 L1155.8 2126.7 L1157.2 2127.9 L1158.7 2128.9 L1160.1 2129.8 L1161.6 2130.3 L1163.0 2130.5 L1164.4 2130.1 L1165.8 2128.9 L1167.2 2127.4 L1168.7 2125.7 L1170.1 2124.2 L1171.5 2123.0 L1173.0 2122.1 L1174.5 2121.1 L1176.0 2120.3 L1177.5 2119.7 L1179.0 2119.5 L1180.5 2119.8 L1182.0 2120.8 L1183.5 2122.2 L1185.0 2123.8 L1186.5 2125.5 L1188.0 2127.6 L1189.5 2130.5 L1191.0 2133.7 L1192.5 2137.1 L1194.0 2140.5 L1195.5 2143.7 L1197.0 2147.0 L1198.5 2150.4 L1200.0 2154.1 L1201.5 2158.0 L1203.0 2162.3 L1204.5 2167.1 L1206.0 2172.1 L1207.5 2177.4 L1209.0 2183.0 L1210.5 2189.0 L1212.0 2195.6 L1213.5 2202.5 L1215.0 2209.2 L1216.5 2215.5 L1218.0 2221.4 L1219.5 2227.1 L1221.0 2232.6 L1222.5 2237.9 L1224.0 2243.0 L1225.5 2248.0 L1227.0 2252.9 L1228.5 2257.5 L1230.0 2261.8 L1231.5 2265.5 L1232.9 2268.5 L1234.4 2271.3 L1235.8 2273.8 L1237.2 2276.1 L1238.6 2278.4 L1240.1 2280.7 L1241.5 2283.0 L1242.8 2285.0 L1244.0 2286.9 L1245.2 2288.8 L1246.5 2291.0 L1248.0 2294.2 L1249.5 2297.8 L1251.0 2301.6 L1252.5 2305.3 L1254.0 2308.5 L1255.5 2311.5 L1257.0 2314.5 L1258.5 2317.2 L1260.0 2319.5 L1261.5 2321.0 L1262.8 2321.9 L1264.0 2322.7 L1265.2 2323.3 L1266.5 2323.5 L1268.0 2323.1 L1269.5 2322.0 L1271.0 2320.3 L1272.5 2318.3 L1274.0 2316.0 L1275.2 2313.5 L1276.5 2309.9 L1277.8 2305.7 L1279.0 2301.0 L1280.4 2294.6 L1281.9 2286.7 L1283.3 2277.7 L1284.8 2268.0 L1286.2 2258.0 L1287.7 2248.1 L1289.1 2238.7 L1290.6 2230.2 L1292.0 2223.0 L1293.5 2216.7 L1295.0 2210.9 L1296.5 2205.5 L1298.0 2200.5 L1299.5 2195.5 L1301.0 2190.5 L1302.5 2185.6 L1304.0 2181.0 L1305.5 2176.7 L1307.0 2173.0 L1308.4 2170.0 L1309.9 2167.2 L1311.3 2164.6 L1312.7 2162.2 L1314.1 2159.9 L1315.6 2157.7 L1317.0 2155.5 L1318.4 2153.4 L1319.8 2151.3 L1321.2 2149.3 L1322.6 2147.3 L1323.9 2145.4 L1325.3 2143.5 L1326.7 2141.6 L1328.1 2139.8 L1329.5 2138.0 L1330.9 2136.2 L1332.3 2134.4 L1333.7 2132.6 L1335.1 2130.8 L1336.4 2129.1 L1337.8 2127.5 L1339.2 2125.9 L1340.6 2124.4 L1342.0 2123.0 L1343.4 2121.7 L1344.8 2120.4 L1346.2 2119.2 L1347.6 2118.0 L1348.9 2116.9 L1350.3 2115.9 L1351.7 2114.9 L1353.1 2113.9 L1354.5 2113.0 L1355.9 2112.1 L1357.3 2111.3 L1358.7 2110.4 L1360.1 2109.7 L1361.4 2108.9 L1362.8 2108.2 L1364.2 2107.6 L1365.6 2107.0 L1367.0 2106.5 L1368.5 2106.0 L1370.0 2105.5 L1371.5 2105.0 L1373.0 2104.6 L1374.5 2104.1 L1376.0 2103.8 L1377.5 2103.4 L1379.0 2103.2 L1380.5 2103.1 L1382.0 2103.0 L1383.5 2103.0 L1385.0 2103.0 L1386.5 2103.1 L1388.0 2103.2 L1389.5 2103.2 L1391.0 2103.3 L1392.5 2103.5 L1394.0 2103.6 L1395.5 2103.8 L1397.0 2104.0 L1398.5 2104.8 L1400.0 2106.4 L1401.5 2108.6 L1403.0 2110.9 L1404.5 2113.0 L1406.0 2115.0 L1407.5 2117.2 L1409.0 2119.4 L1410.5 2121.4 L1412.0 2123.0 L1413.5 2124.4 L1415.0 2125.7 L1416.5 2126.9 L1418.0 2127.7 L1419.5 2128.0 L1420.9 2127.9 L1422.4 2127.8 L1423.8 2127.6 L1425.2 2127.4 L1426.6 2127.2 L1428.1 2127.1 L1429.5 2127.0 L1430.9 2127.1 L1432.4 2127.3 L1433.8 2127.6 L1435.2 2127.9 L1436.6 2128.3 L1438.1 2128.7 L1439.5 2129.0 L1441.0 2129.3 L1442.5 2129.7 L1444.0 2130.1 L1445.5 2130.4 L1447.0 2130.5 L1448.4 2130.4 L1449.9 2130.0 L1451.3 2129.6 L1452.7 2129.0 L1454.1 2128.3 L1455.6 2127.6 L1457.0 2127.0 L1458.4 2126.3 L1459.9 2125.4 L1461.3 2124.5 L1462.7 2123.5 L1464.1 2122.8 L1465.6 2122.2 L1467.0 2122.0 L1468.5 2123.0 L1470.0 2125.5 L1471.5 2128.5 L1473.0 2131.0 L1474.5 2132.0 L1475.8 2131.0 L1477.0 2128.8 L1478.2 2126.5 L1479.5 2125.5 L1481.0 2125.7 L1482.5 2126.0 L1484.0 2126.5 L1485.5 2126.8 L1487.0 2127.0 L1488.5 2125.3 L1490.0 2121.4 L1491.5 2116.8 L1493.0 2113.0 L1494.3 2110.5 L1495.6 2108.1 L1496.9 2105.9 L1498.2 2104.1 L1499.5 2103.0 L1500.9 2102.2 L1502.4 2101.5 L1503.8 2100.9 L1505.2 2100.4 L1506.6 2100.0 L1508.1 2099.7 L1509.5 2099.5 L1510.9 2099.4 L1512.4 2099.3 L1513.8 2099.2 L1515.2 2099.1 L1516.6 2099.0 L1518.1 2099.0 L1519.5 2099.0 L1520.9 2099.1 L1522.4 2099.5 L1523.8 2100.1 L1525.2 2100.8 L1526.6 2101.5 L1528.1 2102.3 L1529.5 2103.0 L1530.9 2103.8 L1532.3 2104.7 L1533.7 2105.8 L1535.1 2106.9 L1536.4 2108.0 L1537.8 2109.0 L1539.2 2109.8 L1540.6 2110.3 L1542.0 2110.5 L1543.4 2110.3 L1544.9 2109.6 L1546.3 2108.7 L1547.7 2107.7 L1549.1 2106.8 L1550.6 2106.0 L1552.0 2105.5 L1553.4 2105.2 L1554.8 2105.0 L1556.2 2104.7 L1557.6 2104.5 L1558.9 2104.4 L1560.3 2104.2 L1561.7 2104.1 L1563.1 2104.0 L1564.5 2104.0 L1565.9 2104.2 L1567.4 2104.9 L1568.8 2105.9 L1570.2 2107.0 L1571.6 2108.3 L1573.1 2109.5 L1574.5 2110.5 L1575.9 2111.4 L1577.4 2112.3 L1578.8 2113.3 L1580.2 2114.2 L1581.6 2115.1 L1583.1 2116.0 L1584.5 2117.0 L1585.9 2118.0 L1587.4 2119.0 L1588.8 2120.1 L1590.2 2121.1 L1591.6 2122.2 L1593.1 2123.1 L1594.5 2124.0 L1595.9 2124.8 L1597.4 2125.6 L1598.8 2126.3 L1600.2 2127.0 L1601.6 2127.7 L1603.1 2128.4 L1604.5 2129.0 L1606.0 2129.7 L1607.5 2130.5 L1609.0 2131.3 L1610.5 2131.8 L1612.0 2132.0 L1613.5 2131.7 L1615.0 2130.9 L1616.5 2130.1 L1618.0 2129.3 L1619.5 2129.0 L1620.8 2129.5 L1622.1 2130.8 L1623.4 2132.6 L1624.7 2134.8 L1626.0 2137.0 L1627.5 2140.1 L1629.0 2144.0 L1630.5 2148.5 L1632.0 2153.0 L1633.5 2158.0 L1635.0 2163.5 L1636.5 2168.8 L1638.0 2173.0 L1639.3 2175.9 L1640.6 2178.8 L1641.9 2181.2 L1643.2 2183.0 L1644.5 2184.0 L1646.0 2184.5 L1647.5 2184.9 L1649.0 2185.2 L1650.5 2185.4 L1652.0 2185.5 L1653.5 2185.5 L1655.0 2185.5 L1656.5 2185.5 L1658.0 2185.5 L1659.5 2185.5 L1661.0 2186.2 L1662.5 2187.9 L1664.0 2190.1 L1665.5 2192.3 L1667.0 2194.0 L1668.5 2195.3 L1670.0 2196.6 L1671.5 2197.6 L1673.0 2198.0 L1674.3 2197.6 L1675.6 2196.7 L1676.9 2195.6 L1678.2 2194.6 L1679.5 2194.0 L1680.9 2193.8 L1682.4 2193.7 L1683.8 2193.6 L1685.2 2193.5 L1686.6 2193.4 L1688.1 2193.2 L1689.5 2193.0 L1691.0 2192.0 L1692.5 2189.8 L1694.0 2186.9 L1695.5 2183.6 L1697.0 2180.5 L1698.5 2177.1 L1700.0 2173.0 L1701.5 2168.9 L1703.0 2165.4 L1704.5 2163.0 L1705.8 2161.7 L1707.0 2160.6 L1708.2 2159.8 L1709.5 2159.5 L1710.8 2160.2 L1712.0 2161.8 L1713.2 2163.3 L1714.5 2164.0 L1716.0 2162.0 L1717.5 2157.2 L1719.0 2151.3 L1720.5 2146.0 L1722.0 2143.0 L1723.5 2141.9 L1725.0 2140.9 L1726.5 2140.2 L1728.0 2139.7 L1729.5 2139.5 L1731.0 2140.1 L1732.5 2141.6 L1734.0 2143.4 L1735.5 2144.9 L1737.0 2145.5 L1738.5 2145.0 L1740.0 2143.7 L1741.5 2142.3 L1743.0 2141.0 L1744.5 2140.5 L1746.0 2141.3 L1747.5 2143.4 L1749.0 2146.0 L1750.5 2148.6 L1752.0 2150.5 L1753.5 2151.7 L1755.0 2152.7 L1756.5 2153.7 L1758.0 2154.6 L1759.5 2155.5 L1761.0 2156.6 L1762.5 2157.7 L1764.0 2158.8 L1765.5 2159.8 L1767.0 2160.5 L1768.5 2161.0 L1770.0 2161.3 L1771.5 2161.6 L1773.0 2161.9 L1774.5 2162.3 L1776.0 2163.0 L1777.5 2164.9 L1779.0 2168.6 L1780.5 2173.2 L1782.0 2178.0 L1783.2 2182.6 L1784.5 2188.0 L1785.8 2193.4 L1787.0 2198.0 L1788.2 2201.6 L1789.5 2204.9 L1790.8 2207.8 L1792.0 2210.5 L1793.5 2213.2 L1795.0 2215.5 L1796.5 2217.7 L1798.0 2220.1 L1799.5 2223.0 L1800.8 2226.4 L1802.0 2230.7 L1803.2 2234.8 L1804.5 2238.0 L1806.0 2240.7 L1807.5 2243.2 L1809.0 2245.3 L1810.5 2246.9 L1812.0 2248.0 L1813.5 2248.7 L1815.0 2249.1 L1816.5 2249.5 L1818.0 2249.9 L1819.5 2250.5 L1821.0 2251.3 L1822.5 2252.3 L1824.0 2253.3 L1825.5 2254.4 L1827.0 2255.5 L1828.5 2256.7 L1830.0 2258.0 L1831.5 2259.2 L1833.0 2260.1 L1834.5 2260.5 L1836.0 2259.7 L1837.5 2257.9 L1839.0 2255.6 L1840.5 2253.8 L1842.0 2253.0 L1843.5 2253.0 L1845.0 2253.0 L1846.5 2253.0 L1848.0 2253.0 L1849.5 2253.0 L1851.0 2252.6 L1852.5 2251.7 L1854.0 2250.6 L1855.5 2249.6 L1857.0 2249.0 L1858.5 2248.7 L1860.0 2248.4 L1861.5 2248.2 L1863.0 2248.1 L1864.5 2248.0 L1865.8 2248.7 L1867.0 2250.4 L1868.2 2252.8 L1869.5 2255.5 L1870.7 2259.9 L1871.8 2265.3 L1873.0 2268.0 L1874.2 2264.5 L1875.5 2256.8 L1876.8 2249.0 L1878.0 2245.5 L1879.3 2246.4 L1880.6 2248.7 L1881.9 2251.8 L1883.2 2255.1 L1884.5 2258.0 L1886.0 2261.0 L1887.5 2264.1 L1889.0 2267.2 L1890.5 2270.2 L1892.0 2273.0 L1893.5 2275.3 L1895.0 2277.3 L1896.5 2279.2 L1898.0 2281.8 L1899.5 2285.5 L1900.8 2292.9 L1902.2 2304.4 L1903.5 2316.0" stroke="#008000"/>
<path d="M150.0 1888.0 L151.4 1887.8 L152.9 1887.5 L154.3 1887.2 L155.7 1886.9 L157.1 1886.7 L158.6 1886.6 L160.0 1886.5 L161.5 1886.9 L163.0 1887.9 L164.5 1889.1 L166.0 1890.1 L167.5 1890.5 L169.0 1890.0 L170.5 1888.7 L172.0 1887.3 L173.5 1886.0 L175.0 1885.5 L176.4 1885.6 L177.9 1885.8 L179.3 1886.2 L180.7 1886.6 L182.1 1887.1 L183.6 1887.5 L185.0 1888.0 L186.4 1888.5 L187.9 1889.2 L189.3 1890.0 L190.7 1890.7 L192.1 1891.4 L193.6 1891.8 L195.0 1892.0 L196.5 1891.4 L198.0 1890.1 L199.5 1888.4 L201.0 1887.1 L202.5 1886.5 L203.9 1886.6 L205.4 1886.8 L206.8 1887.1 L208.2 1887.5 L209.6 1887.9 L211.1 1888.4 L212.5 1889.0 L214.0 1890.1 L215.5 1891.7 L217.0 1893.5 L218.5 1894.9 L220.0 1895.5 L221.5 1894.8 L223.0 1893.2 L224.5 1891.3 L226.0 1889.7 L227.5 1889.0 L228.9 1889.1 L230.4 1889.3 L231.8 1889.6 L233.2 1889.9 L234.6 1890.2 L236.1 1890.4 L237.5 1890.5 L238.9 1890.2 L240.4 1889.5 L241.8 1888.5 L243.2 1887.5 L244.6 1886.5 L246.1 1885.8 L247.5 1885.5 L248.9 1885.5 L250.4 1885.5 L251.8 1885.5 L253.2 1885.5 L254.6 1885.5 L256.1 1885.5 L257.5 1885.5 L258.9 1885.6 L260.4 1885.8 L261.8 1886.1 L263.2 1886.5 L264.6 1887.0 L266.1 1887.5 L267.5 1888.0 L269.0 1888.6 L270.5 1889.3 L272.0 1890.1 L273.5 1891.0 L275.0 1892.0 L276.5 1893.6 L278.0 1895.8 L279.5 1898.0 L281.0 1899.8 L282.5 1900.5 L284.0 1900.1 L285.5 1899.2 L287.0 1897.9 L288.5 1896.6 L290.0 1895.5 L291.4 1894.7 L292.9 1893.8 L294.3 1893.0 L295.7 1892.3 L297.1 1891.6 L298.6 1891.0 L300.0 1890.5 L301.4 1890.1 L302.8 1889.8 L304.2 1889.6 L305.6 1889.4 L306.9 1889.2 L308.3 1888.9 L309.7 1888.7 L311.1 1888.4 L312.5 1888.0 L313.9 1887.4 L315.3 1886.5 L316.7 1885.5 L318.1 1884.4 L319.4 1883.2 L320.8 1882.2 L322.2 1881.3 L323.6 1880.7 L325.0 1880.5 L326.5 1880.8 L328.0 1881.4 L329.5 1882.1 L331.0 1882.7 L332.5 1883.0 L334.0 1882.8 L335.5 1882.5 L337.0 1882.0 L338.5 1881.7 L340.0 1881.5 L341.4 1881.8 L342.9 1882.6 L344.3 1883.7 L345.7 1884.8 L347.1 1885.9 L348.6 1886.7 L350.0 1887.0 L351.4 1887.0 L352.9 1887.0 L354.3 1887.0 L355.7 1887.0 L357.1 1887.0 L358.6 1887.0 L360.0 1887.0 L361.4 1887.3 L362.8 1888.0 L364.2 1889.1 L365.6 1890.3 L366.9 1891.7 L368.3 1893.0 L369.7 1894.2 L371.1 1895.1 L372.5 1895.5 L373.9 1895.7 L375.3 1895.8 L376.7 1895.9 L378.1 1896.0 L379.4 1896.1 L380.8 1896.1 L382.2 1896.2 L383.6 1896.3 L385.0 1896.5 L386.5 1896.8 L388.0 1897.3 L389.5 1897.9 L391.0 1898.6 L392.5 1899.4 L394.0 1900.2 L395.5 1901.0 L397.0 1901.8 L398.5 1902.5 L400.0 1903.0 L401.4 1903.4 L402.9 1903.8 L404.3 1904.1 L405.7 1904.4 L407.1 1904.7 L408.6 1905.1 L410.0 1905.5 L411.5 1906.1 L413.0 1906.7 L414.5 1907.5 L416.0 1908.3 L417.5 1909.1 L419.0 1910.0 L420.5 1910.8 L422.0 1911.6 L423.5 1912.3 L425.0 1913.0 L426.5 1913.6 L428.0 1914.1 L429.5 1914.5 L431.0 1915.0 L432.5 1915.4 L434.0 1915.8 L435.5 1916.3 L437.0 1916.8 L438.5 1917.4 L440.0 1918.0 L441.4 1918.8 L442.8 1919.7 L444.2 1920.8 L445.6 1922.0 L446.9 1923.2 L448.3 1924.3 L449.7 1925.4 L451.1 1926.3 L452.5 1927.0 L453.9 1927.5 L455.3 1927.9 L456.7 1928.3 L458.1 1928.6 L459.4 1928.9 L460.8 1929.2 L462.2 1929.5 L463.6 1930.0 L465.0 1930.5 L466.5 1931.3 L468.0 1932.4 L469.5 1933.7 L471.0 1935.3 L472.5 1936.9 L474.0 1938.7 L475.5 1940.5 L477.0 1942.2 L478.5 1943.9 L480.0 1945.5 L481.4 1946.8 L482.8 1948.1 L484.2 1949.3 L485.6 1950.6 L486.9 1951.8 L488.3 1953.2 L489.7 1954.6 L491.1 1956.2 L492.5 1958.0 L493.9 1960.1 L495.4 1962.5 L496.8 1965.2 L498.2 1968.2 L499.6 1971.3 L501.1 1974.6 L502.5 1978.0 L504.0 1981.7 L505.5 1985.7 L507.0 1990.0 L508.5 1994.9 L510.0 2000.5 L511.2 2005.9 L512.5 2012.2 L513.8 2019.6 L515.0 2028.0 L516.3 2039.7 L517.7 2053.8 L519.0 2068.0 L520.2 2079.9 L521.3 2091.7 L522.5 2103.0 L523.7 2114.9 L524.8 2126.3 L526.0 2133.0 L527.3 2136.1 L528.7 2138.2 L530.0 2139.0 L531.3 2133.8 L532.7 2121.7 L534.0 2108.0 L535.2 2094.0 L536.5 2077.3 L537.8 2059.7 L539.0 2043.0 L540.2 2026.8 L541.5 2010.5 L542.8 1995.4 L544.0 1983.0 L545.2 1972.7 L546.5 1963.4 L547.8 1955.7 L549.0 1950.5 L550.5 1946.2 L552.0 1942.7 L553.5 1940.2 L555.0 1939.0 L556.5 1938.6 L558.0 1938.3 L559.5 1938.1 L561.0 1938.0 L562.5 1938.4 L564.0 1939.5 L565.5 1941.0 L567.0 1942.7 L568.5 1944.3 L570.0 1945.5 L571.4 1946.4 L572.8 1947.4 L574.2 1948.4 L575.6 1949.3 L576.9 1950.2 L578.3 1950.9 L579.7 1951.5 L581.1 1951.9 L582.5 1952.0 L583.9 1951.9 L585.3 1951.5 L586.7 1951.0 L588.1 1950.4 L589.4 1949.7 L590.8 1949.0 L592.2 1948.2 L593.6 1947.6 L595.0 1947.0 L596.4 1946.5 L597.8 1946.0 L599.2 1945.6 L600.6 1945.1 L601.9 1944.7 L603.3 1944.3 L604.7 1943.8 L606.1 1943.4 L607.5 1943.0 L608.9 1942.5 L610.3 1942.0 L611.8 1941.4 L613.2 1941.0 L614.6 1940.6 L616.0 1940.5 L617.5 1940.9 L619.0 1941.9 L620.5 1943.3 L622.0 1945.0 L623.5 1946.6 L625.0 1948.0 L626.4 1949.1 L627.8 1950.2 L629.2 1951.2 L630.6 1952.2 L631.9 1953.3 L633.3 1954.3 L634.7 1955.5 L636.1 1956.7 L637.5 1958.0 L638.9 1959.5 L640.3 1961.1 L641.7 1962.9 L643.1 1964.7 L644.4 1966.6 L645.8 1968.6 L647.2 1970.5 L648.6 1972.3 L650.0 1974.0 L651.5 1975.8 L653.0 1977.5 L654.5 1979.1 L656.0 1980.8 L657.5 1982.4 L659.0 1984.0 L660.5 1985.6 L662.0 1987.2 L663.5 1988.8 L665.0 1990.5 L666.5 1992.2 L667.9 1993.8 L669.4 1995.5 L670.8 1997.3 L672.3 1999.0 L673.8 2000.7 L675.2 2002.4 L676.7 2004.1 L678.1 2005.8 L679.6 2007.4 L681.0 2009.0 L682.5 2010.5 L684.0 2012.0 L685.5 2013.4 L687.0 2014.8 L688.5 2016.2 L690.0 2017.5 L691.5 2018.8 L693.0 2020.1 L694.5 2021.3 L696.0 2022.6 L697.5 2023.8 L699.0 2025.0 L700.5 2026.3 L702.0 2027.6 L703.5 2028.8 L705.0 2030.2 L706.5 2031.5 L708.0 2032.9 L709.5 2034.3 L711.0 2035.8 L712.5 2037.4 L714.0 2039.0 L715.4 2040.6 L716.8 2042.2 L718.2 2043.9 L719.6 2045.7 L720.9 2047.5 L722.3 2049.4 L723.7 2051.4 L725.1 2053.4 L726.5 2055.5 L727.9 2057.7 L729.3 2059.9 L730.7 2062.3 L732.1 2064.7 L733.4 2067.3 L734.8 2069.9 L736.2 2072.5 L737.6 2075.2 L739.0 2078.0 L740.4 2081.0 L741.9 2084.1 L743.3 2087.3 L744.7 2090.6 L746.1 2093.9 L747.6 2097.2 L749.0 2100.5 L750.4 2103.7 L751.9 2106.9 L753.3 2110.1 L754.7 2113.4 L756.1 2116.6 L757.6 2119.8 L759.0 2123.0 L760.4 2126.3 L761.9 2129.6 L763.3 2132.9 L764.7 2136.3 L766.1 2139.5 L767.6 2142.6 L769.0 2145.5 L770.4 2148.3 L771.9 2151.1 L773.3 2153.9 L774.7 2156.5 L776.1 2158.9 L777.6 2161.1 L779.0 2163.0 L780.4 2164.7 L781.9 2166.4 L783.3 2168.0 L784.7 2169.4 L786.1 2170.6 L787.6 2171.5 L789.0 2172.0 L790.5 2172.3 L792.0 2172.6 L793.5 2172.8 L795.0 2172.9 L796.5 2173.0 L798.0 2172.6 L799.5 2171.7 L801.0 2170.3 L802.5 2168.6 L804.0 2167.0 L805.4 2165.3 L806.9 2163.2 L808.3 2160.9 L809.7 2158.4 L811.1 2155.8 L812.6 2153.1 L814.0 2150.5 L815.4 2147.8 L816.9 2145.0 L818.3 2142.1 L819.7 2139.1 L821.1 2136.1 L822.6 2133.3 L824.0 2130.5 L825.4 2127.8 L826.9 2125.2 L828.3 2122.5 L829.7 2120.0 L831.1 2117.5 L832.6 2115.2 L834.0 2113.0 L835.4 2110.9 L836.9 2108.8 L838.3 2106.8 L839.7 2104.9 L841.1 2103.2 L842.6 2101.7 L844.0 2100.5 L845.4 2099.5 L846.9 2098.6 L848.3 2097.7 L849.7 2097.0 L851.1 2096.4 L852.6 2095.9 L854.0 2095.5 L855.5 2095.2 L857.0 2094.9 L858.5 2094.7 L860.0 2094.6 L861.5 2094.5 L862.9 2094.6 L864.4 2094.9 L865.8 2095.4 L867.2 2096.0 L868.6 2096.6 L870.1 2097.3 L871.5 2098.0 L872.9 2098.7 L874.3 2099.6 L875.7 2100.5 L877.1 2101.5 L878.4 2102.6 L879.8 2103.7 L881.2 2104.8 L882.6 2105.9 L884.0 2107.0 L885.4 2108.1 L886.8 2109.2 L888.2 2110.3 L889.6 2111.4 L890.9 2112.5 L892.3 2113.6 L893.7 2114.8 L895.1 2115.9 L896.5 2117.0 L897.9 2118.2 L899.3 2119.5 L900.7 2120.8 L902.1 2122.1 L903.4 2123.4 L904.8 2124.6 L906.2 2125.6 L907.6 2126.4 L909.0 2127.0 L910.4 2127.4 L911.9 2127.9 L913.3 2128.2 L914.7 2128.5 L916.1 2128.8 L917.6 2128.9 L919.0 2129.0 L920.5 2128.5 L922.0 2127.2 L923.5 2125.2 L925.0 2122.9 L926.5 2120.5 L927.8 2118.2 L929.0 2115.3 L930.2 2111.9 L931.5 2108.0 L932.8 2103.0 L934.0 2096.8 L935.2 2090.0 L936.5 2083.0 L937.8 2075.9 L939.0 2068.3 L940.2 2060.6 L941.5 2053.0 L942.8 2045.4 L944.0 2037.7 L945.2 2030.1 L946.5 2023.0 L947.8 2016.4 L949.0 2010.1 L950.2 2004.0 L951.5 1998.0 L952.8 1992.1 L954.0 1986.4 L955.2 1980.9 L956.5 1975.5 L957.8 1970.3 L959.0 1965.1 L960.2 1960.2 L961.5 1955.5 L963.0 1950.1 L964.5 1944.8 L966.0 1939.8 L967.5 1935.0 L969.0 1930.5 L970.4 1926.5 L971.9 1922.7 L973.3 1919.1 L974.7 1915.6 L976.1 1912.2 L977.6 1908.9 L979.0 1905.5 L980.4 1902.1 L981.9 1898.7 L983.3 1895.4 L984.7 1892.1 L986.1 1888.9 L987.6 1885.9 L989.0 1883.0 L990.4 1880.2 L991.9 1877.5 L993.3 1875.0 L994.7 1872.5 L996.1 1870.0 L997.6 1867.7 L999.0 1865.5 L1000.4 1863.4 L1001.9 1861.4 L1003.3 1859.5 L1004.7 1857.6 L1006.1 1855.8 L1007.6 1853.9 L1009.0 1852.0 L1010.4 1850.0 L1011.9 1847.9 L1013.3 1845.8 L1014.7 1843.7 L1016.1 1841.7 L1017.6 1839.8 L1019.0 1838.0 L1020.4 1836.4 L1021.9 1834.9 L1023.3 1833.5 L1024.7 1832.1 L1026.1 1830.8 L1027.6 1829.4 L1029.0 1828.0 L1030.4 1826.5 L1031.9 1825.0 L1033.3 1823.5 L1034.7 1821.9 L1036.1 1820.5 L1037.6 1819.2 L1039.0 1818.0 L1040.4 1816.9 L1041.9 1815.9 L1043.3 1814.8 L1044.7 1813.9 L1046.1 1813.1 L1047.6 1812.5 L1049.0 1812.0 L1050.4 1811.7 L1051.9 1811.5 L1053.3 1811.3 L1054.7 1811.1 L1056.1 1811.0 L1057.6 1810.8 L1059.0 1810.5 L1060.4 1810.0 L1061.9 1809.4 L1063.3 1808.6 L1064.7 1807.8 L1066.1 1807.2 L1067.6 1806.7 L1069.0 1806.5 L1070.4 1806.5 L1071.9 1806.7 L1073.3 1806.9 L1074.7 1807.1 L1076.1 1807.4 L1077.6 1807.7 L1079.0 1808.0 L1080.4 1808.3 L1081.8 1808.7 L1083.2 1809.2 L1084.6 1809.7 L1085.9 1810.3 L1087.3 1810.9 L1088.7 1811.6 L1090.1 1812.3 L1091.5 1813.0 L1092.9 1813.8 L1094.3 1814.7 L1095.7 1815.7 L1097.1 1816.8 L1098.4 1818.0 L1099.8 1819.2 L1101.2 1820.4 L1102.6 1821.7 L1104.0 1823.0 L1105.4 1824.4 L1106.9 1825.8 L1108.3 1827.3 L1109.7 1828.9 L1111.1 1830.6 L1112.6 1832.3 L1114.0 1834.0 L1115.4 1835.8 L1116.9 1837.6 L1118.3 1839.4 L1119.7 1841.4 L1121.1 1843.4 L1122.6 1845.6 L1124.0 1848.0 L1125.4 1850.7 L1126.9 1853.6 L1128.3 1856.9 L1129.7 1860.2 L1131.1 1863.7 L1132.6 1867.1 L1134.0 1870.5 L1135.5 1874.0 L1137.0 1877.6 L1138.5 1881.2 L1140.0 1884.7 L1141.5 1888.0 L1143.0 1891.3 L1144.5 1894.7 L1146.0 1898.0 L1147.5 1900.8 L1149.0 1903.0 L1150.5 1904.7 L1152.0 1906.3 L1153.5 1907.6 L1155.0 1908.7 L1156.5 1909.5 L1158.0 1910.1 L1159.5 1910.6 L1161.0 1911.1 L1162.5 1911.4 L1164.0 1911.5 L1165.5 1911.1 L1167.0 1910.1 L1168.5 1908.6 L1170.0 1907.0 L1171.5 1905.5 L1173.0 1903.9 L1174.5 1902.2 L1176.0 1900.3 L1177.5 1898.5 L1179.0 1897.0 L1180.2 1895.7 L1181.5 1894.4 L1182.8 1893.4 L1184.0 1893.0 L1185.5 1893.4 L1187.0 1894.6 L1188.5 1896.2 L1190.0 1898.0 L1191.3 1900.3 L1192.6 1903.6 L1193.9 1907.5 L1195.2 1911.6 L1196.5 1915.5 L1198.0 1919.7 L1199.5 1924.0 L1201.0 1928.4 L1202.5 1933.0 L1204.0 1938.0 L1205.5 1943.3 L1207.0 1949.0 L1208.5 1955.1 L1210.0 1961.4 L1211.5 1968.0 L1212.8 1973.7 L1214.0 1979.7 L1215.2 1986.0 L1216.5 1993.0 L1217.8 2000.9 L1219.0 2009.8 L1220.2 2019.0 L1221.5 2028.0 L1222.8 2037.2 L1224.0 2046.7 L1225.2 2055.6 L1226.5 2063.0 L1227.8 2069.0 L1229.0 2074.3 L1230.2 2079.0 L1231.5 2083.0 L1233.0 2087.1 L1234.5 2090.5 L1236.0 2093.7 L1237.5 2096.9 L1239.0 2100.5 L1240.5 2104.6 L1242.0 2109.0 L1243.5 2113.6 L1245.0 2118.3 L1246.5 2123.0 L1248.0 2128.0 L1249.5 2133.4 L1251.0 2138.7 L1252.5 2143.7 L1254.0 2148.0 L1255.5 2151.8 L1257.0 2155.3 L1258.5 2158.3 L1260.0 2160.5 L1261.2 2161.9 L1262.5 2163.2 L1263.8 2164.1 L1265.0 2164.5 L1266.3 2164.0 L1267.6 2162.5 L1268.9 2160.5 L1270.2 2158.0 L1271.5 2155.5 L1272.8 2152.7 L1274.1 2149.1 L1275.4 2145.0 L1276.7 2140.5 L1278.0 2135.5 L1279.5 2128.8 L1281.0 2120.8 L1282.5 2112.1 L1284.0 2103.0 L1285.3 2094.6 L1286.7 2085.6 L1288.0 2076.2 L1289.3 2066.7 L1290.7 2057.2 L1292.0 2048.0 L1293.5 2037.7 L1295.0 2027.4 L1296.5 2017.1 L1298.0 2007.3 L1299.5 1998.0 L1301.0 1989.3 L1302.5 1981.0 L1304.0 1973.0 L1305.5 1965.3 L1307.0 1958.0 L1308.5 1950.8 L1310.0 1943.6 L1311.5 1936.8 L1313.0 1930.6 L1314.5 1925.5 L1316.0 1921.3 L1317.5 1917.6 L1319.0 1914.3 L1320.5 1911.2 L1322.0 1908.0 L1323.4 1904.9 L1324.9 1902.0 L1326.3 1899.1 L1327.7 1896.2 L1329.1 1893.4 L1330.6 1890.7 L1332.0 1888.0 L1333.4 1885.3 L1334.9 1882.4 L1336.3 1879.6 L1337.7 1876.9 L1339.1 1874.4 L1340.6 1872.2 L1342.0 1870.5 L1343.4 1869.1 L1344.9 1867.9 L1346.3 1866.9 L1347.7 1865.9 L1349.1 1865.0 L1350.6 1864.0 L1352.0 1863.0 L1353.4 1862.0 L1354.9 1861.0 L1356.3 1860.0 L1357.7 1859.0 L1359.1 1857.9 L1360.6 1856.8 L1362.0 1855.5 L1363.4 1853.9 L1364.9 1852.1 L1366.3 1850.0 L1367.7 1847.9 L1369.1 1846.0 L1370.6 1844.3 L1372.0 1843.0 L1373.4 1842.1 L1374.9 1841.3 L1376.3 1840.6 L1377.7 1840.0 L1379.1 1839.4 L1380.6 1838.7 L1382.0 1838.0 L1383.4 1837.1 L1384.9 1836.0 L1386.3 1834.9 L1387.7 1833.8 L1389.1 1832.9 L1390.6 1832.2 L1392.0 1832.0 L1393.2 1832.0 L1394.5 1832.0 L1395.8 1832.0 L1397.0 1832.0 L1398.5 1832.7 L1400.0 1834.7 L1401.5 1837.3 L1403.0 1840.2 L1404.5 1843.0 L1406.0 1845.8 L1407.5 1849.0 L1409.0 1852.3 L1410.5 1855.4 L1412.0 1858.0 L1413.5 1860.3 L1415.0 1862.4 L1416.5 1864.3 L1418.0 1865.9 L1419.5 1867.0 L1421.0 1867.8 L1422.5 1868.4 L1424.0 1869.0 L1425.5 1869.4 L1427.0 1869.5 L1428.5 1869.3 L1430.0 1868.9 L1431.5 1868.2 L1433.0 1867.6 L1434.5 1867.2 L1436.0 1867.0 L1437.5 1867.4 L1439.0 1868.4 L1440.5 1869.6 L1442.0 1870.5 L1443.5 1871.2 L1445.0 1871.8 L1446.5 1872.4 L1448.0 1872.8 L1449.5 1873.0 L1450.9 1872.8 L1452.4 1872.3 L1453.8 1871.5 L1455.2 1870.5 L1456.6 1869.3 L1458.1 1868.1 L1459.5 1867.0 L1461.0 1865.4 L1462.5 1863.3 L1464.0 1861.3 L1465.5 1859.6 L1467.0 1859.0 L1468.2 1860.8 L1469.5 1864.8 L1470.8 1868.7 L1472.0 1870.5 L1473.2 1869.3 L1474.5 1866.8 L1475.8 1864.2 L1477.0 1863.0 L1478.5 1863.1 L1480.0 1863.4 L1481.5 1863.6 L1483.0 1863.9 L1484.5 1864.0 L1485.8 1863.9 L1487.0 1863.7 L1488.2 1863.4 L1489.5 1863.0 L1490.8 1860.2 L1492.0 1854.5 L1493.2 1848.0 L1494.5 1843.0 L1496.0 1839.2 L1497.5 1835.9 L1499.0 1833.0 L1500.5 1830.4 L1502.0 1828.0 L1503.5 1825.7 L1505.0 1823.5 L1506.5 1821.5 L1508.0 1819.7 L1509.5 1818.0 L1510.8 1816.5 L1512.1 1814.9 L1513.4 1813.4 L1514.7 1812.4 L1516.0 1812.0 L1517.4 1812.4 L1518.8 1813.4 L1520.2 1814.8 L1521.7 1816.2 L1523.1 1817.3 L1524.5 1818.0 L1526.0 1818.3 L1527.5 1818.6 L1529.0 1818.8 L1530.5 1818.9 L1532.0 1819.0 L1533.4 1818.9 L1534.9 1818.8 L1536.3 1818.6 L1537.7 1818.4 L1539.1 1818.2 L1540.6 1818.1 L1542.0 1818.0 L1543.5 1818.3 L1545.0 1818.9 L1546.5 1819.6 L1548.0 1820.2 L1549.5 1820.5 L1551.0 1820.1 L1552.5 1819.2 L1554.0 1818.0 L1555.5 1816.7 L1557.0 1815.5 L1558.5 1814.3 L1560.0 1813.0 L1561.5 1811.8 L1563.0 1810.9 L1564.5 1810.5 L1566.0 1811.1 L1567.5 1812.4 L1569.0 1814.2 L1570.5 1815.8 L1572.0 1817.0 L1573.4 1817.6 L1574.9 1818.2 L1576.3 1818.6 L1577.7 1819.0 L1579.1 1819.4 L1580.6 1819.9 L1582.0 1820.5 L1583.4 1821.2 L1584.9 1822.0 L1586.3 1823.0 L1587.7 1823.9 L1589.1 1825.0 L1590.6 1826.0 L1592.0 1827.0 L1593.4 1828.1 L1594.9 1829.5 L1596.3 1830.9 L1597.7 1832.3 L1599.1 1833.4 L1600.6 1834.2 L1602.0 1834.5 L1603.5 1834.5 L1605.0 1834.4 L1606.5 1834.3 L1608.0 1834.2 L1609.5 1834.0 L1610.9 1833.6 L1612.3 1833.0 L1613.8 1832.1 L1615.2 1831.3 L1616.6 1830.7 L1618.0 1830.5 L1619.3 1831.0 L1620.6 1832.3 L1621.9 1834.1 L1623.2 1836.1 L1624.5 1838.0 L1626.0 1840.1 L1627.5 1842.3 L1629.0 1844.7 L1630.5 1847.4 L1632.0 1850.5 L1633.2 1853.8 L1634.5 1857.8 L1635.8 1862.0 L1637.0 1865.5 L1638.5 1869.1 L1640.0 1872.4 L1641.5 1875.5 L1643.0 1878.2 L1644.5 1880.5 L1646.0 1882.6 L1647.5 1884.6 L1649.0 1886.3 L1650.5 1887.5 L1652.0 1888.0 L1653.2 1887.6 L1654.5 1886.8 L1655.8 1885.9 L1657.0 1885.5 L1658.5 1886.0 L1660.0 1887.4 L1661.5 1889.2 L1663.0 1891.2 L1664.5 1893.0 L1665.8 1894.7 L1667.1 1896.6 L1668.4 1898.5 L1669.7 1899.9 L1671.0 1900.5 L1672.5 1900.0 L1674.0 1898.7 L1675.5 1897.0 L1677.0 1895.5 L1678.5 1893.9 L1680.0 1891.9 L1681.5 1890.0 L1683.0 1888.6 L1684.5 1888.0 L1685.8 1888.3 L1687.1 1888.9 L1688.4 1889.6 L1689.7 1890.2 L1691.0 1890.5 L1692.5 1888.8 L1694.0 1884.8 L1695.5 1879.9 L1697.0 1875.5 L1698.5 1871.8 L1700.0 1868.0 L1701.5 1864.3 L1703.0 1860.9 L1704.5 1858.0 L1706.0 1855.4 L1707.5 1853.0 L1709.0 1850.8 L1710.5 1849.1 L1712.0 1848.0 L1713.4 1847.5 L1714.9 1847.1 L1716.3 1846.8 L1717.7 1846.5 L1719.1 1846.3 L1720.6 1846.0 L1722.0 1845.5 L1723.5 1844.7 L1725.0 1843.7 L1726.5 1842.5 L1728.0 1841.4 L1729.5 1840.5 L1731.0 1839.7 L1732.5 1838.9 L1734.0 1838.2 L1735.5 1838.0 L1736.8 1838.8 L1738.1 1840.6 L1739.4 1842.9 L1740.7 1844.7 L1742.0 1845.5 L1743.5 1845.5 L1745.0 1845.5 L1746.5 1845.5 L1748.0 1845.5 L1749.5 1845.5 L1751.0 1845.9 L1752.5 1846.9 L1754.0 1848.2 L1755.5 1849.5 L1757.0 1850.5 L1758.4 1851.1 L1759.9 1851.6 L1761.3 1852.0 L1762.7 1852.4 L1764.1 1852.8 L1765.6 1853.4 L1767.0 1854.0 L1768.2 1855.0 L1769.5 1856.3 L1770.8 1857.5 L1772.0 1858.0 L1773.5 1857.4 L1775.0 1856.0 L1776.5 1854.6 L1778.0 1854.0 L1779.3 1854.7 L1780.6 1856.6 L1781.9 1859.2 L1783.2 1862.3 L1784.5 1865.5 L1785.8 1869.0 L1787.0 1873.4 L1788.2 1878.2 L1789.5 1883.0 L1790.8 1887.8 L1792.0 1892.8 L1793.2 1897.9 L1794.5 1903.0 L1795.8 1908.8 L1797.0 1913.0 L1798.5 1914.6 L1800.0 1915.5 L1801.5 1916.2 L1803.0 1916.9 L1804.5 1918.0 L1806.0 1919.6 L1807.5 1921.5 L1809.0 1923.7 L1810.5 1925.9 L1812.0 1928.0 L1813.5 1930.1 L1815.0 1932.2 L1816.5 1934.4 L1818.0 1936.3 L1819.5 1938.0 L1821.0 1939.6 L1822.5 1941.2 L1824.0 1942.6 L1825.5 1943.6 L1827.0 1944.0 L1828.5 1943.6 L1830.0 1942.8 L1831.5 1941.7 L1833.0 1940.9 L1834.5 1940.5 L1836.0 1940.5 L1837.5 1940.5 L1839.0 1940.5 L1840.5 1940.5 L1842.0 1940.5 L1843.4 1940.4 L1844.9 1940.1 L1846.3 1939.7 L1847.7 1939.1 L1849.1 1938.4 L1850.6 1937.7 L1852.0 1937.0 L1853.5 1936.0 L1855.0 1934.7 L1856.5 1933.2 L1858.0 1931.8 L1859.5 1930.5 L1861.0 1929.4 L1862.5 1928.5 L1864.0 1927.5 L1865.5 1926.6 L1867.0 1925.5 L1868.3 1924.1 L1869.7 1922.7 L1871.0 1922.0 L1872.5 1923.3 L1874.0 1926.7 L1875.5 1931.1 L1877.0 1935.5 L1878.2 1939.4 L1879.5 1943.8 L1880.8 1948.5 L1882.0 1953.0 L1883.2 1957.5 L1884.5 1962.1 L1885.8 1966.5 L1887.0 1970.5 L1888.2 1974.2 L1889.5 1977.7 L1890.8 1980.7 L1892.0 1983.0 L1893.5 1984.9 L1895.0 1986.3 L1896.5 1987.5 L1898.0 1988.8 L1899.5 1990.5 L1900.8 1992.7 L1902.2 1995.3 L1903.5 1998.0" stroke="#7f00ff"/>
</g>
<g fill="#000"><rect x="145.70" y="1554.10" width="8.20" height="1291.90"/><rect x="1899.80" y="1554.10" width="6.20" height="1291.90"/><rect x="145.70" y="1554.10" width="1760.30" height="6.20"/><rect x="145.70" y="2838.60" width="1760.30" height="7.40"/></g>
<line x1="309.6" y1="2842.3" x2="309.6" y2="2815.3" stroke="#000" stroke-width="6.8"/>
<line x1="468.9" y1="2842.3" x2="468.9" y2="2828.3" stroke="#000" stroke-width="6.8"/>
<line x1="628.3" y1="2842.3" x2="628.3" y2="2815.3" stroke="#000" stroke-width="6.8"/>
<line x1="787.6" y1="2842.3" x2="787.6" y2="2828.3" stroke="#000" stroke-width="6.8"/>
<line x1="946.9" y1="2842.3" x2="946.9" y2="2815.3" stroke="#000" stroke-width="6.8"/>
<line x1="1106.2" y1="2842.3" x2="1106.2" y2="2828.3" stroke="#000" stroke-width="6.8"/>
<line x1="1265.6" y1="2842.3" x2="1265.6" y2="2815.3" stroke="#000" stroke-width="6.8"/>
<line x1="1424.9" y1="2842.3" x2="1424.9" y2="2828.3" stroke="#000" stroke-width="6.8"/>
<line x1="1584.2" y1="2842.3" x2="1584.2" y2="2815.3" stroke="#000" stroke-width="6.8"/>
<line x1="1743.6" y1="2842.3" x2="1743.6" y2="2828.3" stroke="#000" stroke-width="6.8"/>
<line x1="532.5" y1="1917.0" x2="532.5" y2="2762.0" stroke="#ff8614" stroke-opacity="0.66" stroke-width="4.7"/>
<line x1="582.5" y1="1900.5" x2="582.5" y2="2660.0" stroke="#ff8614" stroke-opacity="0.66" stroke-width="4.7"/>
<line x1="792.5" y1="2096.5" x2="792.5" y2="2799.5" stroke="#ff8614" stroke-opacity="0.66" stroke-width="4.7"/>
<line x1="919.5" y1="2064.0" x2="919.5" y2="2773.5" stroke="#ff8614" stroke-opacity="0.66" stroke-width="4.7"/>
<line x1="1163.5" y1="1849.5" x2="1163.5" y2="2737.0" stroke="#ff8614" stroke-opacity="0.66" stroke-width="4.7"/>
<line x1="1266.0" y1="2028.0" x2="1266.0" y2="2806.0" stroke="#ff8614" stroke-opacity="0.66" stroke-width="4.7"/>
<line x1="1671.5" y1="1834.0" x2="1671.5" y2="2664.5" stroke="#ff8614" stroke-opacity="0.66" stroke-width="4.7"/>
<line x1="1825.5" y1="1879.0" x2="1825.5" y2="2676.0" stroke="#ff8614" stroke-opacity="0.66" stroke-width="4.7"/>
</g>
<g font-family="'Liberation Serif', serif" fill="#000">
<text x="18" y="102" font-size="80" font-weight="bold">A</text>
<text x="40" y="1633" font-size="80" font-weight="bold">B</text>
<text x="147.2" y="1413.5" font-size="73" font-weight="bold" text-anchor="middle">4000</text>
<text x="342.9" y="1413.5" font-size="73" font-weight="bold" text-anchor="middle">3600</text>
<text x="538.7" y="1413.5" font-size="73" font-weight="bold" text-anchor="middle">3200</text>
<text x="734.4" y="1413.5" font-size="73" font-weight="bold" text-anchor="middle">2800</text>
<text x="930.2" y="1413.5" font-size="73" font-weight="bold" text-anchor="middle">2400</text>
<text x="1125.9" y="1413.5" font-size="73" font-weight="bold" text-anchor="middle">2000</text>
<text x="1321.6" y="1413.5" font-size="73" font-weight="bold" text-anchor="middle">1600</text>
<text x="1517.4" y="1413.5" font-size="73" font-weight="bold" text-anchor="middle">1200</text>
<text x="1713.1" y="1413.5" font-size="73" font-weight="bold" text-anchor="middle">800</text>
<text x="1908.9" y="1413.5" font-size="73" font-weight="bold" text-anchor="middle">400</text>
<text x="309.6" y="2927.5" font-size="74" font-weight="bold" text-anchor="middle">1400</text>
<text x="628.3" y="2927.5" font-size="74" font-weight="bold" text-anchor="middle">1200</text>
<text x="946.9" y="2927.5" font-size="74" font-weight="bold" text-anchor="middle">1000</text>
<text x="1265.6" y="2927.5" font-size="74" font-weight="bold" text-anchor="middle">800</text>
<text x="1584.2" y="2927.5" font-size="74" font-weight="bold" text-anchor="middle">600</text>
<text x="1902.9" y="2927.5" font-size="74" font-weight="bold" text-anchor="middle">400</text>
<text x="698.3" y="1505.5" font-size="80" font-weight="bold" textLength="672.4" lengthAdjust="spacing">Wavenumber (cm<tspan dy="-41" font-size="41">-1</tspan><tspan dy="41">)</tspan></text>
<text x="698.3" y="3018.5" font-size="80" font-weight="bold" textLength="669.7" lengthAdjust="spacing">Wavenumber (cm<tspan dy="-41" font-size="41">-1</tspan><tspan dy="41">)</tspan></text>
<text transform="translate(107.0,707.5) rotate(-90)" font-size="80" font-weight="bold" text-anchor="middle" textLength="577" lengthAdjust="spacing">Absorbance(a.u.)</text>
<text transform="translate(111.0,2222.5) rotate(-90)" font-size="80" font-weight="bold" text-anchor="middle" textLength="574" lengthAdjust="spacing">Absorbance(a.u.)</text>
<text x="629.0" y="355.7" font-size="61.5" textLength="118.5" lengthAdjust="spacingAndGlyphs">2907</text>
<text x="592.5" y="1234.7" font-size="61.5" textLength="117.5" lengthAdjust="spacingAndGlyphs">2964</text>
<text x="1421.0" y="258.2" font-size="61.5" textLength="106.0" lengthAdjust="spacingAndGlyphs">1231</text>
<text x="1529.5" y="398.2" font-size="61.5" textLength="110.0" lengthAdjust="spacingAndGlyphs">1019</text>
<text x="1349.5" y="445.7" font-size="61.5" textLength="107.5" lengthAdjust="spacingAndGlyphs">1097</text>
<text x="1598.5" y="123.2" font-size="61.5" textLength="86.0" lengthAdjust="spacingAndGlyphs">865</text>
<text x="1699.5" y="181.7" font-size="61.5" textLength="80.0" lengthAdjust="spacingAndGlyphs">801</text>
<text x="1777.0" y="391.7" font-size="61.5" textLength="85.0" lengthAdjust="spacingAndGlyphs">545</text>
<text x="1813.0" y="992.2" font-size="61.5" textLength="89.0" lengthAdjust="spacingAndGlyphs">444</text>
<text x="1366.0" y="1282.2" font-size="61.5" textLength="112.0" lengthAdjust="spacingAndGlyphs">1262</text>
<text x="530.0" y="1887.7" font-size="61.5" textLength="107.5" lengthAdjust="spacingAndGlyphs">1231</text>
<text x="746.5" y="2083.7" font-size="61.5" textLength="107.5" lengthAdjust="spacingAndGlyphs">1097</text>
<text x="1131.5" y="1833.7" font-size="61.5" textLength="83.5" lengthAdjust="spacingAndGlyphs">865</text>
<text x="1220.0" y="2014.7" font-size="61.5" textLength="79.0" lengthAdjust="spacingAndGlyphs">801</text>
<text x="1638.0" y="1822.2" font-size="61.5" textLength="84.0" lengthAdjust="spacingAndGlyphs">545</text>
<text x="1793.0" y="1863.7" font-size="61.5" textLength="88.0" lengthAdjust="spacingAndGlyphs">444</text>
<text x="472.5" y="2807.7" font-size="61.5" textLength="112.5" lengthAdjust="spacingAndGlyphs">1262</text>
<text x="936.5" y="2805.7" font-size="61.5" textLength="112.5" lengthAdjust="spacingAndGlyphs">1019</text>
<text x="230.5" y="451.5" font-size="61">f</text>
<text x="225.0" y="589.5" font-size="61">e</text>
<text x="232.0" y="809.0" font-size="61">d</text>
<text x="236.5" y="912.5" font-size="61">c</text>
<text x="240.0" y="1084.0" font-size="61">b</text>
<text x="241.0" y="1179.0" font-size="61">a</text>
<text x="209.0" y="1945.5" font-size="61">f</text>
<text x="206.0" y="2075.5" font-size="61">e</text>
<text x="202.5" y="2280.0" font-size="61">d</text>
<text x="205.0" y="2448.0" font-size="61">c</text>
<text x="211.0" y="2577.0" font-size="61">b</text>
<text x="212.0" y="2658.0" font-size="61">a</text>
</g>
</g>
</svg>
</body></html>
